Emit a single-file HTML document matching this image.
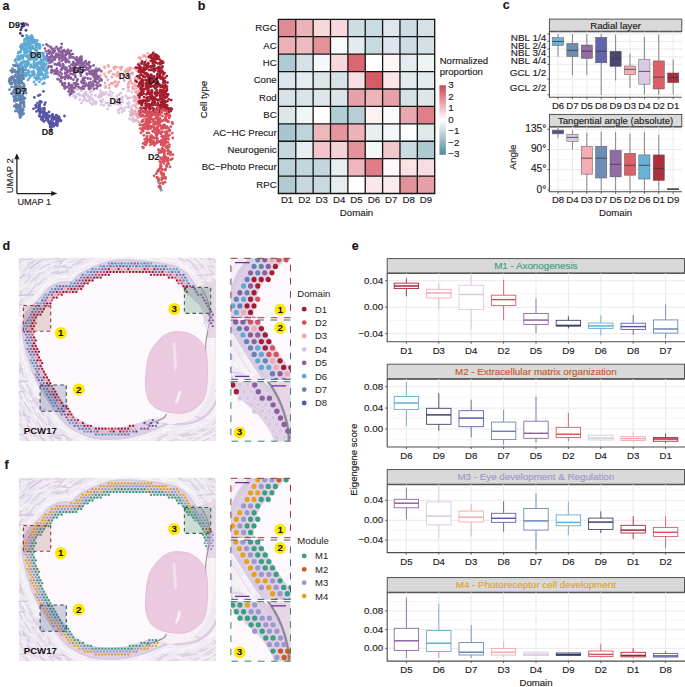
<!DOCTYPE html>
<html><head><meta charset="utf-8"><style>
html,body{margin:0;padding:0;background:#fff;}
svg{display:block;}
text{font-family:"Liberation Sans", sans-serif;}
</style></head><body>
<svg width="685" height="687" viewBox="0 0 685 687" font-family="Liberation Sans, sans-serif">
<rect width="685" height="687" fill="#fff"/>
<defs>
<clipPath id="imgclip"><rect x="18.8" y="257.8" width="197.1" height="183.2"/></clipPath>
<g id="tbase">
<rect x="18.8" y="257.8" width="197.1" height="183.2" fill="#efe9f1"/>
<path d="M58.1 357.5l9.8 0.7" stroke="#fbf9fc" stroke-opacity="0.6" stroke-width="1.1" stroke-linecap="round"/>
<path d="M134.2 424.3l11.1 0.4" stroke="#d6c6de" stroke-opacity="0.6" stroke-width="1.6" stroke-linecap="round"/>
<path d="M106.2 411.0l11.1 1.1" stroke="#d6c6de" stroke-opacity="0.6" stroke-width="0.8" stroke-linecap="round"/>
<path d="M40.2 427.4l9.5 -3.4" stroke="#cdbad7" stroke-opacity="0.6" stroke-width="0.7" stroke-linecap="round"/>
<path d="M207.1 265.6l14.8 3.4" stroke="#c4afd0" stroke-opacity="0.6" stroke-width="1.0" stroke-linecap="round"/>
<path d="M157.7 418.8l13.7 4.1" stroke="#e0d4e6" stroke-opacity="0.6" stroke-width="1.3" stroke-linecap="round"/>
<path d="M128.3 434.4l6.7 -0.6" stroke="#cdbad7" stroke-opacity="0.6" stroke-width="0.6" stroke-linecap="round"/>
<path d="M53.7 434.7l10.6 0.9" stroke="#c4afd0" stroke-opacity="0.6" stroke-width="1.0" stroke-linecap="round"/>
<path d="M181.4 363.0l11.9 -0.8" stroke="#d6c6de" stroke-opacity="0.6" stroke-width="1.5" stroke-linecap="round"/>
<path d="M150.0 428.0l15.2 5.4" stroke="#fbf9fc" stroke-opacity="0.6" stroke-width="1.3" stroke-linecap="round"/>
<path d="M153.5 317.6l12.0 0.6" stroke="#cdbad7" stroke-opacity="0.6" stroke-width="1.3" stroke-linecap="round"/>
<path d="M52.5 410.2l12.3 -1.9" stroke="#cdbad7" stroke-opacity="0.6" stroke-width="1.0" stroke-linecap="round"/>
<path d="M141.1 346.4l9.0 -2.8" stroke="#d6c6de" stroke-opacity="0.6" stroke-width="0.5" stroke-linecap="round"/>
<path d="M97.3 333.9l6.5 0.5" stroke="#cdbad7" stroke-opacity="0.6" stroke-width="0.9" stroke-linecap="round"/>
<path d="M130.2 358.7l16.8 -2.6" stroke="#d6c6de" stroke-opacity="0.6" stroke-width="1.6" stroke-linecap="round"/>
<path d="M72.9 271.9l12.1 -4.1" stroke="#d6c6de" stroke-opacity="0.6" stroke-width="1.6" stroke-linecap="round"/>
<path d="M69.2 306.0l13.2 4.6" stroke="#c4afd0" stroke-opacity="0.6" stroke-width="0.8" stroke-linecap="round"/>
<path d="M207.3 422.1l9.9 -0.3" stroke="#faf8fb" stroke-opacity="0.6" stroke-width="0.9" stroke-linecap="round"/>
<path d="M188.3 382.6l6.0 2.1" stroke="#faf8fb" stroke-opacity="0.6" stroke-width="0.8" stroke-linecap="round"/>
<path d="M140.2 388.9l17.2 -0.8" stroke="#c4afd0" stroke-opacity="0.6" stroke-width="1.1" stroke-linecap="round"/>
<path d="M122.4 259.9l10.4 0.6" stroke="#cdbad7" stroke-opacity="0.6" stroke-width="0.9" stroke-linecap="round"/>
<path d="M130.8 282.2l13.1 -1.5" stroke="#c4afd0" stroke-opacity="0.6" stroke-width="1.2" stroke-linecap="round"/>
<path d="M81.8 387.3l13.8 -4.8" stroke="#cdbad7" stroke-opacity="0.6" stroke-width="1.6" stroke-linecap="round"/>
<path d="M13.2 325.4l13.0 -1.8" stroke="#faf8fb" stroke-opacity="0.6" stroke-width="0.9" stroke-linecap="round"/>
<path d="M84.2 315.1l9.8 0.7" stroke="#c4afd0" stroke-opacity="0.6" stroke-width="1.4" stroke-linecap="round"/>
<path d="M30.5 406.8l17.5 2.3" stroke="#d6c6de" stroke-opacity="0.6" stroke-width="0.8" stroke-linecap="round"/>
<path d="M54.9 405.1l7.9 -1.8" stroke="#e0d4e6" stroke-opacity="0.6" stroke-width="1.2" stroke-linecap="round"/>
<path d="M28.9 367.9l17.2 2.1" stroke="#d6c6de" stroke-opacity="0.6" stroke-width="1.0" stroke-linecap="round"/>
<path d="M186.0 288.8l9.3 1.0" stroke="#faf8fb" stroke-opacity="0.6" stroke-width="1.0" stroke-linecap="round"/>
<path d="M55.4 280.0l11.6 -2.6" stroke="#faf8fb" stroke-opacity="0.6" stroke-width="0.7" stroke-linecap="round"/>
<path d="M66.5 405.7l13.0 2.8" stroke="#c4afd0" stroke-opacity="0.6" stroke-width="1.1" stroke-linecap="round"/>
<path d="M96.0 352.8l16.0 -0.4" stroke="#fbf9fc" stroke-opacity="0.6" stroke-width="1.0" stroke-linecap="round"/>
<path d="M95.7 332.8l16.5 -4.0" stroke="#cdbad7" stroke-opacity="0.6" stroke-width="1.0" stroke-linecap="round"/>
<path d="M181.2 371.9l11.6 0.5" stroke="#fbf9fc" stroke-opacity="0.6" stroke-width="0.7" stroke-linecap="round"/>
<path d="M163.2 411.1l13.6 0.2" stroke="#c4afd0" stroke-opacity="0.6" stroke-width="1.1" stroke-linecap="round"/>
<path d="M193.1 415.6l15.3 5.2" stroke="#cdbad7" stroke-opacity="0.6" stroke-width="1.4" stroke-linecap="round"/>
<path d="M18.1 423.3l13.4 4.1" stroke="#e0d4e6" stroke-opacity="0.6" stroke-width="1.1" stroke-linecap="round"/>
<path d="M11.5 394.3l7.2 -1.0" stroke="#fbf9fc" stroke-opacity="0.6" stroke-width="0.5" stroke-linecap="round"/>
<path d="M120.0 267.6l16.3 -4.5" stroke="#d6c6de" stroke-opacity="0.6" stroke-width="0.8" stroke-linecap="round"/>
<path d="M187.3 345.2l15.1 -1.6" stroke="#d6c6de" stroke-opacity="0.6" stroke-width="0.6" stroke-linecap="round"/>
<path d="M192.6 279.6l8.0 -1.3" stroke="#d6c6de" stroke-opacity="0.6" stroke-width="1.4" stroke-linecap="round"/>
<path d="M10.4 373.0l15.4 -5.0" stroke="#c4afd0" stroke-opacity="0.6" stroke-width="0.8" stroke-linecap="round"/>
<path d="M136.8 353.0l5.6 -0.7" stroke="#cdbad7" stroke-opacity="0.6" stroke-width="1.4" stroke-linecap="round"/>
<path d="M169.4 266.3l5.6 -0.1" stroke="#cdbad7" stroke-opacity="0.6" stroke-width="1.4" stroke-linecap="round"/>
<path d="M26.6 349.8l9.0 -1.2" stroke="#c4afd0" stroke-opacity="0.6" stroke-width="0.9" stroke-linecap="round"/>
<path d="M89.5 313.5l8.0 2.8" stroke="#e0d4e6" stroke-opacity="0.6" stroke-width="0.6" stroke-linecap="round"/>
<path d="M123.8 389.0l9.5 -2.9" stroke="#d6c6de" stroke-opacity="0.6" stroke-width="0.5" stroke-linecap="round"/>
<path d="M104.2 376.9l12.0 1.1" stroke="#cdbad7" stroke-opacity="0.6" stroke-width="1.2" stroke-linecap="round"/>
<path d="M98.2 326.0l11.3 1.6" stroke="#e0d4e6" stroke-opacity="0.6" stroke-width="1.5" stroke-linecap="round"/>
<path d="M95.4 261.1l7.7 -1.3" stroke="#faf8fb" stroke-opacity="0.6" stroke-width="0.6" stroke-linecap="round"/>
<path d="M96.8 335.8l15.7 4.9" stroke="#c4afd0" stroke-opacity="0.6" stroke-width="1.6" stroke-linecap="round"/>
<path d="M124.6 417.2l6.5 0.9" stroke="#fbf9fc" stroke-opacity="0.6" stroke-width="1.2" stroke-linecap="round"/>
<path d="M192.6 403.0l13.5 2.2" stroke="#faf8fb" stroke-opacity="0.6" stroke-width="1.1" stroke-linecap="round"/>
<path d="M176.9 389.1l11.0 -2.1" stroke="#e0d4e6" stroke-opacity="0.6" stroke-width="0.5" stroke-linecap="round"/>
<path d="M27.8 276.0l16.0 -3.7" stroke="#cdbad7" stroke-opacity="0.6" stroke-width="0.9" stroke-linecap="round"/>
<path d="M185.3 262.5l6.5 -0.1" stroke="#fbf9fc" stroke-opacity="0.6" stroke-width="1.5" stroke-linecap="round"/>
<path d="M128.7 404.1l5.4 1.0" stroke="#faf8fb" stroke-opacity="0.6" stroke-width="1.1" stroke-linecap="round"/>
<path d="M58.2 359.4l6.3 0.2" stroke="#faf8fb" stroke-opacity="0.6" stroke-width="0.9" stroke-linecap="round"/>
<path d="M125.6 409.5l7.9 -1.8" stroke="#d6c6de" stroke-opacity="0.6" stroke-width="1.0" stroke-linecap="round"/>
<path d="M153.8 430.5l8.3 0.6" stroke="#c4afd0" stroke-opacity="0.6" stroke-width="1.1" stroke-linecap="round"/>
<path d="M208.9 326.6l7.7 2.4" stroke="#fbf9fc" stroke-opacity="0.6" stroke-width="1.6" stroke-linecap="round"/>
<path d="M94.8 361.9l12.0 3.7" stroke="#fbf9fc" stroke-opacity="0.6" stroke-width="1.0" stroke-linecap="round"/>
<path d="M142.0 422.2l6.7 -1.9" stroke="#fbf9fc" stroke-opacity="0.6" stroke-width="1.0" stroke-linecap="round"/>
<path d="M153.5 432.0l12.2 3.1" stroke="#d6c6de" stroke-opacity="0.6" stroke-width="0.8" stroke-linecap="round"/>
<path d="M50.1 365.1l8.9 -1.7" stroke="#fbf9fc" stroke-opacity="0.6" stroke-width="1.1" stroke-linecap="round"/>
<path d="M170.2 380.8l16.1 1.1" stroke="#faf8fb" stroke-opacity="0.6" stroke-width="1.1" stroke-linecap="round"/>
<path d="M64.1 297.7l5.3 -0.1" stroke="#e0d4e6" stroke-opacity="0.6" stroke-width="0.7" stroke-linecap="round"/>
<path d="M126.8 301.6l10.9 2.8" stroke="#e0d4e6" stroke-opacity="0.6" stroke-width="1.6" stroke-linecap="round"/>
<path d="M108.1 367.5l10.8 2.6" stroke="#fbf9fc" stroke-opacity="0.6" stroke-width="1.1" stroke-linecap="round"/>
<path d="M108.5 389.8l16.1 -1.1" stroke="#fbf9fc" stroke-opacity="0.6" stroke-width="1.5" stroke-linecap="round"/>
<path d="M18.3 424.7l16.5 1.7" stroke="#fbf9fc" stroke-opacity="0.6" stroke-width="0.6" stroke-linecap="round"/>
<path d="M53.8 304.4l16.3 3.2" stroke="#d6c6de" stroke-opacity="0.6" stroke-width="0.7" stroke-linecap="round"/>
<path d="M154.8 415.1l16.5 -2.8" stroke="#cdbad7" stroke-opacity="0.6" stroke-width="0.8" stroke-linecap="round"/>
<path d="M96.5 391.3l5.9 -1.7" stroke="#c4afd0" stroke-opacity="0.6" stroke-width="0.5" stroke-linecap="round"/>
<path d="M102.5 392.3l8.9 -3.0" stroke="#c4afd0" stroke-opacity="0.6" stroke-width="1.0" stroke-linecap="round"/>
<path d="M109.4 296.3l12.0 4.0" stroke="#e0d4e6" stroke-opacity="0.6" stroke-width="0.6" stroke-linecap="round"/>
<path d="M74.8 419.6l6.0 -0.3" stroke="#e0d4e6" stroke-opacity="0.6" stroke-width="1.5" stroke-linecap="round"/>
<path d="M197.0 275.6l17.2 -1.5" stroke="#c4afd0" stroke-opacity="0.6" stroke-width="1.3" stroke-linecap="round"/>
<path d="M70.0 381.6l13.2 2.9" stroke="#c4afd0" stroke-opacity="0.6" stroke-width="0.6" stroke-linecap="round"/>
<path d="M204.4 319.8l12.4 0.2" stroke="#fbf9fc" stroke-opacity="0.6" stroke-width="1.0" stroke-linecap="round"/>
<path d="M81.7 389.4l13.8 0.6" stroke="#d6c6de" stroke-opacity="0.6" stroke-width="1.2" stroke-linecap="round"/>
<path d="M160.0 285.2l9.4 2.8" stroke="#e0d4e6" stroke-opacity="0.6" stroke-width="0.6" stroke-linecap="round"/>
<path d="M201.8 283.7l9.2 1.4" stroke="#faf8fb" stroke-opacity="0.6" stroke-width="1.0" stroke-linecap="round"/>
<path d="M71.0 292.0l11.1 2.2" stroke="#fbf9fc" stroke-opacity="0.6" stroke-width="0.6" stroke-linecap="round"/>
<path d="M157.0 396.0l11.9 2.0" stroke="#c4afd0" stroke-opacity="0.6" stroke-width="0.6" stroke-linecap="round"/>
<path d="M64.9 267.6l6.8 -0.1" stroke="#c4afd0" stroke-opacity="0.6" stroke-width="0.8" stroke-linecap="round"/>
<path d="M168.0 322.7l9.3 -0.6" stroke="#faf8fb" stroke-opacity="0.6" stroke-width="1.4" stroke-linecap="round"/>
<path d="M23.1 349.0l17.4 -4.3" stroke="#faf8fb" stroke-opacity="0.6" stroke-width="0.6" stroke-linecap="round"/>
<path d="M32.1 400.5l14.1 -3.2" stroke="#d6c6de" stroke-opacity="0.6" stroke-width="1.1" stroke-linecap="round"/>
<path d="M147.6 329.5l17.2 -4.6" stroke="#faf8fb" stroke-opacity="0.6" stroke-width="0.7" stroke-linecap="round"/>
<path d="M91.3 293.3l11.8 0.6" stroke="#d6c6de" stroke-opacity="0.6" stroke-width="1.5" stroke-linecap="round"/>
<path d="M85.3 311.5l15.9 -0.6" stroke="#e0d4e6" stroke-opacity="0.6" stroke-width="1.5" stroke-linecap="round"/>
<path d="M88.1 359.0l12.5 1.2" stroke="#faf8fb" stroke-opacity="0.6" stroke-width="1.3" stroke-linecap="round"/>
<path d="M70.8 415.4l11.3 0.8" stroke="#fbf9fc" stroke-opacity="0.6" stroke-width="1.2" stroke-linecap="round"/>
<path d="M31.1 396.3l7.8 -1.8" stroke="#fbf9fc" stroke-opacity="0.6" stroke-width="1.0" stroke-linecap="round"/>
<path d="M48.9 354.8l5.5 0.0" stroke="#fbf9fc" stroke-opacity="0.6" stroke-width="1.5" stroke-linecap="round"/>
<path d="M31.9 309.7l13.1 -3.3" stroke="#e0d4e6" stroke-opacity="0.6" stroke-width="1.4" stroke-linecap="round"/>
<path d="M137.9 267.1l9.5 -1.8" stroke="#cdbad7" stroke-opacity="0.6" stroke-width="1.0" stroke-linecap="round"/>
<path d="M12.7 320.0l9.2 -1.0" stroke="#fbf9fc" stroke-opacity="0.6" stroke-width="0.6" stroke-linecap="round"/>
<path d="M186.6 367.9l16.9 2.6" stroke="#fbf9fc" stroke-opacity="0.6" stroke-width="1.6" stroke-linecap="round"/>
<path d="M215.5 295.4l5.7 -1.2" stroke="#fbf9fc" stroke-opacity="0.6" stroke-width="1.3" stroke-linecap="round"/>
<path d="M109.2 277.8l5.3 -1.6" stroke="#d6c6de" stroke-opacity="0.6" stroke-width="1.3" stroke-linecap="round"/>
<path d="M89.9 344.5l5.7 1.4" stroke="#d6c6de" stroke-opacity="0.6" stroke-width="1.2" stroke-linecap="round"/>
<path d="M71.9 342.9l14.8 -1.0" stroke="#d6c6de" stroke-opacity="0.6" stroke-width="1.0" stroke-linecap="round"/>
<path d="M16.5 304.8l16.0 -0.6" stroke="#c4afd0" stroke-opacity="0.6" stroke-width="1.2" stroke-linecap="round"/>
<path d="M55.2 258.3l7.6 1.5" stroke="#d6c6de" stroke-opacity="0.6" stroke-width="1.4" stroke-linecap="round"/>
<path d="M119.4 286.9l5.3 0.3" stroke="#faf8fb" stroke-opacity="0.6" stroke-width="0.7" stroke-linecap="round"/>
<path d="M14.5 278.0l7.2 -0.0" stroke="#cdbad7" stroke-opacity="0.6" stroke-width="1.4" stroke-linecap="round"/>
<path d="M92.3 316.0l5.4 0.8" stroke="#d6c6de" stroke-opacity="0.6" stroke-width="0.9" stroke-linecap="round"/>
<path d="M90.9 262.7l17.2 -3.4" stroke="#cdbad7" stroke-opacity="0.6" stroke-width="0.9" stroke-linecap="round"/>
<path d="M48.3 318.8l6.2 1.9" stroke="#faf8fb" stroke-opacity="0.6" stroke-width="0.6" stroke-linecap="round"/>
<path d="M159.5 308.2l15.2 -0.4" stroke="#c4afd0" stroke-opacity="0.6" stroke-width="1.0" stroke-linecap="round"/>
<path d="M125.0 263.3l8.8 3.2" stroke="#c4afd0" stroke-opacity="0.6" stroke-width="0.6" stroke-linecap="round"/>
<path d="M150.1 435.4l11.9 -4.3" stroke="#cdbad7" stroke-opacity="0.6" stroke-width="1.2" stroke-linecap="round"/>
<path d="M12.8 350.0l11.0 -2.4" stroke="#faf8fb" stroke-opacity="0.6" stroke-width="1.5" stroke-linecap="round"/>
<path d="M50.4 436.2l10.9 2.4" stroke="#c4afd0" stroke-opacity="0.6" stroke-width="1.5" stroke-linecap="round"/>
<path d="M15.9 313.6l12.3 4.0" stroke="#cdbad7" stroke-opacity="0.6" stroke-width="1.5" stroke-linecap="round"/>
<path d="M46.9 333.5l11.6 0.4" stroke="#faf8fb" stroke-opacity="0.6" stroke-width="1.2" stroke-linecap="round"/>
<path d="M201.1 289.8l14.4 2.4" stroke="#faf8fb" stroke-opacity="0.6" stroke-width="0.9" stroke-linecap="round"/>
<path d="M46.9 404.7l10.7 -0.4" stroke="#fbf9fc" stroke-opacity="0.6" stroke-width="1.0" stroke-linecap="round"/>
<path d="M64.6 288.9l14.3 1.1" stroke="#fbf9fc" stroke-opacity="0.6" stroke-width="1.3" stroke-linecap="round"/>
<path d="M205.4 265.6l7.1 1.3" stroke="#e0d4e6" stroke-opacity="0.6" stroke-width="0.6" stroke-linecap="round"/>
<path d="M152.1 378.8l9.1 0.6" stroke="#fbf9fc" stroke-opacity="0.6" stroke-width="0.6" stroke-linecap="round"/>
<path d="M135.6 266.6l10.7 2.8" stroke="#fbf9fc" stroke-opacity="0.6" stroke-width="0.9" stroke-linecap="round"/>
<path d="M85.4 271.0l9.7 3.2" stroke="#cdbad7" stroke-opacity="0.6" stroke-width="0.9" stroke-linecap="round"/>
<path d="M73.3 340.3l15.4 -3.2" stroke="#fbf9fc" stroke-opacity="0.6" stroke-width="0.6" stroke-linecap="round"/>
<path d="M40.4 375.9l11.9 -4.2" stroke="#d6c6de" stroke-opacity="0.6" stroke-width="0.8" stroke-linecap="round"/>
<path d="M52.0 413.7l11.7 0.0" stroke="#faf8fb" stroke-opacity="0.6" stroke-width="0.9" stroke-linecap="round"/>
<path d="M191.6 401.1l11.0 0.9" stroke="#cdbad7" stroke-opacity="0.6" stroke-width="1.4" stroke-linecap="round"/>
<path d="M32.1 262.2l17.2 -3.7" stroke="#c4afd0" stroke-opacity="0.6" stroke-width="0.6" stroke-linecap="round"/>
<path d="M105.2 298.6l15.7 1.3" stroke="#fbf9fc" stroke-opacity="0.6" stroke-width="1.0" stroke-linecap="round"/>
<path d="M147.2 385.9l10.2 1.2" stroke="#cdbad7" stroke-opacity="0.6" stroke-width="0.8" stroke-linecap="round"/>
<path d="M204.5 339.1l9.6 -2.6" stroke="#cdbad7" stroke-opacity="0.6" stroke-width="1.0" stroke-linecap="round"/>
<path d="M159.6 272.0l9.5 -0.1" stroke="#cdbad7" stroke-opacity="0.6" stroke-width="1.5" stroke-linecap="round"/>
<path d="M150.9 324.6l14.5 -4.5" stroke="#faf8fb" stroke-opacity="0.6" stroke-width="0.7" stroke-linecap="round"/>
<path d="M81.4 440.2l9.3 -0.5" stroke="#cdbad7" stroke-opacity="0.6" stroke-width="0.8" stroke-linecap="round"/>
<path d="M75.7 395.1l7.5 -1.5" stroke="#fbf9fc" stroke-opacity="0.6" stroke-width="1.2" stroke-linecap="round"/>
<path d="M201.7 355.9l9.9 3.2" stroke="#faf8fb" stroke-opacity="0.6" stroke-width="1.5" stroke-linecap="round"/>
<path d="M109.1 399.5l9.7 3.5" stroke="#cdbad7" stroke-opacity="0.6" stroke-width="0.8" stroke-linecap="round"/>
<path d="M202.3 291.6l6.2 1.0" stroke="#c4afd0" stroke-opacity="0.6" stroke-width="1.1" stroke-linecap="round"/>
<path d="M21.5 344.3l7.4 -1.5" stroke="#e0d4e6" stroke-opacity="0.6" stroke-width="1.0" stroke-linecap="round"/>
<path d="M80.2 393.8l14.5 -2.2" stroke="#cdbad7" stroke-opacity="0.6" stroke-width="1.0" stroke-linecap="round"/>
<path d="M196.9 339.1l7.7 -0.1" stroke="#fbf9fc" stroke-opacity="0.6" stroke-width="0.8" stroke-linecap="round"/>
<path d="M86.5 405.5l12.6 4.0" stroke="#e0d4e6" stroke-opacity="0.6" stroke-width="0.8" stroke-linecap="round"/>
<path d="M104.7 354.2l12.0 -1.2" stroke="#c4afd0" stroke-opacity="0.6" stroke-width="0.8" stroke-linecap="round"/>
<path d="M104.7 420.3l15.3 -2.2" stroke="#d6c6de" stroke-opacity="0.6" stroke-width="1.5" stroke-linecap="round"/>
<path d="M116.4 260.4l12.8 -3.2" stroke="#cdbad7" stroke-opacity="0.6" stroke-width="0.7" stroke-linecap="round"/>
<path d="M19.2 295.2l15.0 -0.4" stroke="#c4afd0" stroke-opacity="0.6" stroke-width="1.6" stroke-linecap="round"/>
<path d="M16.1 291.7l5.2 -0.2" stroke="#c4afd0" stroke-opacity="0.6" stroke-width="1.4" stroke-linecap="round"/>
<path d="M133.8 406.4l10.7 -1.8" stroke="#fbf9fc" stroke-opacity="0.6" stroke-width="1.4" stroke-linecap="round"/>
<path d="M95.4 305.5l5.6 -0.3" stroke="#fbf9fc" stroke-opacity="0.6" stroke-width="1.6" stroke-linecap="round"/>
<path d="M43.1 397.3l11.7 3.8" stroke="#fbf9fc" stroke-opacity="0.6" stroke-width="1.3" stroke-linecap="round"/>
<path d="M172.3 351.0l15.8 0.6" stroke="#c4afd0" stroke-opacity="0.6" stroke-width="0.5" stroke-linecap="round"/>
<path d="M18.2 346.8l5.6 1.3" stroke="#e0d4e6" stroke-opacity="0.6" stroke-width="1.0" stroke-linecap="round"/>
<path d="M146.6 427.9l15.5 1.1" stroke="#e0d4e6" stroke-opacity="0.6" stroke-width="0.9" stroke-linecap="round"/>
<path d="M139.7 311.6l5.8 -1.5" stroke="#faf8fb" stroke-opacity="0.6" stroke-width="0.6" stroke-linecap="round"/>
<path d="M169.1 339.2l8.5 -1.5" stroke="#c4afd0" stroke-opacity="0.6" stroke-width="1.6" stroke-linecap="round"/>
<path d="M41.0 315.5l11.8 -0.7" stroke="#d6c6de" stroke-opacity="0.6" stroke-width="1.4" stroke-linecap="round"/>
<path d="M201.7 370.0l5.4 0.3" stroke="#faf8fb" stroke-opacity="0.6" stroke-width="0.6" stroke-linecap="round"/>
<path d="M34.7 401.7l14.6 -2.4" stroke="#e0d4e6" stroke-opacity="0.6" stroke-width="1.2" stroke-linecap="round"/>
<path d="M85.7 352.1l15.8 5.3" stroke="#fbf9fc" stroke-opacity="0.6" stroke-width="1.0" stroke-linecap="round"/>
<path d="M73.3 321.2l12.9 4.1" stroke="#e0d4e6" stroke-opacity="0.6" stroke-width="0.8" stroke-linecap="round"/>
<path d="M64.9 431.8l17.1 -2.2" stroke="#e0d4e6" stroke-opacity="0.6" stroke-width="1.1" stroke-linecap="round"/>
<path d="M16.2 334.3l10.0 2.9" stroke="#e0d4e6" stroke-opacity="0.6" stroke-width="0.8" stroke-linecap="round"/>
<path d="M50.2 272.4l11.7 2.0" stroke="#cdbad7" stroke-opacity="0.6" stroke-width="1.2" stroke-linecap="round"/>
<path d="M178.2 258.8l8.2 2.8" stroke="#cdbad7" stroke-opacity="0.6" stroke-width="1.0" stroke-linecap="round"/>
<path d="M212.6 342.4l8.8 0.4" stroke="#d6c6de" stroke-opacity="0.6" stroke-width="0.8" stroke-linecap="round"/>
<path d="M207.1 284.2l16.3 -3.7" stroke="#e0d4e6" stroke-opacity="0.6" stroke-width="1.2" stroke-linecap="round"/>
<path d="M142.8 283.9l5.6 1.0" stroke="#d6c6de" stroke-opacity="0.6" stroke-width="0.8" stroke-linecap="round"/>
<path d="M143.1 281.8l6.9 0.1" stroke="#d6c6de" stroke-opacity="0.6" stroke-width="1.1" stroke-linecap="round"/>
<path d="M88.0 277.4l9.5 3.4" stroke="#c4afd0" stroke-opacity="0.6" stroke-width="0.6" stroke-linecap="round"/>
<path d="M32.6 311.8l9.5 3.0" stroke="#faf8fb" stroke-opacity="0.6" stroke-width="0.6" stroke-linecap="round"/>
<path d="M48.6 429.9l17.0 5.9" stroke="#d6c6de" stroke-opacity="0.6" stroke-width="0.6" stroke-linecap="round"/>
<path d="M121.9 421.8l6.2 1.5" stroke="#e0d4e6" stroke-opacity="0.6" stroke-width="0.5" stroke-linecap="round"/>
<path d="M80.3 394.9l15.1 0.7" stroke="#e0d4e6" stroke-opacity="0.6" stroke-width="1.1" stroke-linecap="round"/>
<path d="M72.0 285.1l10.9 -0.9" stroke="#faf8fb" stroke-opacity="0.6" stroke-width="0.8" stroke-linecap="round"/>
<path d="M164.0 394.8l8.6 2.2" stroke="#d6c6de" stroke-opacity="0.6" stroke-width="0.8" stroke-linecap="round"/>
<path d="M182.8 281.7l12.2 -3.9" stroke="#faf8fb" stroke-opacity="0.6" stroke-width="1.5" stroke-linecap="round"/>
<path d="M32.5 260.4l16.0 3.3" stroke="#faf8fb" stroke-opacity="0.6" stroke-width="1.3" stroke-linecap="round"/>
<path d="M117.6 398.1l6.2 0.2" stroke="#e0d4e6" stroke-opacity="0.6" stroke-width="0.9" stroke-linecap="round"/>
<path d="M131.1 297.8l10.9 0.5" stroke="#fbf9fc" stroke-opacity="0.6" stroke-width="0.8" stroke-linecap="round"/>
<path d="M83.0 367.9l16.9 5.3" stroke="#fbf9fc" stroke-opacity="0.6" stroke-width="1.4" stroke-linecap="round"/>
<path d="M68.2 436.7l8.2 -2.2" stroke="#faf8fb" stroke-opacity="0.6" stroke-width="0.7" stroke-linecap="round"/>
<path d="M215.0 391.3l8.2 -0.4" stroke="#c4afd0" stroke-opacity="0.6" stroke-width="1.0" stroke-linecap="round"/>
<path d="M107.8 355.2l15.4 5.5" stroke="#faf8fb" stroke-opacity="0.6" stroke-width="1.1" stroke-linecap="round"/>
<path d="M214.8 267.2l10.4 0.4" stroke="#faf8fb" stroke-opacity="0.6" stroke-width="1.4" stroke-linecap="round"/>
<path d="M21.1 414.3l9.4 3.3" stroke="#c4afd0" stroke-opacity="0.6" stroke-width="1.1" stroke-linecap="round"/>
<path d="M20.3 348.3l6.4 1.1" stroke="#e0d4e6" stroke-opacity="0.6" stroke-width="1.3" stroke-linecap="round"/>
<path d="M83.7 312.9l11.5 -0.8" stroke="#c4afd0" stroke-opacity="0.6" stroke-width="1.5" stroke-linecap="round"/>
<path d="M150.7 276.9l11.3 -1.4" stroke="#cdbad7" stroke-opacity="0.6" stroke-width="0.9" stroke-linecap="round"/>
<path d="M136.1 283.4l6.0 -0.8" stroke="#c4afd0" stroke-opacity="0.6" stroke-width="0.7" stroke-linecap="round"/>
<path d="M14.7 392.1l9.1 -0.4" stroke="#c4afd0" stroke-opacity="0.6" stroke-width="1.4" stroke-linecap="round"/>
<path d="M182.3 425.1l10.7 1.4" stroke="#cdbad7" stroke-opacity="0.6" stroke-width="1.1" stroke-linecap="round"/>
<path d="M200.9 299.0l6.7 -0.9" stroke="#faf8fb" stroke-opacity="0.6" stroke-width="0.7" stroke-linecap="round"/>
<path d="M179.4 367.5l5.8 -2.0" stroke="#c4afd0" stroke-opacity="0.6" stroke-width="0.9" stroke-linecap="round"/>
<path d="M110.3 438.4l10.8 -2.8" stroke="#d6c6de" stroke-opacity="0.6" stroke-width="1.1" stroke-linecap="round"/>
<path d="M98.3 373.0l13.6 -0.6" stroke="#cdbad7" stroke-opacity="0.6" stroke-width="1.2" stroke-linecap="round"/>
<path d="M163.2 418.6l5.6 1.5" stroke="#fbf9fc" stroke-opacity="0.6" stroke-width="1.6" stroke-linecap="round"/>
<path d="M22.5 259.5l11.2 -0.6" stroke="#cdbad7" stroke-opacity="0.6" stroke-width="1.4" stroke-linecap="round"/>
<path d="M77.5 334.5l12.1 3.3" stroke="#d6c6de" stroke-opacity="0.6" stroke-width="1.2" stroke-linecap="round"/>
<path d="M207.2 267.3l11.3 3.3" stroke="#faf8fb" stroke-opacity="0.6" stroke-width="1.1" stroke-linecap="round"/>
<path d="M127.7 273.4l8.0 -0.2" stroke="#faf8fb" stroke-opacity="0.6" stroke-width="0.9" stroke-linecap="round"/>
<path d="M80.0 341.3l17.2 -3.3" stroke="#faf8fb" stroke-opacity="0.6" stroke-width="0.8" stroke-linecap="round"/>
<path d="M195.2 282.1l11.9 1.0" stroke="#c4afd0" stroke-opacity="0.6" stroke-width="0.8" stroke-linecap="round"/>
<path d="M186.9 364.9l14.4 0.3" stroke="#e0d4e6" stroke-opacity="0.6" stroke-width="0.6" stroke-linecap="round"/>
<path d="M98.4 315.0l7.3 1.9" stroke="#d6c6de" stroke-opacity="0.6" stroke-width="0.7" stroke-linecap="round"/>
<path d="M30.3 341.5l17.1 0.0" stroke="#d6c6de" stroke-opacity="0.6" stroke-width="0.8" stroke-linecap="round"/>
<path d="M165.1 317.7l7.9 2.2" stroke="#fbf9fc" stroke-opacity="0.6" stroke-width="1.4" stroke-linecap="round"/>
<path d="M20.6 331.3l9.8 -2.3" stroke="#c4afd0" stroke-opacity="0.6" stroke-width="0.9" stroke-linecap="round"/>
<path d="M19.7 434.7l14.2 -3.0" stroke="#c4afd0" stroke-opacity="0.6" stroke-width="1.0" stroke-linecap="round"/>
<path d="M125.8 302.8l13.8 -2.8" stroke="#fbf9fc" stroke-opacity="0.6" stroke-width="0.9" stroke-linecap="round"/>
<path d="M56.9 383.1l11.9 0.8" stroke="#e0d4e6" stroke-opacity="0.6" stroke-width="1.2" stroke-linecap="round"/>
<path d="M138.9 338.8l5.6 1.1" stroke="#e0d4e6" stroke-opacity="0.6" stroke-width="1.0" stroke-linecap="round"/>
<path d="M128.7 307.0l16.5 2.2" stroke="#d6c6de" stroke-opacity="0.6" stroke-width="0.9" stroke-linecap="round"/>
<path d="M112.5 346.7l10.2 0.9" stroke="#d6c6de" stroke-opacity="0.6" stroke-width="0.6" stroke-linecap="round"/>
<path d="M95.6 416.1l6.8 -0.9" stroke="#c4afd0" stroke-opacity="0.6" stroke-width="1.1" stroke-linecap="round"/>
<path d="M185.0 345.3l11.6 3.0" stroke="#e0d4e6" stroke-opacity="0.6" stroke-width="0.9" stroke-linecap="round"/>
<path d="M17.5 321.4l13.2 1.1" stroke="#fbf9fc" stroke-opacity="0.6" stroke-width="1.3" stroke-linecap="round"/>
<path d="M123.2 313.3l16.0 4.4" stroke="#faf8fb" stroke-opacity="0.6" stroke-width="0.9" stroke-linecap="round"/>
<path d="M93.7 427.0l12.9 3.9" stroke="#e0d4e6" stroke-opacity="0.6" stroke-width="1.2" stroke-linecap="round"/>
<path d="M161.0 322.0l11.2 0.5" stroke="#d6c6de" stroke-opacity="0.6" stroke-width="0.8" stroke-linecap="round"/>
<path d="M48.0 410.6l14.2 -1.8" stroke="#d6c6de" stroke-opacity="0.6" stroke-width="0.9" stroke-linecap="round"/>
<path d="M158.9 289.4l9.9 -2.1" stroke="#e0d4e6" stroke-opacity="0.6" stroke-width="1.1" stroke-linecap="round"/>
<path d="M84.5 390.4l12.8 1.8" stroke="#d6c6de" stroke-opacity="0.6" stroke-width="1.1" stroke-linecap="round"/>
<path d="M43.4 276.3l11.5 3.5" stroke="#faf8fb" stroke-opacity="0.6" stroke-width="1.1" stroke-linecap="round"/>
<path d="M91.1 269.9l8.5 -1.1" stroke="#c4afd0" stroke-opacity="0.6" stroke-width="0.6" stroke-linecap="round"/>
<path d="M205.1 345.1l10.5 -1.8" stroke="#fbf9fc" stroke-opacity="0.6" stroke-width="0.7" stroke-linecap="round"/>
<path d="M127.1 351.4l7.5 -1.5" stroke="#c4afd0" stroke-opacity="0.6" stroke-width="1.4" stroke-linecap="round"/>
<path d="M160.7 423.2l6.2 0.9" stroke="#cdbad7" stroke-opacity="0.6" stroke-width="0.7" stroke-linecap="round"/>
<path d="M103.5 436.3l9.1 1.7" stroke="#d6c6de" stroke-opacity="0.6" stroke-width="0.5" stroke-linecap="round"/>
<path d="M110.5 440.1l6.5 1.9" stroke="#e0d4e6" stroke-opacity="0.6" stroke-width="1.3" stroke-linecap="round"/>
<path d="M113.2 383.7l10.3 2.2" stroke="#c4afd0" stroke-opacity="0.6" stroke-width="0.8" stroke-linecap="round"/>
<path d="M65.2 422.9l6.6 -2.3" stroke="#e0d4e6" stroke-opacity="0.6" stroke-width="1.2" stroke-linecap="round"/>
<path d="M52.6 396.7l11.0 3.6" stroke="#fbf9fc" stroke-opacity="0.6" stroke-width="1.3" stroke-linecap="round"/>
<path d="M85.9 265.8l12.1 2.1" stroke="#c4afd0" stroke-opacity="0.6" stroke-width="0.7" stroke-linecap="round"/>
<path d="M41.6 437.4l14.6 -0.2" stroke="#fbf9fc" stroke-opacity="0.6" stroke-width="0.8" stroke-linecap="round"/>
<path d="M33.0 319.5l15.4 2.5" stroke="#c4afd0" stroke-opacity="0.6" stroke-width="0.7" stroke-linecap="round"/>
<path d="M138.2 419.8l6.4 -2.3" stroke="#cdbad7" stroke-opacity="0.6" stroke-width="1.2" stroke-linecap="round"/>
<path d="M116.2 387.5l12.1 1.4" stroke="#e0d4e6" stroke-opacity="0.6" stroke-width="0.8" stroke-linecap="round"/>
<path d="M154.0 258.2l8.6 1.2" stroke="#d6c6de" stroke-opacity="0.6" stroke-width="0.5" stroke-linecap="round"/>
<path d="M78.5 390.9l15.8 -1.5" stroke="#cdbad7" stroke-opacity="0.6" stroke-width="1.4" stroke-linecap="round"/>
<path d="M89.3 405.4l10.7 1.3" stroke="#c4afd0" stroke-opacity="0.6" stroke-width="1.2" stroke-linecap="round"/>
<path d="M100.2 301.1l5.0 -1.0" stroke="#d6c6de" stroke-opacity="0.6" stroke-width="1.0" stroke-linecap="round"/>
<path d="M28.7 315.6l12.4 0.4" stroke="#faf8fb" stroke-opacity="0.6" stroke-width="0.8" stroke-linecap="round"/>
<path d="M28.8 332.2l12.4 -2.4" stroke="#e0d4e6" stroke-opacity="0.6" stroke-width="1.1" stroke-linecap="round"/>
<path d="M63.8 397.4l12.7 1.5" stroke="#fbf9fc" stroke-opacity="0.6" stroke-width="0.7" stroke-linecap="round"/>
<path d="M130.2 374.5l15.0 -3.4" stroke="#e0d4e6" stroke-opacity="0.6" stroke-width="1.1" stroke-linecap="round"/>
<path d="M29.5 427.6l12.5 1.1" stroke="#e0d4e6" stroke-opacity="0.6" stroke-width="1.1" stroke-linecap="round"/>
<path d="M72.7 353.4l7.9 0.1" stroke="#c4afd0" stroke-opacity="0.6" stroke-width="0.6" stroke-linecap="round"/>
<path d="M112.2 345.7l7.9 2.4" stroke="#e0d4e6" stroke-opacity="0.6" stroke-width="0.5" stroke-linecap="round"/>
<path d="M13.6 371.7l5.8 0.0" stroke="#e0d4e6" stroke-opacity="0.6" stroke-width="1.5" stroke-linecap="round"/>
<path d="M18.7 381.5l9.0 -0.2" stroke="#c4afd0" stroke-opacity="0.6" stroke-width="1.4" stroke-linecap="round"/>
<path d="M174.9 314.4l12.3 -0.8" stroke="#fbf9fc" stroke-opacity="0.6" stroke-width="0.5" stroke-linecap="round"/>
<path d="M208.5 292.9l6.0 1.0" stroke="#faf8fb" stroke-opacity="0.6" stroke-width="1.3" stroke-linecap="round"/>
<path d="M158.4 283.2l6.8 2.3" stroke="#c4afd0" stroke-opacity="0.6" stroke-width="1.1" stroke-linecap="round"/>
<path d="M208.1 258.9l5.8 0.7" stroke="#cdbad7" stroke-opacity="0.6" stroke-width="1.0" stroke-linecap="round"/>
<path d="M156.0 360.5l10.1 -0.2" stroke="#faf8fb" stroke-opacity="0.6" stroke-width="1.5" stroke-linecap="round"/>
<path d="M75.7 346.0l13.0 2.6" stroke="#fbf9fc" stroke-opacity="0.6" stroke-width="0.8" stroke-linecap="round"/>
<path d="M82.9 377.0l13.9 4.6" stroke="#e0d4e6" stroke-opacity="0.6" stroke-width="1.3" stroke-linecap="round"/>
<path d="M157.9 367.7l12.8 4.7" stroke="#cdbad7" stroke-opacity="0.6" stroke-width="1.2" stroke-linecap="round"/>
<path d="M215.5 321.8C215.5 320.7 215.6 317.5 215.2 315.1C214.9 312.8 214.5 309.9 213.5 307.5C212.6 305.0 211.1 302.7 209.6 300.4C208.1 298.1 206.3 295.8 204.3 293.7C202.3 291.5 199.5 289.6 197.5 287.6C195.6 285.5 194.3 283.7 192.5 281.5C190.7 279.2 189.3 276.2 186.9 274.0C184.4 271.7 181.1 269.4 177.9 267.8C174.7 266.3 171.3 265.7 167.6 264.8C164.0 263.9 160.1 263.1 156.1 262.5C152.1 261.9 147.9 261.4 143.6 261.0C139.2 260.7 134.5 260.5 130.2 260.4C125.8 260.3 121.4 260.1 117.4 260.4C113.4 260.8 109.4 261.6 106.2 262.4C103.1 263.2 100.6 264.5 98.5 265.2C96.5 266.0 95.8 266.2 93.7 267.1C91.6 268.0 88.4 269.4 86.0 270.7C83.6 272.0 81.2 273.2 79.2 274.7C77.2 276.2 75.2 278.5 74.0 279.7C72.7 280.8 72.6 281.4 71.5 281.8C70.4 282.2 69.4 281.9 67.5 282.0C65.6 282.1 63.0 281.6 60.1 282.5C57.2 283.4 52.7 285.4 49.9 287.3C47.1 289.2 45.4 292.0 43.4 294.1C41.5 296.2 40.0 298.0 38.2 299.9C36.5 301.7 34.7 303.3 32.9 305.2C31.1 307.2 28.9 309.3 27.4 311.7C25.9 314.1 24.7 316.9 23.8 319.6C23.0 322.3 22.5 325.1 22.3 327.8C22.1 330.5 22.5 333.2 22.9 335.7C23.2 338.3 23.6 340.3 24.2 343.2C24.8 346.1 25.6 349.9 26.5 353.1C27.4 356.3 28.7 359.6 29.6 362.6C30.6 365.5 31.2 368.1 32.2 371.0C33.3 373.8 34.7 376.8 36.1 379.7C37.4 382.6 38.8 385.4 40.4 388.2C42.0 391.1 43.9 393.9 45.7 396.7C47.4 399.5 49.1 402.4 50.9 405.0C52.6 407.6 54.4 409.9 56.2 412.4C58.0 414.8 59.5 417.3 61.8 419.7C64.1 422.2 66.6 424.9 70.0 427.2C73.4 429.6 78.0 432.1 82.3 433.9C86.5 435.8 91.1 437.3 95.8 438.2C100.4 439.0 105.3 439.0 110.0 439.0C114.7 439.0 119.9 438.7 123.9 438.2C127.8 437.7 130.2 436.9 133.7 436.0C137.3 435.1 141.8 433.9 145.1 432.9C148.4 431.8 150.7 430.8 153.6 429.7C156.4 428.6 159.9 427.0 162.4 426.1C164.9 425.1 165.7 424.2 168.7 424.0C171.7 423.7 176.1 424.9 180.6 424.5C185.0 424.1 190.8 423.5 195.6 421.5C200.3 419.6 205.4 416.7 209.1 412.8C212.8 408.9 215.7 404.1 217.7 398.1C219.7 392.1 220.3 383.7 221.0 376.6C221.6 369.5 221.8 362.4 221.5 355.7C221.2 349.1 220.3 342.4 219.4 336.8C218.4 331.2 216.4 324.7 215.8 322.3Z" stroke="#d5c6de" stroke-width="0.8" fill="none" stroke-dasharray="8.4 14.1 18.5 10.7 10.3 10.2" stroke-opacity="0.85"/>
<path d="M216.9 321.7C216.8 320.6 217.0 317.4 216.6 315.0C216.3 312.5 215.8 309.6 214.8 307.0C213.8 304.4 212.3 302.0 210.7 299.6C209.1 297.2 207.3 294.9 205.3 292.7C203.2 290.6 200.5 288.6 198.5 286.6C196.6 284.6 195.4 282.9 193.6 280.6C191.8 278.4 190.3 275.3 187.8 273.0C185.3 270.6 181.8 268.2 178.5 266.6C175.2 265.0 171.7 264.4 168.0 263.5C164.3 262.5 160.3 261.8 156.3 261.1C152.2 260.5 148.0 260.0 143.7 259.6C139.3 259.3 134.6 259.1 130.2 259.0C125.8 258.9 121.4 258.7 117.3 259.1C113.3 259.4 109.1 260.3 105.9 261.1C102.7 261.9 100.2 263.2 98.1 264.0C95.9 264.7 95.3 264.9 93.2 265.8C91.1 266.7 87.8 268.2 85.3 269.5C82.9 270.8 80.4 272.1 78.3 273.6C76.3 275.1 74.3 277.5 73.1 278.6C71.8 279.8 72.0 280.1 71.0 280.5C70.1 280.8 69.3 280.5 67.4 280.6C65.5 280.8 62.7 280.2 59.7 281.1C56.7 282.1 52.0 284.2 49.1 286.2C46.2 288.2 44.4 291.0 42.4 293.1C40.4 295.3 39.0 297.1 37.2 298.9C35.5 300.8 33.7 302.3 31.9 304.3C30.0 306.3 27.8 308.5 26.2 311.0C24.7 313.5 23.4 316.4 22.5 319.2C21.6 322.0 21.1 325.0 20.9 327.8C20.8 330.5 21.2 333.3 21.5 335.9C21.8 338.5 22.3 340.6 22.9 343.5C23.5 346.4 24.2 350.2 25.1 353.5C26.0 356.7 27.4 360.0 28.3 363.0C29.3 366.0 29.9 368.6 31.0 371.4C32.0 374.3 33.5 377.4 34.8 380.3C36.2 383.2 37.6 386.1 39.2 388.9C40.8 391.8 42.7 394.6 44.5 397.4C46.3 400.3 48.0 403.1 49.7 405.8C51.5 408.4 53.2 410.7 55.1 413.2C56.9 415.7 58.5 418.1 60.8 420.7C63.2 423.2 65.7 426.0 69.2 428.4C72.7 430.8 77.3 433.3 81.7 435.2C86.1 437.1 90.8 438.7 95.5 439.5C100.2 440.4 105.2 440.4 110.0 440.4C114.8 440.4 120.0 440.1 124.1 439.6C128.1 439.1 130.5 438.2 134.1 437.3C137.6 436.4 142.2 435.2 145.5 434.2C148.9 433.1 151.2 432.1 154.1 431.0C157.0 429.9 160.4 428.3 162.9 427.4C165.3 426.4 165.9 425.6 168.8 425.3C171.8 425.1 176.1 426.3 180.7 425.9C185.2 425.4 191.2 424.8 196.1 422.8C201.0 420.8 206.3 417.8 210.1 413.8C213.9 409.7 217.0 404.7 219.0 398.5C221.0 392.3 221.7 383.9 222.3 376.7C223.0 369.6 223.1 362.4 222.9 355.7C222.6 349.0 221.7 342.2 220.8 336.6C219.8 331.0 217.7 324.4 217.1 322.0Z" stroke="#f7f4f8" stroke-width="0.8" fill="none" stroke-dasharray="3.7 15.5 15.8 9.2 15.3 7.6" stroke-opacity="0.85"/>
<path d="M217.9 321.7C217.8 320.5 218.0 317.3 217.6 314.8C217.3 312.3 216.8 309.3 215.8 306.6C214.8 304.0 213.2 301.5 211.6 299.0C210.0 296.6 208.1 294.2 206.0 292.0C204.0 289.8 201.2 287.9 199.3 285.9C197.3 283.9 196.2 282.3 194.4 280.0C192.6 277.7 191.1 274.6 188.5 272.2C186.0 269.9 182.3 267.3 178.9 265.7C175.6 264.0 171.9 263.4 168.2 262.5C164.4 261.5 160.5 260.8 156.5 260.1C152.4 259.5 148.1 259.0 143.7 258.6C139.4 258.3 134.6 258.1 130.2 258.0C125.8 257.9 121.3 257.7 117.2 258.0C113.1 258.4 108.9 259.3 105.6 260.1C102.4 260.9 99.9 262.2 97.7 263.0C95.6 263.8 94.9 263.9 92.8 264.9C90.6 265.8 87.4 267.2 84.9 268.6C82.4 269.9 79.8 271.3 77.7 272.8C75.7 274.4 73.6 276.7 72.4 277.8C71.2 279.0 71.5 279.2 70.7 279.5C69.8 279.8 69.2 279.5 67.3 279.6C65.4 279.7 62.5 279.2 59.4 280.2C56.3 281.1 51.5 283.3 48.5 285.4C45.6 287.4 43.7 290.3 41.7 292.5C39.7 294.6 38.2 296.4 36.5 298.2C34.7 300.1 33.0 301.6 31.1 303.6C29.3 305.6 27.0 307.9 25.4 310.4C23.8 313.0 22.4 316.0 21.5 318.9C20.6 321.8 20.1 324.8 19.9 327.7C19.7 330.6 20.2 333.4 20.5 336.0C20.8 338.7 21.3 340.8 21.9 343.7C22.5 346.7 23.2 350.5 24.2 353.7C25.1 357.0 26.4 360.3 27.4 363.3C28.3 366.3 28.9 368.9 30.0 371.8C31.1 374.7 32.5 377.8 33.9 380.7C35.3 383.7 36.7 386.5 38.3 389.4C39.9 392.3 41.9 395.2 43.6 398.0C45.4 400.8 47.1 403.7 48.9 406.3C50.7 409.0 52.4 411.3 54.3 413.8C56.1 416.3 57.7 418.8 60.1 421.4C62.5 423.9 65.1 426.8 68.6 429.2C72.2 431.7 76.9 434.3 81.3 436.1C85.8 438.0 90.6 439.7 95.3 440.5C100.1 441.4 105.2 441.4 110.0 441.4C114.8 441.4 120.1 441.1 124.2 440.6C128.2 440.1 130.7 439.2 134.3 438.3C137.9 437.4 142.5 436.2 145.8 435.2C149.2 434.1 151.5 433.1 154.4 431.9C157.3 430.8 160.8 429.3 163.2 428.3C165.6 427.4 166.0 426.6 168.9 426.3C171.9 426.1 176.2 427.3 180.7 426.9C185.3 426.4 191.4 425.8 196.5 423.7C201.5 421.7 206.9 418.6 210.8 414.5C214.7 410.3 217.9 405.1 220.0 398.8C222.1 392.5 222.7 384.0 223.4 376.8C224.0 369.6 224.2 362.4 223.9 355.6C223.6 348.9 222.7 342.1 221.8 336.4C220.8 330.8 218.7 324.2 218.1 321.7Z" stroke="#d5c6de" stroke-width="1.3" fill="none" stroke-dasharray="16.0 3.5 10.0 17.4 13.3 9.8" stroke-opacity="0.85"/>
<path d="M219.2 321.6C219.1 320.5 219.3 317.3 218.9 314.7C218.5 312.1 218.0 308.9 217.0 306.2C215.9 303.4 214.3 300.8 212.6 298.3C211.0 295.8 209.0 293.4 206.9 291.1C204.9 288.9 202.1 287.0 200.2 285.0C198.3 283.0 197.2 281.5 195.4 279.2C193.6 276.9 192.1 273.8 189.4 271.3C186.8 268.9 183.0 266.2 179.5 264.5C176.0 262.8 172.3 262.2 168.5 261.2C164.7 260.3 160.8 259.5 156.7 258.9C152.5 258.2 148.3 257.7 143.9 257.4C139.5 257.0 134.7 256.8 130.3 256.7C125.8 256.6 121.3 256.4 117.1 256.8C113.0 257.1 108.6 258.0 105.3 258.9C102.0 259.7 99.4 261.0 97.3 261.8C95.1 262.6 94.4 262.8 92.3 263.7C90.1 264.6 86.8 266.1 84.3 267.4C81.7 268.8 79.1 270.2 77.0 271.8C74.8 273.4 72.7 275.8 71.6 276.9C70.5 278.0 70.9 278.1 70.2 278.3C69.5 278.6 69.1 278.3 67.2 278.4C65.3 278.5 62.3 277.9 59.1 278.9C55.8 279.9 50.8 282.2 47.8 284.3C44.7 286.4 42.8 289.4 40.7 291.6C38.7 293.8 37.3 295.5 35.5 297.4C33.8 299.2 32.0 300.7 30.2 302.7C28.3 304.8 26.0 307.1 24.3 309.7C22.7 312.4 21.3 315.5 20.3 318.5C19.4 321.5 18.8 324.7 18.6 327.6C18.5 330.6 18.9 333.5 19.2 336.2C19.6 338.9 20.0 341.0 20.6 344.0C21.3 346.9 22.0 350.8 22.9 354.1C23.8 357.4 25.2 360.7 26.1 363.7C27.1 366.7 27.7 369.3 28.8 372.2C29.9 375.2 31.3 378.3 32.7 381.3C34.1 384.2 35.6 387.1 37.2 390.0C38.8 392.9 40.8 395.8 42.6 398.7C44.3 401.5 46.1 404.4 47.8 407.0C49.6 409.7 51.3 412.0 53.2 414.6C55.1 417.1 56.7 419.6 59.1 422.2C61.6 424.8 64.3 427.8 67.9 430.3C71.5 432.8 76.3 435.4 80.8 437.3C85.3 439.2 90.2 440.9 95.1 441.8C100.0 442.7 105.1 442.7 110.0 442.7C114.9 442.7 120.2 442.4 124.3 441.9C128.5 441.4 131.0 440.5 134.6 439.5C138.3 438.6 142.8 437.4 146.2 436.4C149.6 435.3 152.0 434.3 154.9 433.1C157.8 432.0 161.3 430.4 163.7 429.5C166.0 428.6 166.2 427.9 169.1 427.6C171.9 427.4 176.2 428.6 180.9 428.1C185.5 427.7 191.8 427.1 196.9 424.9C202.1 422.8 207.7 419.6 211.7 415.3C215.8 411.1 219.0 405.6 221.2 399.2C223.3 392.8 224.0 384.2 224.6 376.9C225.3 369.7 225.4 362.4 225.2 355.6C224.9 348.8 224.0 341.9 223.0 336.2C222.1 330.5 220.0 323.9 219.4 321.4Z" stroke="#c6b2d1" stroke-width="0.9" fill="none" stroke-dasharray="10.4 6.4 9.7 14.0 15.2 18.6" stroke-opacity="0.85"/>
<path d="M220.2 321.6C220.1 320.4 220.3 317.2 219.9 314.6C219.5 311.9 219.0 308.6 217.9 305.8C216.8 303.0 215.2 300.3 213.5 297.7C211.8 295.2 209.8 292.7 207.7 290.5C205.6 288.2 202.8 286.3 200.9 284.3C199.0 282.3 198.0 280.9 196.2 278.6C194.4 276.3 192.8 273.1 190.1 270.6C187.4 268.1 183.5 265.3 179.9 263.6C176.3 261.9 172.6 261.2 168.7 260.3C164.9 259.3 160.9 258.5 156.8 257.9C152.7 257.2 148.4 256.7 143.9 256.4C139.5 256.0 134.8 255.8 130.3 255.7C125.8 255.6 121.2 255.4 117.0 255.8C112.8 256.1 108.4 257.1 105.1 257.9C101.7 258.8 99.1 260.1 96.9 260.9C94.7 261.7 94.1 261.8 91.9 262.8C89.7 263.7 86.4 265.2 83.8 266.5C81.2 267.9 78.5 269.4 76.4 271.0C74.2 272.6 72.0 275.0 70.9 276.1C69.9 277.2 70.5 277.2 69.8 277.4C69.2 277.6 69.0 277.3 67.1 277.4C65.3 277.5 62.1 277.0 58.8 278.0C55.5 279.0 50.3 281.4 47.2 283.5C44.1 285.7 42.1 288.7 40.0 290.9C37.9 293.1 36.6 294.8 34.8 296.7C33.1 298.5 31.3 300.0 29.4 302.1C27.5 304.2 25.2 306.5 23.5 309.2C21.8 311.9 20.3 315.1 19.4 318.2C18.4 321.3 17.8 324.6 17.6 327.6C17.5 330.6 17.9 333.6 18.2 336.3C18.6 339.1 19.1 341.2 19.7 344.2C20.3 347.2 21.0 351.0 22.0 354.3C22.9 357.6 24.2 361.0 25.2 364.0C26.2 367.0 26.8 369.6 27.9 372.6C29.0 375.5 30.4 378.7 31.8 381.7C33.3 384.7 34.7 387.6 36.3 390.5C38.0 393.5 39.9 396.3 41.7 399.2C43.5 402.0 45.2 404.9 47.0 407.6C48.8 410.3 50.5 412.6 52.4 415.1C54.3 417.7 55.9 420.2 58.4 422.9C60.9 425.5 63.7 428.5 67.3 431.1C71.0 433.6 75.8 436.3 80.4 438.2C85.0 440.2 90.0 441.9 94.9 442.8C99.9 443.7 105.1 443.7 110.0 443.7C114.9 443.7 120.3 443.4 124.5 442.9C128.6 442.3 131.2 441.4 134.9 440.5C138.6 439.6 143.1 438.4 146.5 437.3C149.9 436.3 152.4 435.2 155.3 434.1C158.2 432.9 161.7 431.4 164.0 430.5C166.3 429.6 166.3 428.8 169.2 428.6C172.0 428.4 176.2 429.6 180.9 429.1C185.6 428.7 192.0 428.0 197.3 425.8C202.6 423.7 208.3 420.4 212.5 416.0C216.6 411.6 219.9 406.0 222.1 399.5C224.3 393.0 225.0 384.3 225.6 377.0C226.3 369.7 226.4 362.4 226.2 355.5C225.9 348.7 225.0 341.8 224.0 336.0C223.0 330.3 220.9 323.6 220.3 321.2Z" stroke="#fbfafc" stroke-width="1.2" fill="none" stroke-dasharray="15.1 19.7 5.3 16.2 18.3 5.1" stroke-opacity="0.85"/>
<path d="M221.6 321.6C221.5 320.4 221.7 317.1 221.3 314.4C220.9 311.7 220.3 308.2 219.2 305.3C218.1 302.4 216.4 299.6 214.6 297.0C212.9 294.3 210.8 291.8 208.7 289.5C206.6 287.2 203.8 285.3 201.9 283.3C200.0 281.4 199.1 280.0 197.3 277.7C195.5 275.5 193.9 272.2 191.1 269.6C188.3 267.0 184.2 264.1 180.5 262.3C176.8 260.6 173.0 259.9 169.0 258.9C165.1 257.9 161.2 257.1 157.0 256.5C152.9 255.8 148.5 255.3 144.0 255.0C139.6 254.6 134.8 254.4 130.3 254.3C125.8 254.2 121.2 254.0 116.9 254.4C112.7 254.7 108.1 255.7 104.7 256.6C101.3 257.4 98.7 258.7 96.4 259.6C94.2 260.4 93.5 260.6 91.3 261.5C89.1 262.5 85.8 263.9 83.2 265.3C80.5 266.7 77.7 268.3 75.5 269.9C73.3 271.5 71.1 274.0 70.0 275.1C69.0 276.1 69.9 275.9 69.3 276.1C68.8 276.2 68.8 275.9 67.0 276.0C65.2 276.1 61.8 275.6 58.4 276.6C55.0 277.7 49.6 280.2 46.4 282.4C43.2 284.6 41.1 287.8 39.0 290.0C36.9 292.2 35.6 293.9 33.8 295.7C32.1 297.6 30.3 299.0 28.4 301.1C26.5 303.2 24.0 305.7 22.3 308.5C20.6 311.2 19.0 314.6 18.0 317.8C17.0 321.0 16.5 324.4 16.3 327.5C16.1 330.6 16.5 333.7 16.8 336.5C17.2 339.3 17.7 341.4 18.3 344.5C18.9 347.5 19.7 351.4 20.6 354.7C21.5 358.0 22.9 361.4 23.9 364.4C24.9 367.5 25.4 370.1 26.6 373.1C27.7 376.1 29.2 379.3 30.6 382.3C32.0 385.3 33.5 388.3 35.1 391.2C36.8 394.2 38.7 397.1 40.5 399.9C42.3 402.8 44.1 405.7 45.9 408.4C47.6 411.1 49.4 413.4 51.3 416.0C53.2 418.6 54.8 421.1 57.4 423.8C59.9 426.5 62.8 429.6 66.5 432.2C70.3 434.8 75.2 437.5 79.9 439.5C84.6 441.5 89.7 443.2 94.7 444.2C99.7 445.1 105.0 445.0 110.0 445.1C115.0 445.1 120.4 444.8 124.6 444.3C128.9 443.7 131.5 442.8 135.2 441.9C138.9 440.9 143.5 439.7 146.9 438.7C150.4 437.6 152.9 436.5 155.8 435.4C158.7 434.2 162.2 432.7 164.5 431.8C166.7 430.9 166.5 430.2 169.3 430.0C172.1 429.8 176.3 431.0 181.0 430.5C185.8 430.0 192.4 429.4 197.8 427.1C203.2 424.9 209.2 421.5 213.5 417.0C217.8 412.4 221.2 406.5 223.5 399.9C225.7 393.3 226.3 384.5 227.0 377.1C227.7 369.7 227.8 362.4 227.6 355.5C227.3 348.6 226.4 341.6 225.4 335.8C224.4 330.0 222.3 323.3 221.7 320.8Z" stroke="#dccfe4" stroke-width="0.9" fill="none" stroke-dasharray="5.2 10.2 19.9 5.7 14.7 13.7" stroke-opacity="0.85"/>
<path d="M222.9 321.5C222.8 320.3 223.0 317.0 222.6 314.2C222.1 311.4 221.5 307.8 220.4 304.8C219.3 301.8 217.5 298.9 215.7 296.2C213.9 293.5 211.8 290.9 209.6 288.6C207.5 286.3 204.7 284.4 202.9 282.5C201.0 280.5 200.1 279.2 198.3 276.9C196.5 274.6 194.9 271.3 192.0 268.7C189.1 266.0 184.8 263.0 181.0 261.2C177.3 259.3 173.3 258.6 169.4 257.6C165.4 256.6 161.4 255.9 157.2 255.2C153.0 254.6 148.6 254.0 144.1 253.7C139.7 253.3 134.9 253.1 130.3 253.0C125.8 252.9 121.2 252.7 116.8 253.1C112.5 253.5 107.9 254.4 104.4 255.3C100.9 256.2 98.2 257.5 96.0 258.3C93.7 259.2 93.0 259.3 90.8 260.3C88.6 261.3 85.3 262.7 82.6 264.2C79.9 265.6 77.0 267.2 74.7 268.8C72.5 270.5 70.2 273.1 69.2 274.1C68.2 275.1 69.3 274.8 68.9 274.9C68.5 275.0 68.7 274.6 66.9 274.7C65.1 274.8 61.6 274.3 58.1 275.4C54.5 276.5 49.0 279.0 45.6 281.3C42.3 283.6 40.1 286.9 38.0 289.1C35.9 291.4 34.6 293.0 32.9 294.8C31.1 296.7 29.4 298.1 27.5 300.2C25.5 302.4 23.0 304.9 21.2 307.7C19.4 310.6 17.8 314.1 16.8 317.4C15.8 320.7 15.2 324.2 15.0 327.4C14.8 330.7 15.2 333.8 15.6 336.7C15.9 339.6 16.4 341.7 17.0 344.7C17.7 347.8 18.4 351.7 19.4 355.1C20.3 358.4 21.6 361.7 22.6 364.8C23.6 367.9 24.2 370.5 25.3 373.5C26.5 376.5 28.0 379.8 29.4 382.8C30.9 385.9 32.3 388.9 34.0 391.9C35.7 394.8 37.6 397.7 39.4 400.6C41.2 403.5 43.0 406.4 44.8 409.1C46.6 411.8 48.3 414.1 50.3 416.8C52.2 419.4 53.8 422.0 56.4 424.7C59.0 427.5 62.0 430.6 65.8 433.3C69.6 436.0 74.6 438.7 79.4 440.7C84.1 442.7 89.4 444.5 94.5 445.4C99.6 446.4 104.9 446.3 110.0 446.4C115.1 446.4 120.6 446.1 124.8 445.5C129.1 445.0 131.8 444.1 135.5 443.1C139.3 442.2 143.9 441.0 147.3 439.9C150.8 438.8 153.3 437.7 156.3 436.6C159.2 435.4 162.7 433.9 164.9 433.0C167.1 432.1 166.7 431.5 169.4 431.3C172.1 431.1 176.3 432.3 181.1 431.8C186.0 431.3 192.7 430.7 198.3 428.4C203.8 426.0 210.0 422.6 214.4 417.9C218.8 413.2 222.4 407.1 224.7 400.3C227.0 393.5 227.6 384.7 228.3 377.3C229.0 369.8 229.1 362.4 228.9 355.4C228.6 348.5 227.6 341.4 226.7 335.6C225.7 329.7 223.6 323.0 222.9 320.5Z" stroke="#fbfafc" stroke-width="0.8" fill="none" stroke-dasharray="18.8 7.3 3.3 19.1 8.4 9.6" stroke-opacity="0.85"/>
<path d="M224.6 321.5C224.6 320.2 224.7 316.9 224.3 314.0C223.9 311.1 223.3 307.3 222.1 304.2C220.9 301.1 219.0 298.0 217.2 295.2C215.3 292.4 213.1 289.7 210.9 287.4C208.7 285.1 206.0 283.1 204.1 281.2C202.3 279.3 201.5 278.2 199.7 275.8C197.9 273.5 196.2 270.1 193.2 267.4C190.2 264.7 185.7 261.5 181.8 259.6C177.9 257.6 173.8 256.9 169.8 255.9C165.7 254.9 161.7 254.1 157.5 253.5C153.2 252.8 148.8 252.3 144.3 251.9C139.8 251.5 135.0 251.4 130.4 251.3C125.8 251.2 121.1 250.9 116.7 251.3C112.3 251.7 107.5 252.7 104.0 253.6C100.4 254.5 97.7 255.8 95.3 256.7C93.0 257.5 92.4 257.7 90.1 258.7C87.8 259.7 84.5 261.1 81.8 262.6C79.0 264.0 75.9 265.7 73.7 267.4C71.4 269.1 68.9 271.7 68.0 272.7C67.1 273.7 68.5 273.2 68.3 273.2C68.0 273.3 68.6 272.8 66.8 272.9C65.0 273.0 61.3 272.5 57.6 273.7C53.9 274.8 48.1 277.5 44.6 279.9C41.1 282.3 38.9 285.6 36.7 287.9C34.5 290.2 33.3 291.8 31.6 293.6C29.8 295.5 28.1 296.8 26.2 299.0C24.2 301.2 21.6 303.8 19.7 306.8C17.9 309.8 16.2 313.4 15.1 316.9C14.0 320.3 13.4 324.0 13.2 327.3C13.0 330.7 13.5 334.0 13.8 336.9C14.2 339.9 14.7 342.0 15.3 345.1C15.9 348.2 16.7 352.2 17.7 355.5C18.6 358.9 19.9 362.3 20.9 365.4C22.0 368.5 22.5 371.1 23.7 374.2C24.8 377.2 26.3 380.5 27.8 383.6C29.3 386.7 30.8 389.7 32.4 392.7C34.1 395.7 36.1 398.7 37.9 401.6C39.7 404.5 41.5 407.4 43.3 410.1C45.1 412.8 46.9 415.2 48.8 417.8C50.8 420.4 52.4 423.1 55.1 425.9C57.8 428.7 60.9 432.0 64.8 434.8C68.7 437.5 73.8 440.3 78.7 442.3C83.6 444.4 88.9 446.2 94.1 447.2C99.4 448.1 104.9 448.1 110.0 448.1C115.1 448.2 120.7 447.9 125.0 447.3C129.4 446.8 132.2 445.8 136.0 444.8C139.8 443.9 144.4 442.7 147.9 441.6C151.3 440.5 154.0 439.4 156.9 438.2C159.9 437.1 163.4 435.5 165.5 434.7C167.6 433.8 167.0 433.2 169.6 433.1C172.2 432.9 176.4 434.1 181.3 433.6C186.2 433.1 193.2 432.4 198.9 430.0C204.7 427.6 211.1 424.0 215.7 419.1C220.3 414.2 224.0 407.8 226.4 400.8C228.8 393.9 229.4 385.0 230.1 377.4C230.8 369.8 230.9 362.4 230.6 355.4C230.3 348.3 229.4 341.1 228.4 335.3C227.4 329.4 225.3 322.6 224.7 320.1Z" stroke="#dccfe4" stroke-width="0.6" fill="none" stroke-dasharray="6.5 9.6 17.5 17.8 8.7 15.6" stroke-opacity="0.85"/>
<path d="M225.5 321.4C225.5 320.2 225.6 316.8 225.2 313.9C224.8 311.0 224.1 307.1 222.9 303.9C221.7 300.7 219.8 297.6 217.9 294.7C216.0 291.9 213.7 289.1 211.5 286.8C209.4 284.4 206.6 282.5 204.8 280.6C202.9 278.7 202.2 277.6 200.4 275.3C198.6 273.0 196.9 269.5 193.8 266.8C190.8 264.0 186.1 260.7 182.1 258.7C178.2 256.8 174.1 256.1 170.0 255.0C165.9 254.0 161.9 253.2 157.6 252.6C153.4 251.9 148.9 251.4 144.4 251.0C139.8 250.7 135.0 250.5 130.4 250.4C125.8 250.3 121.1 250.0 116.6 250.4C112.2 250.8 107.3 251.8 103.7 252.7C100.1 253.6 97.4 255.0 95.0 255.8C92.7 256.7 92.0 256.9 89.7 257.9C87.5 258.9 84.1 260.3 81.4 261.8C78.6 263.3 75.4 265.0 73.1 266.7C70.8 268.4 68.3 271.1 67.5 272.0C66.6 273.0 68.1 272.4 67.9 272.4C67.8 272.4 68.5 271.9 66.7 272.0C65.0 272.1 61.1 271.6 57.3 272.8C53.5 274.0 47.6 276.7 44.1 279.2C40.5 281.6 38.2 285.0 36.0 287.3C33.8 289.6 32.7 291.1 30.9 293.0C29.2 294.8 27.5 296.2 25.5 298.4C23.5 300.6 20.8 303.3 19.0 306.3C17.1 309.3 15.4 313.1 14.3 316.6C13.1 320.1 12.5 323.9 12.3 327.3C12.1 330.7 12.6 334.0 12.9 337.0C13.3 340.0 13.8 342.1 14.4 345.3C15.1 348.4 15.9 352.4 16.8 355.8C17.7 359.2 19.1 362.5 20.1 365.6C21.1 368.8 21.7 371.4 22.9 374.5C24.0 377.5 25.5 380.9 27.0 384.0C28.5 387.1 30.0 390.2 31.7 393.2C33.4 396.2 35.3 399.1 37.2 402.0C39.0 404.9 40.7 407.9 42.6 410.6C44.4 413.3 46.1 415.7 48.1 418.3C50.1 421.0 51.8 423.7 54.5 426.5C57.1 429.4 60.3 432.7 64.3 435.5C68.3 438.3 73.4 441.1 78.3 443.2C83.3 445.3 88.7 447.1 94.0 448.1C99.3 449.0 104.8 449.0 110.0 449.0C115.2 449.1 120.8 448.7 125.2 448.2C129.5 447.6 132.4 446.7 136.2 445.7C140.0 444.7 144.6 443.5 148.1 442.4C151.6 441.3 154.3 440.2 157.2 439.0C160.2 437.9 163.8 436.3 165.8 435.5C167.9 434.6 167.1 434.1 169.7 433.9C172.3 433.8 176.4 435.0 181.4 434.5C186.3 434.0 193.4 433.3 199.3 430.8C205.1 428.4 211.7 424.7 216.4 419.7C221.0 414.8 224.8 408.1 227.3 401.1C229.7 394.0 230.3 385.1 231.0 377.5C231.7 369.9 231.8 362.4 231.5 355.3C231.2 348.3 230.3 341.0 229.3 335.1C228.3 329.2 226.1 322.4 225.5 319.9Z" stroke="#c6b2d1" stroke-width="0.7" fill="none" stroke-dasharray="6.7 12.2 12.5 9.8 11.6 8.1" stroke-opacity="0.85"/>
<path d="M227.2 321.4C227.1 320.1 227.3 316.7 226.8 313.7C226.4 310.7 225.7 306.6 224.4 303.3C223.2 300.0 221.2 296.8 219.2 293.8C217.3 290.9 215.0 288.0 212.7 285.6C210.5 283.3 207.8 281.4 206.0 279.5C204.1 277.6 203.5 276.6 201.7 274.3C199.9 272.0 198.1 268.4 195.0 265.6C191.8 262.7 186.9 259.3 182.8 257.3C178.7 255.2 174.5 254.5 170.4 253.4C166.2 252.4 162.2 251.6 157.9 251.0C153.6 250.3 149.1 249.8 144.5 249.4C139.9 249.0 135.1 248.8 130.4 248.7C125.8 248.6 121.0 248.4 116.5 248.8C112.0 249.2 107.0 250.2 103.3 251.1C99.7 252.0 96.8 253.4 94.5 254.3C92.1 255.2 91.4 255.4 89.1 256.4C86.8 257.4 83.4 258.8 80.6 260.3C77.8 261.8 74.5 263.7 72.1 265.4C69.8 267.2 67.2 269.9 66.4 270.8C65.6 271.7 67.3 270.9 67.4 270.9C67.4 270.8 68.4 270.3 66.6 270.4C64.9 270.5 60.8 270.0 56.9 271.3C53.0 272.5 46.8 275.3 43.1 277.8C39.5 280.3 37.1 283.9 34.8 286.2C32.6 288.5 31.5 290.0 29.7 291.9C28.0 293.7 26.3 295.1 24.3 297.3C22.3 299.6 19.5 302.3 17.6 305.4C15.7 308.6 13.8 312.5 12.7 316.1C11.5 319.7 10.9 323.7 10.7 327.2C10.4 330.7 10.9 334.2 11.3 337.2C11.7 340.3 12.2 342.4 12.8 345.6C13.5 348.8 14.3 352.8 15.2 356.2C16.2 359.7 17.5 363.0 18.5 366.1C19.6 369.3 20.2 372.0 21.3 375.0C22.5 378.1 24.0 381.5 25.5 384.7C27.0 387.8 28.5 390.9 30.2 394.0C32.0 397.0 34.0 400.0 35.8 402.9C37.6 405.8 39.4 408.8 41.2 411.5C43.0 414.2 44.8 416.6 46.8 419.3C48.8 422.0 50.5 424.7 53.2 427.6C56.0 430.5 59.3 434.0 63.4 436.8C67.4 439.7 72.6 442.5 77.7 444.7C82.7 446.8 88.3 448.7 93.7 449.7C99.1 450.7 104.7 450.6 110.0 450.7C115.3 450.7 120.9 450.4 125.4 449.8C129.8 449.3 132.7 448.3 136.6 447.3C140.5 446.3 145.1 445.1 148.6 444.0C152.2 442.9 154.9 441.7 157.8 440.6C160.8 439.4 164.4 437.9 166.4 437.0C168.4 436.2 167.3 435.7 169.9 435.6C172.4 435.4 176.5 436.6 181.5 436.1C186.5 435.6 193.9 434.9 199.9 432.4C205.9 429.8 212.7 426.0 217.6 420.8C222.4 415.7 226.3 408.8 228.8 401.6C231.3 394.4 231.9 385.3 232.6 377.6C233.3 369.9 233.4 362.4 233.2 355.3C232.9 348.1 231.9 340.8 230.9 334.8C229.9 328.9 227.7 322.0 227.1 319.5Z" stroke="#d5c6de" stroke-width="1.2" fill="none" stroke-dasharray="16.9 4.2 7.3 6.5 5.6 19.5" stroke-opacity="0.85"/>
<path d="M228.9 321.3C228.8 320.0 229.0 316.6 228.5 313.5C228.0 310.4 227.3 306.1 226.0 302.7C224.7 299.3 222.7 295.9 220.7 292.9C218.7 289.8 216.2 286.9 214.0 284.5C211.7 282.0 209.0 280.2 207.2 278.3C205.4 276.4 204.9 275.6 203.0 273.2C201.2 270.9 199.4 267.3 196.2 264.4C192.9 261.4 187.8 257.8 183.6 255.7C179.3 253.6 175.0 252.9 170.8 251.8C166.5 250.7 162.5 250.0 158.2 249.3C153.8 248.6 149.2 248.1 144.6 247.7C140.0 247.3 135.2 247.1 130.5 247.0C125.8 246.9 120.9 246.7 116.3 247.1C111.7 247.5 106.6 248.5 102.9 249.5C99.1 250.4 96.3 251.8 93.9 252.7C91.5 253.6 90.8 253.8 88.4 254.8C86.1 255.8 82.7 257.3 79.8 258.8C76.9 260.4 73.5 262.3 71.1 264.1C68.7 265.8 66.0 268.6 65.3 269.5C64.6 270.4 66.6 269.4 66.7 269.3C66.9 269.1 68.2 268.6 66.5 268.7C64.8 268.7 60.5 268.3 56.4 269.6C52.3 270.9 45.9 273.9 42.1 276.4C38.3 279.0 35.8 282.7 33.6 285.1C31.3 287.4 30.3 288.8 28.5 290.7C26.8 292.5 25.1 293.9 23.1 296.2C21.0 298.5 18.1 301.3 16.1 304.5C14.2 307.7 12.3 311.8 11.1 315.6C9.9 319.3 9.2 323.5 9.0 327.1C8.7 330.8 9.2 334.3 9.6 337.5C10.0 340.6 10.5 342.7 11.2 345.9C11.8 349.1 12.6 353.2 13.6 356.7C14.5 360.1 15.9 363.5 16.9 366.7C17.9 369.8 18.5 372.5 19.7 375.6C20.9 378.8 22.5 382.2 24.0 385.4C25.5 388.6 27.0 391.7 28.8 394.8C30.5 397.9 32.5 400.9 34.3 403.8C36.2 406.7 37.9 409.7 39.8 412.5C41.6 415.2 43.4 417.6 45.4 420.3C47.5 423.0 49.2 425.8 52.0 428.8C54.8 431.8 58.2 435.3 62.4 438.2C66.6 441.1 71.8 444.1 77.0 446.2C82.2 448.4 87.9 450.3 93.4 451.3C98.9 452.4 104.6 452.3 110.0 452.4C115.4 452.4 121.1 452.1 125.6 451.5C130.1 450.9 133.1 449.9 137.0 448.9C141.0 448.0 145.6 446.8 149.1 445.6C152.7 444.5 155.5 443.3 158.5 442.2C161.4 441.0 165.1 439.5 167.0 438.6C168.9 437.8 167.6 437.4 170.0 437.3C172.5 437.1 176.5 438.4 181.6 437.8C186.7 437.3 194.3 436.6 200.5 433.9C206.7 431.3 213.8 427.3 218.8 422.0C223.8 416.7 227.9 409.4 230.4 402.1C233.0 394.7 233.6 385.6 234.3 377.8C235.0 370.0 235.1 362.4 234.9 355.2C234.6 348.0 233.6 340.6 232.6 334.5C231.6 328.5 229.4 321.6 228.8 319.1Z" stroke="#fbfafc" stroke-width="1.0" fill="none" stroke-dasharray="5.0 10.3 4.0 18.4 7.5 7.9" stroke-opacity="0.85"/>
<path d="M230.6 321.3C230.5 319.9 230.7 316.5 230.2 313.3C229.8 310.1 229.0 305.6 227.6 302.1C226.3 298.5 224.2 295.0 222.1 291.9C220.0 288.8 217.5 285.7 215.2 283.3C213.0 280.8 210.3 278.9 208.5 277.1C206.6 275.2 206.3 274.5 204.4 272.2C202.6 269.8 200.7 266.1 197.4 263.1C194.0 260.1 188.7 256.3 184.3 254.1C179.9 252.0 175.5 251.2 171.2 250.1C166.9 249.0 162.8 248.2 158.4 247.5C154.0 246.9 149.4 246.3 144.8 246.0C140.1 245.6 135.3 245.4 130.5 245.3C125.8 245.2 120.9 244.9 116.2 245.4C111.5 245.8 106.3 246.8 102.5 247.8C98.6 248.7 95.7 250.2 93.3 251.1C90.8 252.0 90.1 252.2 87.7 253.2C85.4 254.2 82.0 255.7 79.0 257.3C76.1 258.8 72.5 260.9 70.1 262.7C67.6 264.5 64.8 267.3 64.2 268.2C63.5 269.0 65.8 267.8 66.1 267.6C66.5 267.4 68.0 266.9 66.3 266.9C64.6 267.0 60.1 266.6 55.9 267.9C51.7 269.3 45.1 272.4 41.1 275.0C37.2 277.7 34.6 281.5 32.3 283.9C30.0 286.3 29.0 287.6 27.2 289.5C25.5 291.3 23.9 292.6 21.8 295.0C19.7 297.3 16.7 300.2 14.7 303.6C12.6 306.9 10.6 311.1 9.4 315.1C8.2 319.0 7.5 323.2 7.2 327.0C7.0 330.8 7.5 334.5 7.9 337.7C8.2 340.9 8.8 343.0 9.4 346.3C10.1 349.5 10.9 353.7 11.9 357.2C12.9 360.6 14.2 364.0 15.3 367.2C16.3 370.4 16.9 373.1 18.1 376.3C19.3 379.4 20.9 382.9 22.4 386.1C23.9 389.4 25.5 392.6 27.2 395.7C29.0 398.8 31.0 401.8 32.9 404.7C34.7 407.7 36.5 410.7 38.3 413.4C40.2 416.2 42.0 418.6 44.0 421.4C46.1 424.1 47.8 426.9 50.7 430.0C53.6 433.0 57.1 436.7 61.4 439.7C65.7 442.6 71.0 445.6 76.3 447.8C81.6 450.1 87.5 452.0 93.1 453.1C98.7 454.1 104.5 454.1 110.0 454.1C115.5 454.1 121.2 453.8 125.8 453.2C130.4 452.7 133.5 451.6 137.5 450.6C141.4 449.6 146.1 448.4 149.7 447.3C153.3 446.1 156.1 444.9 159.1 443.8C162.1 442.6 165.7 441.1 167.6 440.3C169.4 439.5 167.8 439.1 170.2 439.0C172.6 438.9 176.6 440.1 181.8 439.5C186.9 439.0 194.8 438.3 201.1 435.6C207.5 432.8 214.9 428.7 220.1 423.2C225.2 417.7 229.4 410.1 232.1 402.6C234.8 395.0 235.3 385.8 236.0 377.9C236.8 370.0 236.9 362.4 236.6 355.1C236.3 347.8 235.3 340.3 234.3 334.3C233.3 328.2 231.1 321.2 230.5 318.6Z" stroke="#d5c6de" stroke-width="0.9" fill="none" stroke-dasharray="6.5 8.9 4.5 10.2 16.1 15.2" stroke-opacity="0.85"/>
<path d="M232.2 321.2C232.1 319.9 232.3 316.3 231.8 313.1C231.3 309.8 230.5 305.2 229.1 301.5C227.7 297.8 225.5 294.2 223.4 291.0C221.3 287.8 218.7 284.7 216.4 282.2C214.1 279.7 211.4 277.8 209.6 276.0C207.8 274.1 207.5 273.5 205.7 271.2C203.8 268.8 201.9 265.0 198.5 262.0C195.0 258.9 189.4 254.9 185.0 252.7C180.5 250.4 175.9 249.7 171.5 248.5C167.2 247.4 163.1 246.7 158.7 246.0C154.2 245.3 149.6 244.7 144.9 244.4C140.2 244.0 135.4 243.8 130.6 243.7C125.8 243.6 120.8 243.3 116.1 243.8C111.3 244.2 106.0 245.3 102.1 246.2C98.2 247.2 95.2 248.7 92.7 249.6C90.2 250.5 89.5 250.7 87.1 251.7C84.7 252.8 81.3 254.2 78.3 255.9C75.3 257.5 71.6 259.5 69.1 261.4C66.6 263.2 63.7 266.2 63.1 266.9C62.5 267.7 65.0 266.4 65.6 266.1C66.1 265.9 67.9 265.3 66.2 265.4C64.5 265.4 59.8 265.0 55.5 266.4C51.1 267.8 44.3 271.0 40.2 273.7C36.1 276.5 33.5 280.4 31.1 282.8C28.7 285.2 27.8 286.6 26.1 288.4C24.3 290.2 22.7 291.5 20.6 293.9C18.5 296.3 15.5 299.3 13.3 302.7C11.2 306.2 9.2 310.5 7.9 314.6C6.6 318.6 5.9 323.0 5.6 326.9C5.4 330.8 5.9 334.6 6.3 337.9C6.7 341.2 7.2 343.3 7.9 346.6C8.6 349.9 9.4 354.1 10.4 357.6C11.3 361.1 12.7 364.5 13.7 367.7C14.8 370.9 15.4 373.6 16.6 376.8C17.8 380.0 19.4 383.6 21.0 386.8C22.5 390.1 24.1 393.3 25.8 396.5C27.6 399.6 29.6 402.6 31.5 405.6C33.4 408.6 35.1 411.5 37.0 414.3C38.9 417.1 40.7 419.5 42.7 422.3C44.8 425.1 46.6 427.9 49.5 431.0C52.5 434.1 56.1 437.9 60.5 441.0C64.8 444.0 70.3 447.0 75.7 449.3C81.1 451.6 87.1 453.6 92.8 454.6C98.5 455.7 104.5 455.7 110.0 455.7C115.5 455.7 121.4 455.4 126.0 454.8C130.6 454.2 133.8 453.2 137.9 452.2C141.9 451.2 146.5 450.0 150.1 448.8C153.8 447.7 156.7 446.4 159.7 445.3C162.7 444.1 166.3 442.6 168.1 441.8C169.9 441.0 168.1 440.7 170.4 440.6C172.7 440.5 176.7 441.7 181.9 441.1C187.1 440.5 195.2 439.9 201.7 437.0C208.3 434.2 215.9 430.0 221.2 424.3C226.5 418.6 230.9 410.8 233.6 403.1C236.4 395.4 236.9 386.1 237.6 378.1C238.4 370.1 238.5 362.4 238.2 355.1C237.9 347.7 236.9 340.1 235.9 334.0C234.8 327.8 232.6 320.9 232.0 318.2Z" stroke="#c6b2d1" stroke-width="0.6" fill="none" stroke-dasharray="15.7 13.3 5.1 5.9 8.4 13.2" stroke-opacity="0.85"/>
<path d="M233.2 321.2C233.2 319.8 233.4 316.3 232.8 312.9C232.3 309.6 231.5 304.9 230.1 301.1C228.7 297.4 226.4 293.7 224.3 290.4C222.1 287.1 219.5 284.0 217.1 281.5C214.8 278.9 212.1 277.1 210.3 275.3C208.6 273.4 208.3 272.9 206.5 270.5C204.6 268.2 202.7 264.3 199.2 261.2C195.7 258.1 190.0 254.0 185.4 251.7C180.8 249.5 176.2 248.7 171.8 247.5C167.3 246.4 163.3 245.7 158.8 245.0C154.4 244.3 149.7 243.7 145.0 243.3C140.3 243.0 135.4 242.8 130.6 242.7C125.8 242.6 120.8 242.3 116.0 242.7C111.2 243.2 105.7 244.3 101.8 245.3C97.9 246.2 94.9 247.7 92.3 248.6C89.8 249.6 89.1 249.7 86.7 250.8C84.3 251.8 80.8 253.3 77.8 254.9C74.8 256.6 71.0 258.7 68.5 260.6C65.9 262.4 63.0 265.4 62.5 266.2C61.9 266.9 64.6 265.5 65.2 265.2C65.8 264.9 67.8 264.3 66.1 264.3C64.5 264.4 59.6 264.0 55.2 265.4C50.8 266.8 43.7 270.1 39.6 272.9C35.5 275.7 32.7 279.6 30.3 282.1C28.0 284.6 27.1 285.8 25.3 287.7C23.6 289.5 22.0 290.8 19.8 293.2C17.7 295.6 14.6 298.6 12.5 302.2C10.3 305.7 8.2 310.1 6.9 314.3C5.6 318.4 4.9 322.9 4.6 326.9C4.3 330.8 4.9 334.7 5.3 338.0C5.7 341.4 6.2 343.5 6.9 346.8C7.6 350.1 8.4 354.3 9.4 357.9C10.4 361.4 11.7 364.8 12.8 368.0C13.8 371.2 14.4 374.0 15.6 377.2C16.8 380.4 18.5 384.0 20.0 387.3C21.6 390.6 23.2 393.8 25.0 397.0C26.7 400.1 28.8 403.1 30.6 406.1C32.5 409.1 34.3 412.1 36.2 414.9C38.0 417.7 39.8 420.1 41.9 422.9C44.0 425.7 45.8 428.6 48.8 431.7C51.8 434.9 55.5 438.7 59.9 441.8C64.3 444.9 69.8 448.0 75.3 450.3C80.8 452.6 86.8 454.6 92.6 455.6C98.4 456.7 104.4 456.7 110.0 456.7C115.6 456.8 121.4 456.4 126.1 455.8C130.8 455.2 134.1 454.2 138.1 453.2C142.2 452.2 146.8 450.9 150.4 449.8C154.1 448.6 157.1 447.4 160.1 446.2C163.1 445.0 166.7 443.5 168.5 442.7C170.2 442.0 168.2 441.7 170.5 441.6C172.7 441.5 176.7 442.8 182.0 442.2C187.2 441.6 195.4 440.9 202.1 438.0C208.8 435.1 216.5 430.8 222.0 425.0C227.4 419.2 231.8 411.2 234.6 403.4C237.4 395.6 237.9 386.2 238.6 378.2C239.4 370.1 239.5 362.4 239.2 355.0C238.9 347.6 237.9 340.0 236.9 333.8C235.8 327.6 233.6 320.6 233.0 318.0Z" stroke="#cbb8d6" stroke-width="0.5" fill="none" stroke-dasharray="8.4 12.2 9.9 8.7 7.9 11.3" stroke-opacity="0.85"/>
<path d="M234.8 321.1C234.7 319.7 235.0 316.2 234.4 312.7C233.9 309.3 233.0 304.4 231.6 300.6C230.1 296.7 227.8 292.9 225.6 289.5C223.4 286.2 220.6 282.9 218.3 280.4C215.9 277.8 213.2 276.0 211.5 274.2C209.7 272.4 209.6 271.9 207.7 269.6C205.8 267.2 203.9 263.3 200.3 260.1C196.7 256.9 190.7 252.7 186.0 250.3C181.4 248.0 176.6 247.2 172.1 246.0C167.6 244.9 163.6 244.1 159.1 243.4C154.6 242.7 149.8 242.2 145.1 241.8C140.4 241.4 135.5 241.2 130.6 241.1C125.8 241.0 120.7 240.7 115.9 241.2C111.0 241.6 105.4 242.7 101.4 243.7C97.4 244.7 94.3 246.2 91.8 247.2C89.2 248.1 88.5 248.3 86.1 249.3C83.6 250.4 80.2 251.9 77.1 253.5C74.0 255.2 70.1 257.4 67.5 259.3C64.9 261.2 61.9 264.2 61.4 265.0C61.0 265.7 63.9 264.1 64.6 263.7C65.4 263.3 67.7 262.7 66.0 262.8C64.4 262.8 59.3 262.4 54.8 263.9C50.2 265.4 42.9 268.8 38.7 271.6C34.4 274.5 31.6 278.5 29.2 281.0C26.8 283.5 25.9 284.8 24.2 286.6C22.4 288.5 20.9 289.7 18.7 292.1C16.5 294.6 13.4 297.7 11.1 301.3C8.9 304.9 6.8 309.5 5.4 313.8C4.0 318.0 3.3 322.7 3.0 326.8C2.7 330.9 3.3 334.9 3.7 338.3C4.1 341.6 4.6 343.8 5.3 347.1C6.0 350.5 6.9 354.7 7.9 358.3C8.8 361.8 10.2 365.3 11.3 368.5C12.3 371.7 12.9 374.5 14.2 377.7C15.4 381.0 17.0 384.6 18.6 387.9C20.2 391.3 21.8 394.6 23.6 397.7C25.4 400.9 27.4 404.0 29.3 407.0C31.2 410.0 33.0 412.9 34.8 415.8C36.7 418.6 38.5 421.0 40.7 423.9C42.8 426.7 44.6 429.6 47.6 432.8C50.7 436.0 54.5 440.0 59.0 443.1C63.5 446.3 69.1 449.4 74.7 451.7C80.2 454.1 86.5 456.1 92.3 457.2C98.2 458.3 104.3 458.3 110.0 458.3C115.7 458.3 121.6 458.0 126.3 457.4C131.1 456.8 134.4 455.7 138.5 454.7C142.6 453.7 147.2 452.5 150.9 451.3C154.6 450.1 157.6 448.9 160.6 447.7C163.7 446.5 167.4 445.0 169.0 444.2C170.7 443.5 168.4 443.3 170.6 443.2C172.8 443.1 176.8 444.4 182.1 443.7C187.4 443.1 195.9 442.4 202.7 439.5C209.5 436.5 217.5 432.0 223.1 426.1C228.7 420.2 233.3 411.8 236.1 403.8C239.0 395.9 239.4 386.4 240.2 378.3C241.0 370.1 241.1 362.4 240.8 355.0C240.5 347.5 239.5 339.8 238.4 333.5C237.4 327.3 235.2 320.3 234.5 317.6Z" stroke="#f7f4f8" stroke-width="1.4" fill="none" stroke-dasharray="5.9 3.0 16.3 9.3 17.5 7.7" stroke-opacity="0.85"/>
<path d="M236.4 321.1C236.4 319.6 236.6 316.0 236.0 312.5C235.5 309.0 234.6 303.9 233.1 300.0C231.6 296.0 229.2 292.1 226.9 288.6C224.7 285.2 221.9 281.8 219.5 279.2C217.1 276.6 214.4 274.8 212.7 273.0C210.9 271.2 210.9 270.9 209.0 268.6C207.1 266.2 205.1 262.2 201.4 258.9C197.7 255.6 191.6 251.2 186.7 248.8C181.9 246.4 177.1 245.6 172.5 244.4C168.0 243.2 163.9 242.5 159.3 241.8C154.8 241.1 150.0 240.5 145.2 240.1C140.5 239.7 135.6 239.5 130.7 239.4C125.8 239.3 120.7 239.1 115.7 239.5C110.8 240.0 105.1 241.1 101.0 242.1C96.9 243.1 93.8 244.7 91.2 245.6C88.6 246.6 87.9 246.8 85.4 247.8C82.9 248.9 79.5 250.4 76.3 252.1C73.2 253.8 69.2 256.1 66.5 258.0C63.9 259.9 60.8 263.0 60.4 263.7C60.0 264.4 63.1 262.6 64.0 262.2C65.0 261.7 67.5 261.1 65.9 261.1C64.3 261.1 59.0 260.8 54.3 262.3C49.6 263.8 42.1 267.3 37.7 270.3C33.3 273.2 30.4 277.4 28.0 279.9C25.5 282.5 24.7 283.6 23.0 285.5C21.2 287.3 19.7 288.5 17.5 291.0C15.3 293.5 12.0 296.7 9.8 300.4C7.5 304.1 5.2 308.9 3.8 313.3C2.4 317.7 1.7 322.5 1.4 326.7C1.1 330.9 1.7 335.0 2.1 338.5C2.5 341.9 3.0 344.1 3.7 347.5C4.4 350.9 5.3 355.1 6.3 358.7C7.3 362.3 8.6 365.7 9.7 369.0C10.8 372.3 11.4 375.0 12.6 378.3C13.8 381.6 15.5 385.3 17.1 388.6C18.7 392.0 20.4 395.3 22.1 398.5C23.9 401.7 26.0 404.8 27.9 407.8C29.8 410.9 31.6 413.8 33.5 416.7C35.4 419.5 37.2 422.0 39.3 424.8C41.5 427.7 43.3 430.6 46.4 433.9C49.5 437.2 53.4 441.2 58.1 444.5C62.7 447.7 68.4 450.8 74.0 453.2C79.7 455.6 86.1 457.7 92.0 458.8C98.0 459.9 104.3 459.9 110.0 460.0C115.7 460.0 121.7 459.7 126.5 459.0C131.3 458.4 134.8 457.3 138.9 456.3C143.1 455.3 147.7 454.0 151.4 452.9C155.1 451.7 158.2 450.4 161.3 449.2C164.3 448.0 168.0 446.5 169.6 445.8C171.2 445.0 168.7 444.9 170.8 444.8C172.9 444.8 176.8 446.0 182.2 445.4C187.6 444.7 196.3 444.0 203.3 441.0C210.3 438.0 218.6 433.3 224.3 427.2C230.0 421.1 234.8 412.5 237.7 404.3C240.6 396.2 241.1 386.7 241.9 378.4C242.6 370.2 242.7 362.4 242.4 354.9C242.1 347.4 241.1 339.5 240.1 333.3C239.0 327.0 236.8 319.9 236.1 317.2Z" stroke="#d5c6de" stroke-width="1.2" fill="none" stroke-dasharray="9.4 9.1 9.2 3.2 12.3 11.1" stroke-opacity="0.85"/>
<path d="M237.7 321.0C237.7 319.6 237.9 316.0 237.3 312.4C236.8 308.8 235.9 303.6 234.3 299.5C232.8 295.4 230.3 291.4 228.0 287.9C225.7 284.4 222.8 281.0 220.4 278.4C218.0 275.7 215.3 273.9 213.6 272.1C211.9 270.4 211.9 270.1 210.0 267.8C208.2 265.4 206.1 261.3 202.3 258.0C198.5 254.6 192.2 250.1 187.3 247.6C182.4 245.2 177.5 244.3 172.8 243.1C168.2 242.0 164.1 241.2 159.5 240.5C154.9 239.8 150.1 239.2 145.3 238.8C140.5 238.4 135.7 238.2 130.7 238.2C125.7 238.1 120.6 237.8 115.6 238.2C110.6 238.7 104.8 239.8 100.7 240.9C96.5 241.9 93.4 243.4 90.8 244.4C88.1 245.4 87.4 245.6 84.9 246.6C82.4 247.7 78.9 249.2 75.7 250.9C72.5 252.7 68.4 255.0 65.7 257.0C63.0 258.9 59.9 262.1 59.5 262.7C59.2 263.4 62.5 261.4 63.6 261.0C64.6 260.5 67.4 259.8 65.8 259.8C64.2 259.8 58.8 259.5 54.0 261.1C49.2 262.6 41.5 266.2 37.0 269.2C32.5 272.2 29.5 276.5 27.0 279.1C24.5 281.6 23.8 282.7 22.0 284.6C20.3 286.4 18.8 287.6 16.5 290.1C14.3 292.6 11.0 295.9 8.7 299.7C6.3 303.5 4.0 308.4 2.6 312.9C1.2 317.4 0.4 322.4 0.1 326.6C-0.2 330.9 0.4 335.1 0.8 338.6C1.2 342.2 1.7 344.3 2.5 347.7C3.2 351.1 4.0 355.5 5.0 359.1C6.0 362.7 7.4 366.1 8.5 369.4C9.5 372.7 10.2 375.5 11.4 378.8C12.6 382.1 14.3 385.8 15.9 389.2C17.5 392.6 19.2 396.0 21.0 399.2C22.8 402.4 24.9 405.5 26.8 408.5C28.7 411.6 30.5 414.6 32.4 417.4C34.3 420.3 36.1 422.7 38.3 425.6C40.5 428.5 42.3 431.5 45.4 434.8C48.6 438.1 52.6 442.3 57.3 445.5C62.0 448.8 67.8 452.0 73.5 454.4C79.3 456.8 85.7 459.0 91.8 460.1C97.9 461.2 104.2 461.2 110.0 461.3C115.8 461.3 121.8 460.9 126.7 460.3C131.6 459.7 135.0 458.6 139.2 457.6C143.4 456.5 148.1 455.3 151.8 454.1C155.6 452.9 158.7 451.6 161.7 450.4C164.8 449.2 168.5 447.7 170.0 447.0C171.6 446.3 168.9 446.2 170.9 446.1C173.0 446.1 176.9 447.3 182.3 446.7C187.8 446.0 196.6 445.3 203.8 442.2C210.9 439.1 219.4 434.4 225.2 428.1C231.1 421.9 235.9 413.0 238.9 404.7C241.9 396.5 242.3 386.9 243.1 378.6C243.9 370.2 244.0 362.4 243.7 354.8C243.4 347.3 242.4 339.4 241.3 333.0C240.3 326.7 238.0 319.6 237.4 316.9Z" stroke="#f7f4f8" stroke-width="0.4" fill="none" stroke-dasharray="4.3 8.2 7.0 12.0 14.2 5.9" stroke-opacity="0.85"/>
<path d="M239.3 321.0C239.2 319.5 239.4 315.9 238.9 312.2C238.3 308.5 237.3 303.1 235.7 298.9C234.1 294.8 231.7 290.6 229.3 287.0C226.9 283.4 224.0 280.0 221.5 277.3C219.1 274.6 216.4 272.8 214.7 271.1C213.0 269.3 213.1 269.2 211.2 266.8C209.4 264.4 207.3 260.3 203.4 256.9C199.5 253.4 193.0 248.8 187.9 246.2C182.9 243.7 177.9 242.9 173.2 241.7C168.5 240.4 164.4 239.7 159.8 239.0C155.1 238.2 150.3 237.7 145.5 237.3C140.6 236.9 135.7 236.7 130.7 236.6C125.7 236.5 120.6 236.2 115.5 236.7C110.4 237.2 104.5 238.3 100.3 239.4C96.1 240.4 92.9 242.0 90.2 243.0C87.5 243.9 86.8 244.1 84.3 245.2C81.7 246.3 78.3 247.8 75.0 249.6C71.8 251.3 67.6 253.7 64.8 255.7C62.1 257.7 58.8 260.9 58.5 261.5C58.2 262.2 61.8 260.1 63.0 259.5C64.2 259.0 67.3 258.3 65.7 258.3C64.1 258.3 58.5 258.0 53.5 259.6C48.6 261.2 40.7 264.9 36.1 268.0C31.5 271.0 28.4 275.4 25.9 278.0C23.4 280.6 22.7 281.7 20.9 283.5C19.2 285.4 17.7 286.5 15.4 289.1C13.1 291.6 9.8 295.0 7.4 298.9C5.0 302.8 2.6 307.8 1.1 312.4C-0.3 317.1 -1.1 322.2 -1.5 326.6C-1.8 331.0 -1.1 335.3 -0.7 338.8C-0.3 342.4 0.2 344.6 0.9 348.1C1.7 351.5 2.5 355.9 3.5 359.5C4.6 363.1 5.9 366.6 7.0 369.9C8.1 373.2 8.7 376.0 10.0 379.3C11.2 382.6 12.9 386.4 14.6 389.9C16.2 393.3 17.9 396.7 19.7 399.9C21.5 403.2 23.6 406.3 25.5 409.3C27.4 412.4 29.2 415.4 31.1 418.3C33.1 421.1 34.9 423.6 37.1 426.5C39.3 429.5 41.1 432.4 44.3 435.8C47.5 439.2 51.7 443.5 56.4 446.8C61.2 450.1 67.1 453.4 72.9 455.8C78.8 458.3 85.4 460.4 91.5 461.6C97.7 462.8 104.1 462.8 110.0 462.8C115.9 462.8 122.0 462.5 126.9 461.8C131.8 461.2 135.4 460.1 139.6 459.0C143.8 458.0 148.5 456.8 152.3 455.6C156.1 454.4 159.2 453.0 162.3 451.9C165.3 450.7 169.1 449.1 170.6 448.4C172.0 447.7 169.1 447.7 171.1 447.6C173.0 447.6 176.9 448.9 182.5 448.2C188.0 447.5 197.0 446.8 204.3 443.6C211.7 440.5 220.3 435.6 226.4 429.2C232.4 422.8 237.3 413.6 240.4 405.2C243.4 396.8 243.9 387.1 244.7 378.7C245.5 370.3 245.6 362.4 245.3 354.8C245.0 347.1 243.9 339.2 242.9 332.8C241.8 326.4 239.5 319.2 238.9 316.5Z" stroke="#dccfe4" stroke-width="0.7" fill="none" stroke-dasharray="9.2 3.1 6.8 8.7 3.3 13.4" stroke-opacity="0.85"/>
<path d="M241.1 320.9C241.0 319.4 241.2 315.7 240.6 312.0C240.0 308.2 239.1 302.6 237.4 298.3C235.8 294.0 233.2 289.7 230.8 286.0C228.3 282.3 225.3 278.8 222.8 276.1C220.4 273.4 217.7 271.6 216.0 269.8C214.3 268.1 214.5 268.1 212.6 265.7C210.8 263.3 208.6 259.1 204.6 255.6C200.6 252.1 193.8 247.2 188.7 244.6C183.5 242.0 178.4 241.2 173.6 239.9C168.8 238.7 164.7 237.9 160.0 237.2C155.4 236.5 150.5 235.9 145.6 235.5C140.7 235.1 135.8 234.9 130.8 234.8C125.7 234.7 120.5 234.5 115.3 234.9C110.2 235.4 104.1 236.6 99.8 237.7C95.5 238.7 92.3 240.3 89.6 241.3C86.9 242.3 86.1 242.5 83.6 243.6C81.0 244.7 77.5 246.2 74.2 248.0C70.9 249.8 66.5 252.3 63.7 254.3C60.9 256.4 57.6 259.6 57.4 260.2C57.2 260.8 61.0 258.5 62.4 257.9C63.8 257.2 67.1 256.5 65.6 256.5C64.0 256.5 58.1 256.2 53.0 257.9C48.0 259.5 39.8 263.4 35.0 266.5C30.3 269.7 27.1 274.2 24.6 276.8C22.0 279.4 21.4 280.5 19.6 282.3C17.9 284.1 16.4 285.3 14.1 287.9C11.8 290.5 8.3 293.9 5.9 297.9C3.4 301.9 0.9 307.2 -0.6 311.9C-2.1 316.7 -2.9 321.9 -3.2 326.5C-3.6 331.0 -2.9 335.4 -2.5 339.1C-2.1 342.7 -1.5 344.9 -0.8 348.4C-0.1 351.9 0.8 356.3 1.8 360.0C2.8 363.6 4.2 367.1 5.3 370.4C6.4 373.8 7.0 376.6 8.3 379.9C9.6 383.3 11.3 387.1 12.9 390.6C14.6 394.1 16.3 397.5 18.1 400.8C20.0 404.1 22.1 407.2 24.0 410.3C25.9 413.4 27.7 416.4 29.6 419.3C31.6 422.1 33.4 424.6 35.6 427.6C37.8 430.6 39.7 433.6 43.0 437.0C46.3 440.5 50.5 444.9 55.4 448.3C60.3 451.7 66.3 455.0 72.2 457.5C78.2 460.0 84.9 462.2 91.2 463.4C97.5 464.5 104.0 464.5 110.0 464.6C116.0 464.6 122.1 464.3 127.1 463.6C132.1 463.0 135.8 461.8 140.1 460.8C144.3 459.7 149.0 458.5 152.8 457.3C156.6 456.1 159.9 454.7 162.9 453.5C166.0 452.3 169.8 450.8 171.2 450.1C172.5 449.4 169.3 449.4 171.2 449.4C173.1 449.4 177.0 450.7 182.6 450.0C188.2 449.3 197.5 448.6 205.0 445.3C212.5 442.0 221.5 437.0 227.7 430.4C233.8 423.8 239.0 414.3 242.1 405.7C245.2 397.1 245.6 387.3 246.5 378.8C247.3 370.3 247.4 362.4 247.1 354.7C246.7 347.0 245.7 338.9 244.6 332.5C243.5 326.0 241.3 318.8 240.6 316.1Z" stroke="#d5c6de" stroke-width="0.5" fill="none" stroke-dasharray="15.8 10.7 15.6 16.5 20.0 14.5" stroke-opacity="0.85"/>
<path d="M242.7 320.9C242.7 319.3 242.9 315.6 242.3 311.8C241.7 307.9 240.7 302.1 239.0 297.7C237.3 293.3 234.6 288.9 232.1 285.1C229.7 281.3 226.5 277.6 224.0 274.9C221.5 272.2 218.9 270.4 217.2 268.7C215.5 267.0 215.9 267.1 214.0 264.7C212.1 262.3 209.9 258.0 205.8 254.4C201.7 250.8 194.7 245.8 189.4 243.1C184.1 240.4 178.8 239.6 174.0 238.3C169.1 237.0 165.0 236.3 160.3 235.6C155.6 234.8 150.6 234.3 145.7 233.9C140.8 233.5 135.9 233.3 130.8 233.2C125.7 233.1 120.4 232.8 115.2 233.3C110.0 233.7 103.8 235.0 99.4 236.0C95.0 237.1 91.8 238.7 89.0 239.7C86.3 240.7 85.5 240.9 82.9 242.1C80.3 243.2 76.8 244.7 73.4 246.5C70.1 248.3 65.6 250.9 62.7 253.0C59.9 255.1 56.5 258.4 56.3 258.9C56.1 259.5 60.3 257.0 61.8 256.3C63.3 255.6 67.0 254.8 65.4 254.8C63.9 254.8 57.8 254.5 52.6 256.3C47.4 258.0 38.9 261.9 34.1 265.2C29.2 268.4 25.9 273.0 23.3 275.7C20.7 278.3 20.2 279.3 18.4 281.2C16.7 283.0 15.2 284.1 12.9 286.7C10.5 289.4 7.0 292.9 4.5 297.0C2.0 301.1 -0.6 306.5 -2.2 311.4C-3.7 316.3 -4.6 321.7 -4.9 326.4C-5.2 331.0 -4.6 335.6 -4.2 339.3C-3.7 343.0 -3.2 345.2 -2.4 348.8C-1.7 352.3 -0.8 356.7 0.2 360.4C1.2 364.1 2.6 367.6 3.7 370.9C4.8 374.3 5.4 377.1 6.7 380.5C8.0 383.9 9.8 387.8 11.4 391.3C13.1 394.9 14.8 398.3 16.7 401.6C18.5 404.9 20.6 408.1 22.6 411.2C24.5 414.3 26.3 417.3 28.3 420.2C30.2 423.1 32.0 425.6 34.3 428.6C36.5 431.6 38.4 434.6 41.8 438.2C45.1 441.7 49.5 446.2 54.5 449.6C59.4 453.1 65.5 456.4 71.6 459.0C77.7 461.6 84.5 463.8 90.9 465.0C97.3 466.2 103.9 466.2 110.0 466.3C116.1 466.3 122.2 465.9 127.3 465.3C132.4 464.6 136.1 463.5 140.5 462.4C144.8 461.3 149.5 460.1 153.3 458.9C157.2 457.6 160.5 456.3 163.6 455.1C166.6 453.9 170.4 452.3 171.7 451.7C173.0 451.0 169.6 451.1 171.4 451.1C173.2 451.1 177.0 452.4 182.7 451.6C188.4 450.9 197.9 450.2 205.6 446.8C213.3 443.5 222.5 438.3 228.9 431.6C235.2 424.8 240.5 415.0 243.7 406.2C246.9 397.5 247.3 387.6 248.1 379.0C249.0 370.4 249.0 362.4 248.7 354.6C248.4 346.9 247.3 338.7 246.3 332.2C245.2 325.7 242.9 318.4 242.2 315.7Z" stroke="#c6b2d1" stroke-width="1.1" fill="none" stroke-dasharray="4.9 16.0 14.3 6.4 4.8 4.4" stroke-opacity="0.85"/>
<path d="M243.9 320.8C243.8 319.3 244.1 315.5 243.4 311.6C242.8 307.7 241.7 301.8 240.0 297.3C238.3 292.8 235.6 288.3 233.1 284.4C230.6 280.6 227.4 276.9 224.9 274.1C222.3 271.4 219.7 269.6 218.0 267.9C216.4 266.2 216.8 266.4 214.9 264.0C213.0 261.6 210.8 257.2 206.6 253.6C202.4 249.9 195.2 244.8 189.9 242.1C184.5 239.4 179.2 238.5 174.3 237.2C169.4 235.9 165.2 235.2 160.5 234.4C155.7 233.7 150.8 233.1 145.8 232.7C140.9 232.3 136.0 232.1 130.8 232.0C125.7 231.9 120.4 231.6 115.1 232.1C109.8 232.6 103.6 233.9 99.1 234.9C94.7 236.0 91.4 237.6 88.6 238.7C85.8 239.7 85.1 239.9 82.5 241.0C79.8 242.2 76.3 243.6 72.9 245.5C69.5 247.3 64.9 250.0 62.0 252.1C59.2 254.2 55.7 257.5 55.6 258.1C55.5 258.6 59.8 256.0 61.4 255.2C63.0 254.5 66.9 253.7 65.4 253.7C63.8 253.7 57.6 253.4 52.3 255.2C47.0 256.9 38.4 260.9 33.4 264.2C28.4 267.5 25.1 272.2 22.5 274.9C19.9 277.6 19.3 278.5 17.6 280.4C15.9 282.2 14.4 283.3 12.0 286.0C9.7 288.6 6.1 292.2 3.5 296.4C1.0 300.6 -1.7 306.1 -3.3 311.1C-4.8 316.1 -5.7 321.6 -6.0 326.3C-6.4 331.0 -5.7 335.7 -5.3 339.4C-4.9 343.2 -4.3 345.4 -3.6 349.0C-2.8 352.5 -1.9 357.0 -0.9 360.7C0.2 364.4 1.5 367.9 2.6 371.3C3.7 374.7 4.4 377.5 5.7 380.9C7.0 384.3 8.7 388.3 10.4 391.8C12.1 395.4 13.8 398.9 15.7 402.2C17.5 405.5 19.7 408.7 21.6 411.8C23.5 414.9 25.4 417.9 27.3 420.8C29.3 423.7 31.1 426.3 33.4 429.3C35.6 432.3 37.5 435.4 40.9 438.9C44.3 442.5 48.8 447.0 53.8 450.6C58.8 454.1 65.0 457.5 71.1 460.1C77.3 462.6 84.3 464.9 90.7 466.1C97.2 467.3 103.9 467.3 110.0 467.4C116.1 467.4 122.3 467.1 127.5 466.4C132.6 465.8 136.4 464.6 140.7 463.5C145.1 462.4 149.8 461.2 153.7 459.9C157.5 458.7 160.9 457.3 164.0 456.1C167.1 454.9 170.9 453.4 172.1 452.7C173.4 452.1 169.7 452.2 171.5 452.2C173.3 452.2 177.1 453.5 182.8 452.8C188.6 452.1 198.2 451.3 206.0 447.9C213.8 444.5 223.2 439.2 229.7 432.3C236.1 425.4 241.5 415.4 244.8 406.6C248.0 397.7 248.4 387.7 249.3 379.1C250.1 370.4 250.2 362.5 249.9 354.6C249.5 346.8 248.5 338.5 247.4 332.0C246.3 325.5 244.0 318.2 243.3 315.4Z" stroke="#d5c6de" stroke-width="0.4" fill="none" stroke-dasharray="10.5 5.1 18.1 15.3 8.5 10.6" stroke-opacity="0.85"/>
<path d="M245.6 320.8C245.6 319.2 245.8 315.4 245.2 311.4C244.5 307.4 243.5 301.3 241.7 296.7C239.9 292.0 237.1 287.4 234.6 283.4C232.0 279.5 228.7 275.7 226.2 272.9C223.6 270.1 221.0 268.3 219.3 266.7C217.7 265.0 218.2 265.3 216.3 262.9C214.3 260.5 212.1 256.0 207.8 252.3C203.6 248.5 196.1 243.3 190.6 240.5C185.1 237.7 179.6 236.8 174.7 235.5C169.7 234.2 165.5 233.4 160.7 232.7C156.0 231.9 150.9 231.4 146.0 231.0C141.0 230.5 136.1 230.3 130.9 230.2C125.7 230.1 120.3 229.9 115.0 230.4C109.6 230.9 103.2 232.1 98.7 233.2C94.2 234.3 90.8 236.0 88.0 237.0C85.2 238.0 84.4 238.2 81.8 239.4C79.1 240.5 75.5 242.0 72.1 243.9C68.6 245.8 63.9 248.5 61.0 250.7C58.0 252.8 54.4 256.2 54.4 256.7C54.4 257.2 59.0 254.4 60.8 253.6C62.6 252.8 66.7 252.0 65.2 251.9C63.7 251.9 57.3 251.7 51.8 253.5C46.3 255.3 37.5 259.4 32.4 262.8C27.3 266.2 23.8 271.0 21.2 273.7C18.5 276.4 18.0 277.3 16.3 279.2C14.6 281.0 13.1 282.0 10.7 284.7C8.3 287.5 4.6 291.1 2.0 295.4C-0.6 299.7 -3.3 305.4 -4.9 310.5C-6.6 315.7 -7.5 321.4 -7.8 326.2C-8.2 331.1 -7.5 335.8 -7.0 339.7C-6.6 343.5 -6.0 345.8 -5.3 349.3C-4.6 352.9 -3.6 357.5 -2.6 361.2C-1.6 365.0 -0.2 368.5 0.9 371.8C2.0 375.2 2.7 378.1 4.0 381.5C5.3 385.0 7.1 389.0 8.8 392.6C10.5 396.2 12.3 399.7 14.1 403.1C16.0 406.4 18.1 409.6 20.1 412.7C22.0 415.8 23.9 418.9 25.8 421.8C27.8 424.7 29.6 427.3 31.9 430.3C34.2 433.4 36.1 436.5 39.6 440.1C43.1 443.7 47.7 448.4 52.8 452.0C57.9 455.6 64.2 459.1 70.4 461.7C76.7 464.3 83.8 466.6 90.4 467.9C97.0 469.1 103.8 469.1 110.0 469.2C116.2 469.2 122.5 468.8 127.7 468.2C132.9 467.5 136.8 466.3 141.2 465.2C145.6 464.1 150.3 462.9 154.2 461.6C158.1 460.4 161.5 459.0 164.6 457.8C167.7 456.6 171.6 455.0 172.7 454.4C173.9 453.8 170.0 454.0 171.7 454.0C173.4 454.0 177.1 455.3 183.0 454.5C188.8 453.8 198.7 453.1 206.7 449.6C214.7 446.1 224.3 440.6 231.0 433.6C237.6 426.5 243.1 416.1 246.5 407.1C249.8 398.0 250.2 388.0 251.0 379.2C251.9 370.5 252.0 362.5 251.6 354.5C251.3 346.6 250.2 338.3 249.1 331.7C248.0 325.1 245.7 317.8 245.1 315.0Z" stroke="#dccfe4" stroke-width="1.2" fill="none" stroke-dasharray="14.9 3.2 6.3 12.1 19.5 6.7" stroke-opacity="0.85"/>
<path d="M247.0 320.7C247.0 319.1 247.2 315.3 246.6 311.2C245.9 307.1 244.8 300.9 243.0 296.2C241.2 291.4 238.3 286.7 235.7 282.7C233.1 278.6 229.7 274.8 227.2 272.0C224.6 269.1 221.9 267.3 220.3 265.7C218.7 264.0 219.3 264.4 217.3 262.0C215.4 259.6 213.2 255.1 208.8 251.3C204.4 247.5 196.8 242.1 191.2 239.2C185.6 236.3 180.0 235.4 175.0 234.1C170.0 232.8 165.8 232.1 161.0 231.3C156.1 230.6 151.1 230.0 146.1 229.6C141.1 229.2 136.1 229.0 130.9 228.9C125.7 228.8 120.3 228.5 114.9 229.0C109.4 229.5 102.9 230.8 98.3 231.9C93.8 233.0 90.4 234.6 87.5 235.7C84.6 236.7 83.9 236.9 81.2 238.1C78.5 239.3 75.0 240.8 71.4 242.7C67.9 244.6 63.1 247.4 60.1 249.6C57.1 251.7 53.5 255.2 53.5 255.6C53.5 256.1 58.3 253.1 60.3 252.3C62.2 251.4 66.6 250.6 65.1 250.6C63.6 250.5 57.0 250.3 51.4 252.1C45.8 254.0 36.8 258.2 31.5 261.7C26.3 265.1 22.9 270.0 20.2 272.8C17.4 275.5 17.0 276.4 15.3 278.2C13.6 280.0 12.1 281.1 9.7 283.8C7.3 286.6 3.5 290.3 0.8 294.7C-1.8 299.1 -4.6 304.9 -6.3 310.1C-7.9 315.4 -8.8 321.2 -9.2 326.1C-9.6 331.1 -8.8 335.9 -8.4 339.9C-8.0 343.8 -7.4 346.0 -6.7 349.6C-5.9 353.2 -5.0 357.8 -3.9 361.6C-2.9 365.4 -1.5 368.9 -0.4 372.3C0.7 375.7 1.4 378.5 2.7 382.0C4.0 385.5 5.8 389.5 7.5 393.2C9.2 396.8 11.0 400.4 12.9 403.7C14.8 407.1 17.0 410.3 18.9 413.5C20.9 416.6 22.7 419.6 24.7 422.6C26.7 425.5 28.5 428.1 30.8 431.2C33.1 434.2 35.1 437.4 38.6 441.1C42.1 444.7 46.8 449.5 52.0 453.2C57.2 456.8 63.5 460.3 69.9 463.0C76.2 465.6 83.5 468.0 90.2 469.2C96.9 470.5 103.7 470.5 110.0 470.6C116.3 470.6 122.6 470.2 127.9 469.5C133.1 468.9 137.1 467.7 141.5 466.6C146.0 465.5 150.7 464.2 154.6 463.0C158.5 461.7 162.0 460.3 165.1 459.1C168.2 457.9 172.1 456.3 173.2 455.7C174.3 455.1 170.2 455.3 171.8 455.4C173.5 455.4 177.2 456.7 183.1 455.9C189.0 455.2 199.0 454.4 207.2 450.8C215.3 447.3 225.2 441.7 232.0 434.5C238.8 427.3 244.4 416.7 247.8 407.5C251.2 398.3 251.5 388.2 252.4 379.4C253.3 370.5 253.3 362.5 253.0 354.5C252.7 346.5 251.6 338.1 250.5 331.5C249.4 324.8 247.1 317.5 246.4 314.6Z" stroke="#d5c6de" stroke-width="1.1" fill="none" stroke-dasharray="8.9 11.8 10.0 11.0 13.5 18.5" stroke-opacity="0.85"/>
<path d="M248.1 320.7C248.1 319.1 248.3 315.2 247.6 311.1C247.0 306.9 245.9 300.6 244.0 295.8C242.2 290.9 239.3 286.1 236.6 282.0C233.9 277.9 230.5 274.0 228.0 271.2C225.4 268.3 222.7 266.6 221.1 264.9C219.5 263.3 220.1 263.7 218.2 261.3C216.3 258.9 214.0 254.3 209.6 250.5C205.1 246.6 197.4 241.1 191.6 238.2C185.9 235.3 180.3 234.4 175.3 233.0C170.2 231.7 166.0 231.0 161.1 230.2C156.3 229.5 151.2 228.9 146.2 228.5C141.1 228.1 136.2 227.9 131.0 227.8C125.7 227.7 120.2 227.4 114.8 227.9C109.3 228.4 102.7 229.7 98.1 230.8C93.5 231.9 90.0 233.6 87.1 234.7C84.2 235.7 83.5 235.9 80.8 237.1C78.1 238.3 74.5 239.8 70.9 241.7C67.4 243.6 62.5 246.5 59.5 248.7C56.4 250.9 52.7 254.4 52.8 254.8C52.9 255.2 57.8 252.1 59.9 251.2C61.9 250.4 66.5 249.5 65.0 249.5C63.6 249.4 56.8 249.2 51.1 251.1C45.4 253.0 36.2 257.3 30.9 260.8C25.6 264.3 22.1 269.3 19.3 272.0C16.6 274.8 16.2 275.6 14.5 277.4C12.8 279.3 11.3 280.3 8.9 283.1C6.5 285.8 2.6 289.6 -0.1 294.1C-2.8 298.6 -5.6 304.5 -7.3 309.8C-9.0 315.1 -9.9 321.0 -10.3 326.1C-10.7 331.1 -9.9 336.0 -9.5 340.0C-9.1 344.0 -8.5 346.2 -7.7 349.9C-7.0 353.5 -6.0 358.1 -5.0 361.9C-3.9 365.7 -2.5 369.2 -1.4 372.6C-0.3 376.0 0.3 378.9 1.7 382.4C3.0 385.9 4.8 390.0 6.5 393.6C8.3 397.3 10.1 400.9 12.0 404.3C13.9 407.7 16.0 410.9 18.0 414.0C20.0 417.2 21.8 420.2 23.8 423.2C25.8 426.2 27.6 428.7 29.9 431.8C32.3 434.9 34.2 438.1 37.8 441.8C41.4 445.5 46.1 450.4 51.4 454.1C56.7 457.8 63.0 461.3 69.5 464.0C75.9 466.7 83.2 469.0 90.0 470.3C96.7 471.6 103.7 471.6 110.0 471.7C116.3 471.7 122.7 471.3 128.0 470.6C133.3 470.0 137.3 468.7 141.8 467.6C146.3 466.5 151.0 465.3 154.9 464.0C158.9 462.8 162.4 461.3 165.5 460.1C168.6 458.9 172.5 457.4 173.6 456.8C174.7 456.1 170.4 456.4 171.9 456.5C173.5 456.5 177.2 457.8 183.2 457.0C189.1 456.3 199.3 455.5 207.6 451.9C215.9 448.2 225.9 442.6 232.8 435.3C239.7 427.9 245.4 417.1 248.9 407.8C252.3 398.5 252.6 388.4 253.5 379.5C254.4 370.6 254.4 362.5 254.1 354.4C253.8 346.4 252.7 338.0 251.6 331.3C250.5 324.6 248.2 317.2 247.5 314.4Z" stroke="#fbfafc" stroke-width="0.7" fill="none" stroke-dasharray="7.0 5.8 18.3 10.4 9.6 11.8" stroke-opacity="0.85"/>
<path d="M249.6 320.6C249.5 319.0 249.8 315.1 249.1 310.9C248.4 306.7 247.3 300.2 245.4 295.2C243.5 290.3 240.6 285.4 237.9 281.2C235.1 277.0 231.7 273.0 229.0 270.2C226.4 267.3 223.8 265.5 222.2 263.9C220.6 262.3 221.3 262.8 219.4 260.4C217.5 258.0 215.1 253.3 210.6 249.4C206.1 245.5 198.1 239.8 192.3 236.8C186.4 233.9 180.8 232.9 175.6 231.6C170.5 230.2 166.3 229.5 161.4 228.7C156.5 228.0 151.3 227.4 146.3 227.0C141.2 226.6 136.3 226.4 131.0 226.3C125.7 226.2 120.2 225.9 114.6 226.4C109.1 226.9 102.4 228.2 97.7 229.4C93.0 230.5 89.5 232.2 86.6 233.3C83.7 234.3 82.9 234.5 80.2 235.7C77.4 236.9 73.8 238.4 70.2 240.4C66.6 242.3 61.6 245.3 58.6 247.5C55.5 249.7 51.7 253.3 51.8 253.7C52.0 254.1 57.2 250.8 59.3 249.8C61.5 248.9 66.4 248.0 64.9 248.0C63.5 247.9 56.5 247.7 50.7 249.6C44.9 251.6 35.4 256.0 30.0 259.5C24.6 263.1 21.0 268.2 18.2 271.0C15.5 273.8 15.1 274.6 13.4 276.4C11.7 278.2 10.3 279.2 7.8 282.0C5.3 284.9 1.4 288.7 -1.3 293.3C-4.1 297.8 -7.0 303.9 -8.8 309.3C-10.5 314.8 -11.4 320.9 -11.8 326.0C-12.2 331.1 -11.4 336.2 -11.0 340.2C-10.6 344.2 -10.0 346.5 -9.2 350.2C-8.4 353.8 -7.5 358.5 -6.4 362.3C-5.4 366.1 -4.0 369.6 -2.9 373.1C-1.7 376.5 -1.1 379.4 0.3 382.9C1.6 386.5 3.5 390.6 5.2 394.3C6.9 398.0 8.7 401.6 10.7 405.0C12.6 408.5 14.7 411.7 16.7 414.8C18.7 418.0 20.5 421.1 22.5 424.0C24.5 427.0 26.4 429.6 28.7 432.7C31.1 435.8 33.0 439.1 36.7 442.8C40.3 446.6 45.2 451.5 50.5 455.3C55.9 459.1 62.3 462.6 68.9 465.4C75.4 468.1 82.9 470.5 89.7 471.8C96.6 473.1 103.6 473.1 110.0 473.2C116.4 473.2 122.8 472.8 128.2 472.1C133.6 471.4 137.6 470.2 142.2 469.1C146.7 468.0 151.4 466.7 155.4 465.4C159.4 464.2 163.0 462.7 166.1 461.5C169.2 460.3 173.1 458.8 174.1 458.2C175.1 457.6 170.6 457.9 172.1 458.0C173.6 458.0 177.3 459.3 183.3 458.5C189.3 457.7 199.7 457.0 208.1 453.3C216.6 449.6 226.9 443.8 233.9 436.3C240.9 428.8 246.8 417.7 250.3 408.3C253.8 398.8 254.1 388.6 255.0 379.6C255.9 370.6 255.9 362.5 255.6 354.4C255.3 346.3 254.2 337.8 253.1 331.0C251.9 324.3 249.6 316.9 248.9 314.0Z" stroke="#dccfe4" stroke-width="0.7" fill="none" stroke-dasharray="8.9 15.8 5.9 9.3 6.1 9.6" stroke-opacity="0.85"/>
<path d="M250.7 320.6C250.7 319.0 250.9 315.1 250.2 310.8C249.5 306.5 248.4 299.9 246.4 294.8C244.5 289.8 241.5 284.8 238.8 280.6C236.0 276.3 232.5 272.3 229.8 269.4C227.2 266.5 224.6 264.7 223.0 263.1C221.4 261.5 222.2 262.2 220.3 259.7C218.3 257.3 216.0 252.6 211.4 248.6C206.8 244.6 198.7 238.9 192.7 235.8C186.8 232.8 181.1 231.9 175.9 230.5C170.7 229.1 166.5 228.4 161.5 227.7C156.6 226.9 151.5 226.3 146.4 225.9C141.3 225.5 136.3 225.3 131.0 225.2C125.7 225.1 120.2 224.8 114.6 225.3C109.0 225.8 102.1 227.1 97.4 228.3C92.7 229.4 89.1 231.1 86.2 232.2C83.3 233.3 82.5 233.5 79.7 234.7C77.0 235.9 73.4 237.4 69.7 239.4C66.1 241.4 61.0 244.4 57.9 246.6C54.8 248.8 50.9 252.5 51.1 252.8C51.3 253.2 56.7 249.8 59.0 248.8C61.2 247.8 66.3 246.9 64.8 246.9C63.4 246.8 56.3 246.6 50.4 248.6C44.5 250.5 34.9 255.0 29.4 258.6C23.9 262.3 20.2 267.4 17.4 270.3C14.6 273.1 14.3 273.8 12.6 275.7C10.9 277.5 9.5 278.4 7.0 281.3C4.5 284.1 0.5 288.1 -2.3 292.7C-5.1 297.3 -8.0 303.5 -9.8 309.0C-11.6 314.5 -12.5 320.7 -12.9 325.9C-13.3 331.2 -12.5 336.3 -12.1 340.3C-11.7 344.4 -11.0 346.7 -10.3 350.4C-9.5 354.1 -8.6 358.7 -7.5 362.6C-6.4 366.4 -5.0 370.0 -3.9 373.4C-2.8 376.9 -2.1 379.8 -0.8 383.3C0.6 386.9 2.4 391.0 4.2 394.7C5.9 398.5 7.8 402.1 9.7 405.6C11.6 409.0 13.8 412.2 15.8 415.4C17.8 418.6 19.6 421.7 21.6 424.6C23.6 427.6 25.5 430.2 27.8 433.4C30.2 436.5 32.2 439.8 35.9 443.6C39.5 447.4 44.5 452.4 49.9 456.2C55.3 460.0 61.8 463.6 68.4 466.4C75.0 469.2 82.6 471.6 89.5 472.9C96.4 474.2 103.5 474.2 110.0 474.3C116.5 474.3 122.9 473.9 128.3 473.2C133.7 472.5 137.9 471.3 142.4 470.1C147.0 469.0 151.7 467.8 155.7 466.5C159.7 465.2 163.4 463.7 166.5 462.5C169.6 461.3 173.5 459.8 174.5 459.2C175.4 458.6 170.7 459.0 172.2 459.0C173.7 459.1 177.3 460.4 183.4 459.6C189.4 458.8 200.0 458.1 208.6 454.3C217.1 450.5 227.5 444.7 234.7 437.1C241.8 429.4 247.8 418.2 251.3 408.6C254.9 399.0 255.2 388.7 256.1 379.7C257.0 370.6 257.0 362.5 256.7 354.3C256.4 346.2 255.3 337.6 254.1 330.8C253.0 324.1 250.7 316.6 250.0 313.8Z" stroke="#f7f4f8" stroke-width="0.8" fill="none" stroke-dasharray="19.3 10.3 6.7 4.7 9.0 13.2" stroke-opacity="0.85"/>
<path d="M251.9 320.6C251.8 318.9 252.1 315.0 251.4 310.6C250.7 306.3 249.5 299.5 247.5 294.4C245.6 289.3 242.5 284.2 239.7 279.9C236.9 275.6 233.3 271.5 230.7 268.6C228.0 265.7 225.4 263.9 223.8 262.3C222.2 260.7 223.1 261.4 221.2 259.0C219.2 256.6 216.8 251.8 212.2 247.8C207.5 243.7 199.2 237.9 193.2 234.8C187.2 231.7 181.4 230.8 176.1 229.4C170.9 228.0 166.7 227.3 161.7 226.5C156.8 225.7 151.6 225.1 146.5 224.7C141.4 224.3 136.4 224.1 131.0 224.0C125.7 223.9 120.1 223.6 114.5 224.1C108.8 224.7 101.9 226.0 97.1 227.2C92.3 228.3 88.8 230.0 85.8 231.1C82.8 232.2 82.0 232.4 79.3 233.6C76.5 234.8 72.9 236.4 69.2 238.4C65.5 240.4 60.3 243.4 57.2 245.7C54.1 247.9 50.1 251.6 50.4 251.9C50.6 252.3 56.1 248.8 58.5 247.7C60.9 246.7 66.2 245.7 64.8 245.7C63.3 245.7 56.1 245.4 50.1 247.4C44.1 249.4 34.3 254.0 28.7 257.7C23.1 261.4 19.4 266.6 16.6 269.5C13.7 272.4 13.5 273.0 11.8 274.9C10.0 276.7 8.6 277.6 6.1 280.5C3.6 283.4 -0.4 287.4 -3.3 292.1C-6.1 296.8 -9.1 303.0 -10.9 308.7C-12.7 314.3 -13.7 320.6 -14.1 325.9C-14.4 331.2 -13.7 336.4 -13.2 340.5C-12.8 344.6 -12.2 346.9 -11.4 350.6C-10.6 354.3 -9.7 359.0 -8.6 362.9C-7.6 366.8 -6.1 370.3 -5.0 373.8C-3.9 377.2 -3.2 380.1 -1.9 383.7C-0.5 387.3 1.4 391.5 3.1 395.2C4.9 399.0 6.7 402.7 8.7 406.1C10.6 409.6 12.8 412.8 14.8 416.0C16.8 419.2 18.6 422.3 20.6 425.3C22.7 428.3 24.5 430.9 26.9 434.1C29.3 437.2 31.3 440.5 35.0 444.4C38.7 448.2 43.7 453.3 49.2 457.2C54.7 461.0 61.3 464.6 68.0 467.4C74.7 470.3 82.3 472.7 89.3 474.0C96.3 475.4 103.5 475.4 110.0 475.4C116.5 475.5 123.0 475.1 128.5 474.4C133.9 473.7 138.1 472.4 142.7 471.3C147.3 470.1 152.0 468.9 156.1 467.6C160.1 466.3 163.8 464.8 166.9 463.6C170.1 462.4 174.0 460.9 174.9 460.3C175.8 459.7 170.9 460.1 172.3 460.2C173.8 460.3 177.4 461.6 183.5 460.8C189.6 460.0 200.3 459.2 209.0 455.4C217.7 451.6 228.3 445.6 235.5 437.9C242.8 430.1 248.8 418.6 252.4 409.0C256.1 399.3 256.4 388.9 257.3 379.8C258.2 370.7 258.2 362.5 257.9 354.3C257.6 346.1 256.4 337.4 255.3 330.6C254.2 323.8 251.8 316.3 251.1 313.5Z" stroke="#cbb8d6" stroke-width="1.0" fill="none" stroke-dasharray="10.8 14.2 13.2 13.5 11.4 11.9" stroke-opacity="0.85"/>
<path d="M253.2 320.5C253.1 318.8 253.4 314.9 252.7 310.5C251.9 306.0 250.7 299.2 248.7 293.9C246.8 288.7 243.7 283.6 240.8 279.2C238.0 274.8 234.3 270.7 231.6 267.7C228.9 264.7 226.3 263.0 224.7 261.4C223.2 259.8 224.1 260.7 222.2 258.2C220.3 255.8 217.8 251.0 213.1 246.9C208.3 242.8 199.9 236.7 193.8 233.6C187.7 230.5 181.7 229.5 176.4 228.1C171.1 226.7 166.9 226.0 161.9 225.2C156.9 224.4 151.7 223.8 146.6 223.4C141.4 223.0 136.4 222.8 131.1 222.7C125.7 222.6 120.1 222.3 114.4 222.8C108.6 223.4 101.6 224.7 96.8 225.9C92.0 227.1 88.3 228.8 85.3 229.9C82.3 231.0 81.6 231.2 78.8 232.5C76.0 233.7 72.3 235.2 68.6 237.2C64.9 239.2 59.6 242.4 56.4 244.6C53.2 246.9 49.2 250.6 49.5 250.9C49.8 251.3 55.6 247.6 58.1 246.5C60.6 245.4 66.1 244.5 64.7 244.4C63.3 244.4 55.8 244.2 49.7 246.2C43.6 248.2 33.6 252.9 28.0 256.7C22.3 260.4 18.5 265.7 15.6 268.6C12.7 271.5 12.6 272.1 10.8 274.0C9.1 275.8 7.7 276.7 5.2 279.6C2.7 282.5 -1.5 286.6 -4.3 291.4C-7.2 296.1 -10.3 302.5 -12.1 308.3C-14.0 314.0 -15.0 320.4 -15.3 325.8C-15.7 331.2 -15.0 336.5 -14.5 340.7C-14.1 344.8 -13.5 347.1 -12.7 350.9C-11.9 354.6 -10.9 359.4 -9.9 363.2C-8.8 367.1 -7.4 370.7 -6.2 374.2C-5.1 377.7 -4.4 380.6 -3.1 384.2C-1.7 387.8 0.2 392.0 2.0 395.8C3.7 399.6 5.6 403.3 7.6 406.8C9.5 410.3 11.7 413.5 13.7 416.7C15.7 419.9 17.5 423.0 19.6 426.0C21.6 429.0 23.5 431.6 25.9 434.8C28.3 438.0 30.3 441.3 34.0 445.2C37.8 449.1 42.9 454.3 48.5 458.2C54.1 462.1 60.7 465.8 67.5 468.6C74.2 471.5 82.0 474.0 89.1 475.3C96.2 476.7 103.4 476.7 110.0 476.7C116.6 476.8 123.1 476.4 128.6 475.7C134.2 475.0 138.4 473.7 143.0 472.5C147.7 471.4 152.4 470.1 156.5 468.8C160.5 467.6 164.3 466.0 167.4 464.8C170.5 463.6 174.5 462.1 175.3 461.5C176.2 461.0 171.1 461.4 172.4 461.5C173.8 461.6 177.4 462.9 183.6 462.1C189.7 461.3 200.6 460.5 209.5 456.6C218.3 452.7 229.1 446.6 236.5 438.8C243.8 430.9 250.0 419.1 253.7 409.3C257.4 399.5 257.6 389.1 258.5 379.9C259.5 370.7 259.5 362.5 259.2 354.2C258.8 346.0 257.7 337.3 256.6 330.4C255.4 323.6 253.1 316.0 252.4 313.2Z" stroke="#fbfafc" stroke-width="0.6" fill="none" stroke-dasharray="16.4 8.1 17.4 4.2 11.2 10.5" stroke-opacity="0.85"/>
<path d="M254.7 320.5C254.6 318.8 254.9 314.8 254.2 310.3C253.4 305.8 252.2 298.7 250.1 293.4C248.1 288.1 245.0 282.8 242.1 278.4C239.2 273.9 235.4 269.7 232.7 266.7C230.0 263.7 227.4 261.9 225.8 260.4C224.3 258.8 225.3 259.7 223.4 257.3C221.4 254.9 219.0 249.9 214.1 245.8C209.3 241.6 200.6 235.4 194.4 232.2C188.2 229.1 182.2 228.1 176.8 226.7C171.4 225.2 167.2 224.5 162.1 223.7C157.1 222.9 151.9 222.3 146.7 221.9C141.5 221.5 136.5 221.3 131.1 221.2C125.7 221.1 120.0 220.8 114.2 221.3C108.4 221.9 101.3 223.3 96.4 224.4C91.5 225.6 87.9 227.4 84.8 228.5C81.8 229.6 81.0 229.8 78.2 231.1C75.3 232.3 71.7 233.8 67.9 235.9C64.1 237.9 58.7 241.1 55.5 243.4C52.3 245.8 48.2 249.5 48.5 249.8C48.9 250.1 54.9 246.3 57.5 245.1C60.2 244.0 65.9 243.0 64.5 242.9C63.2 242.8 55.5 242.7 49.3 244.8C43.1 246.8 32.9 251.6 27.1 255.4C21.3 259.2 17.4 264.7 14.5 267.6C11.6 270.5 11.5 271.1 9.7 272.9C8.0 274.8 6.6 275.7 4.1 278.6C1.5 281.5 -2.7 285.7 -5.6 290.6C-8.6 295.4 -11.7 302.0 -13.6 307.8C-15.5 313.7 -16.5 320.2 -16.9 325.7C-17.3 331.2 -16.5 336.6 -16.0 340.9C-15.6 345.1 -14.9 347.4 -14.2 351.2C-13.4 355.0 -12.4 359.7 -11.3 363.6C-10.2 367.6 -8.8 371.1 -7.7 374.6C-6.5 378.1 -5.9 381.1 -4.5 384.7C-3.1 388.3 -1.2 392.6 0.6 396.4C2.4 400.2 4.3 404.0 6.2 407.5C8.2 411.0 10.4 414.3 12.4 417.5C14.4 420.7 16.3 423.8 18.3 426.9C20.4 429.9 22.2 432.5 24.7 435.7C27.1 439.0 29.1 442.3 32.9 446.2C36.8 450.2 42.0 455.5 47.6 459.5C53.3 463.4 60.0 467.1 66.9 470.0C73.7 472.9 81.6 475.4 88.8 476.8C96.0 478.2 103.3 478.2 110.0 478.2C116.7 478.3 123.3 477.9 128.8 477.2C134.4 476.4 138.7 475.1 143.4 474.0C148.1 472.8 152.8 471.6 156.9 470.3C161.0 469.0 164.8 467.4 167.9 466.2C171.1 465.0 175.1 463.5 175.8 462.9C176.6 462.4 171.3 462.9 172.6 463.0C173.9 463.1 177.5 464.4 183.7 463.6C189.9 462.7 201.0 461.9 210.0 458.0C219.0 454.0 230.0 447.8 237.6 439.8C245.1 431.8 251.4 419.7 255.1 409.8C258.9 399.8 259.1 389.3 260.0 380.0C261.0 370.8 261.0 362.5 260.7 354.2C260.4 345.9 259.2 337.1 258.1 330.2C256.9 323.3 254.5 315.7 253.8 312.8Z" stroke="#d5c6de" stroke-width="1.3" fill="none" stroke-dasharray="15.1 19.3 18.4 7.5 19.9 18.9" stroke-opacity="0.85"/>
<path d="M256.1 320.4C256.0 318.7 256.4 314.7 255.6 310.1C254.8 305.5 253.5 298.3 251.5 292.9C249.4 287.5 246.2 282.1 243.2 277.6C240.3 273.0 236.5 268.7 233.8 265.7C231.0 262.7 228.4 260.9 226.9 259.4C225.3 257.8 226.5 258.9 224.5 256.4C222.5 254.0 220.0 249.0 215.1 244.7C210.2 240.5 201.3 234.2 195.0 231.0C188.7 227.7 182.6 226.7 177.1 225.3C171.7 223.8 167.4 223.1 162.4 222.3C157.3 221.5 152.0 220.9 146.8 220.5C141.6 220.1 136.6 219.9 131.1 219.8C125.7 219.7 120.0 219.4 114.1 219.9C108.3 220.5 101.0 221.9 96.1 223.1C91.1 224.3 87.4 226.1 84.3 227.2C81.2 228.3 80.4 228.5 77.6 229.8C74.8 231.0 71.1 232.5 67.2 234.6C63.4 236.7 57.9 240.0 54.6 242.3C51.4 244.7 47.2 248.5 47.6 248.7C48.0 249.0 54.2 245.0 57.0 243.8C59.8 242.6 65.8 241.5 64.4 241.5C63.1 241.4 55.3 241.3 48.9 243.4C42.5 245.5 32.2 250.4 26.2 254.3C20.3 258.1 16.4 263.7 13.4 266.6C10.5 269.6 10.4 270.1 8.7 271.9C7.0 273.8 5.6 274.7 3.0 277.6C0.5 280.6 -3.8 284.8 -6.8 289.8C-9.8 294.7 -13.0 301.4 -14.9 307.4C-16.9 313.4 -17.9 320.0 -18.3 325.7C-18.7 331.3 -17.9 336.7 -17.4 341.1C-17.0 345.4 -16.3 347.6 -15.6 351.5C-14.8 355.3 -13.8 360.1 -12.7 364.0C-11.6 368.0 -10.2 371.5 -9.0 375.1C-7.9 378.6 -7.2 381.5 -5.8 385.2C-4.4 388.9 -2.5 393.2 -0.7 397.1C1.1 400.9 3.0 404.7 5.0 408.2C7.0 411.8 9.2 415.0 11.2 418.3C13.2 421.5 15.1 424.6 17.1 427.7C19.2 430.7 21.1 433.3 23.5 436.6C26.0 439.8 28.0 443.2 31.9 447.2C35.8 451.2 41.1 456.6 46.8 460.6C52.6 464.7 59.4 468.4 66.3 471.3C73.3 474.3 81.3 476.8 88.6 478.2C95.8 479.6 103.3 479.6 110.0 479.7C116.7 479.7 123.4 479.3 129.0 478.6C134.6 477.9 139.1 476.5 143.8 475.4C148.5 474.2 153.2 472.9 157.3 471.6C161.5 470.3 165.3 468.8 168.5 467.5C171.6 466.3 175.6 464.8 176.3 464.3C177.0 463.7 171.5 464.3 172.7 464.4C174.0 464.5 177.5 465.8 183.8 465.0C190.1 464.1 201.4 463.3 210.5 459.3C219.7 455.3 230.9 449.0 238.6 440.8C246.2 432.6 252.7 420.3 256.5 410.2C260.3 400.1 260.5 389.5 261.5 380.2C262.4 370.8 262.4 362.5 262.1 354.1C261.8 345.7 260.6 336.9 259.5 329.9C258.3 323.0 255.9 315.4 255.2 312.4Z" stroke="#d5c6de" stroke-width="0.9" fill="none" stroke-dasharray="12.6 7.9 14.2 16.8 14.4 3.0" stroke-opacity="0.85"/>
<path d="M219.0 321.7C218.9 320.5 219.1 317.3 218.7 314.7C218.4 312.1 217.8 308.9 216.8 306.2C215.8 303.5 214.2 300.9 212.5 298.4C210.8 295.9 208.9 293.5 206.8 291.3C204.7 289.1 202.0 287.1 200.1 285.1C198.1 283.1 197.1 281.6 195.3 279.3C193.5 277.0 191.9 273.9 189.3 271.5C186.7 269.0 182.9 266.3 179.4 264.7C175.9 263.0 172.2 262.3 168.5 261.4C164.7 260.4 160.7 259.7 156.6 259.0C152.5 258.4 148.2 257.9 143.8 257.5C139.4 257.2 134.7 257.0 130.3 256.9C125.8 256.8 121.3 256.6 117.1 256.9C113.0 257.3 108.7 258.2 105.4 259.0C102.1 259.9 99.5 261.2 97.3 262.0C95.2 262.8 94.5 262.9 92.3 263.9C90.2 264.8 86.9 266.2 84.4 267.6C81.8 268.9 79.2 270.4 77.1 271.9C75.0 273.5 72.8 275.9 71.7 277.0C70.6 278.1 71.0 278.2 70.3 278.5C69.5 278.7 69.1 278.4 67.2 278.5C65.4 278.6 62.3 278.1 59.1 279.1C55.9 280.1 50.9 282.4 47.9 284.5C44.8 286.6 42.9 289.5 40.9 291.7C38.8 293.9 37.4 295.6 35.7 297.5C33.9 299.3 32.2 300.8 30.3 302.9C28.4 304.9 26.1 307.2 24.5 309.8C22.8 312.4 21.4 315.6 20.5 318.5C19.5 321.5 19.0 324.7 18.8 327.6C18.6 330.6 19.1 333.5 19.4 336.2C19.7 338.9 20.2 341.0 20.8 343.9C21.4 346.9 22.2 350.7 23.1 354.0C24.0 357.3 25.3 360.6 26.3 363.6C27.3 366.7 27.9 369.3 29.0 372.2C30.1 375.1 31.5 378.2 32.9 381.2C34.3 384.1 35.7 387.1 37.4 390.0C39.0 392.9 40.9 395.7 42.7 398.6C44.5 401.4 46.2 404.3 48.0 407.0C49.8 409.6 51.5 411.9 53.4 414.5C55.2 417.0 56.8 419.5 59.3 422.1C61.7 424.7 64.4 427.6 68.0 430.1C71.6 432.6 76.4 435.2 80.9 437.2C85.4 439.1 90.3 440.7 95.1 441.6C100.0 442.5 105.1 442.5 110.0 442.5C114.9 442.5 120.2 442.2 124.3 441.7C128.4 441.2 131.0 440.3 134.6 439.4C138.2 438.5 142.8 437.3 146.2 436.2C149.5 435.1 151.9 434.1 154.9 433.0C157.8 431.8 161.2 430.3 163.6 429.4C166.0 428.4 166.2 427.7 169.0 427.4C171.9 427.2 176.2 428.4 180.8 428.0C185.5 427.5 191.7 426.9 196.9 424.8C202.0 422.6 207.6 419.5 211.6 415.2C215.6 410.9 218.9 405.5 221.0 399.1C223.2 392.7 223.8 384.2 224.5 376.9C225.1 369.7 225.3 362.4 225.0 355.6C224.7 348.8 223.8 341.9 222.8 336.2C221.9 330.5 219.8 323.9 219.2 321.5Z" stroke="#f8f5f9" stroke-opacity="0.7" stroke-width="6" fill="none"/>
<path d="M215.3 321.8C215.3 320.7 215.4 317.5 215.0 315.2C214.7 312.8 214.3 310.0 213.3 307.6C212.4 305.1 211.0 302.8 209.4 300.5C207.9 298.2 206.1 295.9 204.1 293.8C202.1 291.7 199.4 289.7 197.4 287.7C195.4 285.7 194.1 283.9 192.4 281.6C190.6 279.3 189.1 276.4 186.7 274.1C184.3 271.8 181.0 269.5 177.9 268.0C174.7 266.5 171.2 265.9 167.6 265.0C164.0 264.1 160.1 263.3 156.1 262.7C152.0 262.1 147.9 261.6 143.5 261.2C139.2 260.9 134.5 260.7 130.2 260.6C125.8 260.5 121.4 260.3 117.4 260.6C113.5 261.0 109.4 261.8 106.3 262.6C103.2 263.4 100.7 264.7 98.6 265.4C96.5 266.2 95.9 266.4 93.8 267.3C91.7 268.2 88.5 269.6 86.1 270.9C83.6 272.1 81.3 273.4 79.3 274.9C77.3 276.4 75.4 278.6 74.1 279.8C72.8 281.0 72.7 281.5 71.6 281.9C70.5 282.3 69.4 282.1 67.5 282.2C65.6 282.3 63.0 281.8 60.1 282.7C57.2 283.5 52.8 285.5 50.0 287.5C47.3 289.4 45.5 292.1 43.6 294.2C41.6 296.3 40.1 298.2 38.4 300.0C36.6 301.9 34.8 303.4 33.0 305.4C31.2 307.3 29.1 309.5 27.6 311.8C26.1 314.2 24.9 317.0 24.0 319.7C23.2 322.3 22.7 325.2 22.5 327.8C22.4 330.5 22.7 333.1 23.1 335.7C23.4 338.2 23.8 340.3 24.4 343.2C25.0 346.1 25.8 349.8 26.7 353.0C27.5 356.2 28.9 359.5 29.8 362.5C30.8 365.5 31.4 368.0 32.4 370.9C33.5 373.7 34.9 376.7 36.3 379.6C37.6 382.5 39.0 385.3 40.6 388.1C42.2 391.0 44.1 393.8 45.8 396.6C47.6 399.4 49.3 402.3 51.1 404.9C52.8 407.5 54.5 409.8 56.3 412.2C58.2 414.7 59.7 417.1 62.0 419.6C64.3 422.1 66.7 424.7 70.1 427.1C73.5 429.4 78.1 431.9 82.3 433.8C86.6 435.6 91.2 437.2 95.8 438.0C100.4 438.8 105.3 438.8 110.0 438.8C114.7 438.8 119.9 438.5 123.9 438.0C127.8 437.5 130.1 436.7 133.7 435.8C137.2 434.9 141.7 433.7 145.0 432.7C148.3 431.6 150.6 430.7 153.5 429.5C156.4 428.4 159.8 426.8 162.3 425.9C164.9 424.9 165.6 424.0 168.7 423.8C171.7 423.5 176.1 424.7 180.5 424.3C185.0 423.9 190.8 423.3 195.5 421.3C200.2 419.4 205.3 416.6 208.9 412.7C212.6 408.8 215.5 404.0 217.5 398.0C219.5 392.0 220.1 383.6 220.8 376.6C221.4 369.5 221.6 362.4 221.3 355.7C221.0 349.1 220.2 342.4 219.2 336.8C218.3 331.3 216.2 324.8 215.6 322.4Z" stroke="#d9cbe1" stroke-width="2.5" fill="none"/>
<path d="M204.5 322.1C204.5 321.2 204.5 318.3 204.3 316.5C204.1 314.7 203.9 313.1 203.3 311.4C202.6 309.8 201.7 308.2 200.5 306.5C199.3 304.8 198.1 303.2 196.3 301.3C194.5 299.4 191.7 297.3 189.6 295.2C187.5 293.0 185.6 290.5 183.9 288.3C182.1 286.1 181.0 283.6 179.2 281.9C177.5 280.1 175.7 278.9 173.3 277.8C171.0 276.8 168.2 276.2 165.1 275.5C161.9 274.7 158.1 273.9 154.4 273.4C150.7 272.8 146.8 272.3 142.7 272.0C138.6 271.7 134.0 271.5 129.9 271.4C125.8 271.3 121.8 271.1 118.3 271.4C114.8 271.7 111.7 272.4 109.0 273.1C106.3 273.8 104.2 274.9 102.4 275.5C100.6 276.2 100.0 276.4 98.1 277.2C96.2 278.0 93.1 279.4 91.0 280.5C89.0 281.5 87.5 282.2 85.8 283.5C84.2 284.8 82.8 286.6 81.1 288.0C79.4 289.5 77.6 291.2 75.4 292.0C73.3 292.9 70.4 292.8 68.3 293.0C66.2 293.2 65.1 292.5 63.1 293.0C61.1 293.6 58.3 294.8 56.3 296.3C54.4 297.7 53.2 299.6 51.6 301.5C49.9 303.4 48.0 305.6 46.2 307.4C44.4 309.3 42.5 311.0 40.9 312.7C39.3 314.4 37.8 316.0 36.7 317.7C35.6 319.4 34.9 321.1 34.3 322.9C33.8 324.7 33.4 326.5 33.3 328.4C33.2 330.3 33.5 332.2 33.8 334.3C34.1 336.4 34.5 338.3 35.0 341.0C35.6 343.6 36.2 347.1 37.1 350.1C37.9 353.2 39.2 356.3 40.1 359.2C41.0 362.0 41.6 364.5 42.5 367.1C43.5 369.7 44.8 372.4 46.0 375.0C47.3 377.6 48.5 380.2 50.0 382.8C51.5 385.5 53.3 388.2 55.0 390.9C56.7 393.6 58.4 396.4 60.0 398.9C61.7 401.4 63.4 403.6 65.0 405.8C66.7 408.1 68.1 410.2 69.9 412.3C71.8 414.4 73.5 416.3 76.3 418.2C79.1 420.1 83.0 422.3 86.6 423.8C90.1 425.3 93.8 426.7 97.7 427.4C101.6 428.1 105.9 428.0 110.0 428.0C114.1 428.0 119.0 427.8 122.5 427.3C126.0 426.9 127.8 426.1 131.0 425.3C134.2 424.5 138.7 423.4 141.8 422.4C144.9 421.4 144.1 420.7 149.6 419.5C155.1 418.2 166.6 417.4 175.0 415.0C183.4 412.6 193.8 410.8 200.0 405.0C206.2 399.2 209.7 390.0 212.0 380.0C214.3 370.0 214.0 354.7 214.0 345.0C214.0 335.3 212.3 325.8 212.0 322.0Z" fill="#fcf8fb"/>
<path d="M209.0 322.0C209.0 321.0 209.1 318.0 208.8 315.9C208.5 313.9 208.2 311.8 207.5 309.8C206.7 307.8 205.5 306.0 204.2 304.0C202.9 302.1 201.5 300.1 199.6 298.2C197.7 296.2 194.9 294.2 192.9 292.1C190.8 289.9 189.1 287.7 187.4 285.5C185.6 283.3 184.4 280.6 182.3 278.6C180.3 276.7 177.9 275.0 175.2 273.7C172.5 272.5 169.5 271.9 166.1 271.1C162.8 270.3 158.9 269.5 155.1 268.9C151.2 268.3 147.2 267.8 143.0 267.5C138.9 267.2 134.2 267.0 130.0 266.9C125.8 266.8 121.6 266.6 118.0 266.9C114.3 267.2 110.7 268.0 107.9 268.7C105.0 269.5 102.8 270.6 100.8 271.3C98.9 272.1 98.3 272.2 96.3 273.0C94.3 273.9 91.2 275.3 89.0 276.5C86.8 277.6 84.9 278.5 83.1 279.9C81.3 281.3 79.7 283.3 78.2 284.6C76.6 285.9 75.5 287.2 73.8 287.8C72.1 288.5 70.0 288.4 68.0 288.5C66.0 288.6 64.2 288.0 61.9 288.7C59.5 289.4 56.0 291.0 53.7 292.6C51.4 294.2 50.0 296.5 48.2 298.5C46.4 300.4 44.7 302.5 42.9 304.4C41.2 306.2 39.3 307.8 37.6 309.7C36.0 311.5 34.1 313.2 32.9 315.2C31.6 317.2 30.7 319.4 30.0 321.5C29.3 323.7 28.9 326.0 28.8 328.2C28.7 330.4 29.0 332.6 29.3 334.9C29.6 337.2 30.0 339.2 30.6 341.9C31.2 344.6 31.8 348.2 32.7 351.3C33.6 354.4 34.9 357.7 35.8 360.6C36.8 363.4 37.3 365.9 38.3 368.7C39.4 371.4 40.7 374.2 41.9 376.9C43.2 379.6 44.5 382.3 46.1 385.0C47.6 387.8 49.5 390.5 51.2 393.3C52.9 396.0 54.6 398.8 56.3 401.4C58.0 403.9 59.7 406.2 61.4 408.5C63.1 410.8 64.6 413.1 66.6 415.3C68.7 417.6 70.7 419.8 73.7 421.9C76.7 424.0 80.9 426.3 84.8 428.0C88.7 429.6 92.7 431.0 96.9 431.8C101.1 432.5 105.6 432.5 110.0 432.5C114.4 432.5 119.4 432.3 123.1 431.8C126.8 431.3 128.8 430.5 132.1 429.7C135.5 428.8 140.0 427.7 143.2 426.7C146.3 425.7 149.8 424.2 151.2 423.7" stroke="#ddd0e6" stroke-width="10" fill="none"/>
<path d="M206 320 C212 335 214 350 213 370 C212 392 205 410 190 420 L170 425 L160 420 C180 410 200 395 205 370 Z" fill="#f7f1f6"/>
<path d="M199.5 286 C204 291 208 299 209.8 309 C210.5 318 208 330 206.5 338 L216 338 L216 280 Z" fill="#e6d6e8"/>
<path d="M199.5 286 C204 291 208 299 209.8 309 C210.5 318 208 330 206.5 338 C205 345 206 352 205.5 358" stroke="#8e8794" stroke-width="1.0" fill="none"/>
<path d="M146 425 C152 423 158 421 163 418.5 C165 417 166 415.5 166.5 414" stroke="#8e8794" stroke-width="1.1" fill="none"/>
<path d="M177.8 331.6C179.5 331.9 184.6 331.9 188.0 333.1C191.4 334.3 195.5 336.7 198.2 338.9C200.9 341.1 202.6 343.3 204.0 346.2C205.4 349.1 206.3 352.3 206.9 356.4C207.5 360.5 207.6 366.0 207.6 370.9C207.6 375.8 207.5 380.9 206.9 385.5C206.3 390.1 205.7 394.9 204.0 398.5C202.3 402.1 199.6 405.0 196.7 407.3C193.8 409.6 190.4 411.4 186.5 412.4C182.6 413.4 177.8 413.5 173.5 413.1C169.2 412.7 164.3 411.9 160.4 410.2C156.5 408.5 152.6 406.3 150.2 402.9C147.8 399.5 146.5 394.4 145.8 389.8C145.1 385.2 145.6 379.9 145.8 375.3C146.1 370.7 146.6 366.1 147.3 362.2C148.0 358.3 148.8 355.1 150.2 352.0C151.6 348.9 153.8 346.0 156.0 343.3C158.2 340.6 160.9 337.8 163.3 336.0C165.7 334.2 168.1 333.1 170.5 332.4C172.9 331.7 176.6 331.7 177.8 331.6Z" fill="#ebc9df" stroke="#ddb5d0" stroke-width="0.7"/>
<path d="M174 344 C174.5 352 175 360 175.5 368" stroke="#f3e0ec" stroke-width="3" fill="none" stroke-linecap="round"/>
<path d="M179.5 392 C179 396 178 399 176.5 402" stroke="#f8ecf3" stroke-width="2.8" fill="none" stroke-linecap="round"/>
</g>
<g id="dotsD">
<circle cx="108.8" cy="263.4" r="1.17" fill="#5eaad2"/>
<circle cx="112.0" cy="263.4" r="1.17" fill="#8a5f9b"/>
<circle cx="115.3" cy="263.4" r="1.17" fill="#6383b0"/>
<circle cx="118.5" cy="263.4" r="1.17" fill="#5eaad2"/>
<circle cx="121.8" cy="263.4" r="1.17" fill="#6383b0"/>
<circle cx="125.0" cy="263.4" r="1.17" fill="#5eaad2"/>
<circle cx="128.3" cy="263.4" r="1.17" fill="#5eaad2"/>
<circle cx="131.5" cy="263.4" r="1.17" fill="#6383b0"/>
<circle cx="134.8" cy="263.4" r="1.17" fill="#8a5f9b"/>
<circle cx="138.0" cy="263.4" r="1.17" fill="#6383b0"/>
<circle cx="141.3" cy="263.4" r="1.17" fill="#5eaad2"/>
<circle cx="144.5" cy="263.4" r="1.17" fill="#6383b0"/>
<circle cx="147.8" cy="263.4" r="1.17" fill="#5eaad2"/>
<circle cx="151.0" cy="263.4" r="1.17" fill="#5eaad2"/>
<circle cx="100.7" cy="266.2" r="1.17" fill="#5eaad2"/>
<circle cx="103.9" cy="266.2" r="1.17" fill="#6383b0"/>
<circle cx="107.2" cy="266.2" r="1.17" fill="#5eaad2"/>
<circle cx="110.4" cy="266.2" r="1.17" fill="#8a5f9b"/>
<circle cx="113.7" cy="266.2" r="1.17" fill="#5eaad2"/>
<circle cx="116.9" cy="266.2" r="1.17" fill="#6383b0"/>
<circle cx="120.2" cy="266.2" r="1.17" fill="#8a5f9b"/>
<circle cx="123.4" cy="266.2" r="1.17" fill="#8a5f9b"/>
<circle cx="126.7" cy="266.2" r="1.17" fill="#6383b0"/>
<circle cx="129.9" cy="266.2" r="1.17" fill="#6383b0"/>
<circle cx="133.2" cy="266.2" r="1.17" fill="#5eaad2"/>
<circle cx="136.4" cy="266.2" r="1.17" fill="#8a5f9b"/>
<circle cx="139.7" cy="266.2" r="1.17" fill="#5eaad2"/>
<circle cx="142.9" cy="266.2" r="1.17" fill="#5eaad2"/>
<circle cx="146.2" cy="266.2" r="1.17" fill="#8a5f9b"/>
<circle cx="149.4" cy="266.2" r="1.17" fill="#6383b0"/>
<circle cx="152.7" cy="266.2" r="1.17" fill="#5eaad2"/>
<circle cx="155.9" cy="266.2" r="1.17" fill="#8a5f9b"/>
<circle cx="159.2" cy="266.2" r="1.17" fill="#5eaad2"/>
<circle cx="162.4" cy="266.2" r="1.17" fill="#5eaad2"/>
<circle cx="165.7" cy="266.2" r="1.17" fill="#6383b0"/>
<circle cx="92.5" cy="269.1" r="1.17" fill="#6383b0"/>
<circle cx="95.8" cy="269.1" r="1.17" fill="#5eaad2"/>
<circle cx="99.0" cy="269.1" r="1.17" fill="#5eaad2"/>
<circle cx="102.3" cy="269.1" r="1.17" fill="#8a5f9b"/>
<circle cx="105.5" cy="269.1" r="1.17" fill="#8a5f9b"/>
<circle cx="108.8" cy="269.1" r="1.17" fill="#a51d2d"/>
<circle cx="112.0" cy="269.1" r="1.17" fill="#f2a6ad"/>
<circle cx="115.3" cy="269.1" r="1.17" fill="#f2a6ad"/>
<circle cx="118.5" cy="269.1" r="1.17" fill="#a51d2d"/>
<circle cx="121.8" cy="269.1" r="1.17" fill="#f2a6ad"/>
<circle cx="125.0" cy="269.1" r="1.17" fill="#f2a6ad"/>
<circle cx="128.3" cy="269.1" r="1.17" fill="#a51d2d"/>
<circle cx="131.5" cy="269.1" r="1.17" fill="#f2a6ad"/>
<circle cx="134.8" cy="269.1" r="1.17" fill="#f2a6ad"/>
<circle cx="138.0" cy="269.1" r="1.17" fill="#f2a6ad"/>
<circle cx="141.3" cy="269.1" r="1.17" fill="#f2a6ad"/>
<circle cx="144.5" cy="269.1" r="1.17" fill="#a51d2d"/>
<circle cx="147.8" cy="269.1" r="1.17" fill="#d9515d"/>
<circle cx="151.0" cy="269.1" r="1.17" fill="#f2a6ad"/>
<circle cx="154.3" cy="269.1" r="1.17" fill="#a51d2d"/>
<circle cx="157.5" cy="269.1" r="1.17" fill="#8a5f9b"/>
<circle cx="160.8" cy="269.1" r="1.17" fill="#6383b0"/>
<circle cx="164.0" cy="269.1" r="1.17" fill="#8a5f9b"/>
<circle cx="167.3" cy="269.1" r="1.17" fill="#5eaad2"/>
<circle cx="170.5" cy="269.1" r="1.17" fill="#5eaad2"/>
<circle cx="173.8" cy="269.1" r="1.17" fill="#5eaad2"/>
<circle cx="177.0" cy="269.1" r="1.17" fill="#5eaad2"/>
<circle cx="87.7" cy="271.9" r="1.17" fill="#5eaad2"/>
<circle cx="90.9" cy="271.9" r="1.17" fill="#6383b0"/>
<circle cx="94.2" cy="271.9" r="1.17" fill="#8a5f9b"/>
<circle cx="97.4" cy="271.9" r="1.17" fill="#8a5f9b"/>
<circle cx="100.7" cy="271.9" r="1.17" fill="#d9515d"/>
<circle cx="103.9" cy="271.9" r="1.17" fill="#8a5f9b"/>
<circle cx="107.2" cy="271.9" r="1.17" fill="#a51d2d"/>
<circle cx="110.4" cy="271.9" r="1.17" fill="#a51d2d"/>
<circle cx="113.7" cy="271.9" r="1.17" fill="#a51d2d"/>
<circle cx="116.9" cy="271.9" r="1.17" fill="#a51d2d"/>
<circle cx="120.2" cy="271.9" r="1.17" fill="#a51d2d"/>
<circle cx="123.4" cy="271.9" r="1.17" fill="#a51d2d"/>
<circle cx="126.7" cy="271.9" r="1.17" fill="#d9515d"/>
<circle cx="129.9" cy="271.9" r="1.17" fill="#a51d2d"/>
<circle cx="133.2" cy="271.9" r="1.17" fill="#a51d2d"/>
<circle cx="136.4" cy="271.9" r="1.17" fill="#a51d2d"/>
<circle cx="139.7" cy="271.9" r="1.17" fill="#a51d2d"/>
<circle cx="142.9" cy="271.9" r="1.17" fill="#a51d2d"/>
<circle cx="146.2" cy="271.9" r="1.17" fill="#a51d2d"/>
<circle cx="149.4" cy="271.9" r="1.17" fill="#a51d2d"/>
<circle cx="152.7" cy="271.9" r="1.17" fill="#a51d2d"/>
<circle cx="155.9" cy="271.9" r="1.17" fill="#8a5f9b"/>
<circle cx="159.2" cy="271.9" r="1.17" fill="#8a5f9b"/>
<circle cx="162.4" cy="271.9" r="1.17" fill="#a51d2d"/>
<circle cx="165.7" cy="271.9" r="1.17" fill="#f2a6ad"/>
<circle cx="168.9" cy="271.9" r="1.17" fill="#5eaad2"/>
<circle cx="172.2" cy="271.9" r="1.17" fill="#8a5f9b"/>
<circle cx="175.4" cy="271.9" r="1.17" fill="#5eaad2"/>
<circle cx="178.7" cy="271.9" r="1.17" fill="#6383b0"/>
<circle cx="82.8" cy="274.8" r="1.17" fill="#6383b0"/>
<circle cx="86.0" cy="274.8" r="1.17" fill="#5eaad2"/>
<circle cx="89.3" cy="274.8" r="1.17" fill="#5eaad2"/>
<circle cx="92.5" cy="274.8" r="1.17" fill="#6383b0"/>
<circle cx="95.8" cy="274.8" r="1.17" fill="#8a5f9b"/>
<circle cx="99.0" cy="274.8" r="1.17" fill="#d9515d"/>
<circle cx="102.3" cy="274.8" r="1.17" fill="#a51d2d"/>
<circle cx="105.5" cy="274.8" r="1.17" fill="#a51d2d"/>
<circle cx="108.8" cy="274.8" r="1.17" fill="#a51d2d"/>
<circle cx="151.0" cy="274.8" r="1.17" fill="#a51d2d"/>
<circle cx="154.3" cy="274.8" r="1.17" fill="#a51d2d"/>
<circle cx="157.5" cy="274.8" r="1.17" fill="#a51d2d"/>
<circle cx="160.8" cy="274.8" r="1.17" fill="#a51d2d"/>
<circle cx="164.0" cy="274.8" r="1.17" fill="#a51d2d"/>
<circle cx="167.3" cy="274.8" r="1.17" fill="#d9515d"/>
<circle cx="170.5" cy="274.8" r="1.17" fill="#d9515d"/>
<circle cx="173.8" cy="274.8" r="1.17" fill="#f2a6ad"/>
<circle cx="177.0" cy="274.8" r="1.17" fill="#8a5f9b"/>
<circle cx="180.3" cy="274.8" r="1.17" fill="#6383b0"/>
<circle cx="183.5" cy="274.8" r="1.17" fill="#8a5f9b"/>
<circle cx="81.2" cy="277.6" r="1.17" fill="#6383b0"/>
<circle cx="84.4" cy="277.6" r="1.17" fill="#8a5f9b"/>
<circle cx="87.7" cy="277.6" r="1.17" fill="#a51d2d"/>
<circle cx="90.9" cy="277.6" r="1.17" fill="#8a5f9b"/>
<circle cx="94.2" cy="277.6" r="1.17" fill="#a51d2d"/>
<circle cx="97.4" cy="277.6" r="1.17" fill="#a51d2d"/>
<circle cx="100.7" cy="277.6" r="1.17" fill="#a51d2d"/>
<circle cx="168.9" cy="277.6" r="1.17" fill="#a51d2d"/>
<circle cx="172.2" cy="277.6" r="1.17" fill="#a51d2d"/>
<circle cx="175.4" cy="277.6" r="1.17" fill="#d9515d"/>
<circle cx="178.7" cy="277.6" r="1.17" fill="#f2a6ad"/>
<circle cx="181.9" cy="277.6" r="1.17" fill="#5eaad2"/>
<circle cx="185.2" cy="277.6" r="1.17" fill="#6383b0"/>
<circle cx="76.3" cy="280.5" r="1.17" fill="#5eaad2"/>
<circle cx="79.5" cy="280.5" r="1.17" fill="#8a5f9b"/>
<circle cx="82.8" cy="280.5" r="1.17" fill="#8a5f9b"/>
<circle cx="86.0" cy="280.5" r="1.17" fill="#a51d2d"/>
<circle cx="89.3" cy="280.5" r="1.17" fill="#a51d2d"/>
<circle cx="92.5" cy="280.5" r="1.17" fill="#a51d2d"/>
<circle cx="177.0" cy="280.5" r="1.17" fill="#a51d2d"/>
<circle cx="180.3" cy="280.5" r="1.17" fill="#d9515d"/>
<circle cx="183.5" cy="280.5" r="1.17" fill="#6383b0"/>
<circle cx="186.8" cy="280.5" r="1.17" fill="#5eaad2"/>
<circle cx="71.4" cy="283.3" r="1.17" fill="#5eaad2"/>
<circle cx="74.7" cy="283.3" r="1.17" fill="#6383b0"/>
<circle cx="77.9" cy="283.3" r="1.17" fill="#8a5f9b"/>
<circle cx="81.2" cy="283.3" r="1.17" fill="#8a5f9b"/>
<circle cx="84.4" cy="283.3" r="1.17" fill="#a51d2d"/>
<circle cx="87.7" cy="283.3" r="1.17" fill="#a51d2d"/>
<circle cx="178.7" cy="283.3" r="1.17" fill="#d9515d"/>
<circle cx="181.9" cy="283.3" r="1.17" fill="#d9515d"/>
<circle cx="185.2" cy="283.3" r="1.17" fill="#f2a6ad"/>
<circle cx="188.4" cy="283.3" r="1.17" fill="#6383b0"/>
<circle cx="56.8" cy="286.2" r="1.17" fill="#5eaad2"/>
<circle cx="60.0" cy="286.2" r="1.17" fill="#8a5f9b"/>
<circle cx="63.3" cy="286.2" r="1.17" fill="#8a5f9b"/>
<circle cx="66.5" cy="286.2" r="1.17" fill="#6383b0"/>
<circle cx="69.8" cy="286.2" r="1.17" fill="#6383b0"/>
<circle cx="73.0" cy="286.2" r="1.17" fill="#6383b0"/>
<circle cx="76.3" cy="286.2" r="1.17" fill="#8a5f9b"/>
<circle cx="79.5" cy="286.2" r="1.17" fill="#a51d2d"/>
<circle cx="82.8" cy="286.2" r="1.17" fill="#a51d2d"/>
<circle cx="183.5" cy="286.2" r="1.17" fill="#a51d2d"/>
<circle cx="186.8" cy="286.2" r="1.17" fill="#a51d2d"/>
<circle cx="190.0" cy="286.2" r="1.17" fill="#8a5f9b"/>
<circle cx="193.3" cy="286.2" r="1.17" fill="#8a5f9b"/>
<circle cx="51.9" cy="289.0" r="1.17" fill="#5eaad2"/>
<circle cx="55.2" cy="289.0" r="1.17" fill="#6383b0"/>
<circle cx="58.4" cy="289.0" r="1.17" fill="#6383b0"/>
<circle cx="61.7" cy="289.0" r="1.17" fill="#8a5f9b"/>
<circle cx="64.9" cy="289.0" r="1.17" fill="#f2a6ad"/>
<circle cx="68.2" cy="289.0" r="1.17" fill="#d9515d"/>
<circle cx="71.4" cy="289.0" r="1.17" fill="#a51d2d"/>
<circle cx="74.7" cy="289.0" r="1.17" fill="#a51d2d"/>
<circle cx="77.9" cy="289.0" r="1.17" fill="#d9515d"/>
<circle cx="81.2" cy="289.0" r="1.17" fill="#a51d2d"/>
<circle cx="185.2" cy="289.0" r="1.17" fill="#a51d2d"/>
<circle cx="188.4" cy="289.0" r="1.12" fill="#d9c5e2" stroke="#f3eef5" stroke-width="0.25"/>
<circle cx="191.7" cy="289.0" r="1.12" fill="#d9c5e2" stroke="#f3eef5" stroke-width="0.25"/>
<circle cx="194.9" cy="289.0" r="1.17" fill="#8a5f9b"/>
<circle cx="50.3" cy="291.9" r="1.17" fill="#6383b0"/>
<circle cx="53.5" cy="291.9" r="1.17" fill="#8a5f9b"/>
<circle cx="56.8" cy="291.9" r="1.17" fill="#a51d2d"/>
<circle cx="60.0" cy="291.9" r="1.17" fill="#d9515d"/>
<circle cx="63.3" cy="291.9" r="1.17" fill="#a51d2d"/>
<circle cx="66.5" cy="291.9" r="1.17" fill="#a51d2d"/>
<circle cx="69.8" cy="291.9" r="1.17" fill="#d9515d"/>
<circle cx="73.0" cy="291.9" r="1.17" fill="#a51d2d"/>
<circle cx="76.3" cy="291.9" r="1.17" fill="#a51d2d"/>
<circle cx="186.8" cy="291.9" r="1.17" fill="#a51d2d"/>
<circle cx="190.0" cy="291.9" r="1.12" fill="#d9c5e2" stroke="#f3eef5" stroke-width="0.25"/>
<circle cx="193.3" cy="291.9" r="1.12" fill="#d9c5e2" stroke="#f3eef5" stroke-width="0.25"/>
<circle cx="196.5" cy="291.9" r="1.17" fill="#8a5f9b"/>
<circle cx="45.4" cy="294.7" r="1.17" fill="#5eaad2"/>
<circle cx="48.7" cy="294.7" r="1.17" fill="#6383b0"/>
<circle cx="51.9" cy="294.7" r="1.17" fill="#8a5f9b"/>
<circle cx="55.2" cy="294.7" r="1.17" fill="#f2a6ad"/>
<circle cx="58.4" cy="294.7" r="1.17" fill="#d9515d"/>
<circle cx="61.7" cy="294.7" r="1.17" fill="#a51d2d"/>
<circle cx="188.4" cy="294.7" r="1.12" fill="#d9c5e2" stroke="#f3eef5" stroke-width="0.25"/>
<circle cx="191.7" cy="294.7" r="1.12" fill="#d9c5e2" stroke="#f3eef5" stroke-width="0.25"/>
<circle cx="194.9" cy="294.7" r="1.12" fill="#d9c5e2" stroke="#f3eef5" stroke-width="0.25"/>
<circle cx="198.2" cy="294.7" r="1.17" fill="#8a5f9b"/>
<circle cx="201.4" cy="294.7" r="1.17" fill="#8a5f9b"/>
<circle cx="43.8" cy="297.6" r="1.17" fill="#5eaad2"/>
<circle cx="47.0" cy="297.6" r="1.17" fill="#8a5f9b"/>
<circle cx="50.3" cy="297.6" r="1.17" fill="#f2a6ad"/>
<circle cx="53.5" cy="297.6" r="1.17" fill="#a51d2d"/>
<circle cx="56.8" cy="297.6" r="1.17" fill="#a51d2d"/>
<circle cx="193.3" cy="297.6" r="1.12" fill="#d9c5e2" stroke="#f3eef5" stroke-width="0.25"/>
<circle cx="196.5" cy="297.6" r="1.12" fill="#d9c5e2" stroke="#f3eef5" stroke-width="0.25"/>
<circle cx="199.8" cy="297.6" r="1.12" fill="#d9c5e2" stroke="#f3eef5" stroke-width="0.25"/>
<circle cx="203.0" cy="297.6" r="1.17" fill="#8a5f9b"/>
<circle cx="42.2" cy="300.4" r="1.17" fill="#8a5f9b"/>
<circle cx="45.4" cy="300.4" r="1.17" fill="#8a5f9b"/>
<circle cx="48.7" cy="300.4" r="1.17" fill="#f2a6ad"/>
<circle cx="51.9" cy="300.4" r="1.17" fill="#d9515d"/>
<circle cx="194.9" cy="300.4" r="1.12" fill="#d9c5e2" stroke="#f3eef5" stroke-width="0.25"/>
<circle cx="198.2" cy="300.4" r="1.12" fill="#d9c5e2" stroke="#f3eef5" stroke-width="0.25"/>
<circle cx="201.4" cy="300.4" r="1.12" fill="#d9c5e2" stroke="#f3eef5" stroke-width="0.25"/>
<circle cx="204.7" cy="300.4" r="1.17" fill="#8a5f9b"/>
<circle cx="37.3" cy="303.3" r="1.17" fill="#5eaad2"/>
<circle cx="40.5" cy="303.3" r="1.17" fill="#5eaad2"/>
<circle cx="43.8" cy="303.3" r="1.17" fill="#6383b0"/>
<circle cx="47.0" cy="303.3" r="1.17" fill="#a51d2d"/>
<circle cx="50.3" cy="303.3" r="1.17" fill="#a51d2d"/>
<circle cx="199.8" cy="303.3" r="1.12" fill="#d9c5e2" stroke="#f3eef5" stroke-width="0.25"/>
<circle cx="203.0" cy="303.3" r="1.12" fill="#d9c5e2" stroke="#f3eef5" stroke-width="0.25"/>
<circle cx="206.3" cy="303.3" r="1.17" fill="#8a5f9b"/>
<circle cx="35.7" cy="306.1" r="1.17" fill="#6383b0"/>
<circle cx="38.9" cy="306.1" r="1.17" fill="#8a5f9b"/>
<circle cx="42.2" cy="306.1" r="1.17" fill="#f2a6ad"/>
<circle cx="45.4" cy="306.1" r="1.17" fill="#d9515d"/>
<circle cx="48.7" cy="306.1" r="1.17" fill="#d9515d"/>
<circle cx="201.4" cy="306.1" r="1.12" fill="#d9c5e2" stroke="#f3eef5" stroke-width="0.25"/>
<circle cx="204.7" cy="306.1" r="1.12" fill="#d9c5e2" stroke="#f3eef5" stroke-width="0.25"/>
<circle cx="207.9" cy="306.1" r="1.17" fill="#8a5f9b"/>
<circle cx="34.0" cy="309.0" r="1.17" fill="#6383b0"/>
<circle cx="37.3" cy="309.0" r="1.17" fill="#6383b0"/>
<circle cx="40.5" cy="309.0" r="1.17" fill="#8a5f9b"/>
<circle cx="43.8" cy="309.0" r="1.17" fill="#a51d2d"/>
<circle cx="203.0" cy="309.0" r="1.12" fill="#d9c5e2" stroke="#f3eef5" stroke-width="0.25"/>
<circle cx="206.3" cy="309.0" r="1.12" fill="#d9c5e2" stroke="#f3eef5" stroke-width="0.25"/>
<circle cx="209.5" cy="309.0" r="1.17" fill="#8a5f9b"/>
<circle cx="32.4" cy="311.8" r="1.17" fill="#8a5f9b"/>
<circle cx="35.7" cy="311.8" r="1.17" fill="#6383b0"/>
<circle cx="38.9" cy="311.8" r="1.17" fill="#8a5f9b"/>
<circle cx="42.2" cy="311.8" r="1.17" fill="#a51d2d"/>
<circle cx="204.7" cy="311.8" r="1.12" fill="#d9c5e2" stroke="#f3eef5" stroke-width="0.25"/>
<circle cx="207.9" cy="311.8" r="1.12" fill="#d9c5e2" stroke="#f3eef5" stroke-width="0.25"/>
<circle cx="211.2" cy="311.8" r="1.17" fill="#8a5f9b"/>
<circle cx="30.8" cy="314.7" r="1.17" fill="#6383b0"/>
<circle cx="34.0" cy="314.7" r="1.17" fill="#a51d2d"/>
<circle cx="37.3" cy="314.7" r="1.17" fill="#a51d2d"/>
<circle cx="40.5" cy="314.7" r="1.17" fill="#a51d2d"/>
<circle cx="203.0" cy="314.7" r="1.12" fill="#d9c5e2" stroke="#f3eef5" stroke-width="0.25"/>
<circle cx="206.3" cy="314.7" r="1.12" fill="#d9c5e2" stroke="#f3eef5" stroke-width="0.25"/>
<circle cx="209.5" cy="314.7" r="1.17" fill="#8a5f9b"/>
<circle cx="212.8" cy="314.7" r="1.17" fill="#8a5f9b"/>
<circle cx="29.2" cy="317.5" r="1.17" fill="#5eaad2"/>
<circle cx="32.4" cy="317.5" r="1.17" fill="#8a5f9b"/>
<circle cx="35.7" cy="317.5" r="1.17" fill="#a51d2d"/>
<circle cx="204.7" cy="317.5" r="1.12" fill="#d9c5e2" stroke="#f3eef5" stroke-width="0.25"/>
<circle cx="207.9" cy="317.5" r="1.12" fill="#d9c5e2" stroke="#f3eef5" stroke-width="0.25"/>
<circle cx="211.2" cy="317.5" r="1.17" fill="#8a5f9b"/>
<circle cx="27.5" cy="320.4" r="1.17" fill="#8a5f9b"/>
<circle cx="30.8" cy="320.4" r="1.17" fill="#6383b0"/>
<circle cx="34.0" cy="320.4" r="1.17" fill="#a51d2d"/>
<circle cx="206.3" cy="320.4" r="1.12" fill="#d9c5e2" stroke="#f3eef5" stroke-width="0.25"/>
<circle cx="209.5" cy="320.4" r="1.17" fill="#8a5f9b"/>
<circle cx="212.8" cy="320.4" r="1.17" fill="#8a5f9b"/>
<circle cx="25.9" cy="323.2" r="1.17" fill="#6383b0"/>
<circle cx="29.2" cy="323.2" r="1.17" fill="#5eaad2"/>
<circle cx="32.4" cy="323.2" r="1.17" fill="#a51d2d"/>
<circle cx="35.7" cy="323.2" r="1.17" fill="#d9515d"/>
<circle cx="204.7" cy="323.2" r="1.12" fill="#d9c5e2" stroke="#f3eef5" stroke-width="0.25"/>
<circle cx="207.9" cy="323.2" r="1.12" fill="#d9c5e2" stroke="#f3eef5" stroke-width="0.25"/>
<circle cx="211.2" cy="323.2" r="1.17" fill="#8a5f9b"/>
<circle cx="24.3" cy="326.1" r="1.17" fill="#5eaad2"/>
<circle cx="27.5" cy="326.1" r="1.17" fill="#6383b0"/>
<circle cx="30.8" cy="326.1" r="1.17" fill="#a51d2d"/>
<circle cx="34.0" cy="326.1" r="1.17" fill="#a51d2d"/>
<circle cx="206.3" cy="326.1" r="1.12" fill="#d9c5e2" stroke="#f3eef5" stroke-width="0.25"/>
<circle cx="209.5" cy="326.1" r="1.12" fill="#d9c5e2" stroke="#f3eef5" stroke-width="0.25"/>
<circle cx="212.8" cy="326.1" r="1.17" fill="#8a5f9b"/>
<circle cx="25.9" cy="328.9" r="1.17" fill="#5eaad2"/>
<circle cx="29.2" cy="328.9" r="1.17" fill="#f2a6ad"/>
<circle cx="32.4" cy="328.9" r="1.17" fill="#a51d2d"/>
<circle cx="207.9" cy="328.9" r="1.12" fill="#d9c5e2" stroke="#f3eef5" stroke-width="0.25"/>
<circle cx="211.2" cy="328.9" r="1.12" fill="#d9c5e2" stroke="#f3eef5" stroke-width="0.25"/>
<circle cx="24.3" cy="331.8" r="1.17" fill="#8a5f9b"/>
<circle cx="27.5" cy="331.8" r="1.17" fill="#8a5f9b"/>
<circle cx="30.8" cy="331.8" r="1.17" fill="#d9515d"/>
<circle cx="34.0" cy="331.8" r="1.17" fill="#d9515d"/>
<circle cx="25.9" cy="334.6" r="1.17" fill="#6383b0"/>
<circle cx="29.2" cy="334.6" r="1.17" fill="#6383b0"/>
<circle cx="32.4" cy="334.6" r="1.17" fill="#d9515d"/>
<circle cx="27.5" cy="337.5" r="1.17" fill="#6383b0"/>
<circle cx="30.8" cy="337.5" r="1.17" fill="#8a5f9b"/>
<circle cx="34.0" cy="337.5" r="1.17" fill="#a51d2d"/>
<circle cx="25.9" cy="340.3" r="1.17" fill="#6383b0"/>
<circle cx="29.2" cy="340.3" r="1.17" fill="#8a5f9b"/>
<circle cx="32.4" cy="340.3" r="1.17" fill="#d9515d"/>
<circle cx="35.7" cy="340.3" r="1.17" fill="#a51d2d"/>
<circle cx="27.5" cy="343.2" r="1.17" fill="#6383b0"/>
<circle cx="30.8" cy="343.2" r="1.17" fill="#5eaad2"/>
<circle cx="34.0" cy="343.2" r="1.17" fill="#a51d2d"/>
<circle cx="29.2" cy="346.0" r="1.17" fill="#5eaad2"/>
<circle cx="32.4" cy="346.0" r="1.17" fill="#a51d2d"/>
<circle cx="35.7" cy="346.0" r="1.17" fill="#a51d2d"/>
<circle cx="27.5" cy="348.9" r="1.17" fill="#6383b0"/>
<circle cx="30.8" cy="348.9" r="1.17" fill="#8a5f9b"/>
<circle cx="34.0" cy="348.9" r="1.17" fill="#a51d2d"/>
<circle cx="37.3" cy="348.9" r="1.17" fill="#a51d2d"/>
<circle cx="29.2" cy="351.7" r="1.17" fill="#8a5f9b"/>
<circle cx="32.4" cy="351.7" r="1.17" fill="#8a5f9b"/>
<circle cx="35.7" cy="351.7" r="1.17" fill="#a51d2d"/>
<circle cx="38.9" cy="351.7" r="1.17" fill="#a51d2d"/>
<circle cx="30.8" cy="354.6" r="1.17" fill="#6383b0"/>
<circle cx="34.0" cy="354.6" r="1.17" fill="#8a5f9b"/>
<circle cx="37.3" cy="354.6" r="1.17" fill="#a51d2d"/>
<circle cx="32.4" cy="357.4" r="1.17" fill="#5eaad2"/>
<circle cx="35.7" cy="357.4" r="1.17" fill="#f2a6ad"/>
<circle cx="38.9" cy="357.4" r="1.17" fill="#a51d2d"/>
<circle cx="30.8" cy="360.3" r="1.17" fill="#5eaad2"/>
<circle cx="34.0" cy="360.3" r="1.17" fill="#6383b0"/>
<circle cx="37.3" cy="360.3" r="1.17" fill="#a51d2d"/>
<circle cx="40.5" cy="360.3" r="1.17" fill="#a51d2d"/>
<circle cx="32.4" cy="363.1" r="1.17" fill="#6383b0"/>
<circle cx="35.7" cy="363.1" r="1.17" fill="#6383b0"/>
<circle cx="38.9" cy="363.1" r="1.17" fill="#f2a6ad"/>
<circle cx="42.2" cy="363.1" r="1.17" fill="#a51d2d"/>
<circle cx="34.0" cy="366.0" r="1.17" fill="#5eaad2"/>
<circle cx="37.3" cy="366.0" r="1.17" fill="#8a5f9b"/>
<circle cx="40.5" cy="366.0" r="1.17" fill="#a51d2d"/>
<circle cx="35.7" cy="368.8" r="1.17" fill="#6383b0"/>
<circle cx="38.9" cy="368.8" r="1.17" fill="#8a5f9b"/>
<circle cx="42.2" cy="368.8" r="1.17" fill="#a51d2d"/>
<circle cx="37.3" cy="371.7" r="1.17" fill="#8a5f9b"/>
<circle cx="40.5" cy="371.7" r="1.17" fill="#f2a6ad"/>
<circle cx="43.8" cy="371.7" r="1.17" fill="#a51d2d"/>
<circle cx="35.7" cy="374.5" r="1.17" fill="#5eaad2"/>
<circle cx="38.9" cy="374.5" r="1.17" fill="#8a5f9b"/>
<circle cx="42.2" cy="374.5" r="1.17" fill="#f2a6ad"/>
<circle cx="45.4" cy="374.5" r="1.17" fill="#a51d2d"/>
<circle cx="37.3" cy="377.4" r="1.17" fill="#8a5f9b"/>
<circle cx="40.5" cy="377.4" r="1.17" fill="#5eaad2"/>
<circle cx="43.8" cy="377.4" r="1.17" fill="#a51d2d"/>
<circle cx="47.0" cy="377.4" r="1.17" fill="#a51d2d"/>
<circle cx="38.9" cy="380.2" r="1.17" fill="#8a5f9b"/>
<circle cx="42.2" cy="380.2" r="1.17" fill="#8a5f9b"/>
<circle cx="45.4" cy="380.2" r="1.17" fill="#f2a6ad"/>
<circle cx="48.7" cy="380.2" r="1.17" fill="#a51d2d"/>
<circle cx="40.5" cy="383.1" r="1.17" fill="#5eaad2"/>
<circle cx="43.8" cy="383.1" r="1.17" fill="#6383b0"/>
<circle cx="47.0" cy="383.1" r="1.17" fill="#a51d2d"/>
<circle cx="50.3" cy="383.1" r="1.17" fill="#a51d2d"/>
<circle cx="42.2" cy="385.9" r="1.17" fill="#8a5f9b"/>
<circle cx="45.4" cy="385.9" r="1.17" fill="#8a5f9b"/>
<circle cx="48.7" cy="385.9" r="1.17" fill="#d9515d"/>
<circle cx="51.9" cy="385.9" r="1.17" fill="#d9515d"/>
<circle cx="43.8" cy="388.8" r="1.17" fill="#6383b0"/>
<circle cx="47.0" cy="388.8" r="1.17" fill="#8a5f9b"/>
<circle cx="50.3" cy="388.8" r="1.17" fill="#f2a6ad"/>
<circle cx="53.5" cy="388.8" r="1.17" fill="#a51d2d"/>
<circle cx="45.4" cy="391.6" r="1.17" fill="#5eaad2"/>
<circle cx="48.7" cy="391.6" r="1.17" fill="#8a5f9b"/>
<circle cx="51.9" cy="391.6" r="1.17" fill="#8a5f9b"/>
<circle cx="55.2" cy="391.6" r="1.17" fill="#a51d2d"/>
<circle cx="47.0" cy="394.5" r="1.17" fill="#6383b0"/>
<circle cx="50.3" cy="394.5" r="1.17" fill="#8a5f9b"/>
<circle cx="53.5" cy="394.5" r="1.17" fill="#a51d2d"/>
<circle cx="56.8" cy="394.5" r="1.17" fill="#a51d2d"/>
<circle cx="48.7" cy="397.3" r="1.17" fill="#6383b0"/>
<circle cx="51.9" cy="397.3" r="1.17" fill="#5eaad2"/>
<circle cx="55.2" cy="397.3" r="1.17" fill="#a51d2d"/>
<circle cx="58.4" cy="397.3" r="1.17" fill="#d9515d"/>
<circle cx="50.3" cy="400.2" r="1.17" fill="#6383b0"/>
<circle cx="53.5" cy="400.2" r="1.17" fill="#5eaad2"/>
<circle cx="56.8" cy="400.2" r="1.17" fill="#d9515d"/>
<circle cx="60.0" cy="400.2" r="1.17" fill="#d9515d"/>
<circle cx="51.9" cy="403.0" r="1.17" fill="#5eaad2"/>
<circle cx="55.2" cy="403.0" r="1.17" fill="#6383b0"/>
<circle cx="58.4" cy="403.0" r="1.17" fill="#f2a6ad"/>
<circle cx="61.7" cy="403.0" r="1.17" fill="#a51d2d"/>
<circle cx="53.5" cy="405.9" r="1.17" fill="#5eaad2"/>
<circle cx="56.8" cy="405.9" r="1.17" fill="#5eaad2"/>
<circle cx="60.0" cy="405.9" r="1.17" fill="#f2a6ad"/>
<circle cx="63.3" cy="405.9" r="1.17" fill="#a51d2d"/>
<circle cx="66.5" cy="405.9" r="1.17" fill="#a51d2d"/>
<circle cx="58.4" cy="408.7" r="1.17" fill="#6383b0"/>
<circle cx="61.7" cy="408.7" r="1.17" fill="#8a5f9b"/>
<circle cx="64.9" cy="408.7" r="1.17" fill="#f2a6ad"/>
<circle cx="68.2" cy="408.7" r="1.17" fill="#a51d2d"/>
<circle cx="60.0" cy="411.6" r="1.17" fill="#6383b0"/>
<circle cx="63.3" cy="411.6" r="1.17" fill="#8a5f9b"/>
<circle cx="66.5" cy="411.6" r="1.17" fill="#f2a6ad"/>
<circle cx="69.8" cy="411.6" r="1.17" fill="#a51d2d"/>
<circle cx="61.7" cy="414.4" r="1.17" fill="#6383b0"/>
<circle cx="64.9" cy="414.4" r="1.17" fill="#8a5f9b"/>
<circle cx="68.2" cy="414.4" r="1.17" fill="#a51d2d"/>
<circle cx="71.4" cy="414.4" r="1.17" fill="#a51d2d"/>
<circle cx="66.5" cy="417.3" r="1.17" fill="#8a5f9b"/>
<circle cx="69.8" cy="417.3" r="1.17" fill="#f2a6ad"/>
<circle cx="73.0" cy="417.3" r="1.17" fill="#d9515d"/>
<circle cx="68.2" cy="420.1" r="1.17" fill="#6383b0"/>
<circle cx="71.4" cy="420.1" r="1.17" fill="#8a5f9b"/>
<circle cx="74.7" cy="420.1" r="1.17" fill="#8a5f9b"/>
<circle cx="77.9" cy="420.1" r="1.17" fill="#a51d2d"/>
<circle cx="149.4" cy="420.1" r="1.12" fill="#d9c5e2" stroke="#f3eef5" stroke-width="0.25"/>
<circle cx="152.7" cy="420.1" r="1.17" fill="#5757a5"/>
<circle cx="155.9" cy="420.1" r="1.12" fill="#d9c5e2" stroke="#f3eef5" stroke-width="0.25"/>
<circle cx="69.8" cy="423.0" r="1.17" fill="#5eaad2"/>
<circle cx="73.0" cy="423.0" r="1.17" fill="#5eaad2"/>
<circle cx="76.3" cy="423.0" r="1.17" fill="#8a5f9b"/>
<circle cx="79.5" cy="423.0" r="1.17" fill="#f2a6ad"/>
<circle cx="82.8" cy="423.0" r="1.17" fill="#a51d2d"/>
<circle cx="141.3" cy="423.0" r="1.12" fill="#d9c5e2" stroke="#f3eef5" stroke-width="0.25"/>
<circle cx="144.5" cy="423.0" r="1.17" fill="#5757a5"/>
<circle cx="147.8" cy="423.0" r="1.12" fill="#d9c5e2" stroke="#f3eef5" stroke-width="0.25"/>
<circle cx="151.0" cy="423.0" r="1.17" fill="#5757a5"/>
<circle cx="154.3" cy="423.0" r="1.12" fill="#d9c5e2" stroke="#f3eef5" stroke-width="0.25"/>
<circle cx="157.5" cy="423.0" r="1.17" fill="#8a5f9b"/>
<circle cx="74.7" cy="425.8" r="1.17" fill="#8a5f9b"/>
<circle cx="77.9" cy="425.8" r="1.17" fill="#6383b0"/>
<circle cx="81.2" cy="425.8" r="1.17" fill="#5eaad2"/>
<circle cx="84.4" cy="425.8" r="1.17" fill="#a51d2d"/>
<circle cx="87.7" cy="425.8" r="1.17" fill="#a51d2d"/>
<circle cx="90.9" cy="425.8" r="1.17" fill="#a51d2d"/>
<circle cx="129.9" cy="425.8" r="1.17" fill="#a51d2d"/>
<circle cx="133.2" cy="425.8" r="1.17" fill="#a51d2d"/>
<circle cx="136.4" cy="425.8" r="1.12" fill="#d9c5e2" stroke="#f3eef5" stroke-width="0.25"/>
<circle cx="139.7" cy="425.8" r="1.12" fill="#d9c5e2" stroke="#f3eef5" stroke-width="0.25"/>
<circle cx="142.9" cy="425.8" r="1.12" fill="#d9c5e2" stroke="#f3eef5" stroke-width="0.25"/>
<circle cx="146.2" cy="425.8" r="1.12" fill="#d9c5e2" stroke="#f3eef5" stroke-width="0.25"/>
<circle cx="149.4" cy="425.8" r="1.17" fill="#8a5f9b"/>
<circle cx="152.7" cy="425.8" r="1.17" fill="#5757a5"/>
<circle cx="155.9" cy="425.8" r="1.17" fill="#8a5f9b"/>
<circle cx="79.5" cy="428.7" r="1.17" fill="#6383b0"/>
<circle cx="82.8" cy="428.7" r="1.17" fill="#8a5f9b"/>
<circle cx="86.0" cy="428.7" r="1.17" fill="#6383b0"/>
<circle cx="89.3" cy="428.7" r="1.17" fill="#8a5f9b"/>
<circle cx="92.5" cy="428.7" r="1.17" fill="#f2a6ad"/>
<circle cx="95.8" cy="428.7" r="1.17" fill="#a51d2d"/>
<circle cx="99.0" cy="428.7" r="1.17" fill="#a51d2d"/>
<circle cx="102.3" cy="428.7" r="1.17" fill="#a51d2d"/>
<circle cx="105.5" cy="428.7" r="1.17" fill="#a51d2d"/>
<circle cx="108.8" cy="428.7" r="1.17" fill="#d9515d"/>
<circle cx="112.0" cy="428.7" r="1.17" fill="#a51d2d"/>
<circle cx="115.3" cy="428.7" r="1.17" fill="#d9515d"/>
<circle cx="118.5" cy="428.7" r="1.17" fill="#a51d2d"/>
<circle cx="121.8" cy="428.7" r="1.17" fill="#a51d2d"/>
<circle cx="125.0" cy="428.7" r="1.17" fill="#a51d2d"/>
<circle cx="128.3" cy="428.7" r="1.17" fill="#a51d2d"/>
<circle cx="131.5" cy="428.7" r="1.17" fill="#f2a6ad"/>
<circle cx="134.8" cy="428.7" r="1.17" fill="#f2a6ad"/>
<circle cx="138.0" cy="428.7" r="1.12" fill="#d9c5e2" stroke="#f3eef5" stroke-width="0.25"/>
<circle cx="141.3" cy="428.7" r="1.17" fill="#8a5f9b"/>
<circle cx="144.5" cy="428.7" r="1.17" fill="#8a5f9b"/>
<circle cx="147.8" cy="428.7" r="1.17" fill="#8a5f9b"/>
<circle cx="84.4" cy="431.5" r="1.17" fill="#5eaad2"/>
<circle cx="87.7" cy="431.5" r="1.17" fill="#5eaad2"/>
<circle cx="90.9" cy="431.5" r="1.17" fill="#8a5f9b"/>
<circle cx="94.2" cy="431.5" r="1.17" fill="#5eaad2"/>
<circle cx="97.4" cy="431.5" r="1.17" fill="#8a5f9b"/>
<circle cx="100.7" cy="431.5" r="1.17" fill="#f2a6ad"/>
<circle cx="103.9" cy="431.5" r="1.17" fill="#f2a6ad"/>
<circle cx="107.2" cy="431.5" r="1.17" fill="#f2a6ad"/>
<circle cx="110.4" cy="431.5" r="1.17" fill="#d9515d"/>
<circle cx="113.7" cy="431.5" r="1.17" fill="#a51d2d"/>
<circle cx="116.9" cy="431.5" r="1.17" fill="#f2a6ad"/>
<circle cx="120.2" cy="431.5" r="1.17" fill="#a51d2d"/>
<circle cx="123.4" cy="431.5" r="1.17" fill="#8a5f9b"/>
<circle cx="126.7" cy="431.5" r="1.17" fill="#8a5f9b"/>
<circle cx="129.9" cy="431.5" r="1.17" fill="#5eaad2"/>
<circle cx="133.2" cy="431.5" r="1.17" fill="#6383b0"/>
<circle cx="136.4" cy="431.5" r="1.17" fill="#5757a5"/>
<circle cx="95.8" cy="434.4" r="1.17" fill="#6383b0"/>
<circle cx="99.0" cy="434.4" r="1.17" fill="#5eaad2"/>
<circle cx="102.3" cy="434.4" r="1.17" fill="#6383b0"/>
<circle cx="105.5" cy="434.4" r="1.17" fill="#5eaad2"/>
<circle cx="108.8" cy="434.4" r="1.17" fill="#5eaad2"/>
<circle cx="112.0" cy="434.4" r="1.17" fill="#5eaad2"/>
<circle cx="115.3" cy="434.4" r="1.17" fill="#5eaad2"/>
<circle cx="118.5" cy="434.4" r="1.17" fill="#6383b0"/>
<circle cx="121.8" cy="434.4" r="1.17" fill="#6383b0"/>
<circle cx="125.0" cy="434.4" r="1.17" fill="#8a5f9b"/>
<circle cx="128.3" cy="434.4" r="1.17" fill="#6383b0"/>
</g>
<g id="dotsF">
<circle cx="108.8" cy="263.4" r="1.17" fill="#e2a420"/>
<circle cx="112.0" cy="263.4" r="1.17" fill="#e2a420"/>
<circle cx="115.3" cy="263.4" r="1.17" fill="#e2a420"/>
<circle cx="118.5" cy="263.4" r="1.17" fill="#e2a420"/>
<circle cx="121.8" cy="263.4" r="1.17" fill="#e2a420"/>
<circle cx="125.0" cy="263.4" r="1.17" fill="#e2a420"/>
<circle cx="128.3" cy="263.4" r="1.17" fill="#e2a420"/>
<circle cx="131.5" cy="263.4" r="1.17" fill="#e2a420"/>
<circle cx="134.8" cy="263.4" r="1.17" fill="#9d98cb"/>
<circle cx="138.0" cy="263.4" r="1.17" fill="#e2a420"/>
<circle cx="141.3" cy="263.4" r="1.17" fill="#e2a420"/>
<circle cx="144.5" cy="263.4" r="1.17" fill="#e2a420"/>
<circle cx="147.8" cy="263.4" r="1.17" fill="#e2a420"/>
<circle cx="151.0" cy="263.4" r="1.17" fill="#e2a420"/>
<circle cx="100.7" cy="266.2" r="1.17" fill="#e2a420"/>
<circle cx="103.9" cy="266.2" r="1.17" fill="#e2a420"/>
<circle cx="107.2" cy="266.2" r="1.17" fill="#e2a420"/>
<circle cx="110.4" cy="266.2" r="1.17" fill="#9d98cb"/>
<circle cx="113.7" cy="266.2" r="1.17" fill="#e2a420"/>
<circle cx="116.9" cy="266.2" r="1.17" fill="#9d98cb"/>
<circle cx="120.2" cy="266.2" r="1.17" fill="#9d98cb"/>
<circle cx="123.4" cy="266.2" r="1.17" fill="#9d98cb"/>
<circle cx="126.7" cy="266.2" r="1.17" fill="#9d98cb"/>
<circle cx="129.9" cy="266.2" r="1.17" fill="#9d98cb"/>
<circle cx="133.2" cy="266.2" r="1.17" fill="#9d98cb"/>
<circle cx="136.4" cy="266.2" r="1.17" fill="#9d98cb"/>
<circle cx="139.7" cy="266.2" r="1.17" fill="#9d98cb"/>
<circle cx="142.9" cy="266.2" r="1.17" fill="#9d98cb"/>
<circle cx="146.2" cy="266.2" r="1.17" fill="#9d98cb"/>
<circle cx="149.4" cy="266.2" r="1.17" fill="#9d98cb"/>
<circle cx="152.7" cy="266.2" r="1.17" fill="#e2a420"/>
<circle cx="155.9" cy="266.2" r="1.17" fill="#e2a420"/>
<circle cx="159.2" cy="266.2" r="1.17" fill="#e2a420"/>
<circle cx="162.4" cy="266.2" r="1.17" fill="#e2a420"/>
<circle cx="165.7" cy="266.2" r="1.17" fill="#e2a420"/>
<circle cx="92.5" cy="269.1" r="1.17" fill="#e2a420"/>
<circle cx="95.8" cy="269.1" r="1.17" fill="#e2a420"/>
<circle cx="99.0" cy="269.1" r="1.17" fill="#e2a420"/>
<circle cx="102.3" cy="269.1" r="1.17" fill="#9d98cb"/>
<circle cx="105.5" cy="269.1" r="1.17" fill="#9d98cb"/>
<circle cx="108.8" cy="269.1" r="1.17" fill="#9d98cb"/>
<circle cx="112.0" cy="269.1" r="1.17" fill="#e2a420"/>
<circle cx="115.3" cy="269.1" r="1.17" fill="#3a9f80"/>
<circle cx="118.5" cy="269.1" r="1.17" fill="#3a9f80"/>
<circle cx="121.8" cy="269.1" r="1.17" fill="#c75a1f"/>
<circle cx="125.0" cy="269.1" r="1.17" fill="#3a9f80"/>
<circle cx="128.3" cy="269.1" r="1.17" fill="#3a9f80"/>
<circle cx="131.5" cy="269.1" r="1.17" fill="#3a9f80"/>
<circle cx="134.8" cy="269.1" r="1.17" fill="#3a9f80"/>
<circle cx="138.0" cy="269.1" r="1.17" fill="#3a9f80"/>
<circle cx="141.3" cy="269.1" r="1.17" fill="#3a9f80"/>
<circle cx="144.5" cy="269.1" r="1.17" fill="#3a9f80"/>
<circle cx="147.8" cy="269.1" r="1.17" fill="#e2a420"/>
<circle cx="151.0" cy="269.1" r="1.17" fill="#9d98cb"/>
<circle cx="154.3" cy="269.1" r="1.17" fill="#9d98cb"/>
<circle cx="157.5" cy="269.1" r="1.17" fill="#9d98cb"/>
<circle cx="160.8" cy="269.1" r="1.17" fill="#e2a420"/>
<circle cx="164.0" cy="269.1" r="1.17" fill="#e2a420"/>
<circle cx="167.3" cy="269.1" r="1.17" fill="#e2a420"/>
<circle cx="170.5" cy="269.1" r="1.17" fill="#e2a420"/>
<circle cx="173.8" cy="269.1" r="1.17" fill="#9d98cb"/>
<circle cx="177.0" cy="269.1" r="1.17" fill="#e2a420"/>
<circle cx="87.7" cy="271.9" r="1.17" fill="#e2a420"/>
<circle cx="90.9" cy="271.9" r="1.17" fill="#e2a420"/>
<circle cx="94.2" cy="271.9" r="1.17" fill="#9d98cb"/>
<circle cx="97.4" cy="271.9" r="1.17" fill="#9d98cb"/>
<circle cx="100.7" cy="271.9" r="1.17" fill="#e2a420"/>
<circle cx="103.9" cy="271.9" r="1.17" fill="#3a9f80"/>
<circle cx="107.2" cy="271.9" r="1.17" fill="#3a9f80"/>
<circle cx="110.4" cy="271.9" r="1.17" fill="#3a9f80"/>
<circle cx="113.7" cy="271.9" r="1.17" fill="#3a9f80"/>
<circle cx="116.9" cy="271.9" r="1.17" fill="#3a9f80"/>
<circle cx="120.2" cy="271.9" r="1.17" fill="#3a9f80"/>
<circle cx="123.4" cy="271.9" r="1.17" fill="#3a9f80"/>
<circle cx="126.7" cy="271.9" r="1.17" fill="#3a9f80"/>
<circle cx="129.9" cy="271.9" r="1.17" fill="#3a9f80"/>
<circle cx="133.2" cy="271.9" r="1.17" fill="#3a9f80"/>
<circle cx="136.4" cy="271.9" r="1.17" fill="#3a9f80"/>
<circle cx="139.7" cy="271.9" r="1.17" fill="#3a9f80"/>
<circle cx="142.9" cy="271.9" r="1.17" fill="#3a9f80"/>
<circle cx="146.2" cy="271.9" r="1.17" fill="#3a9f80"/>
<circle cx="149.4" cy="271.9" r="1.17" fill="#c75a1f"/>
<circle cx="152.7" cy="271.9" r="1.17" fill="#3a9f80"/>
<circle cx="155.9" cy="271.9" r="1.17" fill="#3a9f80"/>
<circle cx="159.2" cy="271.9" r="1.17" fill="#3a9f80"/>
<circle cx="162.4" cy="271.9" r="1.17" fill="#3a9f80"/>
<circle cx="165.7" cy="271.9" r="1.17" fill="#9d98cb"/>
<circle cx="168.9" cy="271.9" r="1.17" fill="#e2a420"/>
<circle cx="172.2" cy="271.9" r="1.17" fill="#9d98cb"/>
<circle cx="175.4" cy="271.9" r="1.17" fill="#9d98cb"/>
<circle cx="178.7" cy="271.9" r="1.17" fill="#e2a420"/>
<circle cx="82.8" cy="274.8" r="1.17" fill="#e2a420"/>
<circle cx="86.0" cy="274.8" r="1.17" fill="#e2a420"/>
<circle cx="89.3" cy="274.8" r="1.17" fill="#e2a420"/>
<circle cx="92.5" cy="274.8" r="1.17" fill="#9d98cb"/>
<circle cx="95.8" cy="274.8" r="1.17" fill="#3a9f80"/>
<circle cx="99.0" cy="274.8" r="1.17" fill="#3a9f80"/>
<circle cx="102.3" cy="274.8" r="1.17" fill="#3a9f80"/>
<circle cx="105.5" cy="274.8" r="1.17" fill="#3a9f80"/>
<circle cx="108.8" cy="274.8" r="1.17" fill="#3a9f80"/>
<circle cx="151.0" cy="274.8" r="1.17" fill="#3a9f80"/>
<circle cx="154.3" cy="274.8" r="1.17" fill="#3a9f80"/>
<circle cx="157.5" cy="274.8" r="1.17" fill="#3a9f80"/>
<circle cx="160.8" cy="274.8" r="1.17" fill="#3a9f80"/>
<circle cx="164.0" cy="274.8" r="1.17" fill="#3a9f80"/>
<circle cx="167.3" cy="274.8" r="1.17" fill="#3a9f80"/>
<circle cx="170.5" cy="274.8" r="1.17" fill="#3a9f80"/>
<circle cx="173.8" cy="274.8" r="1.17" fill="#3a9f80"/>
<circle cx="177.0" cy="274.8" r="1.17" fill="#9d98cb"/>
<circle cx="180.3" cy="274.8" r="1.17" fill="#e2a420"/>
<circle cx="183.5" cy="274.8" r="1.17" fill="#e2a420"/>
<circle cx="81.2" cy="277.6" r="1.17" fill="#e2a420"/>
<circle cx="84.4" cy="277.6" r="1.17" fill="#9d98cb"/>
<circle cx="87.7" cy="277.6" r="1.17" fill="#9d98cb"/>
<circle cx="90.9" cy="277.6" r="1.17" fill="#3a9f80"/>
<circle cx="94.2" cy="277.6" r="1.17" fill="#3a9f80"/>
<circle cx="97.4" cy="277.6" r="1.17" fill="#3a9f80"/>
<circle cx="100.7" cy="277.6" r="1.17" fill="#3a9f80"/>
<circle cx="168.9" cy="277.6" r="1.17" fill="#3a9f80"/>
<circle cx="172.2" cy="277.6" r="1.17" fill="#3a9f80"/>
<circle cx="175.4" cy="277.6" r="1.17" fill="#3a9f80"/>
<circle cx="178.7" cy="277.6" r="1.17" fill="#3a9f80"/>
<circle cx="181.9" cy="277.6" r="1.17" fill="#9d98cb"/>
<circle cx="185.2" cy="277.6" r="1.17" fill="#e2a420"/>
<circle cx="76.3" cy="280.5" r="1.17" fill="#e2a420"/>
<circle cx="79.5" cy="280.5" r="1.17" fill="#e2a420"/>
<circle cx="82.8" cy="280.5" r="1.17" fill="#9d98cb"/>
<circle cx="86.0" cy="280.5" r="1.17" fill="#3a9f80"/>
<circle cx="89.3" cy="280.5" r="1.17" fill="#3a9f80"/>
<circle cx="92.5" cy="280.5" r="1.17" fill="#3a9f80"/>
<circle cx="177.0" cy="280.5" r="1.17" fill="#3a9f80"/>
<circle cx="180.3" cy="280.5" r="1.17" fill="#3a9f80"/>
<circle cx="183.5" cy="280.5" r="1.17" fill="#9d98cb"/>
<circle cx="186.8" cy="280.5" r="1.17" fill="#e2a420"/>
<circle cx="71.4" cy="283.3" r="1.17" fill="#e2a420"/>
<circle cx="74.7" cy="283.3" r="1.17" fill="#e2a420"/>
<circle cx="77.9" cy="283.3" r="1.17" fill="#9d98cb"/>
<circle cx="81.2" cy="283.3" r="1.17" fill="#9d98cb"/>
<circle cx="84.4" cy="283.3" r="1.17" fill="#3a9f80"/>
<circle cx="87.7" cy="283.3" r="1.17" fill="#3a9f80"/>
<circle cx="178.7" cy="283.3" r="1.17" fill="#3a9f80"/>
<circle cx="181.9" cy="283.3" r="1.17" fill="#3a9f80"/>
<circle cx="185.2" cy="283.3" r="1.17" fill="#9d98cb"/>
<circle cx="188.4" cy="283.3" r="1.17" fill="#e2a420"/>
<circle cx="56.8" cy="286.2" r="1.17" fill="#e2a420"/>
<circle cx="60.0" cy="286.2" r="1.17" fill="#e2a420"/>
<circle cx="63.3" cy="286.2" r="1.17" fill="#e2a420"/>
<circle cx="66.5" cy="286.2" r="1.17" fill="#e2a420"/>
<circle cx="69.8" cy="286.2" r="1.17" fill="#e2a420"/>
<circle cx="73.0" cy="286.2" r="1.17" fill="#9d98cb"/>
<circle cx="76.3" cy="286.2" r="1.17" fill="#e2a420"/>
<circle cx="79.5" cy="286.2" r="1.17" fill="#c75a1f"/>
<circle cx="82.8" cy="286.2" r="1.17" fill="#3a9f80"/>
<circle cx="183.5" cy="286.2" r="1.17" fill="#3a9f80"/>
<circle cx="186.8" cy="286.2" r="1.17" fill="#3a9f80"/>
<circle cx="190.0" cy="286.2" r="1.17" fill="#e2a420"/>
<circle cx="193.3" cy="286.2" r="1.17" fill="#9d98cb"/>
<circle cx="51.9" cy="289.0" r="1.17" fill="#e2a420"/>
<circle cx="55.2" cy="289.0" r="1.17" fill="#e2a420"/>
<circle cx="58.4" cy="289.0" r="1.17" fill="#9d98cb"/>
<circle cx="61.7" cy="289.0" r="1.17" fill="#9d98cb"/>
<circle cx="64.9" cy="289.0" r="1.17" fill="#9d98cb"/>
<circle cx="68.2" cy="289.0" r="1.17" fill="#9d98cb"/>
<circle cx="71.4" cy="289.0" r="1.17" fill="#9d98cb"/>
<circle cx="74.7" cy="289.0" r="1.17" fill="#3a9f80"/>
<circle cx="77.9" cy="289.0" r="1.17" fill="#3a9f80"/>
<circle cx="81.2" cy="289.0" r="1.17" fill="#3a9f80"/>
<circle cx="185.2" cy="289.0" r="1.17" fill="#3a9f80"/>
<circle cx="188.4" cy="289.0" r="1.17" fill="#3a9f80"/>
<circle cx="191.7" cy="289.0" r="1.17" fill="#e2a420"/>
<circle cx="194.9" cy="289.0" r="1.17" fill="#9d98cb"/>
<circle cx="50.3" cy="291.9" r="1.17" fill="#e2a420"/>
<circle cx="53.5" cy="291.9" r="1.17" fill="#e2a420"/>
<circle cx="56.8" cy="291.9" r="1.17" fill="#9d98cb"/>
<circle cx="60.0" cy="291.9" r="1.17" fill="#3a9f80"/>
<circle cx="63.3" cy="291.9" r="1.17" fill="#3a9f80"/>
<circle cx="66.5" cy="291.9" r="1.17" fill="#3a9f80"/>
<circle cx="69.8" cy="291.9" r="1.17" fill="#3a9f80"/>
<circle cx="73.0" cy="291.9" r="1.17" fill="#3a9f80"/>
<circle cx="76.3" cy="291.9" r="1.17" fill="#3a9f80"/>
<circle cx="186.8" cy="291.9" r="1.17" fill="#3a9f80"/>
<circle cx="190.0" cy="291.9" r="1.17" fill="#3a9f80"/>
<circle cx="193.3" cy="291.9" r="1.17" fill="#9d98cb"/>
<circle cx="196.5" cy="291.9" r="1.17" fill="#9d98cb"/>
<circle cx="45.4" cy="294.7" r="1.17" fill="#e2a420"/>
<circle cx="48.7" cy="294.7" r="1.17" fill="#e2a420"/>
<circle cx="51.9" cy="294.7" r="1.17" fill="#9d98cb"/>
<circle cx="55.2" cy="294.7" r="1.17" fill="#3a9f80"/>
<circle cx="58.4" cy="294.7" r="1.17" fill="#3a9f80"/>
<circle cx="61.7" cy="294.7" r="1.17" fill="#3a9f80"/>
<circle cx="188.4" cy="294.7" r="1.17" fill="#3a9f80"/>
<circle cx="191.7" cy="294.7" r="1.17" fill="#3a9f80"/>
<circle cx="194.9" cy="294.7" r="1.17" fill="#3a9f80"/>
<circle cx="198.2" cy="294.7" r="1.17" fill="#9d98cb"/>
<circle cx="201.4" cy="294.7" r="1.17" fill="#9d98cb"/>
<circle cx="43.8" cy="297.6" r="1.17" fill="#e2a420"/>
<circle cx="47.0" cy="297.6" r="1.17" fill="#9d98cb"/>
<circle cx="50.3" cy="297.6" r="1.17" fill="#9d98cb"/>
<circle cx="53.5" cy="297.6" r="1.17" fill="#3a9f80"/>
<circle cx="56.8" cy="297.6" r="1.17" fill="#3a9f80"/>
<circle cx="193.3" cy="297.6" r="1.17" fill="#3a9f80"/>
<circle cx="196.5" cy="297.6" r="1.17" fill="#3a9f80"/>
<circle cx="199.8" cy="297.6" r="1.17" fill="#9d98cb"/>
<circle cx="203.0" cy="297.6" r="1.17" fill="#9d98cb"/>
<circle cx="42.2" cy="300.4" r="1.17" fill="#e2a420"/>
<circle cx="45.4" cy="300.4" r="1.17" fill="#e2a420"/>
<circle cx="48.7" cy="300.4" r="1.17" fill="#c75a1f"/>
<circle cx="51.9" cy="300.4" r="1.17" fill="#3a9f80"/>
<circle cx="194.9" cy="300.4" r="1.17" fill="#9d98cb"/>
<circle cx="198.2" cy="300.4" r="1.17" fill="#3a9f80"/>
<circle cx="201.4" cy="300.4" r="1.17" fill="#9d98cb"/>
<circle cx="204.7" cy="300.4" r="1.17" fill="#9d98cb"/>
<circle cx="37.3" cy="303.3" r="1.17" fill="#e2a420"/>
<circle cx="40.5" cy="303.3" r="1.17" fill="#e2a420"/>
<circle cx="43.8" cy="303.3" r="1.17" fill="#e2a420"/>
<circle cx="47.0" cy="303.3" r="1.17" fill="#3a9f80"/>
<circle cx="50.3" cy="303.3" r="1.17" fill="#3a9f80"/>
<circle cx="199.8" cy="303.3" r="1.17" fill="#3a9f80"/>
<circle cx="203.0" cy="303.3" r="1.17" fill="#3a9f80"/>
<circle cx="206.3" cy="303.3" r="1.17" fill="#9d98cb"/>
<circle cx="35.7" cy="306.1" r="1.17" fill="#e2a420"/>
<circle cx="38.9" cy="306.1" r="1.17" fill="#9d98cb"/>
<circle cx="42.2" cy="306.1" r="1.17" fill="#9d98cb"/>
<circle cx="45.4" cy="306.1" r="1.17" fill="#c75a1f"/>
<circle cx="48.7" cy="306.1" r="1.17" fill="#3a9f80"/>
<circle cx="201.4" cy="306.1" r="1.17" fill="#9d98cb"/>
<circle cx="204.7" cy="306.1" r="1.17" fill="#9d98cb"/>
<circle cx="207.9" cy="306.1" r="1.17" fill="#9d98cb"/>
<circle cx="34.0" cy="309.0" r="1.17" fill="#e2a420"/>
<circle cx="37.3" cy="309.0" r="1.17" fill="#9d98cb"/>
<circle cx="40.5" cy="309.0" r="1.17" fill="#3a9f80"/>
<circle cx="43.8" cy="309.0" r="1.17" fill="#3a9f80"/>
<circle cx="203.0" cy="309.0" r="1.17" fill="#3a9f80"/>
<circle cx="206.3" cy="309.0" r="1.17" fill="#c75a1f"/>
<circle cx="209.5" cy="309.0" r="1.17" fill="#c75a1f"/>
<circle cx="32.4" cy="311.8" r="1.17" fill="#e2a420"/>
<circle cx="35.7" cy="311.8" r="1.17" fill="#e2a420"/>
<circle cx="38.9" cy="311.8" r="1.17" fill="#3a9f80"/>
<circle cx="42.2" cy="311.8" r="1.17" fill="#3a9f80"/>
<circle cx="204.7" cy="311.8" r="1.17" fill="#9d98cb"/>
<circle cx="207.9" cy="311.8" r="1.17" fill="#c75a1f"/>
<circle cx="211.2" cy="311.8" r="1.17" fill="#c75a1f"/>
<circle cx="30.8" cy="314.7" r="1.17" fill="#e2a420"/>
<circle cx="34.0" cy="314.7" r="1.17" fill="#e2a420"/>
<circle cx="37.3" cy="314.7" r="1.17" fill="#3a9f80"/>
<circle cx="40.5" cy="314.7" r="1.17" fill="#3a9f80"/>
<circle cx="203.0" cy="314.7" r="1.17" fill="#3a9f80"/>
<circle cx="206.3" cy="314.7" r="1.17" fill="#3a9f80"/>
<circle cx="209.5" cy="314.7" r="1.17" fill="#9d98cb"/>
<circle cx="212.8" cy="314.7" r="1.17" fill="#9d98cb"/>
<circle cx="29.2" cy="317.5" r="1.17" fill="#9d98cb"/>
<circle cx="32.4" cy="317.5" r="1.17" fill="#9d98cb"/>
<circle cx="35.7" cy="317.5" r="1.17" fill="#3a9f80"/>
<circle cx="204.7" cy="317.5" r="1.17" fill="#3a9f80"/>
<circle cx="207.9" cy="317.5" r="1.17" fill="#3a9f80"/>
<circle cx="211.2" cy="317.5" r="1.17" fill="#9d98cb"/>
<circle cx="27.5" cy="320.4" r="1.17" fill="#e2a420"/>
<circle cx="30.8" cy="320.4" r="1.17" fill="#9d98cb"/>
<circle cx="34.0" cy="320.4" r="1.17" fill="#3a9f80"/>
<circle cx="206.3" cy="320.4" r="1.17" fill="#3a9f80"/>
<circle cx="209.5" cy="320.4" r="1.17" fill="#9d98cb"/>
<circle cx="212.8" cy="320.4" r="1.17" fill="#9d98cb"/>
<circle cx="25.9" cy="323.2" r="1.17" fill="#e2a420"/>
<circle cx="29.2" cy="323.2" r="1.17" fill="#9d98cb"/>
<circle cx="32.4" cy="323.2" r="1.17" fill="#3a9f80"/>
<circle cx="35.7" cy="323.2" r="1.17" fill="#3a9f80"/>
<circle cx="204.7" cy="323.2" r="1.17" fill="#9d98cb"/>
<circle cx="207.9" cy="323.2" r="1.17" fill="#9d98cb"/>
<circle cx="211.2" cy="323.2" r="1.17" fill="#9d98cb"/>
<circle cx="24.3" cy="326.1" r="1.17" fill="#e2a420"/>
<circle cx="27.5" cy="326.1" r="1.17" fill="#9d98cb"/>
<circle cx="30.8" cy="326.1" r="1.17" fill="#3a9f80"/>
<circle cx="34.0" cy="326.1" r="1.17" fill="#3a9f80"/>
<circle cx="206.3" cy="326.1" r="1.17" fill="#3a9f80"/>
<circle cx="209.5" cy="326.1" r="1.17" fill="#9d98cb"/>
<circle cx="212.8" cy="326.1" r="1.17" fill="#9d98cb"/>
<circle cx="25.9" cy="328.9" r="1.17" fill="#e2a420"/>
<circle cx="29.2" cy="328.9" r="1.17" fill="#9d98cb"/>
<circle cx="32.4" cy="328.9" r="1.17" fill="#3a9f80"/>
<circle cx="207.9" cy="328.9" r="1.17" fill="#9d98cb"/>
<circle cx="211.2" cy="328.9" r="1.17" fill="#9d98cb"/>
<circle cx="24.3" cy="331.8" r="1.17" fill="#9d98cb"/>
<circle cx="27.5" cy="331.8" r="1.17" fill="#e2a420"/>
<circle cx="30.8" cy="331.8" r="1.17" fill="#3a9f80"/>
<circle cx="34.0" cy="331.8" r="1.17" fill="#3a9f80"/>
<circle cx="25.9" cy="334.6" r="1.17" fill="#9d98cb"/>
<circle cx="29.2" cy="334.6" r="1.17" fill="#9d98cb"/>
<circle cx="32.4" cy="334.6" r="1.17" fill="#3a9f80"/>
<circle cx="27.5" cy="337.5" r="1.17" fill="#e2a420"/>
<circle cx="30.8" cy="337.5" r="1.17" fill="#9d98cb"/>
<circle cx="34.0" cy="337.5" r="1.17" fill="#3a9f80"/>
<circle cx="25.9" cy="340.3" r="1.17" fill="#e2a420"/>
<circle cx="29.2" cy="340.3" r="1.17" fill="#9d98cb"/>
<circle cx="32.4" cy="340.3" r="1.17" fill="#3a9f80"/>
<circle cx="35.7" cy="340.3" r="1.17" fill="#3a9f80"/>
<circle cx="27.5" cy="343.2" r="1.17" fill="#e2a420"/>
<circle cx="30.8" cy="343.2" r="1.17" fill="#e2a420"/>
<circle cx="34.0" cy="343.2" r="1.17" fill="#3a9f80"/>
<circle cx="29.2" cy="346.0" r="1.17" fill="#e2a420"/>
<circle cx="32.4" cy="346.0" r="1.17" fill="#9d98cb"/>
<circle cx="35.7" cy="346.0" r="1.17" fill="#3a9f80"/>
<circle cx="27.5" cy="348.9" r="1.17" fill="#e2a420"/>
<circle cx="30.8" cy="348.9" r="1.17" fill="#9d98cb"/>
<circle cx="34.0" cy="348.9" r="1.17" fill="#3a9f80"/>
<circle cx="37.3" cy="348.9" r="1.17" fill="#c75a1f"/>
<circle cx="29.2" cy="351.7" r="1.17" fill="#e2a420"/>
<circle cx="32.4" cy="351.7" r="1.17" fill="#9d98cb"/>
<circle cx="35.7" cy="351.7" r="1.17" fill="#3a9f80"/>
<circle cx="38.9" cy="351.7" r="1.17" fill="#3a9f80"/>
<circle cx="30.8" cy="354.6" r="1.17" fill="#e2a420"/>
<circle cx="34.0" cy="354.6" r="1.17" fill="#9d98cb"/>
<circle cx="37.3" cy="354.6" r="1.17" fill="#3a9f80"/>
<circle cx="32.4" cy="357.4" r="1.17" fill="#e2a420"/>
<circle cx="35.7" cy="357.4" r="1.17" fill="#9d98cb"/>
<circle cx="38.9" cy="357.4" r="1.17" fill="#3a9f80"/>
<circle cx="30.8" cy="360.3" r="1.17" fill="#e2a420"/>
<circle cx="34.0" cy="360.3" r="1.17" fill="#9d98cb"/>
<circle cx="37.3" cy="360.3" r="1.17" fill="#3a9f80"/>
<circle cx="40.5" cy="360.3" r="1.17" fill="#3a9f80"/>
<circle cx="32.4" cy="363.1" r="1.17" fill="#e2a420"/>
<circle cx="35.7" cy="363.1" r="1.17" fill="#e2a420"/>
<circle cx="38.9" cy="363.1" r="1.17" fill="#3a9f80"/>
<circle cx="42.2" cy="363.1" r="1.17" fill="#3a9f80"/>
<circle cx="34.0" cy="366.0" r="1.17" fill="#e2a420"/>
<circle cx="37.3" cy="366.0" r="1.17" fill="#e2a420"/>
<circle cx="40.5" cy="366.0" r="1.17" fill="#3a9f80"/>
<circle cx="35.7" cy="368.8" r="1.17" fill="#e2a420"/>
<circle cx="38.9" cy="368.8" r="1.17" fill="#9d98cb"/>
<circle cx="42.2" cy="368.8" r="1.17" fill="#3a9f80"/>
<circle cx="37.3" cy="371.7" r="1.17" fill="#e2a420"/>
<circle cx="40.5" cy="371.7" r="1.17" fill="#9d98cb"/>
<circle cx="43.8" cy="371.7" r="1.17" fill="#3a9f80"/>
<circle cx="35.7" cy="374.5" r="1.17" fill="#e2a420"/>
<circle cx="38.9" cy="374.5" r="1.17" fill="#9d98cb"/>
<circle cx="42.2" cy="374.5" r="1.17" fill="#3a9f80"/>
<circle cx="45.4" cy="374.5" r="1.17" fill="#3a9f80"/>
<circle cx="37.3" cy="377.4" r="1.17" fill="#9d98cb"/>
<circle cx="40.5" cy="377.4" r="1.17" fill="#9d98cb"/>
<circle cx="43.8" cy="377.4" r="1.17" fill="#3a9f80"/>
<circle cx="47.0" cy="377.4" r="1.17" fill="#3a9f80"/>
<circle cx="38.9" cy="380.2" r="1.17" fill="#e2a420"/>
<circle cx="42.2" cy="380.2" r="1.17" fill="#9d98cb"/>
<circle cx="45.4" cy="380.2" r="1.17" fill="#3a9f80"/>
<circle cx="48.7" cy="380.2" r="1.17" fill="#3a9f80"/>
<circle cx="40.5" cy="383.1" r="1.17" fill="#e2a420"/>
<circle cx="43.8" cy="383.1" r="1.17" fill="#9d98cb"/>
<circle cx="47.0" cy="383.1" r="1.17" fill="#3a9f80"/>
<circle cx="50.3" cy="383.1" r="1.17" fill="#3a9f80"/>
<circle cx="42.2" cy="385.9" r="1.17" fill="#e2a420"/>
<circle cx="45.4" cy="385.9" r="1.17" fill="#9d98cb"/>
<circle cx="48.7" cy="385.9" r="1.17" fill="#3a9f80"/>
<circle cx="51.9" cy="385.9" r="1.17" fill="#3a9f80"/>
<circle cx="43.8" cy="388.8" r="1.17" fill="#e2a420"/>
<circle cx="47.0" cy="388.8" r="1.17" fill="#9d98cb"/>
<circle cx="50.3" cy="388.8" r="1.17" fill="#3a9f80"/>
<circle cx="53.5" cy="388.8" r="1.17" fill="#3a9f80"/>
<circle cx="45.4" cy="391.6" r="1.17" fill="#e2a420"/>
<circle cx="48.7" cy="391.6" r="1.17" fill="#9d98cb"/>
<circle cx="51.9" cy="391.6" r="1.17" fill="#3a9f80"/>
<circle cx="55.2" cy="391.6" r="1.17" fill="#3a9f80"/>
<circle cx="47.0" cy="394.5" r="1.17" fill="#e2a420"/>
<circle cx="50.3" cy="394.5" r="1.17" fill="#9d98cb"/>
<circle cx="53.5" cy="394.5" r="1.17" fill="#3a9f80"/>
<circle cx="56.8" cy="394.5" r="1.17" fill="#3a9f80"/>
<circle cx="48.7" cy="397.3" r="1.17" fill="#e2a420"/>
<circle cx="51.9" cy="397.3" r="1.17" fill="#9d98cb"/>
<circle cx="55.2" cy="397.3" r="1.17" fill="#3a9f80"/>
<circle cx="58.4" cy="397.3" r="1.17" fill="#3a9f80"/>
<circle cx="50.3" cy="400.2" r="1.17" fill="#e2a420"/>
<circle cx="53.5" cy="400.2" r="1.17" fill="#9d98cb"/>
<circle cx="56.8" cy="400.2" r="1.17" fill="#9d98cb"/>
<circle cx="60.0" cy="400.2" r="1.17" fill="#3a9f80"/>
<circle cx="51.9" cy="403.0" r="1.17" fill="#e2a420"/>
<circle cx="55.2" cy="403.0" r="1.17" fill="#e2a420"/>
<circle cx="58.4" cy="403.0" r="1.17" fill="#9d98cb"/>
<circle cx="61.7" cy="403.0" r="1.17" fill="#3a9f80"/>
<circle cx="53.5" cy="405.9" r="1.17" fill="#9d98cb"/>
<circle cx="56.8" cy="405.9" r="1.17" fill="#e2a420"/>
<circle cx="60.0" cy="405.9" r="1.17" fill="#9d98cb"/>
<circle cx="63.3" cy="405.9" r="1.17" fill="#3a9f80"/>
<circle cx="66.5" cy="405.9" r="1.17" fill="#3a9f80"/>
<circle cx="58.4" cy="408.7" r="1.17" fill="#e2a420"/>
<circle cx="61.7" cy="408.7" r="1.17" fill="#9d98cb"/>
<circle cx="64.9" cy="408.7" r="1.17" fill="#3a9f80"/>
<circle cx="68.2" cy="408.7" r="1.17" fill="#3a9f80"/>
<circle cx="60.0" cy="411.6" r="1.17" fill="#e2a420"/>
<circle cx="63.3" cy="411.6" r="1.17" fill="#9d98cb"/>
<circle cx="66.5" cy="411.6" r="1.17" fill="#3a9f80"/>
<circle cx="69.8" cy="411.6" r="1.17" fill="#3a9f80"/>
<circle cx="61.7" cy="414.4" r="1.17" fill="#e2a420"/>
<circle cx="64.9" cy="414.4" r="1.17" fill="#e2a420"/>
<circle cx="68.2" cy="414.4" r="1.17" fill="#3a9f80"/>
<circle cx="71.4" cy="414.4" r="1.17" fill="#3a9f80"/>
<circle cx="66.5" cy="417.3" r="1.17" fill="#e2a420"/>
<circle cx="69.8" cy="417.3" r="1.17" fill="#e2a420"/>
<circle cx="73.0" cy="417.3" r="1.17" fill="#3a9f80"/>
<circle cx="68.2" cy="420.1" r="1.17" fill="#e2a420"/>
<circle cx="71.4" cy="420.1" r="1.17" fill="#e2a420"/>
<circle cx="74.7" cy="420.1" r="1.17" fill="#3a9f80"/>
<circle cx="77.9" cy="420.1" r="1.17" fill="#3a9f80"/>
<circle cx="149.4" cy="420.1" r="1.17" fill="#3a9f80"/>
<circle cx="152.7" cy="420.1" r="1.17" fill="#3a9f80"/>
<circle cx="155.9" cy="420.1" r="1.17" fill="#3a9f80"/>
<circle cx="69.8" cy="423.0" r="1.17" fill="#e2a420"/>
<circle cx="73.0" cy="423.0" r="1.17" fill="#9d98cb"/>
<circle cx="76.3" cy="423.0" r="1.17" fill="#e2a420"/>
<circle cx="79.5" cy="423.0" r="1.17" fill="#3a9f80"/>
<circle cx="82.8" cy="423.0" r="1.17" fill="#3a9f80"/>
<circle cx="141.3" cy="423.0" r="1.17" fill="#3a9f80"/>
<circle cx="144.5" cy="423.0" r="1.17" fill="#3a9f80"/>
<circle cx="147.8" cy="423.0" r="1.17" fill="#3a9f80"/>
<circle cx="151.0" cy="423.0" r="1.17" fill="#9d98cb"/>
<circle cx="154.3" cy="423.0" r="1.17" fill="#9d98cb"/>
<circle cx="157.5" cy="423.0" r="1.17" fill="#e2a420"/>
<circle cx="74.7" cy="425.8" r="1.17" fill="#e2a420"/>
<circle cx="77.9" cy="425.8" r="1.17" fill="#e2a420"/>
<circle cx="81.2" cy="425.8" r="1.17" fill="#9d98cb"/>
<circle cx="84.4" cy="425.8" r="1.17" fill="#3a9f80"/>
<circle cx="87.7" cy="425.8" r="1.17" fill="#3a9f80"/>
<circle cx="90.9" cy="425.8" r="1.17" fill="#3a9f80"/>
<circle cx="129.9" cy="425.8" r="1.17" fill="#3a9f80"/>
<circle cx="133.2" cy="425.8" r="1.17" fill="#3a9f80"/>
<circle cx="136.4" cy="425.8" r="1.17" fill="#3a9f80"/>
<circle cx="139.7" cy="425.8" r="1.17" fill="#3a9f80"/>
<circle cx="142.9" cy="425.8" r="1.17" fill="#9d98cb"/>
<circle cx="146.2" cy="425.8" r="1.17" fill="#e2a420"/>
<circle cx="149.4" cy="425.8" r="1.17" fill="#9d98cb"/>
<circle cx="152.7" cy="425.8" r="1.17" fill="#e2a420"/>
<circle cx="155.9" cy="425.8" r="1.17" fill="#e2a420"/>
<circle cx="79.5" cy="428.7" r="1.17" fill="#e2a420"/>
<circle cx="82.8" cy="428.7" r="1.17" fill="#9d98cb"/>
<circle cx="86.0" cy="428.7" r="1.17" fill="#9d98cb"/>
<circle cx="89.3" cy="428.7" r="1.17" fill="#9d98cb"/>
<circle cx="92.5" cy="428.7" r="1.17" fill="#3a9f80"/>
<circle cx="95.8" cy="428.7" r="1.17" fill="#3a9f80"/>
<circle cx="99.0" cy="428.7" r="1.17" fill="#3a9f80"/>
<circle cx="102.3" cy="428.7" r="1.17" fill="#3a9f80"/>
<circle cx="105.5" cy="428.7" r="1.17" fill="#3a9f80"/>
<circle cx="108.8" cy="428.7" r="1.17" fill="#3a9f80"/>
<circle cx="112.0" cy="428.7" r="1.17" fill="#3a9f80"/>
<circle cx="115.3" cy="428.7" r="1.17" fill="#3a9f80"/>
<circle cx="118.5" cy="428.7" r="1.17" fill="#3a9f80"/>
<circle cx="121.8" cy="428.7" r="1.17" fill="#3a9f80"/>
<circle cx="125.0" cy="428.7" r="1.17" fill="#3a9f80"/>
<circle cx="128.3" cy="428.7" r="1.17" fill="#3a9f80"/>
<circle cx="131.5" cy="428.7" r="1.17" fill="#3a9f80"/>
<circle cx="134.8" cy="428.7" r="1.17" fill="#9d98cb"/>
<circle cx="138.0" cy="428.7" r="1.17" fill="#9d98cb"/>
<circle cx="141.3" cy="428.7" r="1.17" fill="#e2a420"/>
<circle cx="144.5" cy="428.7" r="1.17" fill="#e2a420"/>
<circle cx="147.8" cy="428.7" r="1.17" fill="#e2a420"/>
<circle cx="84.4" cy="431.5" r="1.17" fill="#e2a420"/>
<circle cx="87.7" cy="431.5" r="1.17" fill="#e2a420"/>
<circle cx="90.9" cy="431.5" r="1.17" fill="#e2a420"/>
<circle cx="94.2" cy="431.5" r="1.17" fill="#9d98cb"/>
<circle cx="97.4" cy="431.5" r="1.17" fill="#9d98cb"/>
<circle cx="100.7" cy="431.5" r="1.17" fill="#9d98cb"/>
<circle cx="103.9" cy="431.5" r="1.17" fill="#9d98cb"/>
<circle cx="107.2" cy="431.5" r="1.17" fill="#9d98cb"/>
<circle cx="110.4" cy="431.5" r="1.17" fill="#9d98cb"/>
<circle cx="113.7" cy="431.5" r="1.17" fill="#9d98cb"/>
<circle cx="116.9" cy="431.5" r="1.17" fill="#9d98cb"/>
<circle cx="120.2" cy="431.5" r="1.17" fill="#9d98cb"/>
<circle cx="123.4" cy="431.5" r="1.17" fill="#9d98cb"/>
<circle cx="126.7" cy="431.5" r="1.17" fill="#9d98cb"/>
<circle cx="129.9" cy="431.5" r="1.17" fill="#9d98cb"/>
<circle cx="133.2" cy="431.5" r="1.17" fill="#e2a420"/>
<circle cx="136.4" cy="431.5" r="1.17" fill="#9d98cb"/>
<circle cx="95.8" cy="434.4" r="1.17" fill="#e2a420"/>
<circle cx="99.0" cy="434.4" r="1.17" fill="#e2a420"/>
<circle cx="102.3" cy="434.4" r="1.17" fill="#e2a420"/>
<circle cx="105.5" cy="434.4" r="1.17" fill="#e2a420"/>
<circle cx="108.8" cy="434.4" r="1.17" fill="#e2a420"/>
<circle cx="112.0" cy="434.4" r="1.17" fill="#9d98cb"/>
<circle cx="115.3" cy="434.4" r="1.17" fill="#e2a420"/>
<circle cx="118.5" cy="434.4" r="1.17" fill="#e2a420"/>
<circle cx="121.8" cy="434.4" r="1.17" fill="#e2a420"/>
<circle cx="125.0" cy="434.4" r="1.17" fill="#9d98cb"/>
<circle cx="128.3" cy="434.4" r="1.17" fill="#e2a420"/>
</g>
</defs>
<g transform="translate(0 0)">
<g clip-path="url(#imgclip)"><use href="#tbase"/><use href="#dotsD"/></g>
<rect x="23.4" y="305.5" width="27.3" height="25.7" fill="rgba(150,70,70,0.2)" stroke="#8e3b3f" stroke-width="1.1" stroke-dasharray="3.5 3.2"/>
<rect x="40.1" y="385.0" width="26.2" height="26.2" fill="rgba(60,70,120,0.22)" stroke="#33436b" stroke-width="1.1" stroke-dasharray="3.5 3.2"/>
<rect x="184.4" y="287.5" width="26.3" height="25.9" fill="rgba(60,130,90,0.25)" stroke="#2c6a45" stroke-width="1.1" stroke-dasharray="3.5 3.2"/>
<circle cx="60.8" cy="333.0" r="6.0" fill="#ffe800"/>
<text x="60.8" y="336.0" font-size="9.8" font-weight="bold" text-anchor="middle" fill="#111" font-family="Liberation Sans, sans-serif">1</text>
<circle cx="78.8" cy="389.6" r="6.0" fill="#ffe800"/>
<text x="78.8" y="392.6" font-size="9.8" font-weight="bold" text-anchor="middle" fill="#111" font-family="Liberation Sans, sans-serif">2</text>
<circle cx="174.2" cy="309.0" r="6.0" fill="#ffe800"/>
<text x="174.2" y="312.0" font-size="9.8" font-weight="bold" text-anchor="middle" fill="#111" font-family="Liberation Sans, sans-serif">3</text>
<text x="23.8" y="433.8" font-size="9.6" font-weight="bold" fill="#111" font-family="Liberation Sans, sans-serif">PCW17</text>
<clipPath id="ic0_0"><rect x="230.9" y="258.3" width="59.6" height="59.4"/></clipPath>
<g clip-path="url(#ic0_0)"><g transform="translate(230.9 258.3) scale(2.1832 2.3113) translate(-23.4 -305.5)"><use href="#tbase"/><use href="#dotsD"/></g></g>
<rect x="230.9" y="258.3" width="59.6" height="59.4" fill="none" stroke="#9a3a43" stroke-width="1.0" stroke-dasharray="6.6 6.6"/>
<clipPath id="ic1_0"><rect x="230.9" y="320.0" width="59.6" height="59.4"/></clipPath>
<g clip-path="url(#ic1_0)"><g transform="translate(230.9 320.0) scale(2.2748 2.2672) translate(-40.1 -385.0)"><use href="#tbase"/><use href="#dotsD"/></g></g>
<rect x="230.9" y="320.0" width="59.6" height="59.4" fill="none" stroke="#4b5d8a" stroke-width="1.0" stroke-dasharray="6.6 6.6"/>
<clipPath id="ic2_0"><rect x="230.9" y="381.6" width="59.6" height="59.6"/></clipPath>
<g clip-path="url(#ic2_0)"><g transform="translate(230.9 381.6) scale(2.2662 2.3012) translate(-184.4 -287.5)"><use href="#tbase"/><use href="#dotsD"/></g></g>
<rect x="230.9" y="381.6" width="59.6" height="59.6" fill="none" stroke="#3d8a5f" stroke-width="1.0" stroke-dasharray="6.6 6.6"/>
<path d="M235 262.7H249.5M235 376.3H249.5M271.5 385.8H286" stroke="#6a2aa0" stroke-width="1.2"/>
<circle cx="280.2" cy="309.7" r="5.9" fill="#ffe800"/>
<text x="280.2" y="312.7" font-size="9.8" font-weight="bold" text-anchor="middle" fill="#111" font-family="Liberation Sans, sans-serif">1</text>
<circle cx="280.2" cy="328.0" r="5.9" fill="#ffe800"/>
<text x="280.2" y="331.0" font-size="9.8" font-weight="bold" text-anchor="middle" fill="#111" font-family="Liberation Sans, sans-serif">2</text>
<circle cx="239.6" cy="432.3" r="5.9" fill="#ffe800"/>
<text x="239.6" y="435.3" font-size="9.8" font-weight="bold" text-anchor="middle" fill="#111" font-family="Liberation Sans, sans-serif">3</text>
</g>
<g transform="translate(0 220.0)">
<g clip-path="url(#imgclip)"><use href="#tbase"/><use href="#dotsF"/></g>
<rect x="23.4" y="305.5" width="27.3" height="25.7" fill="rgba(150,70,70,0.2)" stroke="#8e3b3f" stroke-width="1.1" stroke-dasharray="3.5 3.2"/>
<rect x="40.1" y="385.0" width="26.2" height="26.2" fill="rgba(60,70,120,0.22)" stroke="#33436b" stroke-width="1.1" stroke-dasharray="3.5 3.2"/>
<rect x="184.4" y="287.5" width="26.3" height="25.9" fill="rgba(60,130,90,0.25)" stroke="#2c6a45" stroke-width="1.1" stroke-dasharray="3.5 3.2"/>
<circle cx="60.8" cy="333.0" r="6.0" fill="#ffe800"/>
<text x="60.8" y="336.0" font-size="9.8" font-weight="bold" text-anchor="middle" fill="#111" font-family="Liberation Sans, sans-serif">1</text>
<circle cx="78.8" cy="389.6" r="6.0" fill="#ffe800"/>
<text x="78.8" y="392.6" font-size="9.8" font-weight="bold" text-anchor="middle" fill="#111" font-family="Liberation Sans, sans-serif">2</text>
<circle cx="174.2" cy="309.0" r="6.0" fill="#ffe800"/>
<text x="174.2" y="312.0" font-size="9.8" font-weight="bold" text-anchor="middle" fill="#111" font-family="Liberation Sans, sans-serif">3</text>
<text x="23.8" y="433.8" font-size="9.6" font-weight="bold" fill="#111" font-family="Liberation Sans, sans-serif">PCW17</text>
<clipPath id="ic0_220"><rect x="230.9" y="258.3" width="59.6" height="59.4"/></clipPath>
<g clip-path="url(#ic0_220)"><g transform="translate(230.9 258.3) scale(2.1832 2.3113) translate(-23.4 -305.5)"><use href="#tbase"/><use href="#dotsF"/></g></g>
<rect x="230.9" y="258.3" width="59.6" height="59.4" fill="none" stroke="#9a3a43" stroke-width="1.0" stroke-dasharray="6.6 6.6"/>
<clipPath id="ic1_220"><rect x="230.9" y="320.0" width="59.6" height="59.4"/></clipPath>
<g clip-path="url(#ic1_220)"><g transform="translate(230.9 320.0) scale(2.2748 2.2672) translate(-40.1 -385.0)"><use href="#tbase"/><use href="#dotsF"/></g></g>
<rect x="230.9" y="320.0" width="59.6" height="59.4" fill="none" stroke="#4b5d8a" stroke-width="1.0" stroke-dasharray="6.6 6.6"/>
<clipPath id="ic2_220"><rect x="230.9" y="381.6" width="59.6" height="59.6"/></clipPath>
<g clip-path="url(#ic2_220)"><g transform="translate(230.9 381.6) scale(2.2662 2.3012) translate(-184.4 -287.5)"><use href="#tbase"/><use href="#dotsF"/></g></g>
<rect x="230.9" y="381.6" width="59.6" height="59.6" fill="none" stroke="#3d8a5f" stroke-width="1.0" stroke-dasharray="6.6 6.6"/>
<path d="M235 262.7H249.5M235 376.3H249.5M271.5 385.8H286" stroke="#6a2aa0" stroke-width="1.2"/>
<circle cx="280.2" cy="309.7" r="5.9" fill="#ffe800"/>
<text x="280.2" y="312.7" font-size="9.8" font-weight="bold" text-anchor="middle" fill="#111" font-family="Liberation Sans, sans-serif">1</text>
<circle cx="280.2" cy="328.0" r="5.9" fill="#ffe800"/>
<text x="280.2" y="331.0" font-size="9.8" font-weight="bold" text-anchor="middle" fill="#111" font-family="Liberation Sans, sans-serif">2</text>
<circle cx="239.6" cy="432.3" r="5.9" fill="#ffe800"/>
<text x="239.6" y="435.3" font-size="9.8" font-weight="bold" text-anchor="middle" fill="#111" font-family="Liberation Sans, sans-serif">3</text>
</g>
<text x="297.3" y="297.0" font-size="9.6" fill="#1f1a1c" font-family="Liberation Sans, sans-serif">Domain</text>
<circle cx="304.2" cy="309.2" r="2.4" fill="#a51d2d"/>
<text x="315.0" y="312.6" font-size="9.5" fill="#1f1a1c" font-family="Liberation Sans, sans-serif">D1</text>
<circle cx="304.2" cy="322.6" r="2.4" fill="#d9515d"/>
<text x="315.0" y="326.0" font-size="9.5" fill="#1f1a1c" font-family="Liberation Sans, sans-serif">D2</text>
<circle cx="304.2" cy="336.0" r="2.4" fill="#f2a6ad"/>
<text x="315.0" y="339.4" font-size="9.5" fill="#1f1a1c" font-family="Liberation Sans, sans-serif">D3</text>
<circle cx="304.2" cy="349.4" r="2.4" fill="#d9c5e2"/>
<text x="315.0" y="352.8" font-size="9.5" fill="#1f1a1c" font-family="Liberation Sans, sans-serif">D4</text>
<circle cx="304.2" cy="362.8" r="2.4" fill="#8a5f9b"/>
<text x="315.0" y="366.2" font-size="9.5" fill="#1f1a1c" font-family="Liberation Sans, sans-serif">D5</text>
<circle cx="304.2" cy="376.2" r="2.4" fill="#5eaad2"/>
<text x="315.0" y="379.6" font-size="9.5" fill="#1f1a1c" font-family="Liberation Sans, sans-serif">D6</text>
<circle cx="304.2" cy="389.6" r="2.4" fill="#6383b0"/>
<text x="315.0" y="393.0" font-size="9.5" fill="#1f1a1c" font-family="Liberation Sans, sans-serif">D7</text>
<circle cx="304.2" cy="403.0" r="2.4" fill="#5757a5"/>
<text x="315.0" y="406.4" font-size="9.5" fill="#1f1a1c" font-family="Liberation Sans, sans-serif">D8</text>
<text x="297.3" y="544.0" font-size="9.6" fill="#1f1a1c" font-family="Liberation Sans, sans-serif">Module</text>
<circle cx="304.2" cy="555.9" r="2.4" fill="#3a9f80"/>
<text x="315.0" y="559.3" font-size="9.5" fill="#1f1a1c" font-family="Liberation Sans, sans-serif">M1</text>
<circle cx="304.2" cy="569.3" r="2.4" fill="#c75a1f"/>
<text x="315.0" y="572.7" font-size="9.5" fill="#1f1a1c" font-family="Liberation Sans, sans-serif">M2</text>
<circle cx="304.2" cy="582.7" r="2.4" fill="#9d98cb"/>
<text x="315.0" y="586.1" font-size="9.5" fill="#1f1a1c" font-family="Liberation Sans, sans-serif">M3</text>
<circle cx="304.2" cy="596.1" r="2.4" fill="#e2a420"/>
<text x="315.0" y="599.5" font-size="9.5" fill="#1f1a1c" font-family="Liberation Sans, sans-serif">M4</text>
<text x="2.60" y="9.60" font-size="12.5" fill="#1a1415" stroke="#1a1415" stroke-width="0.15" font-weight="bold" >a</text>
<text x="197.80" y="9.60" font-size="12.5" fill="#1a1415" stroke="#1a1415" stroke-width="0.15" font-weight="bold" >b</text>
<text x="502.80" y="8.80" font-size="12.5" fill="#1a1415" stroke="#1a1415" stroke-width="0.15" font-weight="bold" >c</text>
<text x="2.60" y="249.50" font-size="12.5" fill="#1a1415" stroke="#1a1415" stroke-width="0.15" font-weight="bold" >d</text>
<text x="351.80" y="249.50" font-size="12.5" fill="#1a1415" stroke="#1a1415" stroke-width="0.15" font-weight="bold" >e</text>
<text x="4.60" y="468.60" font-size="12.5" fill="#1a1415" stroke="#1a1415" stroke-width="0.15" font-weight="bold" >f</text>
<g>
<circle cx="90.2" cy="92.2" r="1.4" fill="#d9c5e2"/>
<circle cx="105.8" cy="102.8" r="1.4" fill="#d9c5e2"/>
<circle cx="74.3" cy="88.9" r="1.4" fill="#d9c5e2"/>
<circle cx="74.4" cy="96.0" r="1.4" fill="#d9c5e2"/>
<circle cx="107.3" cy="103.3" r="1.4" fill="#d9c5e2"/>
<circle cx="130.3" cy="97.8" r="1.4" fill="#d9c5e2"/>
<circle cx="77.4" cy="88.9" r="1.4" fill="#d9c5e2"/>
<circle cx="114.3" cy="99.6" r="1.4" fill="#d9c5e2"/>
<circle cx="105.6" cy="87.9" r="1.4" fill="#d9c5e2"/>
<circle cx="69.9" cy="95.8" r="1.4" fill="#d9c5e2"/>
<circle cx="116.5" cy="103.4" r="1.4" fill="#d9c5e2"/>
<circle cx="100.2" cy="100.6" r="1.4" fill="#d9c5e2"/>
<circle cx="120.0" cy="98.6" r="1.4" fill="#d9c5e2"/>
<circle cx="124.2" cy="110.4" r="1.4" fill="#d9c5e2"/>
<circle cx="129.1" cy="102.4" r="1.4" fill="#d9c5e2"/>
<circle cx="120.3" cy="108.4" r="1.4" fill="#d9c5e2"/>
<circle cx="108.9" cy="105.7" r="1.4" fill="#d9c5e2"/>
<circle cx="128.1" cy="98.8" r="1.4" fill="#d9c5e2"/>
<circle cx="78.1" cy="89.5" r="1.4" fill="#d9c5e2"/>
<circle cx="75.7" cy="97.7" r="1.4" fill="#d9c5e2"/>
<circle cx="77.6" cy="94.4" r="1.4" fill="#d9c5e2"/>
<circle cx="109.6" cy="94.5" r="1.4" fill="#d9c5e2"/>
<circle cx="136.2" cy="114.4" r="1.4" fill="#d9c5e2"/>
<circle cx="133.2" cy="117.8" r="1.4" fill="#d9c5e2"/>
<circle cx="129.6" cy="119.0" r="1.4" fill="#d9c5e2"/>
<circle cx="95.0" cy="101.9" r="1.4" fill="#d9c5e2"/>
<circle cx="70.6" cy="89.8" r="1.4" fill="#d9c5e2"/>
<circle cx="83.0" cy="95.0" r="1.4" fill="#d9c5e2"/>
<circle cx="110.4" cy="91.7" r="1.4" fill="#d9c5e2"/>
<circle cx="81.4" cy="103.1" r="1.4" fill="#d9c5e2"/>
<circle cx="92.0" cy="91.1" r="1.4" fill="#d9c5e2"/>
<circle cx="101.2" cy="104.6" r="1.4" fill="#d9c5e2"/>
<circle cx="73.0" cy="90.3" r="1.4" fill="#d9c5e2"/>
<circle cx="89.0" cy="97.5" r="1.4" fill="#d9c5e2"/>
<circle cx="128.9" cy="90.4" r="1.4" fill="#d9c5e2"/>
<circle cx="106.1" cy="92.4" r="1.4" fill="#d9c5e2"/>
<circle cx="130.5" cy="115.8" r="1.4" fill="#d9c5e2"/>
<circle cx="87.0" cy="101.1" r="1.4" fill="#d9c5e2"/>
<circle cx="91.5" cy="94.8" r="1.4" fill="#d9c5e2"/>
<circle cx="137.7" cy="103.7" r="1.4" fill="#d9c5e2"/>
<circle cx="136.5" cy="103.6" r="1.4" fill="#d9c5e2"/>
<circle cx="82.9" cy="95.3" r="1.4" fill="#d9c5e2"/>
<circle cx="79.1" cy="93.6" r="1.4" fill="#d9c5e2"/>
<circle cx="128.4" cy="107.4" r="1.4" fill="#d9c5e2"/>
<circle cx="133.9" cy="119.5" r="1.4" fill="#d9c5e2"/>
<circle cx="121.5" cy="107.8" r="1.4" fill="#d9c5e2"/>
<circle cx="137.4" cy="101.9" r="1.4" fill="#d9c5e2"/>
<circle cx="120.8" cy="93.2" r="1.4" fill="#d9c5e2"/>
<circle cx="75.0" cy="91.6" r="1.4" fill="#d9c5e2"/>
<circle cx="132.6" cy="120.7" r="1.4" fill="#d9c5e2"/>
<circle cx="139.0" cy="112.0" r="1.4" fill="#d9c5e2"/>
<circle cx="138.4" cy="113.5" r="1.4" fill="#d9c5e2"/>
<circle cx="125.8" cy="95.9" r="1.4" fill="#d9c5e2"/>
<circle cx="84.3" cy="97.9" r="1.4" fill="#d9c5e2"/>
<circle cx="99.6" cy="95.4" r="1.4" fill="#d9c5e2"/>
<circle cx="118.8" cy="109.9" r="1.4" fill="#d9c5e2"/>
<circle cx="83.2" cy="100.6" r="1.4" fill="#d9c5e2"/>
<circle cx="122.5" cy="108.9" r="1.4" fill="#d9c5e2"/>
<circle cx="132.7" cy="105.7" r="1.4" fill="#d9c5e2"/>
<circle cx="114.2" cy="103.9" r="1.4" fill="#d9c5e2"/>
<circle cx="135.2" cy="97.6" r="1.4" fill="#d9c5e2"/>
<circle cx="128.0" cy="90.9" r="1.4" fill="#d9c5e2"/>
<circle cx="74.2" cy="96.2" r="1.4" fill="#d9c5e2"/>
<circle cx="112.7" cy="93.1" r="1.4" fill="#d9c5e2"/>
<circle cx="101.9" cy="101.7" r="1.4" fill="#d9c5e2"/>
<circle cx="79.7" cy="99.6" r="1.4" fill="#d9c5e2"/>
<circle cx="108.6" cy="104.7" r="1.4" fill="#d9c5e2"/>
<circle cx="110.4" cy="105.3" r="1.4" fill="#d9c5e2"/>
<circle cx="75.3" cy="98.1" r="1.4" fill="#d9c5e2"/>
<circle cx="85.0" cy="92.6" r="1.4" fill="#d9c5e2"/>
<circle cx="127.3" cy="97.7" r="1.4" fill="#d9c5e2"/>
<circle cx="69.7" cy="88.0" r="1.4" fill="#d9c5e2"/>
<circle cx="118.1" cy="104.8" r="1.4" fill="#d9c5e2"/>
<circle cx="100.7" cy="97.0" r="1.4" fill="#d9c5e2"/>
<circle cx="86.0" cy="92.1" r="1.4" fill="#d9c5e2"/>
<circle cx="108.3" cy="94.8" r="1.4" fill="#d9c5e2"/>
<circle cx="73.7" cy="92.8" r="1.4" fill="#d9c5e2"/>
<circle cx="70.9" cy="93.9" r="1.4" fill="#d9c5e2"/>
<circle cx="90.6" cy="97.8" r="1.4" fill="#d9c5e2"/>
<circle cx="122.5" cy="97.5" r="1.4" fill="#d9c5e2"/>
<circle cx="103.2" cy="92.6" r="1.4" fill="#d9c5e2"/>
<circle cx="118.2" cy="110.6" r="1.4" fill="#d9c5e2"/>
<circle cx="127.0" cy="103.4" r="1.4" fill="#d9c5e2"/>
<circle cx="96.2" cy="101.9" r="1.4" fill="#d9c5e2"/>
<circle cx="68.8" cy="91.3" r="1.4" fill="#d9c5e2"/>
<circle cx="85.6" cy="93.5" r="1.4" fill="#d9c5e2"/>
<circle cx="130.0" cy="111.4" r="1.4" fill="#d9c5e2"/>
<circle cx="88.5" cy="96.6" r="1.4" fill="#d9c5e2"/>
<circle cx="138.0" cy="108.6" r="1.4" fill="#d9c5e2"/>
<circle cx="89.2" cy="100.4" r="1.4" fill="#d9c5e2"/>
<circle cx="67.8" cy="86.0" r="1.4" fill="#d9c5e2"/>
<circle cx="87.7" cy="95.0" r="1.4" fill="#d9c5e2"/>
<circle cx="107.8" cy="109.1" r="1.4" fill="#d9c5e2"/>
<circle cx="93.1" cy="100.6" r="1.4" fill="#d9c5e2"/>
<circle cx="130.7" cy="112.8" r="1.4" fill="#d9c5e2"/>
<circle cx="122.3" cy="96.9" r="1.4" fill="#d9c5e2"/>
<circle cx="119.0" cy="94.7" r="1.4" fill="#d9c5e2"/>
<circle cx="102.7" cy="99.8" r="1.4" fill="#d9c5e2"/>
<circle cx="122.0" cy="112.1" r="1.4" fill="#d9c5e2"/>
<circle cx="76.3" cy="96.8" r="1.4" fill="#d9c5e2"/>
<circle cx="122.0" cy="99.8" r="1.4" fill="#d9c5e2"/>
<circle cx="117.2" cy="99.0" r="1.4" fill="#d9c5e2"/>
<circle cx="103.8" cy="105.5" r="1.4" fill="#d9c5e2"/>
<circle cx="100.2" cy="90.6" r="1.4" fill="#d9c5e2"/>
<circle cx="131.9" cy="92.1" r="1.4" fill="#d9c5e2"/>
<circle cx="98.8" cy="97.3" r="1.4" fill="#d9c5e2"/>
<circle cx="125.4" cy="107.3" r="1.4" fill="#d9c5e2"/>
<circle cx="132.3" cy="115.3" r="1.4" fill="#d9c5e2"/>
<circle cx="102.1" cy="95.3" r="1.4" fill="#d9c5e2"/>
<circle cx="134.3" cy="113.6" r="1.4" fill="#d9c5e2"/>
<circle cx="134.0" cy="101.6" r="1.4" fill="#d9c5e2"/>
<circle cx="90.3" cy="102.7" r="1.4" fill="#d9c5e2"/>
<circle cx="93.4" cy="103.6" r="1.4" fill="#d9c5e2"/>
<circle cx="85.2" cy="94.2" r="1.4" fill="#d9c5e2"/>
<circle cx="104.9" cy="94.5" r="1.4" fill="#d9c5e2"/>
<circle cx="131.5" cy="119.3" r="1.4" fill="#d9c5e2"/>
<circle cx="136.4" cy="108.4" r="1.4" fill="#d9c5e2"/>
<circle cx="120.5" cy="104.3" r="1.4" fill="#d9c5e2"/>
<circle cx="118.8" cy="113.0" r="1.4" fill="#d9c5e2"/>
<circle cx="101.2" cy="101.4" r="1.4" fill="#d9c5e2"/>
<circle cx="113.4" cy="98.6" r="1.4" fill="#d9c5e2"/>
<circle cx="108.0" cy="102.8" r="1.4" fill="#d9c5e2"/>
<circle cx="80.0" cy="95.4" r="1.4" fill="#d9c5e2"/>
<circle cx="101.6" cy="92.7" r="1.4" fill="#d9c5e2"/>
<circle cx="100.4" cy="93.9" r="1.4" fill="#d9c5e2"/>
<circle cx="81.4" cy="90.9" r="1.4" fill="#d9c5e2"/>
<circle cx="82.9" cy="95.9" r="1.4" fill="#d9c5e2"/>
<circle cx="122.6" cy="102.2" r="1.4" fill="#d9c5e2"/>
<circle cx="91.5" cy="98.9" r="1.4" fill="#d9c5e2"/>
<circle cx="133.1" cy="97.6" r="1.4" fill="#d9c5e2"/>
<circle cx="85.2" cy="95.5" r="1.4" fill="#d9c5e2"/>
<circle cx="95.9" cy="103.8" r="1.4" fill="#d9c5e2"/>
<circle cx="138.3" cy="121.5" r="1.4" fill="#d9c5e2"/>
<circle cx="130.9" cy="107.6" r="1.4" fill="#d9c5e2"/>
<circle cx="137.2" cy="96.7" r="1.4" fill="#d9c5e2"/>
<circle cx="74.1" cy="92.1" r="1.4" fill="#d9c5e2"/>
<circle cx="136.1" cy="115.4" r="1.4" fill="#d9c5e2"/>
<circle cx="111.4" cy="95.9" r="1.4" fill="#d9c5e2"/>
<circle cx="73.8" cy="95.6" r="1.4" fill="#d9c5e2"/>
<circle cx="74.3" cy="89.0" r="1.4" fill="#d9c5e2"/>
<circle cx="95.4" cy="95.5" r="1.4" fill="#d9c5e2"/>
<circle cx="135.9" cy="112.2" r="1.4" fill="#d9c5e2"/>
<circle cx="128.6" cy="105.7" r="1.4" fill="#d9c5e2"/>
<circle cx="84.0" cy="97.1" r="1.4" fill="#d9c5e2"/>
<circle cx="136.9" cy="115.4" r="1.4" fill="#d9c5e2"/>
<circle cx="98.3" cy="96.8" r="1.4" fill="#d9c5e2"/>
<circle cx="92.0" cy="104.4" r="1.4" fill="#d9c5e2"/>
<circle cx="116.8" cy="96.0" r="1.4" fill="#d9c5e2"/>
<circle cx="102.6" cy="94.2" r="1.4" fill="#d9c5e2"/>
<circle cx="136.7" cy="98.1" r="1.4" fill="#d9c5e2"/>
<circle cx="128.7" cy="98.0" r="1.4" fill="#d9c5e2"/>
<circle cx="102.7" cy="94.6" r="1.4" fill="#d9c5e2"/>
<circle cx="78.0" cy="89.2" r="1.4" fill="#d9c5e2"/>
<circle cx="134.0" cy="121.5" r="1.4" fill="#d9c5e2"/>
<circle cx="134.1" cy="100.4" r="1.4" fill="#d9c5e2"/>
<circle cx="117.0" cy="102.0" r="1.4" fill="#d9c5e2"/>
<circle cx="92.6" cy="99.5" r="1.4" fill="#d9c5e2"/>
<circle cx="85.8" cy="99.6" r="1.4" fill="#d9c5e2"/>
<circle cx="128.8" cy="103.3" r="1.4" fill="#d9c5e2"/>
<circle cx="68.6" cy="91.4" r="1.4" fill="#d9c5e2"/>
<circle cx="135.6" cy="97.2" r="1.4" fill="#d9c5e2"/>
<circle cx="90.3" cy="98.0" r="1.4" fill="#d9c5e2"/>
<circle cx="139.0" cy="112.7" r="1.4" fill="#d9c5e2"/>
<circle cx="91.1" cy="97.7" r="1.4" fill="#d9c5e2"/>
<circle cx="134.5" cy="112.4" r="1.4" fill="#d9c5e2"/>
<circle cx="140.5" cy="63.4" r="1.4" fill="#f2a6ad"/>
<circle cx="114.6" cy="74.6" r="1.4" fill="#f2a6ad"/>
<circle cx="138.8" cy="103.7" r="1.4" fill="#f2a6ad"/>
<circle cx="136.5" cy="85.8" r="1.4" fill="#f2a6ad"/>
<circle cx="136.6" cy="87.8" r="1.4" fill="#f2a6ad"/>
<circle cx="132.8" cy="114.4" r="1.4" fill="#f2a6ad"/>
<circle cx="133.0" cy="73.4" r="1.4" fill="#f2a6ad"/>
<circle cx="128.2" cy="84.4" r="1.4" fill="#f2a6ad"/>
<circle cx="136.4" cy="91.2" r="1.4" fill="#f2a6ad"/>
<circle cx="143.7" cy="55.5" r="1.4" fill="#f2a6ad"/>
<circle cx="113.6" cy="67.6" r="1.4" fill="#f2a6ad"/>
<circle cx="134.9" cy="78.4" r="1.4" fill="#f2a6ad"/>
<circle cx="125.8" cy="76.6" r="1.4" fill="#f2a6ad"/>
<circle cx="135.7" cy="99.6" r="1.4" fill="#f2a6ad"/>
<circle cx="134.9" cy="105.6" r="1.4" fill="#f2a6ad"/>
<circle cx="137.7" cy="117.0" r="1.4" fill="#f2a6ad"/>
<circle cx="104.9" cy="67.8" r="1.4" fill="#f2a6ad"/>
<circle cx="131.2" cy="73.5" r="1.4" fill="#f2a6ad"/>
<circle cx="136.6" cy="68.3" r="1.4" fill="#f2a6ad"/>
<circle cx="115.3" cy="85.9" r="1.4" fill="#f2a6ad"/>
<circle cx="101.6" cy="71.6" r="1.4" fill="#f2a6ad"/>
<circle cx="117.4" cy="75.3" r="1.4" fill="#f2a6ad"/>
<circle cx="127.6" cy="68.8" r="1.4" fill="#f2a6ad"/>
<circle cx="140.0" cy="58.8" r="1.4" fill="#f2a6ad"/>
<circle cx="139.2" cy="64.7" r="1.4" fill="#f2a6ad"/>
<circle cx="115.0" cy="66.9" r="1.4" fill="#f2a6ad"/>
<circle cx="134.2" cy="89.1" r="1.4" fill="#f2a6ad"/>
<circle cx="131.9" cy="109.7" r="1.4" fill="#f2a6ad"/>
<circle cx="130.0" cy="79.3" r="1.4" fill="#f2a6ad"/>
<circle cx="118.7" cy="81.8" r="1.4" fill="#f2a6ad"/>
<circle cx="140.6" cy="57.8" r="1.4" fill="#f2a6ad"/>
<circle cx="143.7" cy="56.2" r="1.4" fill="#f2a6ad"/>
<circle cx="109.9" cy="71.2" r="1.4" fill="#f2a6ad"/>
<circle cx="112.6" cy="83.5" r="1.4" fill="#f2a6ad"/>
<circle cx="135.1" cy="100.4" r="1.4" fill="#f2a6ad"/>
<circle cx="117.6" cy="75.2" r="1.4" fill="#f2a6ad"/>
<circle cx="105.7" cy="86.5" r="1.4" fill="#f2a6ad"/>
<circle cx="137.3" cy="93.5" r="1.4" fill="#f2a6ad"/>
<circle cx="142.6" cy="71.3" r="1.4" fill="#f2a6ad"/>
<circle cx="105.8" cy="76.2" r="1.4" fill="#f2a6ad"/>
<circle cx="134.7" cy="111.0" r="1.4" fill="#f2a6ad"/>
<circle cx="112.9" cy="74.2" r="1.4" fill="#f2a6ad"/>
<circle cx="117.2" cy="67.1" r="1.4" fill="#f2a6ad"/>
<circle cx="107.8" cy="79.9" r="1.4" fill="#f2a6ad"/>
<circle cx="135.2" cy="85.7" r="1.4" fill="#f2a6ad"/>
<circle cx="104.3" cy="66.9" r="1.4" fill="#f2a6ad"/>
<circle cx="132.8" cy="88.9" r="1.4" fill="#f2a6ad"/>
<circle cx="128.9" cy="87.0" r="1.4" fill="#f2a6ad"/>
<circle cx="120.9" cy="69.5" r="1.4" fill="#f2a6ad"/>
<circle cx="136.9" cy="115.9" r="1.4" fill="#f2a6ad"/>
<circle cx="138.9" cy="102.7" r="1.4" fill="#f2a6ad"/>
<circle cx="131.8" cy="83.2" r="1.4" fill="#f2a6ad"/>
<circle cx="105.0" cy="83.0" r="1.4" fill="#f2a6ad"/>
<circle cx="136.9" cy="103.6" r="1.4" fill="#f2a6ad"/>
<circle cx="129.8" cy="70.1" r="1.4" fill="#f2a6ad"/>
<circle cx="117.5" cy="85.0" r="1.4" fill="#f2a6ad"/>
<circle cx="129.1" cy="81.8" r="1.4" fill="#f2a6ad"/>
<circle cx="136.0" cy="80.8" r="1.4" fill="#f2a6ad"/>
<circle cx="140.8" cy="90.2" r="1.4" fill="#f2a6ad"/>
<circle cx="112.5" cy="83.5" r="1.4" fill="#f2a6ad"/>
<circle cx="118.2" cy="73.3" r="1.4" fill="#f2a6ad"/>
<circle cx="120.3" cy="67.8" r="1.4" fill="#f2a6ad"/>
<circle cx="138.7" cy="100.1" r="1.4" fill="#f2a6ad"/>
<circle cx="138.6" cy="111.6" r="1.4" fill="#f2a6ad"/>
<circle cx="123.0" cy="74.7" r="1.4" fill="#f2a6ad"/>
<circle cx="140.5" cy="73.5" r="1.4" fill="#f2a6ad"/>
<circle cx="117.8" cy="72.2" r="1.4" fill="#f2a6ad"/>
<circle cx="121.8" cy="67.2" r="1.4" fill="#f2a6ad"/>
<circle cx="114.5" cy="69.1" r="1.4" fill="#f2a6ad"/>
<circle cx="129.9" cy="78.3" r="1.4" fill="#f2a6ad"/>
<circle cx="132.1" cy="73.0" r="1.4" fill="#f2a6ad"/>
<circle cx="136.2" cy="113.8" r="1.4" fill="#f2a6ad"/>
<circle cx="125.5" cy="71.1" r="1.4" fill="#f2a6ad"/>
<circle cx="117.6" cy="84.1" r="1.4" fill="#f2a6ad"/>
<circle cx="146.4" cy="60.0" r="1.4" fill="#f2a6ad"/>
<circle cx="123.2" cy="89.1" r="1.4" fill="#f2a6ad"/>
<circle cx="144.3" cy="55.5" r="1.4" fill="#f2a6ad"/>
<circle cx="135.1" cy="97.3" r="1.4" fill="#f2a6ad"/>
<circle cx="116.2" cy="86.6" r="1.4" fill="#f2a6ad"/>
<circle cx="109.3" cy="88.1" r="1.4" fill="#f2a6ad"/>
<circle cx="139.1" cy="76.2" r="1.4" fill="#f2a6ad"/>
<circle cx="140.0" cy="82.5" r="1.4" fill="#f2a6ad"/>
<circle cx="125.1" cy="71.5" r="1.4" fill="#f2a6ad"/>
<circle cx="117.1" cy="76.3" r="1.4" fill="#f2a6ad"/>
<circle cx="100.4" cy="75.4" r="1.4" fill="#f2a6ad"/>
<circle cx="134.1" cy="96.5" r="1.4" fill="#f2a6ad"/>
<circle cx="134.7" cy="67.8" r="1.4" fill="#f2a6ad"/>
<circle cx="132.7" cy="86.9" r="1.4" fill="#f2a6ad"/>
<circle cx="136.0" cy="120.4" r="1.4" fill="#f2a6ad"/>
<circle cx="129.6" cy="77.9" r="1.4" fill="#f2a6ad"/>
<circle cx="140.2" cy="108.2" r="1.4" fill="#f2a6ad"/>
<circle cx="126.8" cy="69.4" r="1.4" fill="#f2a6ad"/>
<circle cx="114.6" cy="81.9" r="1.4" fill="#f2a6ad"/>
<circle cx="115.7" cy="82.0" r="1.4" fill="#f2a6ad"/>
<circle cx="139.5" cy="94.1" r="1.4" fill="#f2a6ad"/>
<circle cx="131.0" cy="68.2" r="1.4" fill="#f2a6ad"/>
<circle cx="134.7" cy="68.7" r="1.4" fill="#f2a6ad"/>
<circle cx="130.9" cy="114.6" r="1.4" fill="#f2a6ad"/>
<circle cx="129.0" cy="82.5" r="1.4" fill="#f2a6ad"/>
<circle cx="127.8" cy="71.5" r="1.4" fill="#f2a6ad"/>
<circle cx="132.8" cy="111.8" r="1.4" fill="#f2a6ad"/>
<circle cx="127.5" cy="75.6" r="1.4" fill="#f2a6ad"/>
<circle cx="138.6" cy="72.3" r="1.4" fill="#f2a6ad"/>
<circle cx="137.9" cy="117.9" r="1.4" fill="#f2a6ad"/>
<circle cx="138.1" cy="116.2" r="1.4" fill="#f2a6ad"/>
<circle cx="128.0" cy="70.3" r="1.4" fill="#f2a6ad"/>
<circle cx="120.9" cy="67.9" r="1.4" fill="#f2a6ad"/>
<circle cx="138.4" cy="87.1" r="1.4" fill="#f2a6ad"/>
<circle cx="138.1" cy="71.1" r="1.4" fill="#f2a6ad"/>
<circle cx="108.6" cy="66.6" r="1.4" fill="#f2a6ad"/>
<circle cx="138.8" cy="63.7" r="1.4" fill="#f2a6ad"/>
<circle cx="130.0" cy="75.8" r="1.4" fill="#f2a6ad"/>
<circle cx="128.1" cy="71.6" r="1.4" fill="#f2a6ad"/>
<circle cx="134.8" cy="84.9" r="1.4" fill="#f2a6ad"/>
<circle cx="139.7" cy="122.4" r="1.4" fill="#f2a6ad"/>
<circle cx="108.2" cy="65.4" r="1.4" fill="#f2a6ad"/>
<circle cx="145.6" cy="56.5" r="1.4" fill="#f2a6ad"/>
<circle cx="124.2" cy="80.5" r="1.4" fill="#f2a6ad"/>
<circle cx="130.6" cy="81.1" r="1.4" fill="#f2a6ad"/>
<circle cx="111.8" cy="77.2" r="1.4" fill="#f2a6ad"/>
<circle cx="139.1" cy="57.7" r="1.4" fill="#f2a6ad"/>
<circle cx="135.9" cy="106.6" r="1.4" fill="#f2a6ad"/>
<circle cx="131.8" cy="73.1" r="1.4" fill="#f2a6ad"/>
<circle cx="106.1" cy="77.1" r="1.4" fill="#f2a6ad"/>
<circle cx="120.4" cy="78.4" r="1.4" fill="#f2a6ad"/>
<circle cx="137.1" cy="86.2" r="1.4" fill="#f2a6ad"/>
<circle cx="135.7" cy="92.5" r="1.4" fill="#f2a6ad"/>
<circle cx="111.1" cy="83.3" r="1.4" fill="#f2a6ad"/>
<circle cx="108.7" cy="72.5" r="1.4" fill="#f2a6ad"/>
<circle cx="129.7" cy="67.8" r="1.4" fill="#f2a6ad"/>
<circle cx="123.5" cy="74.6" r="1.4" fill="#f2a6ad"/>
<circle cx="114.8" cy="67.2" r="1.4" fill="#f2a6ad"/>
<circle cx="104.1" cy="73.8" r="1.4" fill="#f2a6ad"/>
<circle cx="144.6" cy="55.9" r="1.4" fill="#f2a6ad"/>
<circle cx="136.6" cy="70.6" r="1.4" fill="#f2a6ad"/>
<circle cx="148.0" cy="53.3" r="1.4" fill="#f2a6ad"/>
<circle cx="139.3" cy="78.4" r="1.4" fill="#f2a6ad"/>
<circle cx="138.4" cy="90.8" r="1.4" fill="#f2a6ad"/>
<circle cx="109.2" cy="85.1" r="1.4" fill="#f2a6ad"/>
<circle cx="128.0" cy="87.4" r="1.4" fill="#f2a6ad"/>
<circle cx="110.6" cy="71.1" r="1.4" fill="#f2a6ad"/>
<circle cx="138.7" cy="94.7" r="1.4" fill="#f2a6ad"/>
<circle cx="133.2" cy="83.6" r="1.4" fill="#f2a6ad"/>
<circle cx="138.2" cy="79.0" r="1.4" fill="#f2a6ad"/>
<circle cx="92.6" cy="74.9" r="1.4" fill="#8a5f9b"/>
<circle cx="73.4" cy="71.0" r="1.4" fill="#8a5f9b"/>
<circle cx="57.5" cy="79.1" r="1.4" fill="#8a5f9b"/>
<circle cx="78.1" cy="63.8" r="1.4" fill="#8a5f9b"/>
<circle cx="53.3" cy="52.8" r="1.4" fill="#8a5f9b"/>
<circle cx="47.4" cy="53.8" r="1.4" fill="#8a5f9b"/>
<circle cx="72.5" cy="87.4" r="1.4" fill="#8a5f9b"/>
<circle cx="77.9" cy="84.2" r="1.4" fill="#8a5f9b"/>
<circle cx="46.5" cy="44.4" r="1.4" fill="#8a5f9b"/>
<circle cx="85.6" cy="61.2" r="1.4" fill="#8a5f9b"/>
<circle cx="52.0" cy="60.3" r="1.4" fill="#8a5f9b"/>
<circle cx="79.3" cy="62.7" r="1.4" fill="#8a5f9b"/>
<circle cx="69.1" cy="62.2" r="1.4" fill="#8a5f9b"/>
<circle cx="67.1" cy="76.3" r="1.4" fill="#8a5f9b"/>
<circle cx="97.8" cy="86.3" r="1.4" fill="#8a5f9b"/>
<circle cx="58.4" cy="63.5" r="1.4" fill="#8a5f9b"/>
<circle cx="71.3" cy="85.1" r="1.4" fill="#8a5f9b"/>
<circle cx="61.0" cy="52.0" r="1.4" fill="#8a5f9b"/>
<circle cx="65.8" cy="54.9" r="1.4" fill="#8a5f9b"/>
<circle cx="74.0" cy="63.5" r="1.4" fill="#8a5f9b"/>
<circle cx="62.6" cy="57.8" r="1.4" fill="#8a5f9b"/>
<circle cx="54.9" cy="57.6" r="1.4" fill="#8a5f9b"/>
<circle cx="81.6" cy="60.3" r="1.4" fill="#8a5f9b"/>
<circle cx="48.8" cy="57.4" r="1.4" fill="#8a5f9b"/>
<circle cx="71.2" cy="86.4" r="1.4" fill="#8a5f9b"/>
<circle cx="65.1" cy="79.0" r="1.4" fill="#8a5f9b"/>
<circle cx="70.3" cy="57.9" r="1.4" fill="#8a5f9b"/>
<circle cx="94.0" cy="72.0" r="1.4" fill="#8a5f9b"/>
<circle cx="65.1" cy="57.3" r="1.4" fill="#8a5f9b"/>
<circle cx="71.1" cy="70.6" r="1.4" fill="#8a5f9b"/>
<circle cx="66.5" cy="76.4" r="1.4" fill="#8a5f9b"/>
<circle cx="77.2" cy="61.1" r="1.4" fill="#8a5f9b"/>
<circle cx="63.2" cy="77.3" r="1.4" fill="#8a5f9b"/>
<circle cx="64.8" cy="68.7" r="1.4" fill="#8a5f9b"/>
<circle cx="62.0" cy="55.9" r="1.4" fill="#8a5f9b"/>
<circle cx="60.2" cy="65.8" r="1.4" fill="#8a5f9b"/>
<circle cx="98.2" cy="82.8" r="1.4" fill="#8a5f9b"/>
<circle cx="94.0" cy="89.0" r="1.4" fill="#8a5f9b"/>
<circle cx="53.1" cy="57.8" r="1.4" fill="#8a5f9b"/>
<circle cx="80.9" cy="63.2" r="1.4" fill="#8a5f9b"/>
<circle cx="68.5" cy="78.2" r="1.4" fill="#8a5f9b"/>
<circle cx="84.4" cy="81.1" r="1.4" fill="#8a5f9b"/>
<circle cx="48.2" cy="45.8" r="1.4" fill="#8a5f9b"/>
<circle cx="54.7" cy="56.8" r="1.4" fill="#8a5f9b"/>
<circle cx="59.3" cy="64.2" r="1.4" fill="#8a5f9b"/>
<circle cx="45.7" cy="58.1" r="1.4" fill="#8a5f9b"/>
<circle cx="90.9" cy="73.8" r="1.4" fill="#8a5f9b"/>
<circle cx="69.0" cy="77.4" r="1.4" fill="#8a5f9b"/>
<circle cx="89.1" cy="82.9" r="1.4" fill="#8a5f9b"/>
<circle cx="92.0" cy="73.9" r="1.4" fill="#8a5f9b"/>
<circle cx="45.7" cy="58.7" r="1.4" fill="#8a5f9b"/>
<circle cx="82.2" cy="63.9" r="1.4" fill="#8a5f9b"/>
<circle cx="85.4" cy="85.5" r="1.4" fill="#8a5f9b"/>
<circle cx="60.5" cy="48.2" r="1.4" fill="#8a5f9b"/>
<circle cx="96.9" cy="77.8" r="1.4" fill="#8a5f9b"/>
<circle cx="83.8" cy="88.8" r="1.4" fill="#8a5f9b"/>
<circle cx="79.5" cy="68.1" r="1.4" fill="#8a5f9b"/>
<circle cx="70.0" cy="70.8" r="1.4" fill="#8a5f9b"/>
<circle cx="83.7" cy="83.1" r="1.4" fill="#8a5f9b"/>
<circle cx="57.4" cy="73.1" r="1.4" fill="#8a5f9b"/>
<circle cx="99.2" cy="77.2" r="1.4" fill="#8a5f9b"/>
<circle cx="72.8" cy="54.1" r="1.4" fill="#8a5f9b"/>
<circle cx="46.9" cy="60.8" r="1.4" fill="#8a5f9b"/>
<circle cx="67.8" cy="53.0" r="1.4" fill="#8a5f9b"/>
<circle cx="64.1" cy="50.2" r="1.4" fill="#8a5f9b"/>
<circle cx="83.2" cy="79.3" r="1.4" fill="#8a5f9b"/>
<circle cx="58.5" cy="55.2" r="1.4" fill="#8a5f9b"/>
<circle cx="74.4" cy="69.1" r="1.4" fill="#8a5f9b"/>
<circle cx="51.3" cy="72.4" r="1.4" fill="#8a5f9b"/>
<circle cx="62.0" cy="83.1" r="1.4" fill="#8a5f9b"/>
<circle cx="75.9" cy="83.7" r="1.4" fill="#8a5f9b"/>
<circle cx="79.2" cy="68.1" r="1.4" fill="#8a5f9b"/>
<circle cx="84.6" cy="86.4" r="1.4" fill="#8a5f9b"/>
<circle cx="50.5" cy="57.3" r="1.4" fill="#8a5f9b"/>
<circle cx="63.4" cy="55.5" r="1.4" fill="#8a5f9b"/>
<circle cx="47.9" cy="60.8" r="1.4" fill="#8a5f9b"/>
<circle cx="63.4" cy="65.5" r="1.4" fill="#8a5f9b"/>
<circle cx="66.1" cy="54.2" r="1.4" fill="#8a5f9b"/>
<circle cx="99.6" cy="80.7" r="1.4" fill="#8a5f9b"/>
<circle cx="101.1" cy="71.1" r="1.4" fill="#8a5f9b"/>
<circle cx="50.9" cy="66.5" r="1.4" fill="#8a5f9b"/>
<circle cx="67.3" cy="51.5" r="1.4" fill="#8a5f9b"/>
<circle cx="97.0" cy="78.4" r="1.4" fill="#8a5f9b"/>
<circle cx="58.0" cy="49.4" r="1.4" fill="#8a5f9b"/>
<circle cx="90.6" cy="82.3" r="1.4" fill="#8a5f9b"/>
<circle cx="61.0" cy="51.9" r="1.4" fill="#8a5f9b"/>
<circle cx="65.1" cy="73.0" r="1.4" fill="#8a5f9b"/>
<circle cx="65.4" cy="87.0" r="1.4" fill="#8a5f9b"/>
<circle cx="74.6" cy="72.9" r="1.4" fill="#8a5f9b"/>
<circle cx="90.5" cy="78.8" r="1.4" fill="#8a5f9b"/>
<circle cx="72.0" cy="69.0" r="1.4" fill="#8a5f9b"/>
<circle cx="54.3" cy="58.3" r="1.4" fill="#8a5f9b"/>
<circle cx="71.2" cy="93.5" r="1.4" fill="#8a5f9b"/>
<circle cx="50.6" cy="46.8" r="1.4" fill="#8a5f9b"/>
<circle cx="70.5" cy="54.2" r="1.4" fill="#8a5f9b"/>
<circle cx="89.0" cy="86.8" r="1.4" fill="#8a5f9b"/>
<circle cx="90.6" cy="66.3" r="1.4" fill="#8a5f9b"/>
<circle cx="61.3" cy="78.3" r="1.4" fill="#8a5f9b"/>
<circle cx="72.5" cy="64.6" r="1.4" fill="#8a5f9b"/>
<circle cx="62.8" cy="67.8" r="1.4" fill="#8a5f9b"/>
<circle cx="82.1" cy="88.4" r="1.4" fill="#8a5f9b"/>
<circle cx="61.9" cy="69.0" r="1.4" fill="#8a5f9b"/>
<circle cx="76.6" cy="60.2" r="1.4" fill="#8a5f9b"/>
<circle cx="58.0" cy="48.8" r="1.4" fill="#8a5f9b"/>
<circle cx="64.3" cy="67.8" r="1.4" fill="#8a5f9b"/>
<circle cx="97.5" cy="75.8" r="1.4" fill="#8a5f9b"/>
<circle cx="80.8" cy="73.5" r="1.4" fill="#8a5f9b"/>
<circle cx="60.2" cy="72.5" r="1.4" fill="#8a5f9b"/>
<circle cx="78.9" cy="59.1" r="1.4" fill="#8a5f9b"/>
<circle cx="46.9" cy="56.2" r="1.4" fill="#8a5f9b"/>
<circle cx="84.7" cy="66.8" r="1.4" fill="#8a5f9b"/>
<circle cx="66.6" cy="73.3" r="1.4" fill="#8a5f9b"/>
<circle cx="68.4" cy="71.0" r="1.4" fill="#8a5f9b"/>
<circle cx="75.4" cy="64.3" r="1.4" fill="#8a5f9b"/>
<circle cx="49.4" cy="53.8" r="1.4" fill="#8a5f9b"/>
<circle cx="93.6" cy="70.6" r="1.4" fill="#8a5f9b"/>
<circle cx="58.5" cy="49.6" r="1.4" fill="#8a5f9b"/>
<circle cx="73.3" cy="57.4" r="1.4" fill="#8a5f9b"/>
<circle cx="72.6" cy="74.2" r="1.4" fill="#8a5f9b"/>
<circle cx="56.1" cy="73.1" r="1.4" fill="#8a5f9b"/>
<circle cx="51.9" cy="72.1" r="1.4" fill="#8a5f9b"/>
<circle cx="69.5" cy="89.0" r="1.4" fill="#8a5f9b"/>
<circle cx="73.4" cy="79.7" r="1.4" fill="#8a5f9b"/>
<circle cx="101.6" cy="80.4" r="1.4" fill="#8a5f9b"/>
<circle cx="69.3" cy="51.8" r="1.4" fill="#8a5f9b"/>
<circle cx="97.4" cy="70.7" r="1.4" fill="#8a5f9b"/>
<circle cx="58.8" cy="63.3" r="1.4" fill="#8a5f9b"/>
<circle cx="59.3" cy="59.5" r="1.4" fill="#8a5f9b"/>
<circle cx="83.6" cy="63.9" r="1.4" fill="#8a5f9b"/>
<circle cx="93.8" cy="76.9" r="1.4" fill="#8a5f9b"/>
<circle cx="93.9" cy="74.3" r="1.4" fill="#8a5f9b"/>
<circle cx="96.6" cy="88.3" r="1.4" fill="#8a5f9b"/>
<circle cx="64.6" cy="83.2" r="1.4" fill="#8a5f9b"/>
<circle cx="80.7" cy="88.3" r="1.4" fill="#8a5f9b"/>
<circle cx="52.2" cy="61.7" r="1.4" fill="#8a5f9b"/>
<circle cx="75.7" cy="85.3" r="1.4" fill="#8a5f9b"/>
<circle cx="56.9" cy="68.6" r="1.4" fill="#8a5f9b"/>
<circle cx="87.2" cy="74.4" r="1.4" fill="#8a5f9b"/>
<circle cx="57.2" cy="71.0" r="1.4" fill="#8a5f9b"/>
<circle cx="58.6" cy="79.4" r="1.4" fill="#8a5f9b"/>
<circle cx="66.4" cy="51.8" r="1.4" fill="#8a5f9b"/>
<circle cx="91.7" cy="70.9" r="1.4" fill="#8a5f9b"/>
<circle cx="83.2" cy="86.2" r="1.4" fill="#8a5f9b"/>
<circle cx="66.7" cy="52.1" r="1.4" fill="#8a5f9b"/>
<circle cx="71.8" cy="85.5" r="1.4" fill="#8a5f9b"/>
<circle cx="83.8" cy="63.9" r="1.4" fill="#8a5f9b"/>
<circle cx="71.0" cy="50.8" r="1.4" fill="#8a5f9b"/>
<circle cx="94.0" cy="72.8" r="1.4" fill="#8a5f9b"/>
<circle cx="49.3" cy="60.9" r="1.4" fill="#8a5f9b"/>
<circle cx="54.7" cy="64.1" r="1.4" fill="#8a5f9b"/>
<circle cx="70.6" cy="73.6" r="1.4" fill="#8a5f9b"/>
<circle cx="67.4" cy="60.0" r="1.4" fill="#8a5f9b"/>
<circle cx="69.9" cy="94.4" r="1.4" fill="#8a5f9b"/>
<circle cx="48.7" cy="50.4" r="1.4" fill="#8a5f9b"/>
<circle cx="61.1" cy="70.0" r="1.4" fill="#8a5f9b"/>
<circle cx="57.5" cy="71.1" r="1.4" fill="#8a5f9b"/>
<circle cx="74.0" cy="83.5" r="1.4" fill="#8a5f9b"/>
<circle cx="93.2" cy="84.4" r="1.4" fill="#8a5f9b"/>
<circle cx="80.9" cy="75.7" r="1.4" fill="#8a5f9b"/>
<circle cx="66.3" cy="59.4" r="1.4" fill="#8a5f9b"/>
<circle cx="89.4" cy="89.1" r="1.4" fill="#8a5f9b"/>
<circle cx="95.0" cy="79.2" r="1.4" fill="#8a5f9b"/>
<circle cx="60.4" cy="81.4" r="1.4" fill="#8a5f9b"/>
<circle cx="85.2" cy="70.1" r="1.4" fill="#8a5f9b"/>
<circle cx="79.9" cy="61.4" r="1.4" fill="#8a5f9b"/>
<circle cx="74.0" cy="64.9" r="1.4" fill="#8a5f9b"/>
<circle cx="47.4" cy="59.4" r="1.4" fill="#8a5f9b"/>
<circle cx="71.6" cy="64.6" r="1.4" fill="#8a5f9b"/>
<circle cx="57.9" cy="54.6" r="1.4" fill="#8a5f9b"/>
<circle cx="66.0" cy="53.1" r="1.4" fill="#8a5f9b"/>
<circle cx="69.5" cy="66.4" r="1.4" fill="#8a5f9b"/>
<circle cx="76.6" cy="63.2" r="1.4" fill="#8a5f9b"/>
<circle cx="54.5" cy="48.7" r="1.4" fill="#8a5f9b"/>
<circle cx="62.2" cy="57.4" r="1.4" fill="#8a5f9b"/>
<circle cx="83.5" cy="70.5" r="1.4" fill="#8a5f9b"/>
<circle cx="96.2" cy="73.9" r="1.4" fill="#8a5f9b"/>
<circle cx="51.7" cy="52.8" r="1.4" fill="#8a5f9b"/>
<circle cx="65.0" cy="83.6" r="1.4" fill="#8a5f9b"/>
<circle cx="68.7" cy="91.3" r="1.4" fill="#8a5f9b"/>
<circle cx="54.4" cy="59.6" r="1.4" fill="#8a5f9b"/>
<circle cx="68.7" cy="53.4" r="1.4" fill="#8a5f9b"/>
<circle cx="90.4" cy="88.2" r="1.4" fill="#8a5f9b"/>
<circle cx="63.9" cy="51.2" r="1.4" fill="#8a5f9b"/>
<circle cx="55.4" cy="70.8" r="1.4" fill="#8a5f9b"/>
<circle cx="95.2" cy="76.3" r="1.4" fill="#8a5f9b"/>
<circle cx="63.9" cy="84.4" r="1.4" fill="#8a5f9b"/>
<circle cx="81.5" cy="66.0" r="1.4" fill="#8a5f9b"/>
<circle cx="84.1" cy="62.6" r="1.4" fill="#8a5f9b"/>
<circle cx="65.6" cy="67.4" r="1.4" fill="#8a5f9b"/>
<circle cx="80.4" cy="57.1" r="1.4" fill="#8a5f9b"/>
<circle cx="93.6" cy="71.9" r="1.4" fill="#8a5f9b"/>
<circle cx="77.0" cy="80.9" r="1.4" fill="#8a5f9b"/>
<circle cx="61.2" cy="47.5" r="1.4" fill="#8a5f9b"/>
<circle cx="54.0" cy="51.5" r="1.4" fill="#8a5f9b"/>
<circle cx="88.7" cy="65.3" r="1.4" fill="#8a5f9b"/>
<circle cx="74.5" cy="74.1" r="1.4" fill="#8a5f9b"/>
<circle cx="75.5" cy="77.2" r="1.4" fill="#8a5f9b"/>
<circle cx="79.2" cy="58.8" r="1.4" fill="#8a5f9b"/>
<circle cx="83.5" cy="83.1" r="1.4" fill="#8a5f9b"/>
<circle cx="69.4" cy="57.5" r="1.4" fill="#8a5f9b"/>
<circle cx="70.6" cy="77.7" r="1.4" fill="#8a5f9b"/>
<circle cx="89.2" cy="62.2" r="1.4" fill="#8a5f9b"/>
<circle cx="46.2" cy="51.3" r="1.4" fill="#8a5f9b"/>
<circle cx="52.9" cy="50.5" r="1.4" fill="#8a5f9b"/>
<circle cx="80.3" cy="61.1" r="1.4" fill="#8a5f9b"/>
<circle cx="88.3" cy="68.3" r="1.4" fill="#8a5f9b"/>
<circle cx="67.2" cy="87.3" r="1.4" fill="#8a5f9b"/>
<circle cx="64.7" cy="88.6" r="1.4" fill="#8a5f9b"/>
<circle cx="97.0" cy="75.8" r="1.4" fill="#8a5f9b"/>
<circle cx="57.9" cy="57.1" r="1.4" fill="#8a5f9b"/>
<circle cx="58.8" cy="64.5" r="1.4" fill="#8a5f9b"/>
<circle cx="56.3" cy="54.2" r="1.4" fill="#8a5f9b"/>
<circle cx="85.3" cy="77.8" r="1.4" fill="#8a5f9b"/>
<circle cx="55.2" cy="70.7" r="1.4" fill="#8a5f9b"/>
<circle cx="86.1" cy="83.7" r="1.4" fill="#8a5f9b"/>
<circle cx="62.7" cy="59.6" r="1.4" fill="#8a5f9b"/>
<circle cx="71.6" cy="89.1" r="1.4" fill="#8a5f9b"/>
<circle cx="76.8" cy="64.8" r="1.4" fill="#8a5f9b"/>
<circle cx="62.4" cy="84.9" r="1.4" fill="#8a5f9b"/>
<circle cx="51.7" cy="55.4" r="1.4" fill="#8a5f9b"/>
<circle cx="70.9" cy="56.5" r="1.4" fill="#8a5f9b"/>
<circle cx="51.6" cy="70.0" r="1.4" fill="#8a5f9b"/>
<circle cx="51.8" cy="66.8" r="1.4" fill="#8a5f9b"/>
<circle cx="65.6" cy="70.1" r="1.4" fill="#8a5f9b"/>
<circle cx="95.5" cy="81.1" r="1.4" fill="#8a5f9b"/>
<circle cx="62.0" cy="52.1" r="1.4" fill="#8a5f9b"/>
<circle cx="61.7" cy="43.9" r="1.4" fill="#8a5f9b"/>
<circle cx="67.5" cy="71.3" r="1.4" fill="#8a5f9b"/>
<circle cx="82.9" cy="78.6" r="1.4" fill="#8a5f9b"/>
<circle cx="75.9" cy="72.1" r="1.4" fill="#8a5f9b"/>
<circle cx="95.3" cy="78.7" r="1.4" fill="#8a5f9b"/>
<circle cx="65.9" cy="62.2" r="1.4" fill="#8a5f9b"/>
<circle cx="66.7" cy="61.0" r="1.4" fill="#8a5f9b"/>
<circle cx="68.0" cy="49.8" r="1.4" fill="#8a5f9b"/>
<circle cx="60.9" cy="76.6" r="1.4" fill="#8a5f9b"/>
<circle cx="65.0" cy="58.0" r="1.4" fill="#8a5f9b"/>
<circle cx="54.8" cy="51.1" r="1.4" fill="#8a5f9b"/>
<circle cx="92.1" cy="83.8" r="1.4" fill="#8a5f9b"/>
<circle cx="81.3" cy="60.2" r="1.4" fill="#8a5f9b"/>
<circle cx="77.6" cy="71.3" r="1.4" fill="#8a5f9b"/>
<circle cx="89.5" cy="71.6" r="1.4" fill="#8a5f9b"/>
<circle cx="56.6" cy="72.9" r="1.4" fill="#8a5f9b"/>
<circle cx="86.6" cy="63.8" r="1.4" fill="#8a5f9b"/>
<circle cx="83.5" cy="66.8" r="1.4" fill="#8a5f9b"/>
<circle cx="74.9" cy="75.3" r="1.4" fill="#8a5f9b"/>
<circle cx="81.4" cy="56.6" r="1.4" fill="#8a5f9b"/>
<circle cx="80.2" cy="72.9" r="1.4" fill="#8a5f9b"/>
<circle cx="56.5" cy="73.4" r="1.4" fill="#8a5f9b"/>
<circle cx="71.0" cy="78.6" r="1.4" fill="#8a5f9b"/>
<circle cx="73.7" cy="69.3" r="1.4" fill="#8a5f9b"/>
<circle cx="59.1" cy="51.6" r="1.4" fill="#8a5f9b"/>
<circle cx="96.3" cy="71.9" r="1.4" fill="#8a5f9b"/>
<circle cx="75.6" cy="70.5" r="1.4" fill="#8a5f9b"/>
<circle cx="68.7" cy="75.6" r="1.4" fill="#8a5f9b"/>
<circle cx="88.9" cy="88.4" r="1.4" fill="#8a5f9b"/>
<circle cx="65.8" cy="86.9" r="1.4" fill="#8a5f9b"/>
<circle cx="53.7" cy="56.9" r="1.4" fill="#8a5f9b"/>
<circle cx="50.2" cy="62.7" r="1.4" fill="#8a5f9b"/>
<circle cx="90.3" cy="71.6" r="1.4" fill="#8a5f9b"/>
<circle cx="85.2" cy="66.5" r="1.4" fill="#8a5f9b"/>
<circle cx="71.0" cy="86.9" r="1.4" fill="#8a5f9b"/>
<circle cx="82.7" cy="63.2" r="1.4" fill="#8a5f9b"/>
<circle cx="73.2" cy="57.4" r="1.4" fill="#8a5f9b"/>
<circle cx="64.9" cy="60.0" r="1.4" fill="#8a5f9b"/>
<circle cx="56.0" cy="72.5" r="1.4" fill="#8a5f9b"/>
<circle cx="49.3" cy="52.6" r="1.4" fill="#8a5f9b"/>
<circle cx="63.0" cy="56.1" r="1.4" fill="#8a5f9b"/>
<circle cx="56.5" cy="64.8" r="1.4" fill="#8a5f9b"/>
<circle cx="90.0" cy="73.7" r="1.4" fill="#8a5f9b"/>
<circle cx="68.8" cy="61.8" r="1.4" fill="#8a5f9b"/>
<circle cx="68.3" cy="77.1" r="1.4" fill="#8a5f9b"/>
<circle cx="66.8" cy="73.1" r="1.4" fill="#8a5f9b"/>
<circle cx="97.5" cy="78.9" r="1.4" fill="#8a5f9b"/>
<circle cx="65.0" cy="77.2" r="1.4" fill="#8a5f9b"/>
<circle cx="86.9" cy="63.8" r="1.4" fill="#8a5f9b"/>
<circle cx="75.2" cy="69.2" r="1.4" fill="#8a5f9b"/>
<circle cx="93.6" cy="81.2" r="1.4" fill="#8a5f9b"/>
<circle cx="70.5" cy="68.0" r="1.4" fill="#8a5f9b"/>
<circle cx="93.7" cy="65.4" r="1.4" fill="#8a5f9b"/>
<circle cx="73.3" cy="91.8" r="1.4" fill="#8a5f9b"/>
<circle cx="67.8" cy="70.6" r="1.4" fill="#8a5f9b"/>
<circle cx="74.6" cy="87.8" r="1.4" fill="#8a5f9b"/>
<circle cx="81.9" cy="83.0" r="1.4" fill="#8a5f9b"/>
<circle cx="81.8" cy="72.2" r="1.4" fill="#8a5f9b"/>
<circle cx="87.3" cy="85.6" r="1.4" fill="#8a5f9b"/>
<circle cx="51.2" cy="56.5" r="1.4" fill="#8a5f9b"/>
<circle cx="50.7" cy="47.6" r="1.4" fill="#8a5f9b"/>
<circle cx="86.7" cy="73.6" r="1.4" fill="#8a5f9b"/>
<circle cx="83.2" cy="69.4" r="1.4" fill="#8a5f9b"/>
<circle cx="67.1" cy="72.6" r="1.4" fill="#8a5f9b"/>
<circle cx="100.2" cy="85.4" r="1.4" fill="#8a5f9b"/>
<circle cx="62.1" cy="68.3" r="1.4" fill="#8a5f9b"/>
<circle cx="60.1" cy="57.7" r="1.4" fill="#8a5f9b"/>
<circle cx="61.6" cy="57.2" r="1.4" fill="#8a5f9b"/>
<circle cx="90.3" cy="72.9" r="1.4" fill="#8a5f9b"/>
<circle cx="73.6" cy="65.8" r="1.4" fill="#8a5f9b"/>
<circle cx="47.0" cy="59.6" r="1.4" fill="#8a5f9b"/>
<circle cx="92.8" cy="86.3" r="1.4" fill="#8a5f9b"/>
<circle cx="56.5" cy="47.0" r="1.4" fill="#8a5f9b"/>
<circle cx="73.6" cy="64.2" r="1.4" fill="#8a5f9b"/>
<circle cx="72.1" cy="68.3" r="1.4" fill="#8a5f9b"/>
<circle cx="77.9" cy="63.1" r="1.4" fill="#8a5f9b"/>
<circle cx="95.5" cy="70.7" r="1.4" fill="#8a5f9b"/>
<circle cx="50.1" cy="57.6" r="1.4" fill="#8a5f9b"/>
<circle cx="74.7" cy="64.4" r="1.4" fill="#8a5f9b"/>
<circle cx="77.6" cy="60.0" r="1.4" fill="#8a5f9b"/>
<circle cx="61.1" cy="81.0" r="1.4" fill="#8a5f9b"/>
<circle cx="89.7" cy="73.5" r="1.4" fill="#8a5f9b"/>
<circle cx="70.9" cy="92.2" r="1.4" fill="#8a5f9b"/>
<circle cx="70.8" cy="88.1" r="1.4" fill="#8a5f9b"/>
<circle cx="95.7" cy="72.1" r="1.4" fill="#8a5f9b"/>
<circle cx="88.0" cy="69.7" r="1.4" fill="#8a5f9b"/>
<circle cx="82.6" cy="80.3" r="1.4" fill="#8a5f9b"/>
<circle cx="60.8" cy="55.3" r="1.4" fill="#8a5f9b"/>
<circle cx="52.0" cy="48.7" r="1.4" fill="#8a5f9b"/>
<circle cx="67.9" cy="77.8" r="1.4" fill="#8a5f9b"/>
<circle cx="60.3" cy="54.6" r="1.4" fill="#8a5f9b"/>
<circle cx="78.5" cy="60.5" r="1.4" fill="#8a5f9b"/>
<circle cx="65.8" cy="75.1" r="1.4" fill="#8a5f9b"/>
<circle cx="57.4" cy="73.4" r="1.4" fill="#8a5f9b"/>
<circle cx="48.7" cy="66.5" r="1.4" fill="#8a5f9b"/>
<circle cx="86.5" cy="67.8" r="1.4" fill="#8a5f9b"/>
<circle cx="98.7" cy="70.1" r="1.4" fill="#8a5f9b"/>
<circle cx="61.8" cy="60.8" r="1.4" fill="#8a5f9b"/>
<circle cx="86.9" cy="68.9" r="1.4" fill="#8a5f9b"/>
<circle cx="71.9" cy="89.8" r="1.4" fill="#8a5f9b"/>
<circle cx="78.3" cy="71.3" r="1.4" fill="#8a5f9b"/>
<circle cx="49.9" cy="51.5" r="1.4" fill="#8a5f9b"/>
<circle cx="62.7" cy="67.2" r="1.4" fill="#8a5f9b"/>
<circle cx="76.1" cy="86.2" r="1.4" fill="#8a5f9b"/>
<circle cx="75.1" cy="66.0" r="1.4" fill="#8a5f9b"/>
<circle cx="62.8" cy="64.2" r="1.4" fill="#8a5f9b"/>
<circle cx="96.2" cy="68.7" r="1.4" fill="#8a5f9b"/>
<circle cx="53.4" cy="50.3" r="1.4" fill="#8a5f9b"/>
<circle cx="69.1" cy="71.1" r="1.4" fill="#8a5f9b"/>
<circle cx="47.4" cy="68.1" r="1.4" fill="#8a5f9b"/>
<circle cx="53.4" cy="70.7" r="1.4" fill="#8a5f9b"/>
<circle cx="73.3" cy="62.0" r="1.4" fill="#8a5f9b"/>
<circle cx="57.3" cy="64.6" r="1.4" fill="#8a5f9b"/>
<circle cx="56.7" cy="53.8" r="1.4" fill="#8a5f9b"/>
<circle cx="72.0" cy="90.6" r="1.4" fill="#8a5f9b"/>
<circle cx="70.8" cy="86.0" r="1.4" fill="#8a5f9b"/>
<circle cx="77.6" cy="79.3" r="1.4" fill="#8a5f9b"/>
<circle cx="54.7" cy="59.5" r="1.4" fill="#8a5f9b"/>
<circle cx="75.3" cy="58.9" r="1.4" fill="#8a5f9b"/>
<circle cx="76.7" cy="57.4" r="1.4" fill="#8a5f9b"/>
<circle cx="75.8" cy="83.2" r="1.4" fill="#8a5f9b"/>
<circle cx="59.1" cy="75.3" r="1.4" fill="#8a5f9b"/>
<circle cx="81.4" cy="81.6" r="1.4" fill="#8a5f9b"/>
<circle cx="90.0" cy="68.1" r="1.4" fill="#8a5f9b"/>
<circle cx="62.2" cy="50.9" r="1.4" fill="#8a5f9b"/>
<circle cx="56.2" cy="54.9" r="1.4" fill="#8a5f9b"/>
<circle cx="99.9" cy="85.2" r="1.4" fill="#8a5f9b"/>
<circle cx="70.2" cy="68.6" r="1.4" fill="#8a5f9b"/>
<circle cx="84.0" cy="77.9" r="1.4" fill="#8a5f9b"/>
<circle cx="54.6" cy="73.7" r="1.4" fill="#8a5f9b"/>
<circle cx="92.5" cy="83.8" r="1.4" fill="#8a5f9b"/>
<circle cx="65.4" cy="51.8" r="1.4" fill="#8a5f9b"/>
<circle cx="100.9" cy="79.2" r="1.4" fill="#8a5f9b"/>
<circle cx="95.0" cy="82.1" r="1.4" fill="#8a5f9b"/>
<circle cx="90.5" cy="86.0" r="1.4" fill="#8a5f9b"/>
<circle cx="80.0" cy="65.7" r="1.4" fill="#8a5f9b"/>
<circle cx="89.0" cy="84.8" r="1.4" fill="#8a5f9b"/>
<circle cx="99.2" cy="69.2" r="1.4" fill="#8a5f9b"/>
<circle cx="97.4" cy="82.9" r="1.4" fill="#8a5f9b"/>
<circle cx="58.5" cy="54.7" r="1.4" fill="#8a5f9b"/>
<circle cx="69.2" cy="54.6" r="1.4" fill="#8a5f9b"/>
<circle cx="73.0" cy="87.7" r="1.4" fill="#8a5f9b"/>
<circle cx="83.5" cy="80.0" r="1.4" fill="#8a5f9b"/>
<circle cx="69.0" cy="85.3" r="1.4" fill="#8a5f9b"/>
<circle cx="87.9" cy="78.5" r="1.4" fill="#8a5f9b"/>
<circle cx="96.4" cy="85.2" r="1.4" fill="#8a5f9b"/>
<circle cx="81.0" cy="87.9" r="1.4" fill="#8a5f9b"/>
<circle cx="61.7" cy="74.0" r="1.4" fill="#8a5f9b"/>
<circle cx="92.9" cy="85.4" r="1.4" fill="#8a5f9b"/>
<circle cx="44.9" cy="48.6" r="1.4" fill="#8a5f9b"/>
<circle cx="88.6" cy="63.3" r="1.4" fill="#8a5f9b"/>
<circle cx="79.7" cy="67.4" r="1.4" fill="#8a5f9b"/>
<circle cx="62.6" cy="53.1" r="1.4" fill="#8a5f9b"/>
<circle cx="64.0" cy="86.4" r="1.4" fill="#8a5f9b"/>
<circle cx="81.3" cy="58.3" r="1.4" fill="#8a5f9b"/>
<circle cx="50.0" cy="59.2" r="1.4" fill="#8a5f9b"/>
<circle cx="84.4" cy="66.3" r="1.4" fill="#8a5f9b"/>
<circle cx="78.6" cy="87.0" r="1.4" fill="#8a5f9b"/>
<circle cx="55.9" cy="57.3" r="1.4" fill="#8a5f9b"/>
<circle cx="66.6" cy="68.3" r="1.4" fill="#8a5f9b"/>
<circle cx="68.9" cy="83.4" r="1.4" fill="#8a5f9b"/>
<circle cx="59.4" cy="62.6" r="1.4" fill="#8a5f9b"/>
<circle cx="20.8" cy="46.3" r="1.4" fill="#5eaad2"/>
<circle cx="26.0" cy="52.2" r="1.4" fill="#5eaad2"/>
<circle cx="16.1" cy="59.2" r="1.4" fill="#5eaad2"/>
<circle cx="44.1" cy="59.5" r="1.4" fill="#5eaad2"/>
<circle cx="26.0" cy="63.8" r="1.4" fill="#5eaad2"/>
<circle cx="28.7" cy="38.9" r="1.4" fill="#5eaad2"/>
<circle cx="39.3" cy="75.1" r="1.4" fill="#5eaad2"/>
<circle cx="33.9" cy="62.4" r="1.4" fill="#5eaad2"/>
<circle cx="36.9" cy="79.7" r="1.4" fill="#5eaad2"/>
<circle cx="19.9" cy="66.5" r="1.4" fill="#5eaad2"/>
<circle cx="21.8" cy="44.5" r="1.4" fill="#5eaad2"/>
<circle cx="41.4" cy="62.2" r="1.4" fill="#5eaad2"/>
<circle cx="41.3" cy="74.9" r="1.4" fill="#5eaad2"/>
<circle cx="32.0" cy="43.2" r="1.4" fill="#5eaad2"/>
<circle cx="37.9" cy="44.2" r="1.4" fill="#5eaad2"/>
<circle cx="19.9" cy="67.7" r="1.4" fill="#5eaad2"/>
<circle cx="21.6" cy="64.5" r="1.4" fill="#5eaad2"/>
<circle cx="23.7" cy="55.6" r="1.4" fill="#5eaad2"/>
<circle cx="24.5" cy="52.5" r="1.4" fill="#5eaad2"/>
<circle cx="29.6" cy="44.7" r="1.4" fill="#5eaad2"/>
<circle cx="36.1" cy="65.1" r="1.4" fill="#5eaad2"/>
<circle cx="21.0" cy="67.0" r="1.4" fill="#5eaad2"/>
<circle cx="38.4" cy="47.5" r="1.4" fill="#5eaad2"/>
<circle cx="29.9" cy="41.6" r="1.4" fill="#5eaad2"/>
<circle cx="45.3" cy="56.9" r="1.4" fill="#5eaad2"/>
<circle cx="35.6" cy="50.6" r="1.4" fill="#5eaad2"/>
<circle cx="37.5" cy="44.5" r="1.4" fill="#5eaad2"/>
<circle cx="39.7" cy="67.8" r="1.4" fill="#5eaad2"/>
<circle cx="18.6" cy="58.0" r="1.4" fill="#5eaad2"/>
<circle cx="19.1" cy="66.5" r="1.4" fill="#5eaad2"/>
<circle cx="39.2" cy="73.2" r="1.4" fill="#5eaad2"/>
<circle cx="36.2" cy="59.8" r="1.4" fill="#5eaad2"/>
<circle cx="32.7" cy="40.1" r="1.4" fill="#5eaad2"/>
<circle cx="35.6" cy="42.6" r="1.4" fill="#5eaad2"/>
<circle cx="24.2" cy="50.1" r="1.4" fill="#5eaad2"/>
<circle cx="30.8" cy="67.1" r="1.4" fill="#5eaad2"/>
<circle cx="15.2" cy="65.5" r="1.4" fill="#5eaad2"/>
<circle cx="23.3" cy="47.9" r="1.4" fill="#5eaad2"/>
<circle cx="33.9" cy="65.7" r="1.4" fill="#5eaad2"/>
<circle cx="33.5" cy="74.7" r="1.4" fill="#5eaad2"/>
<circle cx="22.0" cy="47.1" r="1.4" fill="#5eaad2"/>
<circle cx="35.7" cy="44.7" r="1.4" fill="#5eaad2"/>
<circle cx="37.9" cy="73.3" r="1.4" fill="#5eaad2"/>
<circle cx="36.7" cy="79.7" r="1.4" fill="#5eaad2"/>
<circle cx="39.6" cy="46.3" r="1.4" fill="#5eaad2"/>
<circle cx="26.3" cy="66.9" r="1.4" fill="#5eaad2"/>
<circle cx="15.0" cy="60.5" r="1.4" fill="#5eaad2"/>
<circle cx="31.7" cy="41.7" r="1.4" fill="#5eaad2"/>
<circle cx="45.5" cy="73.6" r="1.4" fill="#5eaad2"/>
<circle cx="27.8" cy="40.6" r="1.4" fill="#5eaad2"/>
<circle cx="17.8" cy="56.6" r="1.4" fill="#5eaad2"/>
<circle cx="30.4" cy="51.1" r="1.4" fill="#5eaad2"/>
<circle cx="36.4" cy="56.5" r="1.4" fill="#5eaad2"/>
<circle cx="30.6" cy="44.8" r="1.4" fill="#5eaad2"/>
<circle cx="35.6" cy="43.9" r="1.4" fill="#5eaad2"/>
<circle cx="22.7" cy="57.0" r="1.4" fill="#5eaad2"/>
<circle cx="40.3" cy="71.5" r="1.4" fill="#5eaad2"/>
<circle cx="26.4" cy="56.0" r="1.4" fill="#5eaad2"/>
<circle cx="44.7" cy="78.6" r="1.4" fill="#5eaad2"/>
<circle cx="28.8" cy="62.8" r="1.4" fill="#5eaad2"/>
<circle cx="18.9" cy="52.1" r="1.4" fill="#5eaad2"/>
<circle cx="34.2" cy="48.6" r="1.4" fill="#5eaad2"/>
<circle cx="12.5" cy="68.5" r="1.4" fill="#5eaad2"/>
<circle cx="40.6" cy="53.4" r="1.4" fill="#5eaad2"/>
<circle cx="19.7" cy="59.3" r="1.4" fill="#5eaad2"/>
<circle cx="20.2" cy="66.3" r="1.4" fill="#5eaad2"/>
<circle cx="26.8" cy="47.8" r="1.4" fill="#5eaad2"/>
<circle cx="22.8" cy="67.0" r="1.4" fill="#5eaad2"/>
<circle cx="43.3" cy="77.6" r="1.4" fill="#5eaad2"/>
<circle cx="30.1" cy="47.4" r="1.4" fill="#5eaad2"/>
<circle cx="30.6" cy="67.2" r="1.4" fill="#5eaad2"/>
<circle cx="17.6" cy="71.1" r="1.4" fill="#5eaad2"/>
<circle cx="25.7" cy="44.2" r="1.4" fill="#5eaad2"/>
<circle cx="21.5" cy="55.5" r="1.4" fill="#5eaad2"/>
<circle cx="18.6" cy="67.7" r="1.4" fill="#5eaad2"/>
<circle cx="24.8" cy="39.5" r="1.4" fill="#5eaad2"/>
<circle cx="28.6" cy="71.4" r="1.4" fill="#5eaad2"/>
<circle cx="41.0" cy="59.5" r="1.4" fill="#5eaad2"/>
<circle cx="12.6" cy="70.5" r="1.4" fill="#5eaad2"/>
<circle cx="34.7" cy="77.7" r="1.4" fill="#5eaad2"/>
<circle cx="41.3" cy="72.2" r="1.4" fill="#5eaad2"/>
<circle cx="21.5" cy="48.5" r="1.4" fill="#5eaad2"/>
<circle cx="26.2" cy="49.5" r="1.4" fill="#5eaad2"/>
<circle cx="27.7" cy="36.9" r="1.4" fill="#5eaad2"/>
<circle cx="29.0" cy="63.8" r="1.4" fill="#5eaad2"/>
<circle cx="42.1" cy="68.0" r="1.4" fill="#5eaad2"/>
<circle cx="39.4" cy="81.8" r="1.4" fill="#5eaad2"/>
<circle cx="37.3" cy="69.4" r="1.4" fill="#5eaad2"/>
<circle cx="36.8" cy="49.9" r="1.4" fill="#5eaad2"/>
<circle cx="31.2" cy="48.6" r="1.4" fill="#5eaad2"/>
<circle cx="40.1" cy="46.9" r="1.4" fill="#5eaad2"/>
<circle cx="40.6" cy="73.1" r="1.4" fill="#5eaad2"/>
<circle cx="45.2" cy="70.0" r="1.4" fill="#5eaad2"/>
<circle cx="34.0" cy="64.0" r="1.4" fill="#5eaad2"/>
<circle cx="30.6" cy="55.4" r="1.4" fill="#5eaad2"/>
<circle cx="26.1" cy="69.7" r="1.4" fill="#5eaad2"/>
<circle cx="41.7" cy="73.3" r="1.4" fill="#5eaad2"/>
<circle cx="20.4" cy="47.0" r="1.4" fill="#5eaad2"/>
<circle cx="28.4" cy="51.4" r="1.4" fill="#5eaad2"/>
<circle cx="41.3" cy="79.5" r="1.4" fill="#5eaad2"/>
<circle cx="23.9" cy="61.4" r="1.4" fill="#5eaad2"/>
<circle cx="43.1" cy="54.0" r="1.4" fill="#5eaad2"/>
<circle cx="43.1" cy="66.7" r="1.4" fill="#5eaad2"/>
<circle cx="23.2" cy="73.9" r="1.4" fill="#5eaad2"/>
<circle cx="32.3" cy="36.9" r="1.4" fill="#5eaad2"/>
<circle cx="31.6" cy="72.0" r="1.4" fill="#5eaad2"/>
<circle cx="31.9" cy="56.1" r="1.4" fill="#5eaad2"/>
<circle cx="27.0" cy="72.8" r="1.4" fill="#5eaad2"/>
<circle cx="34.3" cy="40.5" r="1.4" fill="#5eaad2"/>
<circle cx="25.1" cy="49.0" r="1.4" fill="#5eaad2"/>
<circle cx="43.3" cy="66.3" r="1.4" fill="#5eaad2"/>
<circle cx="26.3" cy="65.6" r="1.4" fill="#5eaad2"/>
<circle cx="27.2" cy="37.5" r="1.4" fill="#5eaad2"/>
<circle cx="33.7" cy="70.9" r="1.4" fill="#5eaad2"/>
<circle cx="39.7" cy="48.6" r="1.4" fill="#5eaad2"/>
<circle cx="21.1" cy="67.5" r="1.4" fill="#5eaad2"/>
<circle cx="31.5" cy="48.9" r="1.4" fill="#5eaad2"/>
<circle cx="37.3" cy="75.6" r="1.4" fill="#5eaad2"/>
<circle cx="21.1" cy="45.8" r="1.4" fill="#5eaad2"/>
<circle cx="25.6" cy="65.8" r="1.4" fill="#5eaad2"/>
<circle cx="22.9" cy="58.5" r="1.4" fill="#5eaad2"/>
<circle cx="28.2" cy="65.0" r="1.4" fill="#5eaad2"/>
<circle cx="43.4" cy="57.0" r="1.4" fill="#5eaad2"/>
<circle cx="39.6" cy="73.0" r="1.4" fill="#5eaad2"/>
<circle cx="26.9" cy="75.6" r="1.4" fill="#5eaad2"/>
<circle cx="31.7" cy="75.3" r="1.4" fill="#5eaad2"/>
<circle cx="44.2" cy="78.0" r="1.4" fill="#5eaad2"/>
<circle cx="30.4" cy="76.3" r="1.4" fill="#5eaad2"/>
<circle cx="33.1" cy="39.8" r="1.4" fill="#5eaad2"/>
<circle cx="34.3" cy="73.4" r="1.4" fill="#5eaad2"/>
<circle cx="30.2" cy="59.4" r="1.4" fill="#5eaad2"/>
<circle cx="23.9" cy="45.2" r="1.4" fill="#5eaad2"/>
<circle cx="28.2" cy="55.6" r="1.4" fill="#5eaad2"/>
<circle cx="31.6" cy="35.4" r="1.4" fill="#5eaad2"/>
<circle cx="37.6" cy="67.0" r="1.4" fill="#5eaad2"/>
<circle cx="24.3" cy="45.9" r="1.4" fill="#5eaad2"/>
<circle cx="29.4" cy="39.8" r="1.4" fill="#5eaad2"/>
<circle cx="34.4" cy="74.8" r="1.4" fill="#5eaad2"/>
<circle cx="20.2" cy="58.7" r="1.4" fill="#5eaad2"/>
<circle cx="38.1" cy="66.6" r="1.4" fill="#5eaad2"/>
<circle cx="38.6" cy="69.2" r="1.4" fill="#5eaad2"/>
<circle cx="22.6" cy="74.3" r="1.4" fill="#5eaad2"/>
<circle cx="40.8" cy="63.7" r="1.4" fill="#5eaad2"/>
<circle cx="18.2" cy="52.9" r="1.4" fill="#5eaad2"/>
<circle cx="25.2" cy="69.7" r="1.4" fill="#5eaad2"/>
<circle cx="20.5" cy="51.3" r="1.4" fill="#5eaad2"/>
<circle cx="32.9" cy="46.5" r="1.4" fill="#5eaad2"/>
<circle cx="26.6" cy="56.6" r="1.4" fill="#5eaad2"/>
<circle cx="20.0" cy="52.4" r="1.4" fill="#5eaad2"/>
<circle cx="29.5" cy="78.0" r="1.4" fill="#5eaad2"/>
<circle cx="28.3" cy="43.2" r="1.4" fill="#5eaad2"/>
<circle cx="32.8" cy="37.8" r="1.4" fill="#5eaad2"/>
<circle cx="36.4" cy="78.3" r="1.4" fill="#5eaad2"/>
<circle cx="28.6" cy="48.3" r="1.4" fill="#5eaad2"/>
<circle cx="25.7" cy="48.8" r="1.4" fill="#5eaad2"/>
<circle cx="37.5" cy="52.8" r="1.4" fill="#5eaad2"/>
<circle cx="40.6" cy="68.9" r="1.4" fill="#5eaad2"/>
<circle cx="26.6" cy="62.8" r="1.4" fill="#5eaad2"/>
<circle cx="27.3" cy="45.2" r="1.4" fill="#5eaad2"/>
<circle cx="31.1" cy="65.0" r="1.4" fill="#5eaad2"/>
<circle cx="38.5" cy="78.9" r="1.4" fill="#5eaad2"/>
<circle cx="44.4" cy="70.0" r="1.4" fill="#5eaad2"/>
<circle cx="33.4" cy="67.0" r="1.4" fill="#5eaad2"/>
<circle cx="30.5" cy="50.8" r="1.4" fill="#5eaad2"/>
<circle cx="43.1" cy="69.9" r="1.4" fill="#5eaad2"/>
<circle cx="30.0" cy="54.7" r="1.4" fill="#5eaad2"/>
<circle cx="27.5" cy="73.2" r="1.4" fill="#5eaad2"/>
<circle cx="24.5" cy="55.4" r="1.4" fill="#5eaad2"/>
<circle cx="42.9" cy="63.4" r="1.4" fill="#5eaad2"/>
<circle cx="30.5" cy="47.7" r="1.4" fill="#5eaad2"/>
<circle cx="27.9" cy="62.0" r="1.4" fill="#5eaad2"/>
<circle cx="39.2" cy="44.5" r="1.4" fill="#5eaad2"/>
<circle cx="26.7" cy="53.2" r="1.4" fill="#5eaad2"/>
<circle cx="25.4" cy="76.3" r="1.4" fill="#5eaad2"/>
<circle cx="32.5" cy="46.8" r="1.4" fill="#5eaad2"/>
<circle cx="25.5" cy="72.8" r="1.4" fill="#5eaad2"/>
<circle cx="17.9" cy="64.8" r="1.4" fill="#5eaad2"/>
<circle cx="13.5" cy="70.6" r="1.4" fill="#5eaad2"/>
<circle cx="41.2" cy="66.9" r="1.4" fill="#5eaad2"/>
<circle cx="44.2" cy="77.8" r="1.4" fill="#5eaad2"/>
<circle cx="32.4" cy="74.6" r="1.4" fill="#5eaad2"/>
<circle cx="27.4" cy="41.0" r="1.4" fill="#5eaad2"/>
<circle cx="38.9" cy="72.1" r="1.4" fill="#5eaad2"/>
<circle cx="26.6" cy="35.5" r="1.4" fill="#5eaad2"/>
<circle cx="41.1" cy="67.3" r="1.4" fill="#5eaad2"/>
<circle cx="36.3" cy="63.3" r="1.4" fill="#5eaad2"/>
<circle cx="21.7" cy="62.0" r="1.4" fill="#5eaad2"/>
<circle cx="35.9" cy="77.8" r="1.4" fill="#5eaad2"/>
<circle cx="26.3" cy="50.1" r="1.4" fill="#5eaad2"/>
<circle cx="24.4" cy="44.6" r="1.4" fill="#5eaad2"/>
<circle cx="25.9" cy="67.1" r="1.4" fill="#5eaad2"/>
<circle cx="28.5" cy="70.5" r="1.4" fill="#5eaad2"/>
<circle cx="33.0" cy="54.2" r="1.4" fill="#5eaad2"/>
<circle cx="42.1" cy="60.9" r="1.4" fill="#5eaad2"/>
<circle cx="24.7" cy="52.4" r="1.4" fill="#5eaad2"/>
<circle cx="43.5" cy="74.9" r="1.4" fill="#5eaad2"/>
<circle cx="44.1" cy="58.3" r="1.4" fill="#5eaad2"/>
<circle cx="26.7" cy="65.3" r="1.4" fill="#5eaad2"/>
<circle cx="39.6" cy="57.3" r="1.4" fill="#5eaad2"/>
<circle cx="26.9" cy="62.0" r="1.4" fill="#5eaad2"/>
<circle cx="33.7" cy="66.9" r="1.4" fill="#5eaad2"/>
<circle cx="47.7" cy="77.1" r="1.4" fill="#5eaad2"/>
<circle cx="31.7" cy="48.8" r="1.4" fill="#5eaad2"/>
<circle cx="25.5" cy="45.6" r="1.4" fill="#5eaad2"/>
<circle cx="46.7" cy="71.4" r="1.4" fill="#5eaad2"/>
<circle cx="38.6" cy="71.3" r="1.4" fill="#5eaad2"/>
<circle cx="44.6" cy="65.9" r="1.4" fill="#5eaad2"/>
<circle cx="25.2" cy="67.1" r="1.4" fill="#5eaad2"/>
<circle cx="23.2" cy="62.5" r="1.4" fill="#5eaad2"/>
<circle cx="20.3" cy="72.3" r="1.4" fill="#5eaad2"/>
<circle cx="29.2" cy="43.8" r="1.4" fill="#5eaad2"/>
<circle cx="43.0" cy="68.7" r="1.4" fill="#5eaad2"/>
<circle cx="19.0" cy="70.2" r="1.4" fill="#5eaad2"/>
<circle cx="33.3" cy="75.1" r="1.4" fill="#5eaad2"/>
<circle cx="31.5" cy="54.5" r="1.4" fill="#5eaad2"/>
<circle cx="43.0" cy="53.2" r="1.4" fill="#5eaad2"/>
<circle cx="36.7" cy="43.0" r="1.4" fill="#5eaad2"/>
<circle cx="38.9" cy="61.9" r="1.4" fill="#5eaad2"/>
<circle cx="18.0" cy="56.5" r="1.4" fill="#5eaad2"/>
<circle cx="37.3" cy="40.3" r="1.4" fill="#5eaad2"/>
<circle cx="36.1" cy="47.1" r="1.4" fill="#5eaad2"/>
<circle cx="25.2" cy="74.6" r="1.4" fill="#5eaad2"/>
<circle cx="29.5" cy="59.6" r="1.4" fill="#5eaad2"/>
<circle cx="39.9" cy="70.0" r="1.4" fill="#5eaad2"/>
<circle cx="28.7" cy="74.0" r="1.4" fill="#5eaad2"/>
<circle cx="29.1" cy="36.8" r="1.4" fill="#5eaad2"/>
<circle cx="35.3" cy="49.0" r="1.4" fill="#5eaad2"/>
<circle cx="20.0" cy="70.4" r="1.4" fill="#5eaad2"/>
<circle cx="30.9" cy="55.9" r="1.4" fill="#5eaad2"/>
<circle cx="40.5" cy="68.3" r="1.4" fill="#5eaad2"/>
<circle cx="22.2" cy="56.3" r="1.4" fill="#5eaad2"/>
<circle cx="24.5" cy="40.5" r="1.4" fill="#5eaad2"/>
<circle cx="43.5" cy="55.7" r="1.4" fill="#5eaad2"/>
<circle cx="39.4" cy="44.3" r="1.4" fill="#5eaad2"/>
<circle cx="42.8" cy="61.3" r="1.4" fill="#5eaad2"/>
<circle cx="47.3" cy="68.8" r="1.4" fill="#5eaad2"/>
<circle cx="34.0" cy="58.0" r="1.4" fill="#5eaad2"/>
<circle cx="43.3" cy="53.1" r="1.4" fill="#5eaad2"/>
<circle cx="39.1" cy="62.8" r="1.4" fill="#5eaad2"/>
<circle cx="36.9" cy="44.5" r="1.4" fill="#5eaad2"/>
<circle cx="29.2" cy="72.1" r="1.4" fill="#5eaad2"/>
<circle cx="47.1" cy="76.7" r="1.4" fill="#5eaad2"/>
<circle cx="19.9" cy="64.2" r="1.4" fill="#5eaad2"/>
<circle cx="30.2" cy="52.3" r="1.4" fill="#5eaad2"/>
<circle cx="29.4" cy="56.4" r="1.4" fill="#5eaad2"/>
<circle cx="21.5" cy="49.5" r="1.4" fill="#5eaad2"/>
<circle cx="34.9" cy="67.5" r="1.4" fill="#5eaad2"/>
<circle cx="33.6" cy="41.4" r="1.4" fill="#5eaad2"/>
<circle cx="18.3" cy="60.1" r="1.4" fill="#5eaad2"/>
<circle cx="29.4" cy="48.1" r="1.4" fill="#5eaad2"/>
<circle cx="34.2" cy="60.7" r="1.4" fill="#5eaad2"/>
<circle cx="45.2" cy="64.4" r="1.4" fill="#5eaad2"/>
<circle cx="35.5" cy="57.8" r="1.4" fill="#5eaad2"/>
<circle cx="41.8" cy="66.1" r="1.4" fill="#5eaad2"/>
<circle cx="27.1" cy="61.2" r="1.4" fill="#5eaad2"/>
<circle cx="33.3" cy="42.9" r="1.4" fill="#5eaad2"/>
<circle cx="31.5" cy="37.7" r="1.4" fill="#5eaad2"/>
<circle cx="41.7" cy="64.6" r="1.4" fill="#5eaad2"/>
<circle cx="37.3" cy="76.9" r="1.4" fill="#5eaad2"/>
<circle cx="46.0" cy="64.5" r="1.4" fill="#5eaad2"/>
<circle cx="28.3" cy="74.1" r="1.4" fill="#5eaad2"/>
<circle cx="33.4" cy="72.5" r="1.4" fill="#5eaad2"/>
<circle cx="20.1" cy="71.6" r="1.4" fill="#5eaad2"/>
<circle cx="22.8" cy="73.7" r="1.4" fill="#5eaad2"/>
<circle cx="32.3" cy="47.1" r="1.4" fill="#5eaad2"/>
<circle cx="39.3" cy="77.6" r="1.4" fill="#5eaad2"/>
<circle cx="18.0" cy="68.1" r="1.4" fill="#5eaad2"/>
<circle cx="25.4" cy="62.1" r="1.4" fill="#5eaad2"/>
<circle cx="46.6" cy="60.9" r="1.4" fill="#5eaad2"/>
<circle cx="34.7" cy="39.8" r="1.4" fill="#5eaad2"/>
<circle cx="37.0" cy="58.9" r="1.4" fill="#5eaad2"/>
<circle cx="24.9" cy="74.6" r="1.4" fill="#5eaad2"/>
<circle cx="33.1" cy="72.3" r="1.4" fill="#5eaad2"/>
<circle cx="21.3" cy="57.3" r="1.4" fill="#5eaad2"/>
<circle cx="32.0" cy="58.9" r="1.4" fill="#5eaad2"/>
<circle cx="28.8" cy="59.1" r="1.4" fill="#5eaad2"/>
<circle cx="25.9" cy="43.3" r="1.4" fill="#5eaad2"/>
<circle cx="38.0" cy="44.6" r="1.4" fill="#5eaad2"/>
<circle cx="27.6" cy="47.5" r="1.4" fill="#5eaad2"/>
<circle cx="38.8" cy="71.7" r="1.4" fill="#5eaad2"/>
<circle cx="32.0" cy="56.0" r="1.4" fill="#5eaad2"/>
<circle cx="44.4" cy="63.4" r="1.4" fill="#5eaad2"/>
<circle cx="16.3" cy="62.6" r="1.4" fill="#5eaad2"/>
<circle cx="29.9" cy="46.8" r="1.4" fill="#5eaad2"/>
<circle cx="31.5" cy="75.4" r="1.4" fill="#5eaad2"/>
<circle cx="26.4" cy="48.8" r="1.4" fill="#5eaad2"/>
<circle cx="44.5" cy="66.8" r="1.4" fill="#5eaad2"/>
<circle cx="27.5" cy="39.4" r="1.4" fill="#5eaad2"/>
<circle cx="40.0" cy="63.6" r="1.4" fill="#5eaad2"/>
<circle cx="20.7" cy="63.1" r="1.4" fill="#5eaad2"/>
<circle cx="26.2" cy="37.8" r="1.4" fill="#5eaad2"/>
<circle cx="37.3" cy="64.8" r="1.4" fill="#5eaad2"/>
<circle cx="31.7" cy="40.3" r="1.4" fill="#5eaad2"/>
<circle cx="37.4" cy="52.5" r="1.4" fill="#5eaad2"/>
<circle cx="20.2" cy="51.7" r="1.4" fill="#5eaad2"/>
<circle cx="24.3" cy="42.8" r="1.4" fill="#5eaad2"/>
<circle cx="35.4" cy="41.6" r="1.4" fill="#5eaad2"/>
<circle cx="25.8" cy="64.4" r="1.4" fill="#5eaad2"/>
<circle cx="29.4" cy="42.4" r="1.4" fill="#5eaad2"/>
<circle cx="18.5" cy="57.6" r="1.4" fill="#5eaad2"/>
<circle cx="18.7" cy="56.0" r="1.4" fill="#5eaad2"/>
<circle cx="30.6" cy="40.5" r="1.4" fill="#5eaad2"/>
<circle cx="36.0" cy="53.7" r="1.4" fill="#5eaad2"/>
<circle cx="43.0" cy="45.1" r="1.4" fill="#5eaad2"/>
<circle cx="45.6" cy="70.4" r="1.4" fill="#5eaad2"/>
<circle cx="30.0" cy="37.3" r="1.4" fill="#5eaad2"/>
<circle cx="29.5" cy="39.3" r="1.4" fill="#5eaad2"/>
<circle cx="37.4" cy="63.1" r="1.4" fill="#5eaad2"/>
<circle cx="16.6" cy="64.7" r="1.4" fill="#5eaad2"/>
<circle cx="33.6" cy="67.4" r="1.4" fill="#5eaad2"/>
<circle cx="24.7" cy="65.0" r="1.4" fill="#5eaad2"/>
<circle cx="25.8" cy="66.7" r="1.4" fill="#5eaad2"/>
<circle cx="18.2" cy="68.6" r="1.4" fill="#5eaad2"/>
<circle cx="43.0" cy="65.1" r="1.4" fill="#5eaad2"/>
<circle cx="25.4" cy="66.5" r="1.4" fill="#5eaad2"/>
<circle cx="25.3" cy="75.0" r="1.4" fill="#5eaad2"/>
<circle cx="43.8" cy="69.9" r="1.4" fill="#5eaad2"/>
<circle cx="41.4" cy="60.7" r="1.4" fill="#5eaad2"/>
<circle cx="48.6" cy="63.1" r="1.4" fill="#5eaad2"/>
<circle cx="45.3" cy="59.2" r="1.4" fill="#5eaad2"/>
<circle cx="21.4" cy="56.7" r="1.4" fill="#5eaad2"/>
<circle cx="29.9" cy="48.5" r="1.4" fill="#5eaad2"/>
<circle cx="28.0" cy="57.7" r="1.4" fill="#5eaad2"/>
<circle cx="32.1" cy="41.9" r="1.4" fill="#5eaad2"/>
<circle cx="35.7" cy="84.7" r="1.4" fill="#5eaad2"/>
<circle cx="42.7" cy="83.8" r="1.4" fill="#5eaad2"/>
<circle cx="44.4" cy="83.0" r="1.4" fill="#5eaad2"/>
<circle cx="46.2" cy="76.0" r="1.4" fill="#5eaad2"/>
<circle cx="47.5" cy="73.0" r="1.4" fill="#5eaad2"/>
<circle cx="34.0" cy="82.0" r="1.4" fill="#5eaad2"/>
<circle cx="28.0" cy="80.0" r="1.4" fill="#5eaad2"/>
<circle cx="38.0" cy="78.0" r="1.4" fill="#5eaad2"/>
<circle cx="14.6" cy="80.1" r="1.4" fill="#6383b0"/>
<circle cx="23.3" cy="102.0" r="1.4" fill="#6383b0"/>
<circle cx="18.0" cy="108.7" r="1.4" fill="#6383b0"/>
<circle cx="12.0" cy="93.8" r="1.4" fill="#6383b0"/>
<circle cx="15.3" cy="85.4" r="1.4" fill="#6383b0"/>
<circle cx="20.1" cy="104.9" r="1.4" fill="#6383b0"/>
<circle cx="19.1" cy="94.6" r="1.4" fill="#6383b0"/>
<circle cx="23.2" cy="110.1" r="1.4" fill="#6383b0"/>
<circle cx="19.0" cy="83.9" r="1.4" fill="#6383b0"/>
<circle cx="22.1" cy="83.4" r="1.4" fill="#6383b0"/>
<circle cx="12.1" cy="83.7" r="1.4" fill="#6383b0"/>
<circle cx="21.7" cy="112.3" r="1.4" fill="#6383b0"/>
<circle cx="20.3" cy="100.0" r="1.4" fill="#6383b0"/>
<circle cx="24.2" cy="106.8" r="1.4" fill="#6383b0"/>
<circle cx="16.3" cy="87.4" r="1.4" fill="#6383b0"/>
<circle cx="20.0" cy="80.0" r="1.4" fill="#6383b0"/>
<circle cx="20.5" cy="78.0" r="1.4" fill="#6383b0"/>
<circle cx="21.9" cy="111.4" r="1.4" fill="#6383b0"/>
<circle cx="10.9" cy="70.8" r="1.4" fill="#6383b0"/>
<circle cx="15.2" cy="82.8" r="1.4" fill="#6383b0"/>
<circle cx="16.1" cy="106.7" r="1.4" fill="#6383b0"/>
<circle cx="18.3" cy="74.8" r="1.4" fill="#6383b0"/>
<circle cx="9.6" cy="89.7" r="1.4" fill="#6383b0"/>
<circle cx="15.4" cy="111.0" r="1.4" fill="#6383b0"/>
<circle cx="20.6" cy="96.6" r="1.4" fill="#6383b0"/>
<circle cx="14.1" cy="81.1" r="1.4" fill="#6383b0"/>
<circle cx="19.4" cy="86.2" r="1.4" fill="#6383b0"/>
<circle cx="18.6" cy="92.7" r="1.4" fill="#6383b0"/>
<circle cx="13.8" cy="96.5" r="1.4" fill="#6383b0"/>
<circle cx="15.1" cy="65.9" r="1.4" fill="#6383b0"/>
<circle cx="18.5" cy="107.1" r="1.4" fill="#6383b0"/>
<circle cx="20.1" cy="117.6" r="1.4" fill="#6383b0"/>
<circle cx="22.4" cy="96.5" r="1.4" fill="#6383b0"/>
<circle cx="17.7" cy="77.3" r="1.4" fill="#6383b0"/>
<circle cx="19.4" cy="69.5" r="1.4" fill="#6383b0"/>
<circle cx="17.4" cy="82.7" r="1.4" fill="#6383b0"/>
<circle cx="16.1" cy="86.7" r="1.4" fill="#6383b0"/>
<circle cx="22.2" cy="99.0" r="1.4" fill="#6383b0"/>
<circle cx="24.9" cy="98.3" r="1.4" fill="#6383b0"/>
<circle cx="23.7" cy="113.6" r="1.4" fill="#6383b0"/>
<circle cx="15.8" cy="95.4" r="1.4" fill="#6383b0"/>
<circle cx="15.0" cy="80.9" r="1.4" fill="#6383b0"/>
<circle cx="23.4" cy="98.5" r="1.4" fill="#6383b0"/>
<circle cx="17.1" cy="94.8" r="1.4" fill="#6383b0"/>
<circle cx="23.2" cy="93.8" r="1.4" fill="#6383b0"/>
<circle cx="26.0" cy="93.1" r="1.4" fill="#6383b0"/>
<circle cx="16.5" cy="93.9" r="1.4" fill="#6383b0"/>
<circle cx="19.7" cy="115.6" r="1.4" fill="#6383b0"/>
<circle cx="19.4" cy="93.3" r="1.4" fill="#6383b0"/>
<circle cx="19.4" cy="92.6" r="1.4" fill="#6383b0"/>
<circle cx="20.7" cy="116.4" r="1.4" fill="#6383b0"/>
<circle cx="9.2" cy="81.5" r="1.4" fill="#6383b0"/>
<circle cx="17.5" cy="108.3" r="1.4" fill="#6383b0"/>
<circle cx="14.4" cy="87.1" r="1.4" fill="#6383b0"/>
<circle cx="16.4" cy="99.8" r="1.4" fill="#6383b0"/>
<circle cx="16.0" cy="95.8" r="1.4" fill="#6383b0"/>
<circle cx="23.8" cy="105.9" r="1.4" fill="#6383b0"/>
<circle cx="16.2" cy="86.4" r="1.4" fill="#6383b0"/>
<circle cx="11.9" cy="93.7" r="1.4" fill="#6383b0"/>
<circle cx="22.3" cy="114.7" r="1.4" fill="#6383b0"/>
<circle cx="9.5" cy="79.1" r="1.4" fill="#6383b0"/>
<circle cx="15.3" cy="95.7" r="1.4" fill="#6383b0"/>
<circle cx="16.2" cy="72.3" r="1.4" fill="#6383b0"/>
<circle cx="12.0" cy="82.8" r="1.4" fill="#6383b0"/>
<circle cx="20.1" cy="98.0" r="1.4" fill="#6383b0"/>
<circle cx="18.2" cy="73.4" r="1.4" fill="#6383b0"/>
<circle cx="19.7" cy="109.6" r="1.4" fill="#6383b0"/>
<circle cx="22.6" cy="77.9" r="1.4" fill="#6383b0"/>
<circle cx="23.0" cy="70.8" r="1.4" fill="#6383b0"/>
<circle cx="20.9" cy="107.1" r="1.4" fill="#6383b0"/>
<circle cx="19.6" cy="107.8" r="1.4" fill="#6383b0"/>
<circle cx="21.2" cy="114.0" r="1.4" fill="#6383b0"/>
<circle cx="15.1" cy="98.4" r="1.4" fill="#6383b0"/>
<circle cx="17.6" cy="111.3" r="1.4" fill="#6383b0"/>
<circle cx="18.5" cy="83.2" r="1.4" fill="#6383b0"/>
<circle cx="11.8" cy="93.5" r="1.4" fill="#6383b0"/>
<circle cx="22.6" cy="78.5" r="1.4" fill="#6383b0"/>
<circle cx="22.2" cy="102.7" r="1.4" fill="#6383b0"/>
<circle cx="20.2" cy="82.8" r="1.4" fill="#6383b0"/>
<circle cx="9.9" cy="80.3" r="1.4" fill="#6383b0"/>
<circle cx="21.8" cy="90.5" r="1.4" fill="#6383b0"/>
<circle cx="21.2" cy="75.1" r="1.4" fill="#6383b0"/>
<circle cx="11.5" cy="83.5" r="1.4" fill="#6383b0"/>
<circle cx="22.9" cy="72.2" r="1.4" fill="#6383b0"/>
<circle cx="12.2" cy="78.5" r="1.4" fill="#6383b0"/>
<circle cx="20.5" cy="113.6" r="1.4" fill="#6383b0"/>
<circle cx="15.0" cy="88.5" r="1.4" fill="#6383b0"/>
<circle cx="10.5" cy="84.1" r="1.4" fill="#6383b0"/>
<circle cx="20.5" cy="107.7" r="1.4" fill="#6383b0"/>
<circle cx="18.6" cy="99.9" r="1.4" fill="#6383b0"/>
<circle cx="11.0" cy="82.8" r="1.4" fill="#6383b0"/>
<circle cx="14.0" cy="79.4" r="1.4" fill="#6383b0"/>
<circle cx="21.8" cy="76.6" r="1.4" fill="#6383b0"/>
<circle cx="14.8" cy="81.6" r="1.4" fill="#6383b0"/>
<circle cx="23.7" cy="97.3" r="1.4" fill="#6383b0"/>
<circle cx="16.3" cy="85.5" r="1.4" fill="#6383b0"/>
<circle cx="18.9" cy="94.8" r="1.4" fill="#6383b0"/>
<circle cx="22.7" cy="78.9" r="1.4" fill="#6383b0"/>
<circle cx="14.9" cy="70.4" r="1.4" fill="#6383b0"/>
<circle cx="17.9" cy="105.2" r="1.4" fill="#6383b0"/>
<circle cx="11.6" cy="86.9" r="1.4" fill="#6383b0"/>
<circle cx="25.7" cy="89.8" r="1.4" fill="#6383b0"/>
<circle cx="24.1" cy="85.4" r="1.4" fill="#6383b0"/>
<circle cx="22.3" cy="110.5" r="1.4" fill="#6383b0"/>
<circle cx="18.7" cy="79.8" r="1.4" fill="#6383b0"/>
<circle cx="17.5" cy="81.3" r="1.4" fill="#6383b0"/>
<circle cx="19.9" cy="91.8" r="1.4" fill="#6383b0"/>
<circle cx="25.6" cy="90.8" r="1.4" fill="#6383b0"/>
<circle cx="23.3" cy="99.6" r="1.4" fill="#6383b0"/>
<circle cx="20.3" cy="88.1" r="1.4" fill="#6383b0"/>
<circle cx="22.7" cy="109.2" r="1.4" fill="#6383b0"/>
<circle cx="15.7" cy="85.4" r="1.4" fill="#6383b0"/>
<circle cx="20.1" cy="69.7" r="1.4" fill="#6383b0"/>
<circle cx="16.1" cy="86.5" r="1.4" fill="#6383b0"/>
<circle cx="19.1" cy="113.0" r="1.4" fill="#6383b0"/>
<circle cx="22.7" cy="98.4" r="1.4" fill="#6383b0"/>
<circle cx="13.5" cy="70.0" r="1.4" fill="#6383b0"/>
<circle cx="19.9" cy="87.8" r="1.4" fill="#6383b0"/>
<circle cx="17.6" cy="87.8" r="1.4" fill="#6383b0"/>
<circle cx="20.0" cy="93.9" r="1.4" fill="#6383b0"/>
<circle cx="17.5" cy="79.6" r="1.4" fill="#6383b0"/>
<circle cx="14.9" cy="90.5" r="1.4" fill="#6383b0"/>
<circle cx="17.7" cy="78.4" r="1.4" fill="#6383b0"/>
<circle cx="15.0" cy="105.9" r="1.4" fill="#6383b0"/>
<circle cx="22.4" cy="75.4" r="1.4" fill="#6383b0"/>
<circle cx="21.1" cy="88.8" r="1.4" fill="#6383b0"/>
<circle cx="17.4" cy="92.3" r="1.4" fill="#6383b0"/>
<circle cx="20.5" cy="102.1" r="1.4" fill="#6383b0"/>
<circle cx="21.7" cy="81.4" r="1.4" fill="#6383b0"/>
<circle cx="18.6" cy="78.0" r="1.4" fill="#6383b0"/>
<circle cx="18.1" cy="79.4" r="1.4" fill="#6383b0"/>
<circle cx="16.9" cy="76.8" r="1.4" fill="#6383b0"/>
<circle cx="11.3" cy="77.3" r="1.4" fill="#6383b0"/>
<circle cx="24.2" cy="86.8" r="1.4" fill="#6383b0"/>
<circle cx="20.9" cy="81.8" r="1.4" fill="#6383b0"/>
<circle cx="22.5" cy="94.9" r="1.4" fill="#6383b0"/>
<circle cx="20.5" cy="86.5" r="1.4" fill="#6383b0"/>
<circle cx="20.6" cy="76.6" r="1.4" fill="#6383b0"/>
<circle cx="24.0" cy="101.8" r="1.4" fill="#6383b0"/>
<circle cx="17.4" cy="98.7" r="1.4" fill="#6383b0"/>
<circle cx="10.9" cy="80.5" r="1.4" fill="#6383b0"/>
<circle cx="23.8" cy="103.9" r="1.4" fill="#6383b0"/>
<circle cx="20.5" cy="81.6" r="1.4" fill="#6383b0"/>
<circle cx="14.6" cy="101.3" r="1.4" fill="#6383b0"/>
<circle cx="14.4" cy="106.2" r="1.4" fill="#6383b0"/>
<circle cx="20.0" cy="110.2" r="1.4" fill="#6383b0"/>
<circle cx="15.9" cy="86.2" r="1.4" fill="#6383b0"/>
<circle cx="20.9" cy="82.7" r="1.4" fill="#6383b0"/>
<circle cx="16.1" cy="104.9" r="1.4" fill="#6383b0"/>
<circle cx="18.2" cy="66.1" r="1.4" fill="#6383b0"/>
<circle cx="21.1" cy="75.3" r="1.4" fill="#6383b0"/>
<circle cx="15.3" cy="98.6" r="1.4" fill="#6383b0"/>
<circle cx="20.3" cy="98.3" r="1.4" fill="#6383b0"/>
<circle cx="16.2" cy="106.5" r="1.4" fill="#6383b0"/>
<circle cx="20.4" cy="74.9" r="1.4" fill="#6383b0"/>
<circle cx="18.8" cy="97.1" r="1.4" fill="#6383b0"/>
<circle cx="21.3" cy="75.4" r="1.4" fill="#6383b0"/>
<circle cx="15.2" cy="81.7" r="1.4" fill="#6383b0"/>
<circle cx="9.9" cy="82.9" r="1.4" fill="#6383b0"/>
<circle cx="19.5" cy="96.5" r="1.4" fill="#6383b0"/>
<circle cx="14.7" cy="71.7" r="1.4" fill="#6383b0"/>
<circle cx="14.3" cy="92.7" r="1.4" fill="#6383b0"/>
<circle cx="20.4" cy="100.2" r="1.4" fill="#6383b0"/>
<circle cx="19.1" cy="76.6" r="1.4" fill="#6383b0"/>
<circle cx="15.2" cy="75.3" r="1.4" fill="#6383b0"/>
<circle cx="15.6" cy="65.8" r="1.4" fill="#6383b0"/>
<circle cx="23.6" cy="78.7" r="1.4" fill="#6383b0"/>
<circle cx="11.0" cy="70.7" r="1.4" fill="#6383b0"/>
<circle cx="16.4" cy="72.7" r="1.4" fill="#6383b0"/>
<circle cx="14.4" cy="77.0" r="1.4" fill="#6383b0"/>
<circle cx="17.5" cy="89.5" r="1.4" fill="#6383b0"/>
<circle cx="14.0" cy="96.1" r="1.4" fill="#6383b0"/>
<circle cx="22.0" cy="101.5" r="1.4" fill="#6383b0"/>
<circle cx="21.2" cy="96.8" r="1.4" fill="#6383b0"/>
<circle cx="14.8" cy="82.7" r="1.4" fill="#6383b0"/>
<circle cx="17.4" cy="72.3" r="1.4" fill="#6383b0"/>
<circle cx="13.0" cy="92.1" r="1.4" fill="#6383b0"/>
<circle cx="20.3" cy="82.7" r="1.4" fill="#6383b0"/>
<circle cx="14.2" cy="99.7" r="1.4" fill="#6383b0"/>
<circle cx="15.7" cy="98.3" r="1.4" fill="#6383b0"/>
<circle cx="10.3" cy="78.1" r="1.4" fill="#6383b0"/>
<circle cx="12.2" cy="72.3" r="1.4" fill="#6383b0"/>
<circle cx="16.8" cy="76.0" r="1.4" fill="#6383b0"/>
<circle cx="22.5" cy="69.0" r="1.4" fill="#6383b0"/>
<circle cx="21.2" cy="110.6" r="1.4" fill="#6383b0"/>
<circle cx="12.5" cy="76.7" r="1.4" fill="#6383b0"/>
<circle cx="23.0" cy="90.7" r="1.4" fill="#6383b0"/>
<circle cx="23.5" cy="83.8" r="1.4" fill="#6383b0"/>
<circle cx="22.9" cy="75.8" r="1.4" fill="#6383b0"/>
<circle cx="20.3" cy="113.5" r="1.4" fill="#6383b0"/>
<circle cx="20.3" cy="104.2" r="1.4" fill="#6383b0"/>
<circle cx="18.4" cy="71.9" r="1.4" fill="#6383b0"/>
<circle cx="19.7" cy="106.2" r="1.4" fill="#6383b0"/>
<circle cx="16.8" cy="100.7" r="1.4" fill="#6383b0"/>
<circle cx="16.4" cy="104.3" r="1.4" fill="#6383b0"/>
<circle cx="16.6" cy="108.4" r="1.4" fill="#6383b0"/>
<circle cx="18.0" cy="109.0" r="1.4" fill="#6383b0"/>
<circle cx="17.0" cy="93.7" r="1.4" fill="#6383b0"/>
<circle cx="21.0" cy="87.3" r="1.4" fill="#6383b0"/>
<circle cx="20.6" cy="103.8" r="1.4" fill="#6383b0"/>
<circle cx="23.8" cy="88.7" r="1.4" fill="#6383b0"/>
<circle cx="17.8" cy="108.0" r="1.4" fill="#6383b0"/>
<circle cx="13.4" cy="65.1" r="1.4" fill="#6383b0"/>
<circle cx="23.0" cy="78.7" r="1.4" fill="#6383b0"/>
<circle cx="13.0" cy="70.8" r="1.4" fill="#6383b0"/>
<circle cx="23.1" cy="98.8" r="1.4" fill="#6383b0"/>
<circle cx="17.7" cy="72.2" r="1.4" fill="#6383b0"/>
<circle cx="24.0" cy="104.1" r="1.4" fill="#6383b0"/>
<circle cx="16.8" cy="90.5" r="1.4" fill="#6383b0"/>
<circle cx="13.9" cy="90.1" r="1.4" fill="#6383b0"/>
<circle cx="23.5" cy="70.1" r="1.4" fill="#6383b0"/>
<circle cx="22.3" cy="87.3" r="1.4" fill="#6383b0"/>
<circle cx="13.7" cy="79.8" r="1.4" fill="#6383b0"/>
<circle cx="17.5" cy="99.3" r="1.4" fill="#6383b0"/>
<circle cx="19.8" cy="112.2" r="1.4" fill="#6383b0"/>
<circle cx="16.6" cy="93.6" r="1.4" fill="#6383b0"/>
<circle cx="50.1" cy="122.7" r="1.4" fill="#5757a5"/>
<circle cx="50.7" cy="125.6" r="1.4" fill="#5757a5"/>
<circle cx="50.2" cy="126.9" r="1.4" fill="#5757a5"/>
<circle cx="44.7" cy="116.2" r="1.4" fill="#5757a5"/>
<circle cx="42.9" cy="120.6" r="1.4" fill="#5757a5"/>
<circle cx="40.0" cy="102.9" r="1.4" fill="#5757a5"/>
<circle cx="51.1" cy="120.8" r="1.4" fill="#5757a5"/>
<circle cx="56.3" cy="118.5" r="1.4" fill="#5757a5"/>
<circle cx="50.4" cy="123.2" r="1.4" fill="#5757a5"/>
<circle cx="41.3" cy="112.7" r="1.4" fill="#5757a5"/>
<circle cx="55.3" cy="124.0" r="1.4" fill="#5757a5"/>
<circle cx="56.0" cy="115.7" r="1.4" fill="#5757a5"/>
<circle cx="51.2" cy="129.5" r="1.4" fill="#5757a5"/>
<circle cx="44.6" cy="104.7" r="1.4" fill="#5757a5"/>
<circle cx="42.9" cy="112.6" r="1.4" fill="#5757a5"/>
<circle cx="46.7" cy="113.3" r="1.4" fill="#5757a5"/>
<circle cx="40.0" cy="112.9" r="1.4" fill="#5757a5"/>
<circle cx="47.6" cy="118.1" r="1.4" fill="#5757a5"/>
<circle cx="43.5" cy="111.6" r="1.4" fill="#5757a5"/>
<circle cx="50.7" cy="124.6" r="1.4" fill="#5757a5"/>
<circle cx="53.1" cy="118.6" r="1.4" fill="#5757a5"/>
<circle cx="42.9" cy="118.8" r="1.4" fill="#5757a5"/>
<circle cx="55.8" cy="124.9" r="1.4" fill="#5757a5"/>
<circle cx="41.1" cy="111.7" r="1.4" fill="#5757a5"/>
<circle cx="45.5" cy="113.8" r="1.4" fill="#5757a5"/>
<circle cx="55.3" cy="117.4" r="1.4" fill="#5757a5"/>
<circle cx="58.3" cy="117.9" r="1.4" fill="#5757a5"/>
<circle cx="38.3" cy="110.1" r="1.4" fill="#5757a5"/>
<circle cx="46.9" cy="116.8" r="1.4" fill="#5757a5"/>
<circle cx="56.2" cy="116.5" r="1.4" fill="#5757a5"/>
<circle cx="40.2" cy="101.3" r="1.4" fill="#5757a5"/>
<circle cx="58.8" cy="116.7" r="1.4" fill="#5757a5"/>
<circle cx="58.2" cy="121.0" r="1.4" fill="#5757a5"/>
<circle cx="57.7" cy="122.8" r="1.4" fill="#5757a5"/>
<circle cx="56.9" cy="125.0" r="1.4" fill="#5757a5"/>
<circle cx="56.5" cy="121.0" r="1.4" fill="#5757a5"/>
<circle cx="52.0" cy="126.7" r="1.4" fill="#5757a5"/>
<circle cx="57.4" cy="125.6" r="1.4" fill="#5757a5"/>
<circle cx="50.2" cy="122.1" r="1.4" fill="#5757a5"/>
<circle cx="53.8" cy="125.2" r="1.4" fill="#5757a5"/>
<circle cx="56.4" cy="115.1" r="1.4" fill="#5757a5"/>
<circle cx="46.2" cy="115.2" r="1.4" fill="#5757a5"/>
<circle cx="35.8" cy="105.2" r="1.4" fill="#5757a5"/>
<circle cx="55.0" cy="119.0" r="1.4" fill="#5757a5"/>
<circle cx="56.9" cy="117.6" r="1.4" fill="#5757a5"/>
<circle cx="43.6" cy="117.3" r="1.4" fill="#5757a5"/>
<circle cx="53.2" cy="124.0" r="1.4" fill="#5757a5"/>
<circle cx="44.1" cy="109.7" r="1.4" fill="#5757a5"/>
<circle cx="46.3" cy="117.6" r="1.4" fill="#5757a5"/>
<circle cx="50.9" cy="125.3" r="1.4" fill="#5757a5"/>
<circle cx="52.0" cy="118.7" r="1.4" fill="#5757a5"/>
<circle cx="49.7" cy="122.7" r="1.4" fill="#5757a5"/>
<circle cx="38.9" cy="105.3" r="1.4" fill="#5757a5"/>
<circle cx="41.3" cy="119.4" r="1.4" fill="#5757a5"/>
<circle cx="39.7" cy="105.7" r="1.4" fill="#5757a5"/>
<circle cx="43.7" cy="112.2" r="1.4" fill="#5757a5"/>
<circle cx="35.9" cy="107.5" r="1.4" fill="#5757a5"/>
<circle cx="49.5" cy="115.7" r="1.4" fill="#5757a5"/>
<circle cx="39.4" cy="108.9" r="1.4" fill="#5757a5"/>
<circle cx="53.4" cy="118.4" r="1.4" fill="#5757a5"/>
<circle cx="51.7" cy="118.0" r="1.4" fill="#5757a5"/>
<circle cx="40.3" cy="110.4" r="1.4" fill="#5757a5"/>
<circle cx="56.8" cy="121.6" r="1.4" fill="#5757a5"/>
<circle cx="43.2" cy="115.3" r="1.4" fill="#5757a5"/>
<circle cx="38.8" cy="109.4" r="1.4" fill="#5757a5"/>
<circle cx="52.6" cy="116.1" r="1.4" fill="#5757a5"/>
<circle cx="49.6" cy="123.6" r="1.4" fill="#5757a5"/>
<circle cx="39.5" cy="111.2" r="1.4" fill="#5757a5"/>
<circle cx="59.5" cy="119.2" r="1.4" fill="#5757a5"/>
<circle cx="38.6" cy="106.5" r="1.4" fill="#5757a5"/>
<circle cx="51.9" cy="116.5" r="1.4" fill="#5757a5"/>
<circle cx="43.0" cy="117.6" r="1.4" fill="#5757a5"/>
<circle cx="48.8" cy="117.1" r="1.4" fill="#5757a5"/>
<circle cx="54.0" cy="117.5" r="1.4" fill="#5757a5"/>
<circle cx="55.4" cy="118.3" r="1.4" fill="#5757a5"/>
<circle cx="47.2" cy="116.1" r="1.4" fill="#5757a5"/>
<circle cx="40.5" cy="111.9" r="1.4" fill="#5757a5"/>
<circle cx="46.7" cy="115.2" r="1.4" fill="#5757a5"/>
<circle cx="41.5" cy="102.0" r="1.4" fill="#5757a5"/>
<circle cx="50.6" cy="125.8" r="1.4" fill="#5757a5"/>
<circle cx="44.4" cy="108.2" r="1.4" fill="#5757a5"/>
<circle cx="44.1" cy="121.5" r="1.4" fill="#5757a5"/>
<circle cx="48.3" cy="121.8" r="1.4" fill="#5757a5"/>
<circle cx="42.3" cy="111.9" r="1.4" fill="#5757a5"/>
<circle cx="50.8" cy="124.7" r="1.4" fill="#5757a5"/>
<circle cx="56.3" cy="116.0" r="1.4" fill="#5757a5"/>
<circle cx="52.6" cy="114.3" r="1.4" fill="#5757a5"/>
<circle cx="46.5" cy="117.8" r="1.4" fill="#5757a5"/>
<circle cx="46.2" cy="116.8" r="1.4" fill="#5757a5"/>
<circle cx="40.1" cy="111.1" r="1.4" fill="#5757a5"/>
<circle cx="55.6" cy="118.9" r="1.4" fill="#5757a5"/>
<circle cx="50.7" cy="123.9" r="1.4" fill="#5757a5"/>
<circle cx="39.8" cy="113.7" r="1.4" fill="#5757a5"/>
<circle cx="54.1" cy="125.3" r="1.4" fill="#5757a5"/>
<circle cx="38.7" cy="106.8" r="1.4" fill="#5757a5"/>
<circle cx="40.0" cy="116.4" r="1.4" fill="#5757a5"/>
<circle cx="39.2" cy="115.8" r="1.4" fill="#5757a5"/>
<circle cx="50.4" cy="123.5" r="1.4" fill="#5757a5"/>
<circle cx="40.6" cy="108.6" r="1.4" fill="#5757a5"/>
<circle cx="39.5" cy="104.9" r="1.4" fill="#5757a5"/>
<circle cx="36.5" cy="111.4" r="1.4" fill="#5757a5"/>
<circle cx="58.0" cy="120.1" r="1.4" fill="#5757a5"/>
<circle cx="39.2" cy="106.9" r="1.4" fill="#5757a5"/>
<circle cx="38.5" cy="110.4" r="1.4" fill="#5757a5"/>
<circle cx="53.4" cy="126.3" r="1.4" fill="#5757a5"/>
<circle cx="39.6" cy="105.9" r="1.4" fill="#5757a5"/>
<circle cx="53.7" cy="124.4" r="1.4" fill="#5757a5"/>
<circle cx="53.4" cy="116.9" r="1.4" fill="#5757a5"/>
<circle cx="38.6" cy="107.1" r="1.4" fill="#5757a5"/>
<circle cx="39.3" cy="108.3" r="1.4" fill="#5757a5"/>
<circle cx="52.4" cy="122.2" r="1.4" fill="#5757a5"/>
<circle cx="48.2" cy="120.7" r="1.4" fill="#5757a5"/>
<circle cx="46.0" cy="119.8" r="1.4" fill="#5757a5"/>
<circle cx="44.1" cy="113.7" r="1.4" fill="#5757a5"/>
<circle cx="56.6" cy="123.6" r="1.4" fill="#5757a5"/>
<circle cx="48.1" cy="119.4" r="1.4" fill="#5757a5"/>
<circle cx="40.9" cy="110.4" r="1.4" fill="#5757a5"/>
<circle cx="56.4" cy="118.9" r="1.4" fill="#5757a5"/>
<circle cx="43.2" cy="108.5" r="1.4" fill="#5757a5"/>
<circle cx="50.3" cy="123.6" r="1.4" fill="#5757a5"/>
<circle cx="52.8" cy="124.9" r="1.4" fill="#5757a5"/>
<circle cx="43.8" cy="113.6" r="1.4" fill="#5757a5"/>
<circle cx="43.4" cy="117.2" r="1.4" fill="#5757a5"/>
<circle cx="60.4" cy="120.8" r="1.4" fill="#5757a5"/>
<circle cx="39.9" cy="101.5" r="1.4" fill="#5757a5"/>
<circle cx="54.8" cy="118.2" r="1.4" fill="#5757a5"/>
<circle cx="59.4" cy="117.8" r="1.4" fill="#5757a5"/>
<circle cx="38.5" cy="107.1" r="1.4" fill="#5757a5"/>
<circle cx="54.1" cy="123.9" r="1.4" fill="#5757a5"/>
<circle cx="51.9" cy="116.8" r="1.4" fill="#5757a5"/>
<circle cx="60.7" cy="120.9" r="1.4" fill="#5757a5"/>
<circle cx="50.0" cy="124.2" r="1.4" fill="#5757a5"/>
<circle cx="47.1" cy="117.1" r="1.4" fill="#5757a5"/>
<circle cx="44.0" cy="110.8" r="1.4" fill="#5757a5"/>
<circle cx="40.7" cy="116.9" r="1.4" fill="#5757a5"/>
<circle cx="52.3" cy="123.1" r="1.4" fill="#5757a5"/>
<circle cx="53.3" cy="119.6" r="1.4" fill="#5757a5"/>
<circle cx="48.0" cy="116.4" r="1.4" fill="#5757a5"/>
<circle cx="47.1" cy="114.4" r="1.4" fill="#5757a5"/>
<circle cx="57.9" cy="119.8" r="1.4" fill="#5757a5"/>
<circle cx="52.4" cy="115.8" r="1.4" fill="#5757a5"/>
<circle cx="56.2" cy="122.8" r="1.4" fill="#5757a5"/>
<circle cx="44.8" cy="112.4" r="1.4" fill="#5757a5"/>
<circle cx="60.9" cy="120.6" r="1.4" fill="#5757a5"/>
<circle cx="43.5" cy="91.3" r="1.4" fill="#5757a5"/>
<circle cx="40.0" cy="94.8" r="1.4" fill="#5757a5"/>
<circle cx="38.3" cy="95.7" r="1.4" fill="#5757a5"/>
<circle cx="34.3" cy="97.4" r="1.4" fill="#5757a5"/>
<circle cx="37.4" cy="103.1" r="1.4" fill="#5757a5"/>
<circle cx="45.3" cy="102.7" r="1.4" fill="#5757a5"/>
<circle cx="33.5" cy="108.8" r="1.4" fill="#5757a5"/>
<circle cx="49.0" cy="112.0" r="1.4" fill="#5757a5"/>
<circle cx="64.5" cy="116.0" r="1.4" fill="#5757a5"/>
<circle cx="22.5" cy="24.6" r="1.4" fill="#3a3867"/>
<circle cx="23.5" cy="23.5" r="1.4" fill="#3a3867"/>
<circle cx="21.5" cy="23.8" r="1.4" fill="#3a3867"/>
<circle cx="22.8" cy="26.2" r="1.4" fill="#3a3867"/>
<circle cx="24.0" cy="25.5" r="1.4" fill="#3a3867"/>
<circle cx="20.8" cy="29.9" r="1.4" fill="#3a3867"/>
<circle cx="26.0" cy="30.3" r="1.4" fill="#3a3867"/>
<circle cx="20.3" cy="33.4" r="1.4" fill="#3a3867"/>
<circle cx="22.5" cy="35.8" r="1.4" fill="#3a3867"/>
<circle cx="21.8" cy="27.5" r="1.4" fill="#3a3867"/>
<circle cx="26.0" cy="23.8" r="1.4" fill="#8a5f9b"/>
<circle cx="27.8" cy="25.1" r="1.4" fill="#8a5f9b"/>
<circle cx="26.8" cy="24.5" r="1.4" fill="#8a5f9b"/>
<circle cx="145.1" cy="62.1" r="1.4" fill="#a51d2d"/>
<circle cx="163.8" cy="95.0" r="1.4" fill="#a51d2d"/>
<circle cx="151.9" cy="90.4" r="1.4" fill="#a51d2d"/>
<circle cx="157.2" cy="111.8" r="1.4" fill="#a51d2d"/>
<circle cx="155.3" cy="85.0" r="1.4" fill="#a51d2d"/>
<circle cx="156.0" cy="79.8" r="1.4" fill="#a51d2d"/>
<circle cx="162.4" cy="61.5" r="1.4" fill="#a51d2d"/>
<circle cx="160.9" cy="107.3" r="1.4" fill="#a51d2d"/>
<circle cx="163.8" cy="85.6" r="1.4" fill="#a51d2d"/>
<circle cx="148.7" cy="57.0" r="1.4" fill="#a51d2d"/>
<circle cx="142.2" cy="84.3" r="1.4" fill="#a51d2d"/>
<circle cx="165.9" cy="105.7" r="1.4" fill="#a51d2d"/>
<circle cx="144.1" cy="97.2" r="1.4" fill="#a51d2d"/>
<circle cx="164.8" cy="82.6" r="1.4" fill="#a51d2d"/>
<circle cx="148.8" cy="85.0" r="1.4" fill="#a51d2d"/>
<circle cx="163.1" cy="80.0" r="1.4" fill="#a51d2d"/>
<circle cx="145.3" cy="108.0" r="1.4" fill="#a51d2d"/>
<circle cx="150.0" cy="77.5" r="1.4" fill="#a51d2d"/>
<circle cx="145.7" cy="83.3" r="1.4" fill="#a51d2d"/>
<circle cx="160.6" cy="78.4" r="1.4" fill="#a51d2d"/>
<circle cx="156.8" cy="84.8" r="1.4" fill="#a51d2d"/>
<circle cx="146.9" cy="86.6" r="1.4" fill="#a51d2d"/>
<circle cx="139.6" cy="65.8" r="1.4" fill="#a51d2d"/>
<circle cx="142.7" cy="102.5" r="1.4" fill="#a51d2d"/>
<circle cx="154.3" cy="58.9" r="1.4" fill="#a51d2d"/>
<circle cx="143.0" cy="85.8" r="1.4" fill="#a51d2d"/>
<circle cx="140.1" cy="71.0" r="1.4" fill="#a51d2d"/>
<circle cx="146.2" cy="88.7" r="1.4" fill="#a51d2d"/>
<circle cx="140.1" cy="82.7" r="1.4" fill="#a51d2d"/>
<circle cx="159.2" cy="59.0" r="1.4" fill="#a51d2d"/>
<circle cx="155.1" cy="70.2" r="1.4" fill="#a51d2d"/>
<circle cx="162.9" cy="90.9" r="1.4" fill="#a51d2d"/>
<circle cx="144.8" cy="65.6" r="1.4" fill="#a51d2d"/>
<circle cx="163.3" cy="103.4" r="1.4" fill="#a51d2d"/>
<circle cx="135.5" cy="80.8" r="1.4" fill="#a51d2d"/>
<circle cx="146.6" cy="80.2" r="1.4" fill="#a51d2d"/>
<circle cx="163.2" cy="100.4" r="1.4" fill="#a51d2d"/>
<circle cx="144.6" cy="88.9" r="1.4" fill="#a51d2d"/>
<circle cx="150.8" cy="81.3" r="1.4" fill="#a51d2d"/>
<circle cx="157.2" cy="93.6" r="1.4" fill="#a51d2d"/>
<circle cx="142.1" cy="101.7" r="1.4" fill="#a51d2d"/>
<circle cx="143.3" cy="70.2" r="1.4" fill="#a51d2d"/>
<circle cx="164.6" cy="110.4" r="1.4" fill="#a51d2d"/>
<circle cx="151.9" cy="112.4" r="1.4" fill="#a51d2d"/>
<circle cx="141.0" cy="74.6" r="1.4" fill="#a51d2d"/>
<circle cx="140.8" cy="83.4" r="1.4" fill="#a51d2d"/>
<circle cx="147.9" cy="100.4" r="1.4" fill="#a51d2d"/>
<circle cx="153.7" cy="112.4" r="1.4" fill="#a51d2d"/>
<circle cx="165.6" cy="106.7" r="1.4" fill="#a51d2d"/>
<circle cx="155.6" cy="87.7" r="1.4" fill="#a51d2d"/>
<circle cx="142.6" cy="71.3" r="1.4" fill="#a51d2d"/>
<circle cx="147.1" cy="64.7" r="1.4" fill="#a51d2d"/>
<circle cx="158.2" cy="71.5" r="1.4" fill="#a51d2d"/>
<circle cx="164.4" cy="88.1" r="1.4" fill="#a51d2d"/>
<circle cx="158.4" cy="67.5" r="1.4" fill="#a51d2d"/>
<circle cx="160.3" cy="77.0" r="1.4" fill="#a51d2d"/>
<circle cx="160.1" cy="90.0" r="1.4" fill="#a51d2d"/>
<circle cx="143.0" cy="69.9" r="1.4" fill="#a51d2d"/>
<circle cx="157.3" cy="86.7" r="1.4" fill="#a51d2d"/>
<circle cx="164.6" cy="73.1" r="1.4" fill="#a51d2d"/>
<circle cx="153.0" cy="81.8" r="1.4" fill="#a51d2d"/>
<circle cx="154.9" cy="69.1" r="1.4" fill="#a51d2d"/>
<circle cx="158.7" cy="70.6" r="1.4" fill="#a51d2d"/>
<circle cx="144.8" cy="69.7" r="1.4" fill="#a51d2d"/>
<circle cx="167.1" cy="96.7" r="1.4" fill="#a51d2d"/>
<circle cx="150.2" cy="84.2" r="1.4" fill="#a51d2d"/>
<circle cx="156.7" cy="57.6" r="1.4" fill="#a51d2d"/>
<circle cx="155.4" cy="81.8" r="1.4" fill="#a51d2d"/>
<circle cx="161.5" cy="68.3" r="1.4" fill="#a51d2d"/>
<circle cx="161.4" cy="104.2" r="1.4" fill="#a51d2d"/>
<circle cx="163.3" cy="96.0" r="1.4" fill="#a51d2d"/>
<circle cx="152.5" cy="107.8" r="1.4" fill="#a51d2d"/>
<circle cx="161.7" cy="93.8" r="1.4" fill="#a51d2d"/>
<circle cx="150.2" cy="83.5" r="1.4" fill="#a51d2d"/>
<circle cx="154.4" cy="65.8" r="1.4" fill="#a51d2d"/>
<circle cx="146.6" cy="103.6" r="1.4" fill="#a51d2d"/>
<circle cx="164.9" cy="93.8" r="1.4" fill="#a51d2d"/>
<circle cx="161.3" cy="85.8" r="1.4" fill="#a51d2d"/>
<circle cx="155.1" cy="92.8" r="1.4" fill="#a51d2d"/>
<circle cx="153.7" cy="59.9" r="1.4" fill="#a51d2d"/>
<circle cx="146.7" cy="101.1" r="1.4" fill="#a51d2d"/>
<circle cx="164.6" cy="106.4" r="1.4" fill="#a51d2d"/>
<circle cx="146.2" cy="108.7" r="1.4" fill="#a51d2d"/>
<circle cx="148.3" cy="80.8" r="1.4" fill="#a51d2d"/>
<circle cx="160.4" cy="60.6" r="1.4" fill="#a51d2d"/>
<circle cx="139.1" cy="71.2" r="1.4" fill="#a51d2d"/>
<circle cx="139.6" cy="102.9" r="1.4" fill="#a51d2d"/>
<circle cx="145.2" cy="110.6" r="1.4" fill="#a51d2d"/>
<circle cx="162.5" cy="66.5" r="1.4" fill="#a51d2d"/>
<circle cx="161.6" cy="71.9" r="1.4" fill="#a51d2d"/>
<circle cx="155.0" cy="59.0" r="1.4" fill="#a51d2d"/>
<circle cx="165.1" cy="101.9" r="1.4" fill="#a51d2d"/>
<circle cx="157.1" cy="93.2" r="1.4" fill="#a51d2d"/>
<circle cx="151.4" cy="57.7" r="1.4" fill="#a51d2d"/>
<circle cx="147.9" cy="97.5" r="1.4" fill="#a51d2d"/>
<circle cx="157.7" cy="63.4" r="1.4" fill="#a51d2d"/>
<circle cx="147.2" cy="84.1" r="1.4" fill="#a51d2d"/>
<circle cx="152.9" cy="62.0" r="1.4" fill="#a51d2d"/>
<circle cx="164.2" cy="100.9" r="1.4" fill="#a51d2d"/>
<circle cx="146.2" cy="85.4" r="1.4" fill="#a51d2d"/>
<circle cx="151.2" cy="112.4" r="1.4" fill="#a51d2d"/>
<circle cx="144.5" cy="111.9" r="1.4" fill="#a51d2d"/>
<circle cx="148.1" cy="76.9" r="1.4" fill="#a51d2d"/>
<circle cx="148.5" cy="93.8" r="1.4" fill="#a51d2d"/>
<circle cx="168.1" cy="94.3" r="1.4" fill="#a51d2d"/>
<circle cx="160.9" cy="85.3" r="1.4" fill="#a51d2d"/>
<circle cx="157.9" cy="100.4" r="1.4" fill="#a51d2d"/>
<circle cx="163.3" cy="92.4" r="1.4" fill="#a51d2d"/>
<circle cx="136.7" cy="81.8" r="1.4" fill="#a51d2d"/>
<circle cx="147.7" cy="90.9" r="1.4" fill="#a51d2d"/>
<circle cx="149.8" cy="82.9" r="1.4" fill="#a51d2d"/>
<circle cx="155.3" cy="87.4" r="1.4" fill="#a51d2d"/>
<circle cx="147.8" cy="66.7" r="1.4" fill="#a51d2d"/>
<circle cx="140.4" cy="102.5" r="1.4" fill="#a51d2d"/>
<circle cx="149.3" cy="104.2" r="1.4" fill="#a51d2d"/>
<circle cx="166.9" cy="113.7" r="1.4" fill="#a51d2d"/>
<circle cx="139.7" cy="67.8" r="1.4" fill="#a51d2d"/>
<circle cx="155.3" cy="54.3" r="1.4" fill="#a51d2d"/>
<circle cx="147.4" cy="81.4" r="1.4" fill="#a51d2d"/>
<circle cx="163.2" cy="62.7" r="1.4" fill="#a51d2d"/>
<circle cx="141.5" cy="72.3" r="1.4" fill="#a51d2d"/>
<circle cx="138.9" cy="101.6" r="1.4" fill="#a51d2d"/>
<circle cx="165.2" cy="102.5" r="1.4" fill="#a51d2d"/>
<circle cx="160.2" cy="71.2" r="1.4" fill="#a51d2d"/>
<circle cx="143.9" cy="107.9" r="1.4" fill="#a51d2d"/>
<circle cx="140.8" cy="93.1" r="1.4" fill="#a51d2d"/>
<circle cx="143.7" cy="93.8" r="1.4" fill="#a51d2d"/>
<circle cx="159.2" cy="66.8" r="1.4" fill="#a51d2d"/>
<circle cx="153.9" cy="64.9" r="1.4" fill="#a51d2d"/>
<circle cx="166.8" cy="90.7" r="1.4" fill="#a51d2d"/>
<circle cx="160.7" cy="90.9" r="1.4" fill="#a51d2d"/>
<circle cx="165.2" cy="86.5" r="1.4" fill="#a51d2d"/>
<circle cx="158.5" cy="84.4" r="1.4" fill="#a51d2d"/>
<circle cx="161.7" cy="86.8" r="1.4" fill="#a51d2d"/>
<circle cx="148.3" cy="82.7" r="1.4" fill="#a51d2d"/>
<circle cx="158.3" cy="104.6" r="1.4" fill="#a51d2d"/>
<circle cx="158.7" cy="68.6" r="1.4" fill="#a51d2d"/>
<circle cx="154.6" cy="87.4" r="1.4" fill="#a51d2d"/>
<circle cx="156.2" cy="82.5" r="1.4" fill="#a51d2d"/>
<circle cx="154.9" cy="94.1" r="1.4" fill="#a51d2d"/>
<circle cx="165.6" cy="92.9" r="1.4" fill="#a51d2d"/>
<circle cx="140.0" cy="68.6" r="1.4" fill="#a51d2d"/>
<circle cx="146.8" cy="75.8" r="1.4" fill="#a51d2d"/>
<circle cx="153.6" cy="70.0" r="1.4" fill="#a51d2d"/>
<circle cx="149.2" cy="92.7" r="1.4" fill="#a51d2d"/>
<circle cx="158.9" cy="110.7" r="1.4" fill="#a51d2d"/>
<circle cx="150.7" cy="105.5" r="1.4" fill="#a51d2d"/>
<circle cx="142.5" cy="100.4" r="1.4" fill="#a51d2d"/>
<circle cx="151.4" cy="74.9" r="1.4" fill="#a51d2d"/>
<circle cx="151.4" cy="97.7" r="1.4" fill="#a51d2d"/>
<circle cx="168.0" cy="108.1" r="1.4" fill="#a51d2d"/>
<circle cx="143.3" cy="76.7" r="1.4" fill="#a51d2d"/>
<circle cx="143.1" cy="81.1" r="1.4" fill="#a51d2d"/>
<circle cx="140.4" cy="93.3" r="1.4" fill="#a51d2d"/>
<circle cx="150.9" cy="67.5" r="1.4" fill="#a51d2d"/>
<circle cx="159.7" cy="74.6" r="1.4" fill="#a51d2d"/>
<circle cx="163.1" cy="107.2" r="1.4" fill="#a51d2d"/>
<circle cx="147.1" cy="68.0" r="1.4" fill="#a51d2d"/>
<circle cx="162.2" cy="63.1" r="1.4" fill="#a51d2d"/>
<circle cx="155.1" cy="56.6" r="1.4" fill="#a51d2d"/>
<circle cx="145.5" cy="80.1" r="1.4" fill="#a51d2d"/>
<circle cx="156.9" cy="59.2" r="1.4" fill="#a51d2d"/>
<circle cx="165.4" cy="97.9" r="1.4" fill="#a51d2d"/>
<circle cx="143.7" cy="67.9" r="1.4" fill="#a51d2d"/>
<circle cx="138.3" cy="64.6" r="1.4" fill="#a51d2d"/>
<circle cx="141.5" cy="109.3" r="1.4" fill="#a51d2d"/>
<circle cx="142.7" cy="75.7" r="1.4" fill="#a51d2d"/>
<circle cx="165.0" cy="86.4" r="1.4" fill="#a51d2d"/>
<circle cx="163.2" cy="82.7" r="1.4" fill="#a51d2d"/>
<circle cx="146.7" cy="65.2" r="1.4" fill="#a51d2d"/>
<circle cx="165.5" cy="97.3" r="1.4" fill="#a51d2d"/>
<circle cx="139.7" cy="95.6" r="1.4" fill="#a51d2d"/>
<circle cx="146.5" cy="100.1" r="1.4" fill="#a51d2d"/>
<circle cx="160.8" cy="91.7" r="1.4" fill="#a51d2d"/>
<circle cx="156.8" cy="95.5" r="1.4" fill="#a51d2d"/>
<circle cx="156.3" cy="93.6" r="1.4" fill="#a51d2d"/>
<circle cx="153.8" cy="101.1" r="1.4" fill="#a51d2d"/>
<circle cx="153.7" cy="56.7" r="1.4" fill="#a51d2d"/>
<circle cx="155.6" cy="80.5" r="1.4" fill="#a51d2d"/>
<circle cx="147.9" cy="74.5" r="1.4" fill="#a51d2d"/>
<circle cx="144.2" cy="72.6" r="1.4" fill="#a51d2d"/>
<circle cx="163.1" cy="105.3" r="1.4" fill="#a51d2d"/>
<circle cx="152.4" cy="102.4" r="1.4" fill="#a51d2d"/>
<circle cx="141.0" cy="84.5" r="1.4" fill="#a51d2d"/>
<circle cx="163.0" cy="102.2" r="1.4" fill="#a51d2d"/>
<circle cx="147.8" cy="64.6" r="1.4" fill="#a51d2d"/>
<circle cx="160.1" cy="72.9" r="1.4" fill="#a51d2d"/>
<circle cx="141.0" cy="87.6" r="1.4" fill="#a51d2d"/>
<circle cx="149.7" cy="107.5" r="1.4" fill="#a51d2d"/>
<circle cx="162.4" cy="99.5" r="1.4" fill="#a51d2d"/>
<circle cx="157.7" cy="99.8" r="1.4" fill="#a51d2d"/>
<circle cx="156.9" cy="90.5" r="1.4" fill="#a51d2d"/>
<circle cx="160.3" cy="97.1" r="1.4" fill="#a51d2d"/>
<circle cx="160.9" cy="70.7" r="1.4" fill="#a51d2d"/>
<circle cx="153.4" cy="98.9" r="1.4" fill="#a51d2d"/>
<circle cx="159.7" cy="107.6" r="1.4" fill="#a51d2d"/>
<circle cx="140.3" cy="100.8" r="1.4" fill="#a51d2d"/>
<circle cx="154.4" cy="59.5" r="1.4" fill="#a51d2d"/>
<circle cx="151.9" cy="93.1" r="1.4" fill="#a51d2d"/>
<circle cx="153.0" cy="100.1" r="1.4" fill="#a51d2d"/>
<circle cx="141.0" cy="107.9" r="1.4" fill="#a51d2d"/>
<circle cx="141.7" cy="63.5" r="1.4" fill="#a51d2d"/>
<circle cx="144.8" cy="77.2" r="1.4" fill="#a51d2d"/>
<circle cx="162.5" cy="109.8" r="1.4" fill="#a51d2d"/>
<circle cx="156.8" cy="109.0" r="1.4" fill="#a51d2d"/>
<circle cx="150.3" cy="94.0" r="1.4" fill="#a51d2d"/>
<circle cx="149.2" cy="85.5" r="1.4" fill="#a51d2d"/>
<circle cx="154.9" cy="55.2" r="1.4" fill="#a51d2d"/>
<circle cx="138.6" cy="95.2" r="1.4" fill="#a51d2d"/>
<circle cx="150.8" cy="61.0" r="1.4" fill="#a51d2d"/>
<circle cx="152.6" cy="77.3" r="1.4" fill="#a51d2d"/>
<circle cx="155.1" cy="111.4" r="1.4" fill="#a51d2d"/>
<circle cx="157.4" cy="74.2" r="1.4" fill="#a51d2d"/>
<circle cx="159.0" cy="69.1" r="1.4" fill="#a51d2d"/>
<circle cx="150.9" cy="85.3" r="1.4" fill="#a51d2d"/>
<circle cx="150.9" cy="86.4" r="1.4" fill="#a51d2d"/>
<circle cx="139.8" cy="78.1" r="1.4" fill="#a51d2d"/>
<circle cx="153.5" cy="98.2" r="1.4" fill="#a51d2d"/>
<circle cx="166.1" cy="96.8" r="1.4" fill="#a51d2d"/>
<circle cx="151.8" cy="95.5" r="1.4" fill="#a51d2d"/>
<circle cx="143.0" cy="91.8" r="1.4" fill="#a51d2d"/>
<circle cx="144.9" cy="73.9" r="1.4" fill="#a51d2d"/>
<circle cx="170.5" cy="108.5" r="1.4" fill="#a51d2d"/>
<circle cx="157.7" cy="103.1" r="1.4" fill="#a51d2d"/>
<circle cx="164.9" cy="90.6" r="1.4" fill="#a51d2d"/>
<circle cx="139.2" cy="84.0" r="1.4" fill="#a51d2d"/>
<circle cx="158.1" cy="93.0" r="1.4" fill="#a51d2d"/>
<circle cx="141.5" cy="91.1" r="1.4" fill="#a51d2d"/>
<circle cx="165.6" cy="108.7" r="1.4" fill="#a51d2d"/>
<circle cx="161.3" cy="78.3" r="1.4" fill="#a51d2d"/>
<circle cx="149.0" cy="83.7" r="1.4" fill="#a51d2d"/>
<circle cx="148.3" cy="63.2" r="1.4" fill="#a51d2d"/>
<circle cx="166.6" cy="107.5" r="1.4" fill="#a51d2d"/>
<circle cx="164.2" cy="81.2" r="1.4" fill="#a51d2d"/>
<circle cx="146.3" cy="85.8" r="1.4" fill="#a51d2d"/>
<circle cx="145.5" cy="103.4" r="1.4" fill="#a51d2d"/>
<circle cx="150.0" cy="79.0" r="1.4" fill="#a51d2d"/>
<circle cx="155.7" cy="113.7" r="1.4" fill="#a51d2d"/>
<circle cx="168.9" cy="111.8" r="1.4" fill="#a51d2d"/>
<circle cx="156.2" cy="86.4" r="1.4" fill="#a51d2d"/>
<circle cx="144.0" cy="100.7" r="1.4" fill="#a51d2d"/>
<circle cx="154.5" cy="97.7" r="1.4" fill="#a51d2d"/>
<circle cx="160.7" cy="86.5" r="1.4" fill="#a51d2d"/>
<circle cx="141.6" cy="81.1" r="1.4" fill="#a51d2d"/>
<circle cx="142.0" cy="79.4" r="1.4" fill="#a51d2d"/>
<circle cx="144.2" cy="68.2" r="1.4" fill="#a51d2d"/>
<circle cx="158.1" cy="108.2" r="1.4" fill="#a51d2d"/>
<circle cx="155.9" cy="81.3" r="1.4" fill="#a51d2d"/>
<circle cx="152.1" cy="54.6" r="1.4" fill="#a51d2d"/>
<circle cx="149.0" cy="85.5" r="1.4" fill="#a51d2d"/>
<circle cx="148.5" cy="104.8" r="1.4" fill="#a51d2d"/>
<circle cx="167.3" cy="101.3" r="1.4" fill="#a51d2d"/>
<circle cx="153.6" cy="85.6" r="1.4" fill="#a51d2d"/>
<circle cx="154.9" cy="78.6" r="1.4" fill="#a51d2d"/>
<circle cx="171.7" cy="109.2" r="1.4" fill="#a51d2d"/>
<circle cx="152.1" cy="81.8" r="1.4" fill="#a51d2d"/>
<circle cx="139.5" cy="97.6" r="1.4" fill="#a51d2d"/>
<circle cx="155.6" cy="62.5" r="1.4" fill="#a51d2d"/>
<circle cx="142.7" cy="83.4" r="1.4" fill="#a51d2d"/>
<circle cx="145.4" cy="100.8" r="1.4" fill="#a51d2d"/>
<circle cx="147.4" cy="106.6" r="1.4" fill="#a51d2d"/>
<circle cx="137.5" cy="67.9" r="1.4" fill="#a51d2d"/>
<circle cx="145.9" cy="105.3" r="1.4" fill="#a51d2d"/>
<circle cx="141.6" cy="94.9" r="1.4" fill="#a51d2d"/>
<circle cx="166.9" cy="110.0" r="1.4" fill="#a51d2d"/>
<circle cx="153.6" cy="67.1" r="1.4" fill="#a51d2d"/>
<circle cx="141.0" cy="67.6" r="1.4" fill="#a51d2d"/>
<circle cx="161.1" cy="87.0" r="1.4" fill="#a51d2d"/>
<circle cx="141.4" cy="70.2" r="1.4" fill="#a51d2d"/>
<circle cx="165.1" cy="81.5" r="1.4" fill="#a51d2d"/>
<circle cx="170.7" cy="111.1" r="1.4" fill="#a51d2d"/>
<circle cx="143.9" cy="67.8" r="1.4" fill="#a51d2d"/>
<circle cx="143.0" cy="89.1" r="1.4" fill="#a51d2d"/>
<circle cx="154.9" cy="86.3" r="1.4" fill="#a51d2d"/>
<circle cx="162.4" cy="85.8" r="1.4" fill="#a51d2d"/>
<circle cx="147.7" cy="92.7" r="1.4" fill="#a51d2d"/>
<circle cx="154.7" cy="61.5" r="1.4" fill="#a51d2d"/>
<circle cx="163.3" cy="79.0" r="1.4" fill="#a51d2d"/>
<circle cx="167.2" cy="94.7" r="1.4" fill="#a51d2d"/>
<circle cx="157.6" cy="112.9" r="1.4" fill="#a51d2d"/>
<circle cx="163.4" cy="91.1" r="1.4" fill="#a51d2d"/>
<circle cx="162.5" cy="78.7" r="1.4" fill="#a51d2d"/>
<circle cx="141.6" cy="87.3" r="1.4" fill="#a51d2d"/>
<circle cx="145.7" cy="69.2" r="1.4" fill="#a51d2d"/>
<circle cx="166.9" cy="88.9" r="1.4" fill="#a51d2d"/>
<circle cx="165.0" cy="101.2" r="1.4" fill="#a51d2d"/>
<circle cx="150.7" cy="78.6" r="1.4" fill="#a51d2d"/>
<circle cx="150.8" cy="75.0" r="1.4" fill="#a51d2d"/>
<circle cx="165.7" cy="106.9" r="1.4" fill="#a51d2d"/>
<circle cx="146.4" cy="94.4" r="1.4" fill="#a51d2d"/>
<circle cx="159.2" cy="99.7" r="1.4" fill="#a51d2d"/>
<circle cx="162.9" cy="72.3" r="1.4" fill="#a51d2d"/>
<circle cx="165.3" cy="106.2" r="1.4" fill="#a51d2d"/>
<circle cx="142.0" cy="105.0" r="1.4" fill="#a51d2d"/>
<circle cx="153.4" cy="70.1" r="1.4" fill="#a51d2d"/>
<circle cx="150.9" cy="86.4" r="1.4" fill="#a51d2d"/>
<circle cx="153.9" cy="71.4" r="1.4" fill="#a51d2d"/>
<circle cx="162.0" cy="94.1" r="1.4" fill="#a51d2d"/>
<circle cx="151.6" cy="104.4" r="1.4" fill="#a51d2d"/>
<circle cx="154.5" cy="69.8" r="1.4" fill="#a51d2d"/>
<circle cx="159.8" cy="86.1" r="1.4" fill="#a51d2d"/>
<circle cx="155.4" cy="104.9" r="1.4" fill="#a51d2d"/>
<circle cx="158.2" cy="109.7" r="1.4" fill="#a51d2d"/>
<circle cx="161.9" cy="105.2" r="1.4" fill="#a51d2d"/>
<circle cx="141.7" cy="102.2" r="1.4" fill="#a51d2d"/>
<circle cx="149.4" cy="108.6" r="1.4" fill="#a51d2d"/>
<circle cx="164.2" cy="109.4" r="1.4" fill="#a51d2d"/>
<circle cx="166.8" cy="76.1" r="1.4" fill="#a51d2d"/>
<circle cx="154.7" cy="99.2" r="1.4" fill="#a51d2d"/>
<circle cx="138.6" cy="86.1" r="1.4" fill="#a51d2d"/>
<circle cx="154.9" cy="97.7" r="1.4" fill="#a51d2d"/>
<circle cx="148.5" cy="90.5" r="1.4" fill="#a51d2d"/>
<circle cx="159.7" cy="75.8" r="1.4" fill="#a51d2d"/>
<circle cx="160.1" cy="106.8" r="1.4" fill="#a51d2d"/>
<circle cx="148.9" cy="85.4" r="1.4" fill="#a51d2d"/>
<circle cx="154.2" cy="102.2" r="1.4" fill="#a51d2d"/>
<circle cx="143.8" cy="71.8" r="1.4" fill="#a51d2d"/>
<circle cx="150.1" cy="93.8" r="1.4" fill="#a51d2d"/>
<circle cx="143.4" cy="111.6" r="1.4" fill="#a51d2d"/>
<circle cx="152.5" cy="96.6" r="1.4" fill="#a51d2d"/>
<circle cx="150.3" cy="57.2" r="1.4" fill="#a51d2d"/>
<circle cx="148.1" cy="88.9" r="1.4" fill="#a51d2d"/>
<circle cx="155.3" cy="80.4" r="1.4" fill="#a51d2d"/>
<circle cx="136.2" cy="67.7" r="1.4" fill="#a51d2d"/>
<circle cx="148.1" cy="92.8" r="1.4" fill="#a51d2d"/>
<circle cx="142.3" cy="83.5" r="1.4" fill="#a51d2d"/>
<circle cx="148.6" cy="87.5" r="1.4" fill="#a51d2d"/>
<circle cx="159.3" cy="84.3" r="1.4" fill="#a51d2d"/>
<circle cx="162.7" cy="90.3" r="1.4" fill="#a51d2d"/>
<circle cx="141.3" cy="94.2" r="1.4" fill="#a51d2d"/>
<circle cx="156.2" cy="99.4" r="1.4" fill="#a51d2d"/>
<circle cx="149.3" cy="83.2" r="1.4" fill="#a51d2d"/>
<circle cx="150.7" cy="66.5" r="1.4" fill="#a51d2d"/>
<circle cx="160.1" cy="92.2" r="1.4" fill="#a51d2d"/>
<circle cx="139.1" cy="68.5" r="1.4" fill="#a51d2d"/>
<circle cx="146.4" cy="84.2" r="1.4" fill="#a51d2d"/>
<circle cx="149.8" cy="108.3" r="1.4" fill="#a51d2d"/>
<circle cx="144.7" cy="62.6" r="1.4" fill="#a51d2d"/>
<circle cx="151.2" cy="70.1" r="1.4" fill="#a51d2d"/>
<circle cx="163.8" cy="104.7" r="1.4" fill="#a51d2d"/>
<circle cx="139.4" cy="71.6" r="1.4" fill="#a51d2d"/>
<circle cx="143.0" cy="80.5" r="1.4" fill="#a51d2d"/>
<circle cx="150.4" cy="96.5" r="1.4" fill="#a51d2d"/>
<circle cx="151.7" cy="91.0" r="1.4" fill="#a51d2d"/>
<circle cx="141.3" cy="89.0" r="1.4" fill="#a51d2d"/>
<circle cx="165.6" cy="104.9" r="1.4" fill="#a51d2d"/>
<circle cx="144.3" cy="64.3" r="1.4" fill="#a51d2d"/>
<circle cx="167.2" cy="95.0" r="1.4" fill="#a51d2d"/>
<circle cx="157.8" cy="56.9" r="1.4" fill="#a51d2d"/>
<circle cx="162.4" cy="100.1" r="1.4" fill="#a51d2d"/>
<circle cx="159.3" cy="76.0" r="1.4" fill="#a51d2d"/>
<circle cx="147.5" cy="100.9" r="1.4" fill="#a51d2d"/>
<circle cx="151.9" cy="78.0" r="1.4" fill="#a51d2d"/>
<circle cx="146.6" cy="98.0" r="1.4" fill="#a51d2d"/>
<circle cx="152.6" cy="102.7" r="1.4" fill="#a51d2d"/>
<circle cx="160.7" cy="102.0" r="1.4" fill="#a51d2d"/>
<circle cx="168.4" cy="109.6" r="1.4" fill="#a51d2d"/>
<circle cx="157.0" cy="76.6" r="1.4" fill="#a51d2d"/>
<circle cx="151.1" cy="99.3" r="1.4" fill="#a51d2d"/>
<circle cx="160.7" cy="95.8" r="1.4" fill="#a51d2d"/>
<circle cx="152.9" cy="58.6" r="1.4" fill="#a51d2d"/>
<circle cx="164.9" cy="96.9" r="1.4" fill="#a51d2d"/>
<circle cx="153.1" cy="86.3" r="1.4" fill="#a51d2d"/>
<circle cx="167.5" cy="82.6" r="1.4" fill="#a51d2d"/>
<circle cx="150.7" cy="83.8" r="1.4" fill="#a51d2d"/>
<circle cx="163.6" cy="97.3" r="1.4" fill="#a51d2d"/>
<circle cx="148.9" cy="100.7" r="1.4" fill="#a51d2d"/>
<circle cx="149.2" cy="93.8" r="1.4" fill="#a51d2d"/>
<circle cx="150.2" cy="109.2" r="1.4" fill="#a51d2d"/>
<circle cx="171.2" cy="100.1" r="1.4" fill="#a51d2d"/>
<circle cx="148.4" cy="75.8" r="1.4" fill="#a51d2d"/>
<circle cx="151.9" cy="91.2" r="1.4" fill="#a51d2d"/>
<circle cx="161.9" cy="98.7" r="1.4" fill="#a51d2d"/>
<circle cx="152.3" cy="60.0" r="1.4" fill="#a51d2d"/>
<circle cx="165.6" cy="108.7" r="1.4" fill="#a51d2d"/>
<circle cx="160.8" cy="68.0" r="1.4" fill="#a51d2d"/>
<circle cx="155.1" cy="85.4" r="1.4" fill="#a51d2d"/>
<circle cx="151.3" cy="81.2" r="1.4" fill="#a51d2d"/>
<circle cx="154.0" cy="109.2" r="1.4" fill="#a51d2d"/>
<circle cx="158.7" cy="112.0" r="1.4" fill="#a51d2d"/>
<circle cx="164.9" cy="77.9" r="1.4" fill="#a51d2d"/>
<circle cx="156.4" cy="86.9" r="1.4" fill="#a51d2d"/>
<circle cx="162.3" cy="70.9" r="1.4" fill="#a51d2d"/>
<circle cx="159.3" cy="75.0" r="1.4" fill="#a51d2d"/>
<circle cx="165.4" cy="84.8" r="1.4" fill="#a51d2d"/>
<circle cx="160.2" cy="105.1" r="1.4" fill="#a51d2d"/>
<circle cx="162.2" cy="101.7" r="1.4" fill="#a51d2d"/>
<circle cx="148.7" cy="79.0" r="1.4" fill="#a51d2d"/>
<circle cx="150.9" cy="75.7" r="1.4" fill="#a51d2d"/>
<circle cx="150.1" cy="105.2" r="1.4" fill="#a51d2d"/>
<circle cx="163.6" cy="87.8" r="1.4" fill="#a51d2d"/>
<circle cx="160.3" cy="73.6" r="1.4" fill="#a51d2d"/>
<circle cx="162.7" cy="105.9" r="1.4" fill="#a51d2d"/>
<circle cx="150.7" cy="82.9" r="1.4" fill="#a51d2d"/>
<circle cx="144.6" cy="69.5" r="1.4" fill="#a51d2d"/>
<circle cx="164.3" cy="91.1" r="1.4" fill="#a51d2d"/>
<circle cx="155.3" cy="92.3" r="1.4" fill="#a51d2d"/>
<circle cx="148.6" cy="85.6" r="1.4" fill="#a51d2d"/>
<circle cx="142.1" cy="86.6" r="1.4" fill="#a51d2d"/>
<circle cx="149.1" cy="70.1" r="1.4" fill="#a51d2d"/>
<circle cx="163.3" cy="74.5" r="1.4" fill="#a51d2d"/>
<circle cx="164.6" cy="96.8" r="1.4" fill="#a51d2d"/>
<circle cx="150.6" cy="55.5" r="1.4" fill="#a51d2d"/>
<circle cx="163.9" cy="87.7" r="1.4" fill="#a51d2d"/>
<circle cx="156.6" cy="95.3" r="1.4" fill="#a51d2d"/>
<circle cx="157.5" cy="107.7" r="1.4" fill="#a51d2d"/>
<circle cx="157.4" cy="77.8" r="1.4" fill="#a51d2d"/>
<circle cx="168.2" cy="108.7" r="1.4" fill="#a51d2d"/>
<circle cx="158.6" cy="56.6" r="1.4" fill="#a51d2d"/>
<circle cx="159.5" cy="77.3" r="1.4" fill="#a51d2d"/>
<circle cx="158.0" cy="104.2" r="1.4" fill="#a51d2d"/>
<circle cx="141.4" cy="104.4" r="1.4" fill="#a51d2d"/>
<circle cx="147.3" cy="67.2" r="1.4" fill="#a51d2d"/>
<circle cx="146.1" cy="86.2" r="1.4" fill="#a51d2d"/>
<circle cx="146.5" cy="73.1" r="1.4" fill="#a51d2d"/>
<circle cx="158.1" cy="76.3" r="1.4" fill="#a51d2d"/>
<circle cx="160.4" cy="64.3" r="1.4" fill="#a51d2d"/>
<circle cx="159.9" cy="62.9" r="1.4" fill="#a51d2d"/>
<circle cx="149.8" cy="56.3" r="1.4" fill="#a51d2d"/>
<circle cx="140.7" cy="74.9" r="1.4" fill="#a51d2d"/>
<circle cx="166.6" cy="108.0" r="1.4" fill="#a51d2d"/>
<circle cx="161.3" cy="91.1" r="1.4" fill="#a51d2d"/>
<circle cx="155.2" cy="82.2" r="1.4" fill="#a51d2d"/>
<circle cx="157.9" cy="81.9" r="1.4" fill="#a51d2d"/>
<circle cx="152.7" cy="105.1" r="1.4" fill="#a51d2d"/>
<circle cx="149.0" cy="77.2" r="1.4" fill="#a51d2d"/>
<circle cx="161.2" cy="109.4" r="1.4" fill="#a51d2d"/>
<circle cx="148.2" cy="79.9" r="1.4" fill="#a51d2d"/>
<circle cx="148.8" cy="66.6" r="1.4" fill="#a51d2d"/>
<circle cx="150.0" cy="97.9" r="1.4" fill="#a51d2d"/>
<circle cx="140.4" cy="81.8" r="1.4" fill="#a51d2d"/>
<circle cx="146.6" cy="88.3" r="1.4" fill="#a51d2d"/>
<circle cx="152.3" cy="65.8" r="1.4" fill="#a51d2d"/>
<circle cx="159.4" cy="93.1" r="1.4" fill="#a51d2d"/>
<circle cx="146.7" cy="67.9" r="1.4" fill="#a51d2d"/>
<circle cx="148.4" cy="75.7" r="1.4" fill="#a51d2d"/>
<circle cx="167.2" cy="105.3" r="1.4" fill="#a51d2d"/>
<circle cx="162.1" cy="76.9" r="1.4" fill="#a51d2d"/>
<circle cx="153.3" cy="69.1" r="1.4" fill="#a51d2d"/>
<circle cx="153.6" cy="110.4" r="1.4" fill="#a51d2d"/>
<circle cx="138.5" cy="76.2" r="1.4" fill="#a51d2d"/>
<circle cx="141.4" cy="102.1" r="1.4" fill="#a51d2d"/>
<circle cx="147.5" cy="83.1" r="1.4" fill="#a51d2d"/>
<circle cx="153.6" cy="101.0" r="1.4" fill="#a51d2d"/>
<circle cx="160.9" cy="98.7" r="1.4" fill="#a51d2d"/>
<circle cx="146.9" cy="68.1" r="1.4" fill="#a51d2d"/>
<circle cx="157.0" cy="55.3" r="1.4" fill="#a51d2d"/>
<circle cx="168.7" cy="99.3" r="1.4" fill="#a51d2d"/>
<circle cx="154.0" cy="76.4" r="1.4" fill="#a51d2d"/>
<circle cx="140.4" cy="88.6" r="1.4" fill="#a51d2d"/>
<circle cx="140.0" cy="93.3" r="1.4" fill="#a51d2d"/>
<circle cx="154.5" cy="101.9" r="1.4" fill="#a51d2d"/>
<circle cx="150.3" cy="113.4" r="1.4" fill="#a51d2d"/>
<circle cx="155.5" cy="88.6" r="1.4" fill="#a51d2d"/>
<circle cx="154.8" cy="102.9" r="1.4" fill="#a51d2d"/>
<circle cx="161.7" cy="101.9" r="1.4" fill="#a51d2d"/>
<circle cx="146.0" cy="85.1" r="1.4" fill="#a51d2d"/>
<circle cx="156.3" cy="87.5" r="1.4" fill="#a51d2d"/>
<circle cx="153.0" cy="63.2" r="1.4" fill="#a51d2d"/>
<circle cx="166.9" cy="86.6" r="1.4" fill="#a51d2d"/>
<circle cx="159.8" cy="95.6" r="1.4" fill="#a51d2d"/>
<circle cx="158.0" cy="105.1" r="1.4" fill="#a51d2d"/>
<circle cx="137.0" cy="76.3" r="1.4" fill="#a51d2d"/>
<circle cx="143.5" cy="90.9" r="1.4" fill="#a51d2d"/>
<circle cx="142.1" cy="61.4" r="1.4" fill="#a51d2d"/>
<circle cx="155.9" cy="82.1" r="1.4" fill="#a51d2d"/>
<circle cx="153.2" cy="53.0" r="1.4" fill="#a51d2d"/>
<circle cx="156.4" cy="68.3" r="1.4" fill="#a51d2d"/>
<circle cx="154.6" cy="123.2" r="1.4" fill="#d9515d"/>
<circle cx="165.4" cy="157.1" r="1.4" fill="#d9515d"/>
<circle cx="154.3" cy="138.0" r="1.4" fill="#d9515d"/>
<circle cx="162.2" cy="131.9" r="1.4" fill="#d9515d"/>
<circle cx="142.2" cy="121.8" r="1.4" fill="#d9515d"/>
<circle cx="148.6" cy="124.2" r="1.4" fill="#d9515d"/>
<circle cx="156.8" cy="132.9" r="1.4" fill="#d9515d"/>
<circle cx="158.9" cy="152.7" r="1.4" fill="#d9515d"/>
<circle cx="145.4" cy="127.3" r="1.4" fill="#d9515d"/>
<circle cx="168.2" cy="114.7" r="1.4" fill="#d9515d"/>
<circle cx="166.2" cy="133.2" r="1.4" fill="#d9515d"/>
<circle cx="159.6" cy="187.1" r="1.4" fill="#d9515d"/>
<circle cx="169.4" cy="152.1" r="1.4" fill="#d9515d"/>
<circle cx="163.9" cy="163.4" r="1.4" fill="#d9515d"/>
<circle cx="161.5" cy="140.1" r="1.4" fill="#d9515d"/>
<circle cx="163.3" cy="138.0" r="1.4" fill="#d9515d"/>
<circle cx="147.4" cy="113.4" r="1.4" fill="#d9515d"/>
<circle cx="157.2" cy="121.6" r="1.4" fill="#d9515d"/>
<circle cx="148.9" cy="132.9" r="1.4" fill="#d9515d"/>
<circle cx="151.9" cy="143.8" r="1.4" fill="#d9515d"/>
<circle cx="156.9" cy="140.8" r="1.4" fill="#d9515d"/>
<circle cx="157.2" cy="177.5" r="1.4" fill="#d9515d"/>
<circle cx="150.4" cy="121.9" r="1.4" fill="#d9515d"/>
<circle cx="146.9" cy="116.3" r="1.4" fill="#d9515d"/>
<circle cx="149.5" cy="111.1" r="1.4" fill="#d9515d"/>
<circle cx="159.8" cy="115.2" r="1.4" fill="#d9515d"/>
<circle cx="157.4" cy="129.4" r="1.4" fill="#d9515d"/>
<circle cx="166.0" cy="138.9" r="1.4" fill="#d9515d"/>
<circle cx="148.2" cy="112.0" r="1.4" fill="#d9515d"/>
<circle cx="169.9" cy="116.2" r="1.4" fill="#d9515d"/>
<circle cx="150.1" cy="116.8" r="1.4" fill="#d9515d"/>
<circle cx="169.5" cy="115.4" r="1.4" fill="#d9515d"/>
<circle cx="157.3" cy="142.0" r="1.4" fill="#d9515d"/>
<circle cx="144.4" cy="111.2" r="1.4" fill="#d9515d"/>
<circle cx="151.7" cy="140.9" r="1.4" fill="#d9515d"/>
<circle cx="160.5" cy="168.1" r="1.4" fill="#d9515d"/>
<circle cx="161.2" cy="142.8" r="1.4" fill="#d9515d"/>
<circle cx="162.1" cy="148.4" r="1.4" fill="#d9515d"/>
<circle cx="158.8" cy="132.6" r="1.4" fill="#d9515d"/>
<circle cx="145.2" cy="144.9" r="1.4" fill="#d9515d"/>
<circle cx="156.1" cy="143.2" r="1.4" fill="#d9515d"/>
<circle cx="157.0" cy="118.3" r="1.4" fill="#d9515d"/>
<circle cx="161.2" cy="166.3" r="1.4" fill="#d9515d"/>
<circle cx="147.9" cy="128.9" r="1.4" fill="#d9515d"/>
<circle cx="161.7" cy="144.3" r="1.4" fill="#d9515d"/>
<circle cx="139.8" cy="113.2" r="1.4" fill="#d9515d"/>
<circle cx="161.2" cy="144.6" r="1.4" fill="#d9515d"/>
<circle cx="148.6" cy="119.2" r="1.4" fill="#d9515d"/>
<circle cx="157.6" cy="171.6" r="1.4" fill="#d9515d"/>
<circle cx="155.8" cy="114.5" r="1.4" fill="#d9515d"/>
<circle cx="165.6" cy="141.6" r="1.4" fill="#d9515d"/>
<circle cx="168.4" cy="139.3" r="1.4" fill="#d9515d"/>
<circle cx="142.3" cy="125.1" r="1.4" fill="#d9515d"/>
<circle cx="170.0" cy="166.9" r="1.4" fill="#d9515d"/>
<circle cx="142.6" cy="127.7" r="1.4" fill="#d9515d"/>
<circle cx="159.0" cy="130.3" r="1.4" fill="#d9515d"/>
<circle cx="161.4" cy="111.9" r="1.4" fill="#d9515d"/>
<circle cx="156.8" cy="127.5" r="1.4" fill="#d9515d"/>
<circle cx="161.4" cy="132.0" r="1.4" fill="#d9515d"/>
<circle cx="151.4" cy="138.6" r="1.4" fill="#d9515d"/>
<circle cx="169.3" cy="144.6" r="1.4" fill="#d9515d"/>
<circle cx="149.9" cy="137.9" r="1.4" fill="#d9515d"/>
<circle cx="160.4" cy="121.6" r="1.4" fill="#d9515d"/>
<circle cx="148.7" cy="123.8" r="1.4" fill="#d9515d"/>
<circle cx="161.6" cy="144.6" r="1.4" fill="#d9515d"/>
<circle cx="156.0" cy="118.2" r="1.4" fill="#d9515d"/>
<circle cx="146.6" cy="139.2" r="1.4" fill="#d9515d"/>
<circle cx="147.1" cy="125.9" r="1.4" fill="#d9515d"/>
<circle cx="158.2" cy="108.4" r="1.4" fill="#d9515d"/>
<circle cx="159.9" cy="141.5" r="1.4" fill="#d9515d"/>
<circle cx="160.4" cy="152.6" r="1.4" fill="#d9515d"/>
<circle cx="150.9" cy="115.7" r="1.4" fill="#d9515d"/>
<circle cx="162.2" cy="169.3" r="1.4" fill="#d9515d"/>
<circle cx="166.6" cy="165.5" r="1.4" fill="#d9515d"/>
<circle cx="162.5" cy="116.1" r="1.4" fill="#d9515d"/>
<circle cx="154.9" cy="115.1" r="1.4" fill="#d9515d"/>
<circle cx="164.6" cy="136.0" r="1.4" fill="#d9515d"/>
<circle cx="152.6" cy="131.1" r="1.4" fill="#d9515d"/>
<circle cx="163.0" cy="158.9" r="1.4" fill="#d9515d"/>
<circle cx="157.7" cy="171.1" r="1.4" fill="#d9515d"/>
<circle cx="158.9" cy="186.4" r="1.4" fill="#d9515d"/>
<circle cx="163.3" cy="145.8" r="1.4" fill="#d9515d"/>
<circle cx="150.8" cy="135.7" r="1.4" fill="#d9515d"/>
<circle cx="163.2" cy="173.4" r="1.4" fill="#d9515d"/>
<circle cx="157.7" cy="142.2" r="1.4" fill="#d9515d"/>
<circle cx="163.0" cy="161.7" r="1.4" fill="#d9515d"/>
<circle cx="153.5" cy="131.7" r="1.4" fill="#d9515d"/>
<circle cx="152.3" cy="141.3" r="1.4" fill="#d9515d"/>
<circle cx="169.7" cy="130.2" r="1.4" fill="#d9515d"/>
<circle cx="162.4" cy="169.6" r="1.4" fill="#d9515d"/>
<circle cx="160.3" cy="157.6" r="1.4" fill="#d9515d"/>
<circle cx="159.7" cy="187.3" r="1.4" fill="#d9515d"/>
<circle cx="156.2" cy="134.8" r="1.4" fill="#d9515d"/>
<circle cx="168.1" cy="157.9" r="1.4" fill="#d9515d"/>
<circle cx="144.8" cy="123.9" r="1.4" fill="#d9515d"/>
<circle cx="168.2" cy="150.5" r="1.4" fill="#d9515d"/>
<circle cx="164.3" cy="124.9" r="1.4" fill="#d9515d"/>
<circle cx="153.8" cy="127.1" r="1.4" fill="#d9515d"/>
<circle cx="165.1" cy="158.3" r="1.4" fill="#d9515d"/>
<circle cx="150.4" cy="140.7" r="1.4" fill="#d9515d"/>
<circle cx="148.1" cy="124.6" r="1.4" fill="#d9515d"/>
<circle cx="161.1" cy="133.9" r="1.4" fill="#d9515d"/>
<circle cx="144.7" cy="139.4" r="1.4" fill="#d9515d"/>
<circle cx="152.4" cy="141.1" r="1.4" fill="#d9515d"/>
<circle cx="153.5" cy="141.0" r="1.4" fill="#d9515d"/>
<circle cx="148.5" cy="120.6" r="1.4" fill="#d9515d"/>
<circle cx="142.6" cy="147.1" r="1.4" fill="#d9515d"/>
<circle cx="164.7" cy="141.6" r="1.4" fill="#d9515d"/>
<circle cx="152.0" cy="115.5" r="1.4" fill="#d9515d"/>
<circle cx="167.0" cy="120.4" r="1.4" fill="#d9515d"/>
<circle cx="161.7" cy="136.6" r="1.4" fill="#d9515d"/>
<circle cx="155.6" cy="143.6" r="1.4" fill="#d9515d"/>
<circle cx="156.2" cy="117.6" r="1.4" fill="#d9515d"/>
<circle cx="156.8" cy="130.9" r="1.4" fill="#d9515d"/>
<circle cx="163.4" cy="149.5" r="1.4" fill="#d9515d"/>
<circle cx="152.9" cy="143.1" r="1.4" fill="#d9515d"/>
<circle cx="151.4" cy="126.4" r="1.4" fill="#d9515d"/>
<circle cx="165.5" cy="178.6" r="1.4" fill="#d9515d"/>
<circle cx="155.9" cy="118.1" r="1.4" fill="#d9515d"/>
<circle cx="161.1" cy="151.0" r="1.4" fill="#d9515d"/>
<circle cx="169.3" cy="130.8" r="1.4" fill="#d9515d"/>
<circle cx="142.8" cy="115.2" r="1.4" fill="#d9515d"/>
<circle cx="168.3" cy="150.0" r="1.4" fill="#d9515d"/>
<circle cx="164.3" cy="126.8" r="1.4" fill="#d9515d"/>
<circle cx="163.9" cy="139.0" r="1.4" fill="#d9515d"/>
<circle cx="155.7" cy="132.8" r="1.4" fill="#d9515d"/>
<circle cx="146.8" cy="133.0" r="1.4" fill="#d9515d"/>
<circle cx="147.5" cy="122.4" r="1.4" fill="#d9515d"/>
<circle cx="166.1" cy="138.3" r="1.4" fill="#d9515d"/>
<circle cx="156.8" cy="177.5" r="1.4" fill="#d9515d"/>
<circle cx="162.4" cy="120.9" r="1.4" fill="#d9515d"/>
<circle cx="164.8" cy="132.0" r="1.4" fill="#d9515d"/>
<circle cx="166.9" cy="159.8" r="1.4" fill="#d9515d"/>
<circle cx="163.6" cy="152.1" r="1.4" fill="#d9515d"/>
<circle cx="152.6" cy="113.1" r="1.4" fill="#d9515d"/>
<circle cx="158.4" cy="170.8" r="1.4" fill="#d9515d"/>
<circle cx="148.6" cy="127.4" r="1.4" fill="#d9515d"/>
<circle cx="165.3" cy="150.6" r="1.4" fill="#d9515d"/>
<circle cx="169.5" cy="129.9" r="1.4" fill="#d9515d"/>
<circle cx="140.9" cy="112.5" r="1.4" fill="#d9515d"/>
<circle cx="147.0" cy="111.5" r="1.4" fill="#d9515d"/>
<circle cx="164.5" cy="125.4" r="1.4" fill="#d9515d"/>
<circle cx="144.1" cy="116.5" r="1.4" fill="#d9515d"/>
<circle cx="143.1" cy="131.3" r="1.4" fill="#d9515d"/>
<circle cx="146.0" cy="144.6" r="1.4" fill="#d9515d"/>
<circle cx="165.3" cy="177.2" r="1.4" fill="#d9515d"/>
<circle cx="156.6" cy="135.6" r="1.4" fill="#d9515d"/>
<circle cx="165.9" cy="136.6" r="1.4" fill="#d9515d"/>
<circle cx="157.5" cy="129.0" r="1.4" fill="#d9515d"/>
<circle cx="162.8" cy="149.4" r="1.4" fill="#d9515d"/>
<circle cx="140.8" cy="116.4" r="1.4" fill="#d9515d"/>
<circle cx="169.1" cy="116.2" r="1.4" fill="#d9515d"/>
<circle cx="157.6" cy="116.7" r="1.4" fill="#d9515d"/>
<circle cx="165.6" cy="168.9" r="1.4" fill="#d9515d"/>
<circle cx="159.7" cy="118.2" r="1.4" fill="#d9515d"/>
<circle cx="148.6" cy="122.2" r="1.4" fill="#d9515d"/>
<circle cx="170.9" cy="159.7" r="1.4" fill="#d9515d"/>
<circle cx="161.6" cy="159.3" r="1.4" fill="#d9515d"/>
<circle cx="158.2" cy="180.7" r="1.4" fill="#d9515d"/>
<circle cx="147.9" cy="129.2" r="1.4" fill="#d9515d"/>
<circle cx="157.4" cy="139.5" r="1.4" fill="#d9515d"/>
<circle cx="164.3" cy="119.6" r="1.4" fill="#d9515d"/>
<circle cx="162.7" cy="128.0" r="1.4" fill="#d9515d"/>
<circle cx="166.1" cy="116.3" r="1.4" fill="#d9515d"/>
<circle cx="143.1" cy="119.8" r="1.4" fill="#d9515d"/>
<circle cx="156.6" cy="129.7" r="1.4" fill="#d9515d"/>
<circle cx="162.7" cy="141.7" r="1.4" fill="#d9515d"/>
<circle cx="162.4" cy="127.3" r="1.4" fill="#d9515d"/>
<circle cx="154.5" cy="128.9" r="1.4" fill="#d9515d"/>
<circle cx="141.9" cy="129.8" r="1.4" fill="#d9515d"/>
<circle cx="160.4" cy="119.8" r="1.4" fill="#d9515d"/>
<circle cx="146.6" cy="119.1" r="1.4" fill="#d9515d"/>
<circle cx="168.0" cy="138.8" r="1.4" fill="#d9515d"/>
<circle cx="167.5" cy="164.0" r="1.4" fill="#d9515d"/>
<circle cx="164.5" cy="155.2" r="1.4" fill="#d9515d"/>
<circle cx="165.8" cy="118.8" r="1.4" fill="#d9515d"/>
<circle cx="164.1" cy="158.5" r="1.4" fill="#d9515d"/>
<circle cx="166.7" cy="136.0" r="1.4" fill="#d9515d"/>
<circle cx="149.1" cy="139.7" r="1.4" fill="#d9515d"/>
<circle cx="166.0" cy="160.9" r="1.4" fill="#d9515d"/>
<circle cx="155.1" cy="110.7" r="1.4" fill="#d9515d"/>
<circle cx="165.6" cy="141.5" r="1.4" fill="#d9515d"/>
<circle cx="147.9" cy="139.9" r="1.4" fill="#d9515d"/>
<circle cx="160.3" cy="121.1" r="1.4" fill="#d9515d"/>
<circle cx="146.5" cy="123.0" r="1.4" fill="#d9515d"/>
<circle cx="153.1" cy="121.4" r="1.4" fill="#d9515d"/>
<circle cx="143.9" cy="135.3" r="1.4" fill="#d9515d"/>
<circle cx="156.7" cy="115.1" r="1.4" fill="#d9515d"/>
<circle cx="157.2" cy="118.3" r="1.4" fill="#d9515d"/>
<circle cx="159.3" cy="114.5" r="1.4" fill="#d9515d"/>
<circle cx="155.9" cy="124.3" r="1.4" fill="#d9515d"/>
<circle cx="148.1" cy="118.8" r="1.4" fill="#d9515d"/>
<circle cx="168.5" cy="121.7" r="1.4" fill="#d9515d"/>
<circle cx="161.4" cy="174.1" r="1.4" fill="#d9515d"/>
<circle cx="161.9" cy="112.0" r="1.4" fill="#d9515d"/>
<circle cx="165.5" cy="119.3" r="1.4" fill="#d9515d"/>
<circle cx="155.1" cy="121.7" r="1.4" fill="#d9515d"/>
<circle cx="163.1" cy="136.7" r="1.4" fill="#d9515d"/>
<circle cx="167.9" cy="153.8" r="1.4" fill="#d9515d"/>
<circle cx="161.1" cy="172.0" r="1.4" fill="#d9515d"/>
<circle cx="159.8" cy="183.6" r="1.4" fill="#d9515d"/>
<circle cx="166.1" cy="120.3" r="1.4" fill="#d9515d"/>
<circle cx="158.2" cy="178.2" r="1.4" fill="#d9515d"/>
<circle cx="166.8" cy="133.2" r="1.4" fill="#d9515d"/>
<circle cx="143.5" cy="147.8" r="1.4" fill="#d9515d"/>
<circle cx="147.2" cy="140.1" r="1.4" fill="#d9515d"/>
<circle cx="159.8" cy="161.5" r="1.4" fill="#d9515d"/>
<circle cx="157.5" cy="111.3" r="1.4" fill="#d9515d"/>
<circle cx="168.6" cy="163.9" r="1.4" fill="#d9515d"/>
<circle cx="166.0" cy="157.5" r="1.4" fill="#d9515d"/>
<circle cx="159.1" cy="179.6" r="1.4" fill="#d9515d"/>
<circle cx="163.5" cy="160.6" r="1.4" fill="#d9515d"/>
<circle cx="141.2" cy="109.6" r="1.4" fill="#d9515d"/>
<circle cx="163.7" cy="177.3" r="1.4" fill="#d9515d"/>
<circle cx="153.6" cy="124.6" r="1.4" fill="#d9515d"/>
<circle cx="164.6" cy="120.3" r="1.4" fill="#d9515d"/>
<circle cx="145.2" cy="128.8" r="1.4" fill="#d9515d"/>
<circle cx="163.2" cy="128.2" r="1.4" fill="#d9515d"/>
<circle cx="167.8" cy="142.3" r="1.4" fill="#d9515d"/>
<circle cx="145.1" cy="142.1" r="1.4" fill="#d9515d"/>
<circle cx="151.6" cy="112.9" r="1.4" fill="#d9515d"/>
<circle cx="164.9" cy="143.3" r="1.4" fill="#d9515d"/>
<circle cx="166.7" cy="166.6" r="1.4" fill="#d9515d"/>
<circle cx="158.4" cy="149.7" r="1.4" fill="#d9515d"/>
<circle cx="162.8" cy="157.6" r="1.4" fill="#d9515d"/>
<circle cx="172.2" cy="122.3" r="1.4" fill="#d9515d"/>
<circle cx="151.7" cy="136.8" r="1.4" fill="#d9515d"/>
<circle cx="160.8" cy="189.0" r="1.4" fill="#d9515d"/>
<circle cx="163.0" cy="183.7" r="1.4" fill="#d9515d"/>
<circle cx="162.6" cy="175.6" r="1.4" fill="#d9515d"/>
<circle cx="162.0" cy="151.9" r="1.4" fill="#d9515d"/>
<circle cx="141.0" cy="132.9" r="1.4" fill="#d9515d"/>
<circle cx="147.1" cy="136.3" r="1.4" fill="#d9515d"/>
<circle cx="169.1" cy="117.9" r="1.4" fill="#d9515d"/>
<circle cx="159.3" cy="132.0" r="1.4" fill="#d9515d"/>
<circle cx="165.0" cy="114.0" r="1.4" fill="#d9515d"/>
<circle cx="161.2" cy="128.5" r="1.4" fill="#d9515d"/>
<circle cx="169.5" cy="134.9" r="1.4" fill="#d9515d"/>
<circle cx="162.0" cy="109.8" r="1.4" fill="#d9515d"/>
<circle cx="172.3" cy="158.7" r="1.4" fill="#d9515d"/>
<circle cx="153.5" cy="124.2" r="1.4" fill="#d9515d"/>
<circle cx="167.9" cy="162.0" r="1.4" fill="#d9515d"/>
<circle cx="153.5" cy="113.5" r="1.4" fill="#d9515d"/>
<circle cx="161.4" cy="113.0" r="1.4" fill="#d9515d"/>
<circle cx="149.1" cy="112.7" r="1.4" fill="#d9515d"/>
<circle cx="165.5" cy="159.9" r="1.4" fill="#d9515d"/>
<circle cx="158.3" cy="121.6" r="1.4" fill="#d9515d"/>
<circle cx="158.7" cy="123.5" r="1.4" fill="#d9515d"/>
<circle cx="143.0" cy="129.3" r="1.4" fill="#d9515d"/>
<circle cx="172.3" cy="133.1" r="1.4" fill="#d9515d"/>
<circle cx="166.6" cy="133.2" r="1.4" fill="#d9515d"/>
<circle cx="165.2" cy="170.2" r="1.4" fill="#d9515d"/>
<circle cx="157.7" cy="111.0" r="1.4" fill="#d9515d"/>
<circle cx="139.9" cy="124.8" r="1.4" fill="#d9515d"/>
<circle cx="163.9" cy="109.4" r="1.4" fill="#d9515d"/>
<circle cx="147.7" cy="113.8" r="1.4" fill="#d9515d"/>
<circle cx="158.9" cy="119.8" r="1.4" fill="#d9515d"/>
<circle cx="166.9" cy="145.8" r="1.4" fill="#d9515d"/>
<circle cx="172.6" cy="123.7" r="1.4" fill="#d9515d"/>
<circle cx="149.9" cy="141.8" r="1.4" fill="#d9515d"/>
<circle cx="163.7" cy="174.9" r="1.4" fill="#d9515d"/>
<circle cx="145.7" cy="121.4" r="1.4" fill="#d9515d"/>
<circle cx="161.0" cy="168.3" r="1.4" fill="#d9515d"/>
<circle cx="165.8" cy="128.2" r="1.4" fill="#d9515d"/>
<circle cx="147.0" cy="142.0" r="1.4" fill="#d9515d"/>
<circle cx="163.7" cy="126.0" r="1.4" fill="#d9515d"/>
<circle cx="160.3" cy="142.0" r="1.4" fill="#d9515d"/>
<circle cx="140.8" cy="115.8" r="1.4" fill="#d9515d"/>
<circle cx="162.3" cy="174.6" r="1.4" fill="#d9515d"/>
<circle cx="163.1" cy="178.4" r="1.4" fill="#d9515d"/>
<circle cx="160.9" cy="171.9" r="1.4" fill="#d9515d"/>
<circle cx="165.9" cy="158.2" r="1.4" fill="#d9515d"/>
<circle cx="158.5" cy="121.3" r="1.4" fill="#d9515d"/>
<circle cx="148.8" cy="115.7" r="1.4" fill="#d9515d"/>
<circle cx="146.4" cy="138.2" r="1.4" fill="#d9515d"/>
<circle cx="167.5" cy="131.2" r="1.4" fill="#d9515d"/>
<circle cx="146.4" cy="113.3" r="1.4" fill="#d9515d"/>
<circle cx="147.1" cy="126.3" r="1.4" fill="#d9515d"/>
<circle cx="139.5" cy="110.9" r="1.4" fill="#d9515d"/>
<circle cx="169.0" cy="114.7" r="1.4" fill="#d9515d"/>
<circle cx="151.7" cy="135.8" r="1.4" fill="#d9515d"/>
<circle cx="159.5" cy="150.3" r="1.4" fill="#d9515d"/>
<circle cx="152.3" cy="119.2" r="1.4" fill="#d9515d"/>
<circle cx="166.5" cy="110.9" r="1.4" fill="#d9515d"/>
<circle cx="154.3" cy="130.2" r="1.4" fill="#d9515d"/>
<circle cx="143.2" cy="143.5" r="1.4" fill="#d9515d"/>
<circle cx="165.5" cy="117.6" r="1.4" fill="#d9515d"/>
<circle cx="156.3" cy="173.7" r="1.4" fill="#d9515d"/>
<circle cx="157.2" cy="138.0" r="1.4" fill="#d9515d"/>
<circle cx="154.3" cy="145.4" r="1.4" fill="#d9515d"/>
<circle cx="165.8" cy="159.6" r="1.4" fill="#d9515d"/>
<circle cx="166.3" cy="135.1" r="1.4" fill="#d9515d"/>
<circle cx="145.5" cy="124.2" r="1.4" fill="#d9515d"/>
<circle cx="146.5" cy="115.5" r="1.4" fill="#d9515d"/>
<circle cx="164.6" cy="144.1" r="1.4" fill="#d9515d"/>
<circle cx="158.0" cy="126.6" r="1.4" fill="#d9515d"/>
<circle cx="166.3" cy="142.2" r="1.4" fill="#d9515d"/>
<circle cx="157.3" cy="141.9" r="1.4" fill="#d9515d"/>
<circle cx="165.5" cy="141.9" r="1.4" fill="#d9515d"/>
<circle cx="150.4" cy="128.5" r="1.4" fill="#d9515d"/>
<circle cx="165.7" cy="135.6" r="1.4" fill="#d9515d"/>
<circle cx="158.1" cy="133.4" r="1.4" fill="#d9515d"/>
<circle cx="160.5" cy="164.7" r="1.4" fill="#d9515d"/>
<circle cx="159.9" cy="122.6" r="1.4" fill="#d9515d"/>
<circle cx="164.1" cy="155.9" r="1.4" fill="#d9515d"/>
<circle cx="160.8" cy="126.6" r="1.4" fill="#d9515d"/>
<circle cx="140.3" cy="128.6" r="1.4" fill="#d9515d"/>
<circle cx="161.6" cy="179.8" r="1.4" fill="#d9515d"/>
<circle cx="169.3" cy="131.0" r="1.4" fill="#d9515d"/>
<circle cx="150.5" cy="117.7" r="1.4" fill="#d9515d"/>
<circle cx="150.5" cy="116.9" r="1.4" fill="#d9515d"/>
<circle cx="173.0" cy="154.7" r="1.4" fill="#d9515d"/>
<circle cx="158.0" cy="114.2" r="1.4" fill="#d9515d"/>
<circle cx="165.2" cy="126.9" r="1.4" fill="#d9515d"/>
<circle cx="163.1" cy="125.3" r="1.4" fill="#d9515d"/>
<circle cx="150.8" cy="119.3" r="1.4" fill="#d9515d"/>
<circle cx="157.4" cy="134.0" r="1.4" fill="#d9515d"/>
<circle cx="158.8" cy="169.3" r="1.4" fill="#d9515d"/>
<circle cx="146.6" cy="120.8" r="1.4" fill="#d9515d"/>
<circle cx="155.9" cy="137.8" r="1.4" fill="#d9515d"/>
<circle cx="153.4" cy="137.7" r="1.4" fill="#d9515d"/>
<circle cx="145.8" cy="119.0" r="1.4" fill="#d9515d"/>
<circle cx="164.0" cy="160.7" r="1.4" fill="#d9515d"/>
<circle cx="160.9" cy="162.6" r="1.4" fill="#d9515d"/>
<circle cx="158.1" cy="124.2" r="1.4" fill="#d9515d"/>
<circle cx="168.1" cy="151.6" r="1.4" fill="#d9515d"/>
<circle cx="154.6" cy="128.6" r="1.4" fill="#d9515d"/>
<circle cx="149.1" cy="126.4" r="1.4" fill="#d9515d"/>
<circle cx="150.9" cy="139.7" r="1.4" fill="#d9515d"/>
<circle cx="161.2" cy="141.8" r="1.4" fill="#d9515d"/>
<circle cx="167.4" cy="121.4" r="1.4" fill="#d9515d"/>
<circle cx="165.7" cy="147.0" r="1.4" fill="#d9515d"/>
<circle cx="164.2" cy="141.3" r="1.4" fill="#d9515d"/>
<circle cx="160.4" cy="166.7" r="1.4" fill="#d9515d"/>
<circle cx="172.8" cy="138.0" r="1.4" fill="#d9515d"/>
<circle cx="153.8" cy="142.6" r="1.4" fill="#d9515d"/>
<circle cx="170.8" cy="126.6" r="1.4" fill="#d9515d"/>
<circle cx="147.2" cy="121.9" r="1.4" fill="#d9515d"/>
<circle cx="149.7" cy="140.8" r="1.4" fill="#d9515d"/>
<circle cx="156.7" cy="113.5" r="1.4" fill="#d9515d"/>
<circle cx="160.3" cy="186.4" r="1.4" fill="#d9515d"/>
<circle cx="167.4" cy="148.0" r="1.4" fill="#d9515d"/>
<circle cx="139.8" cy="114.3" r="1.4" fill="#d9515d"/>
<circle cx="161.8" cy="177.8" r="1.4" fill="#d9515d"/>
<circle cx="149.6" cy="117.5" r="1.4" fill="#d9515d"/>
<circle cx="164.4" cy="153.0" r="1.4" fill="#d9515d"/>
<circle cx="157.1" cy="115.5" r="1.4" fill="#d9515d"/>
<circle cx="165.0" cy="182.2" r="1.4" fill="#d9515d"/>
<circle cx="150.8" cy="142.6" r="1.4" fill="#d9515d"/>
<circle cx="153.9" cy="113.5" r="1.4" fill="#d9515d"/>
<circle cx="156.7" cy="118.1" r="1.4" fill="#d9515d"/>
<circle cx="141.1" cy="112.9" r="1.4" fill="#d9515d"/>
<circle cx="150.3" cy="144.8" r="1.4" fill="#d9515d"/>
<circle cx="170.5" cy="153.1" r="1.4" fill="#d9515d"/>
<circle cx="153.6" cy="113.0" r="1.4" fill="#d9515d"/>
<circle cx="161.4" cy="132.8" r="1.4" fill="#d9515d"/>
<circle cx="168.3" cy="128.1" r="1.4" fill="#d9515d"/>
<circle cx="149.6" cy="121.5" r="1.4" fill="#d9515d"/>
<circle cx="162.4" cy="182.6" r="1.4" fill="#d9515d"/>
<circle cx="146.3" cy="126.6" r="1.4" fill="#d9515d"/>
<circle cx="143.6" cy="125.4" r="1.4" fill="#d9515d"/>
<circle cx="146.5" cy="142.9" r="1.4" fill="#d9515d"/>
<circle cx="150.5" cy="126.7" r="1.4" fill="#d9515d"/>
<circle cx="153.4" cy="119.3" r="1.4" fill="#d9515d"/>
<circle cx="142.2" cy="115.9" r="1.4" fill="#d9515d"/>
<circle cx="168.4" cy="159.9" r="1.4" fill="#d9515d"/>
<circle cx="150.4" cy="138.9" r="1.4" fill="#d9515d"/>
<circle cx="155.9" cy="133.2" r="1.4" fill="#d9515d"/>
<circle cx="142.3" cy="121.2" r="1.4" fill="#d9515d"/>
<circle cx="144.0" cy="125.2" r="1.4" fill="#d9515d"/>
<circle cx="152.9" cy="114.4" r="1.4" fill="#d9515d"/>
<circle cx="157.5" cy="123.8" r="1.4" fill="#d9515d"/>
<circle cx="164.5" cy="143.1" r="1.4" fill="#d9515d"/>
<circle cx="144.3" cy="112.6" r="1.4" fill="#d9515d"/>
<circle cx="162.6" cy="136.5" r="1.4" fill="#d9515d"/>
<circle cx="150.5" cy="114.8" r="1.4" fill="#d9515d"/>
<circle cx="166.9" cy="126.7" r="1.4" fill="#d9515d"/>
<circle cx="169.3" cy="146.8" r="1.4" fill="#d9515d"/>
<circle cx="160.2" cy="125.1" r="1.4" fill="#d9515d"/>
<circle cx="170.4" cy="155.0" r="1.4" fill="#d9515d"/>
<circle cx="150.1" cy="122.6" r="1.4" fill="#d9515d"/>
<circle cx="168.2" cy="136.4" r="1.4" fill="#d9515d"/>
<circle cx="151.6" cy="127.6" r="1.4" fill="#d9515d"/>
<circle cx="159.3" cy="182.6" r="1.4" fill="#d9515d"/>
<circle cx="170.7" cy="152.1" r="1.4" fill="#d9515d"/>
<circle cx="163.6" cy="174.2" r="1.4" fill="#d9515d"/>
<circle cx="163.3" cy="144.6" r="1.4" fill="#d9515d"/>
<circle cx="154.1" cy="175.8" r="1.4" fill="#d9515d"/>
<circle cx="158.6" cy="182.4" r="1.4" fill="#5eaad2"/>
<circle cx="161.2" cy="190.3" r="1.4" fill="#5eaad2"/>
</g>
<text x="8.50" y="28.10" font-size="9" fill="#231a1c" stroke="#231a1c" stroke-width="0.15" font-weight="bold" textLength="11.40" lengthAdjust="spacingAndGlyphs" >D9</text>
<text x="30.00" y="57.50" font-size="9" fill="#231a1c" stroke="#231a1c" stroke-width="0.15" font-weight="bold" textLength="11.40" lengthAdjust="spacingAndGlyphs" >D6</text>
<text x="72.70" y="72.80" font-size="9" fill="#231a1c" stroke="#231a1c" stroke-width="0.15" font-weight="bold" textLength="11.40" lengthAdjust="spacingAndGlyphs" >D5</text>
<text x="15.00" y="93.90" font-size="9" fill="#231a1c" stroke="#231a1c" stroke-width="0.15" font-weight="bold" textLength="11.40" lengthAdjust="spacingAndGlyphs" >D7</text>
<text x="41.80" y="135.30" font-size="9" fill="#231a1c" stroke="#231a1c" stroke-width="0.15" font-weight="bold" textLength="11.40" lengthAdjust="spacingAndGlyphs" >D8</text>
<text x="118.70" y="78.60" font-size="9" fill="#231a1c" stroke="#231a1c" stroke-width="0.15" font-weight="bold" textLength="11.40" lengthAdjust="spacingAndGlyphs" >D3</text>
<text x="109.50" y="104.20" font-size="9" fill="#231a1c" stroke="#231a1c" stroke-width="0.15" font-weight="bold" textLength="11.40" lengthAdjust="spacingAndGlyphs" >D4</text>
<text x="148.00" y="84.40" font-size="9" fill="#231a1c" stroke="#231a1c" stroke-width="0.15" font-weight="bold" textLength="11.40" lengthAdjust="spacingAndGlyphs" >D1</text>
<text x="148.10" y="160.30" font-size="9" fill="#231a1c" stroke="#231a1c" stroke-width="0.15" font-weight="bold" textLength="11.40" lengthAdjust="spacingAndGlyphs" >D2</text>
<path d="M16.9 193.5 V158.5 M16.9 193.5 H52" stroke="#231a1c" stroke-width="1.25" fill="none"/>
<path d="M16.9 153.2 L14.3 159.3 L19.5 159.3 Z M57.3 193.5 L51.2 190.9 L51.2 196.1 Z" fill="#231a1c"/>
<text x="17.40" y="204.80" font-size="9.2" fill="#1f1a1c" stroke="#1f1a1c" stroke-width="0.15" textLength="33.70" lengthAdjust="spacingAndGlyphs" >UMAP 1</text>
<text x="12.60" y="193.20" font-size="9.2" fill="#1f1a1c" stroke="#1f1a1c" stroke-width="0.15" textLength="34.90" lengthAdjust="spacingAndGlyphs" transform="rotate(-90 12.60 193.20)" >UMAP 2</text>
<rect x="278.40" y="19.30" width="17.37" height="17.42" fill="#de8a93"/>
<rect x="295.77" y="19.30" width="17.37" height="17.42" fill="#ecb3ba"/>
<rect x="313.13" y="19.30" width="17.37" height="17.42" fill="#f7d9dc"/>
<rect x="330.50" y="19.30" width="17.37" height="17.42" fill="#f7d9dd"/>
<rect x="347.87" y="19.30" width="17.37" height="17.42" fill="#cfdde3"/>
<rect x="365.23" y="19.30" width="17.37" height="17.42" fill="#c9dce2"/>
<rect x="382.60" y="19.30" width="17.37" height="17.42" fill="#dfe7ea"/>
<rect x="399.97" y="19.30" width="17.37" height="17.42" fill="#cddde4"/>
<rect x="417.33" y="19.30" width="17.37" height="17.42" fill="#d5e1e7"/>
<rect x="278.40" y="36.72" width="17.37" height="17.42" fill="#ebb1b7"/>
<rect x="295.77" y="36.72" width="17.37" height="17.42" fill="#edbbc0"/>
<rect x="313.13" y="36.72" width="17.37" height="17.42" fill="#e49199"/>
<rect x="330.50" y="36.72" width="17.37" height="17.42" fill="#f8fbfa"/>
<rect x="347.87" y="36.72" width="17.37" height="17.42" fill="#e3ebee"/>
<rect x="365.23" y="36.72" width="17.37" height="17.42" fill="#c8dae1"/>
<rect x="382.60" y="36.72" width="17.37" height="17.42" fill="#dfe5ec"/>
<rect x="399.97" y="36.72" width="17.37" height="17.42" fill="#cddde3"/>
<rect x="417.33" y="36.72" width="17.37" height="17.42" fill="#d3e0e6"/>
<rect x="278.40" y="54.14" width="17.37" height="17.42" fill="#aecbd4"/>
<rect x="295.77" y="54.14" width="17.37" height="17.42" fill="#d6e2e7"/>
<rect x="313.13" y="54.14" width="17.37" height="17.42" fill="#f5f8fa"/>
<rect x="330.50" y="54.14" width="17.37" height="17.42" fill="#f7d9dd"/>
<rect x="347.87" y="54.14" width="17.37" height="17.42" fill="#dc6672"/>
<rect x="365.23" y="54.14" width="17.37" height="17.42" fill="#ffffff"/>
<rect x="382.60" y="54.14" width="17.37" height="17.42" fill="#fcf7f5"/>
<rect x="399.97" y="54.14" width="17.37" height="17.42" fill="#e5ecef"/>
<rect x="417.33" y="54.14" width="17.37" height="17.42" fill="#eef3f3"/>
<rect x="278.40" y="71.56" width="17.37" height="17.42" fill="#dbe5ea"/>
<rect x="295.77" y="71.56" width="17.37" height="17.42" fill="#e5edf0"/>
<rect x="313.13" y="71.56" width="17.37" height="17.42" fill="#dde5e7"/>
<rect x="330.50" y="71.56" width="17.37" height="17.42" fill="#d8e3e9"/>
<rect x="347.87" y="71.56" width="17.37" height="17.42" fill="#f8dde1"/>
<rect x="365.23" y="71.56" width="17.37" height="17.42" fill="#d45c66"/>
<rect x="382.60" y="71.56" width="17.37" height="17.42" fill="#fae4e7"/>
<rect x="399.97" y="71.56" width="17.37" height="17.42" fill="#e3ebee"/>
<rect x="417.33" y="71.56" width="17.37" height="17.42" fill="#e5ebed"/>
<rect x="278.40" y="88.98" width="17.37" height="17.42" fill="#d8e3e8"/>
<rect x="295.77" y="88.98" width="17.37" height="17.42" fill="#d9e4e9"/>
<rect x="313.13" y="88.98" width="17.37" height="17.42" fill="#dfe6ea"/>
<rect x="330.50" y="88.98" width="17.37" height="17.42" fill="#dae4e9"/>
<rect x="347.87" y="88.98" width="17.37" height="17.42" fill="#e6a2aa"/>
<rect x="365.23" y="88.98" width="17.37" height="17.42" fill="#edb4b9"/>
<rect x="382.60" y="88.98" width="17.37" height="17.42" fill="#e7a1a9"/>
<rect x="399.97" y="88.98" width="17.37" height="17.42" fill="#d7e2e7"/>
<rect x="417.33" y="88.98" width="17.37" height="17.42" fill="#dfe6e9"/>
<rect x="278.40" y="106.40" width="17.37" height="17.42" fill="#dfe6ea"/>
<rect x="295.77" y="106.40" width="17.37" height="17.42" fill="#f0f5f5"/>
<rect x="313.13" y="106.40" width="17.37" height="17.42" fill="#ffffff"/>
<rect x="330.50" y="106.40" width="17.37" height="17.42" fill="#b3cdd5"/>
<rect x="347.87" y="106.40" width="17.37" height="17.42" fill="#b7ccd5"/>
<rect x="365.23" y="106.40" width="17.37" height="17.42" fill="#fdf1f1"/>
<rect x="382.60" y="106.40" width="17.37" height="17.42" fill="#fbfbfa"/>
<rect x="399.97" y="106.40" width="17.37" height="17.42" fill="#e8a8af"/>
<rect x="417.33" y="106.40" width="17.37" height="17.42" fill="#df7f8a"/>
<rect x="278.40" y="123.82" width="17.37" height="17.42" fill="#a7c6cf"/>
<rect x="295.77" y="123.82" width="17.37" height="17.42" fill="#bed3da"/>
<rect x="313.13" y="123.82" width="17.37" height="17.42" fill="#edb6bb"/>
<rect x="330.50" y="123.82" width="17.37" height="17.42" fill="#e6959e"/>
<rect x="347.87" y="123.82" width="17.37" height="17.42" fill="#edb3b9"/>
<rect x="365.23" y="123.82" width="17.37" height="17.42" fill="#e8eef1"/>
<rect x="382.60" y="123.82" width="17.37" height="17.42" fill="#f4f7f7"/>
<rect x="399.97" y="123.82" width="17.37" height="17.42" fill="#fdfdfd"/>
<rect x="417.33" y="123.82" width="17.37" height="17.42" fill="#e0e8eb"/>
<rect x="278.40" y="141.24" width="17.37" height="17.42" fill="#c5d7de"/>
<rect x="295.77" y="141.24" width="17.37" height="17.42" fill="#e8eff1"/>
<rect x="313.13" y="141.24" width="17.37" height="17.42" fill="#f3c5ca"/>
<rect x="330.50" y="141.24" width="17.37" height="17.42" fill="#f5d2d6"/>
<rect x="347.87" y="141.24" width="17.37" height="17.42" fill="#e4919a"/>
<rect x="365.23" y="141.24" width="17.37" height="17.42" fill="#f1f6f7"/>
<rect x="382.60" y="141.24" width="17.37" height="17.42" fill="#f2c7cb"/>
<rect x="399.97" y="141.24" width="17.37" height="17.42" fill="#c9dbe1"/>
<rect x="417.33" y="141.24" width="17.37" height="17.42" fill="#acc8d0"/>
<rect x="278.40" y="158.66" width="17.37" height="17.42" fill="#bdd3da"/>
<rect x="295.77" y="158.66" width="17.37" height="17.42" fill="#c4d6dd"/>
<rect x="313.13" y="158.66" width="17.37" height="17.42" fill="#c3d6dd"/>
<rect x="330.50" y="158.66" width="17.37" height="17.42" fill="#e7eef1"/>
<rect x="347.87" y="158.66" width="17.37" height="17.42" fill="#efb7bd"/>
<rect x="365.23" y="158.66" width="17.37" height="17.42" fill="#e07d87"/>
<rect x="382.60" y="158.66" width="17.37" height="17.42" fill="#fff8fa"/>
<rect x="399.97" y="158.66" width="17.37" height="17.42" fill="#fbe2e5"/>
<rect x="417.33" y="158.66" width="17.37" height="17.42" fill="#f8dde0"/>
<rect x="278.40" y="176.08" width="17.37" height="17.42" fill="#b2cbd3"/>
<rect x="295.77" y="176.08" width="17.37" height="17.42" fill="#c7d9df"/>
<rect x="313.13" y="176.08" width="17.37" height="17.42" fill="#c8d9df"/>
<rect x="330.50" y="176.08" width="17.37" height="17.42" fill="#e4ecef"/>
<rect x="347.87" y="176.08" width="17.37" height="17.42" fill="#ffffff"/>
<rect x="365.23" y="176.08" width="17.37" height="17.42" fill="#fbe7e9"/>
<rect x="382.60" y="176.08" width="17.37" height="17.42" fill="#fbebec"/>
<rect x="399.97" y="176.08" width="17.37" height="17.42" fill="#e3929b"/>
<rect x="417.33" y="176.08" width="17.37" height="17.42" fill="#e69fa7"/>
<path d="M278.40 18.70V194.10M295.77 18.70V194.10M313.13 18.70V194.10M330.50 18.70V194.10M347.87 18.70V194.10M365.23 18.70V194.10M382.60 18.70V194.10M399.97 18.70V194.10M417.33 18.70V194.10M434.70 18.70V194.10M277.80 19.30H435.30M277.80 36.72H435.30M277.80 54.14H435.30M277.80 71.56H435.30M277.80 88.98H435.30M277.80 106.40H435.30M277.80 123.82H435.30M277.80 141.24H435.30M277.80 158.66H435.30M277.80 176.08H435.30M277.80 193.50H435.30" stroke="#141414" stroke-width="1.3" fill="none"/>
<text x="276.60" y="31.11" font-size="9.6" fill="#1f1a1c" stroke="#1f1a1c" stroke-width="0.15" text-anchor="end" >RGC</text>
<text x="276.60" y="48.53" font-size="9.6" fill="#1f1a1c" stroke="#1f1a1c" stroke-width="0.15" text-anchor="end" >AC</text>
<text x="276.60" y="65.95" font-size="9.6" fill="#1f1a1c" stroke="#1f1a1c" stroke-width="0.15" text-anchor="end" >HC</text>
<text x="276.60" y="83.37" font-size="9.6" fill="#1f1a1c" stroke="#1f1a1c" stroke-width="0.15" text-anchor="end" >Cone</text>
<text x="276.60" y="100.79" font-size="9.6" fill="#1f1a1c" stroke="#1f1a1c" stroke-width="0.15" text-anchor="end" >Rod</text>
<text x="276.60" y="118.21" font-size="9.6" fill="#1f1a1c" stroke="#1f1a1c" stroke-width="0.15" text-anchor="end" >BC</text>
<text x="276.60" y="135.63" font-size="9.6" fill="#1f1a1c" stroke="#1f1a1c" stroke-width="0.15" text-anchor="end" >AC−HC Precur</text>
<text x="276.60" y="153.05" font-size="9.6" fill="#1f1a1c" stroke="#1f1a1c" stroke-width="0.15" text-anchor="end" >Neurogenic</text>
<text x="276.60" y="170.47" font-size="9.6" fill="#1f1a1c" stroke="#1f1a1c" stroke-width="0.15" text-anchor="end" >BC−Photo Precur</text>
<text x="276.60" y="187.89" font-size="9.6" fill="#1f1a1c" stroke="#1f1a1c" stroke-width="0.15" text-anchor="end" >RPC</text>
<text x="287.08" y="202.90" font-size="9.7" fill="#1f1a1c" stroke="#1f1a1c" stroke-width="0.15" text-anchor="middle" >D1</text>
<text x="304.45" y="202.90" font-size="9.7" fill="#1f1a1c" stroke="#1f1a1c" stroke-width="0.15" text-anchor="middle" >D2</text>
<text x="321.82" y="202.90" font-size="9.7" fill="#1f1a1c" stroke="#1f1a1c" stroke-width="0.15" text-anchor="middle" >D3</text>
<text x="339.18" y="202.90" font-size="9.7" fill="#1f1a1c" stroke="#1f1a1c" stroke-width="0.15" text-anchor="middle" >D4</text>
<text x="356.55" y="202.90" font-size="9.7" fill="#1f1a1c" stroke="#1f1a1c" stroke-width="0.15" text-anchor="middle" >D5</text>
<text x="373.92" y="202.90" font-size="9.7" fill="#1f1a1c" stroke="#1f1a1c" stroke-width="0.15" text-anchor="middle" >D6</text>
<text x="391.28" y="202.90" font-size="9.7" fill="#1f1a1c" stroke="#1f1a1c" stroke-width="0.15" text-anchor="middle" >D7</text>
<text x="408.65" y="202.90" font-size="9.7" fill="#1f1a1c" stroke="#1f1a1c" stroke-width="0.15" text-anchor="middle" >D8</text>
<text x="426.02" y="202.90" font-size="9.7" fill="#1f1a1c" stroke="#1f1a1c" stroke-width="0.15" text-anchor="middle" >D9</text>
<text x="356.55" y="215.80" font-size="9.7" fill="#1f1a1c" stroke="#1f1a1c" stroke-width="0.15" text-anchor="middle" >Domain</text>
<text x="207.40" y="99.60" font-size="9.6" fill="#1f1a1c" stroke="#1f1a1c" stroke-width="0.15" text-anchor="middle" transform="rotate(-90 207.40 99.60)" >Cell type</text>
<defs><linearGradient id="cb" x1="0" y1="0" x2="0" y2="1"><stop offset="0" stop-color="#d2434f"/><stop offset="0.5" stop-color="#ffffff"/><stop offset="1" stop-color="#57899b"/></linearGradient></defs>
<rect x="439.4" y="85.3" width="6.5" height="69.5" fill="url(#cb)"/>
<text x="439.70" y="64.10" font-size="9.6" fill="#1f1a1c" stroke="#1f1a1c" stroke-width="0.15" textLength="48.50" lengthAdjust="spacingAndGlyphs" >Normalized</text>
<text x="439.70" y="75.20" font-size="9.6" fill="#1f1a1c" stroke="#1f1a1c" stroke-width="0.15" >proportion</text>
<text x="448.20" y="88.20" font-size="9.8" fill="#1f1a1c" stroke="#1f1a1c" stroke-width="0.15" >3</text>
<text x="448.20" y="99.70" font-size="9.8" fill="#1f1a1c" stroke="#1f1a1c" stroke-width="0.15" >2</text>
<text x="448.20" y="111.20" font-size="9.8" fill="#1f1a1c" stroke="#1f1a1c" stroke-width="0.15" >1</text>
<text x="448.20" y="122.70" font-size="9.8" fill="#1f1a1c" stroke="#1f1a1c" stroke-width="0.15" >0</text>
<text x="448.20" y="134.20" font-size="9.8" fill="#1f1a1c" stroke="#1f1a1c" stroke-width="0.15" >−1</text>
<text x="448.20" y="145.70" font-size="9.8" fill="#1f1a1c" stroke="#1f1a1c" stroke-width="0.15" >−2</text>
<text x="448.20" y="157.20" font-size="9.8" fill="#1f1a1c" stroke="#1f1a1c" stroke-width="0.15" >−3</text>
<rect x="549.40" y="19.10" width="132.40" height="12.50" fill="#d9d9d9" stroke="#444" stroke-width="0.9"/>
<path d="M549.40 31.60H681.80" stroke="#555" stroke-width="1.5"/>
<text x="615.60" y="28.75" font-size="9.6" fill="#1a1a1a" stroke="#1a1a1a" stroke-width="0.15" text-anchor="middle" >Radial layer</text>
<path d="M549.40 71.80H681.80M549.40 87.00H681.80" stroke="#f0f0f0" stroke-width="0.6" fill="none"/>
<path d="M549.40 34.00H681.80M549.40 41.40H681.80M549.40 49.00H681.80M549.40 56.70H681.80M549.40 64.40H681.80M549.40 79.20H681.80M549.40 94.80H681.80M558.03 31.60V97.20M572.43 31.60V97.20M586.82 31.60V97.20M601.21 31.60V97.20M615.60 31.60V97.20M629.99 31.60V97.20M644.38 31.60V97.20M658.77 31.60V97.20M673.17 31.60V97.20" stroke="#e6e6e6" stroke-width="0.9" fill="none"/>
<path d="M558.03 34.00V37.60M558.03 45.50V56.70" stroke="#6b6b6b" stroke-width="0.8"/>
<rect x="552.43" y="37.60" width="11.20" height="7.90" fill="#5eaad2" fill-opacity="0.92" stroke="#5a5a5a" stroke-width="0.5"/>
<path d="M552.43 41.50H563.63" stroke="#3a3a3a" stroke-width="1.0" stroke-opacity="0.8"/>
<path d="M572.43 34.00V43.30M572.43 56.50V75.10" stroke="#6b6b6b" stroke-width="0.8"/>
<rect x="566.83" y="43.30" width="11.20" height="13.20" fill="#6383b0" fill-opacity="0.92" stroke="#5a5a5a" stroke-width="0.5"/>
<path d="M566.83 50.40H578.03" stroke="#3a3a3a" stroke-width="1.0" stroke-opacity="0.8"/>
<path d="M586.82 34.00V45.00M586.82 58.40V75.10" stroke="#6b6b6b" stroke-width="0.8"/>
<rect x="581.22" y="45.00" width="11.20" height="13.40" fill="#8a5f9b" fill-opacity="0.92" stroke="#5a5a5a" stroke-width="0.5"/>
<path d="M581.22 51.20H592.42" stroke="#3a3a3a" stroke-width="1.0" stroke-opacity="0.8"/>
<path d="M601.21 34.00V37.30M601.21 62.80V95.00" stroke="#6b6b6b" stroke-width="0.8"/>
<rect x="595.61" y="37.30" width="11.20" height="25.50" fill="#5757a5" fill-opacity="0.92" stroke="#5a5a5a" stroke-width="0.5"/>
<path d="M595.61 51.30H606.81" stroke="#3a3a3a" stroke-width="1.0" stroke-opacity="0.8"/>
<path d="M615.60 34.70V51.20M615.60 66.40V80.50" stroke="#6b6b6b" stroke-width="0.8"/>
<rect x="610.00" y="51.20" width="11.20" height="15.20" fill="#3a3867" fill-opacity="0.92" stroke="#5a5a5a" stroke-width="0.5"/>
<path d="M610.00 58.80H621.20" stroke="#3a3a3a" stroke-width="1.0" stroke-opacity="0.8"/>
<path d="M629.99 53.60V66.00M629.99 74.70V87.80" stroke="#6b6b6b" stroke-width="0.8"/>
<rect x="624.39" y="66.00" width="11.20" height="8.70" fill="#f2a6ad" fill-opacity="0.92" stroke="#5a5a5a" stroke-width="0.5"/>
<path d="M624.39 69.30H635.59" stroke="#3a3a3a" stroke-width="1.0" stroke-opacity="0.8"/>
<path d="M644.38 36.90V59.20M644.38 84.20V94.40" stroke="#6b6b6b" stroke-width="0.8"/>
<rect x="638.78" y="59.20" width="11.20" height="25.00" fill="#d9c5e2" fill-opacity="0.92" stroke="#5a5a5a" stroke-width="0.5"/>
<path d="M638.78 71.40H649.98" stroke="#3a3a3a" stroke-width="1.0" stroke-opacity="0.8"/>
<path d="M658.77 34.70V60.90M658.77 89.00V94.40" stroke="#6b6b6b" stroke-width="0.8"/>
<rect x="653.17" y="60.90" width="11.20" height="28.10" fill="#d9515d" fill-opacity="0.92" stroke="#5a5a5a" stroke-width="0.5"/>
<path d="M653.17 77.20H664.37" stroke="#3a3a3a" stroke-width="1.0" stroke-opacity="0.8"/>
<path d="M673.17 59.50V73.00M673.17 82.70V94.40" stroke="#6b6b6b" stroke-width="0.8"/>
<rect x="667.57" y="73.00" width="11.20" height="9.70" fill="#a51d2d" fill-opacity="0.92" stroke="#5a5a5a" stroke-width="0.5"/>
<path d="M667.57 77.60H678.77" stroke="#3a3a3a" stroke-width="1.0" stroke-opacity="0.8"/>
<path d="M549.40 31.60V97.20H681.80" stroke="#4d4d4d" stroke-width="1.1" fill="none"/>
<path d="M558.03 97.20v2M572.43 97.20v2M586.82 97.20v2M601.21 97.20v2M615.60 97.20v2M629.99 97.20v2M644.38 97.20v2M658.77 97.20v2M673.17 97.20v2M549.40 34.00h-2M549.40 41.40h-2M549.40 49.00h-2M549.40 56.70h-2M549.40 64.40h-2M549.40 79.20h-2M549.40 94.80h-2" stroke="#4d4d4d" stroke-width="0.9" fill="none"/>
<text x="546.20" y="41.10" font-size="9.9" fill="#1f1a1c" stroke="#1f1a1c" stroke-width="0.15" text-anchor="end" >NBL 1/4</text>
<text x="546.20" y="48.70" font-size="9.9" fill="#1f1a1c" stroke="#1f1a1c" stroke-width="0.15" text-anchor="end" >NBL 2/4</text>
<text x="546.20" y="56.40" font-size="9.9" fill="#1f1a1c" stroke="#1f1a1c" stroke-width="0.15" text-anchor="end" >NBL 3/4</text>
<text x="546.20" y="64.10" font-size="9.9" fill="#1f1a1c" stroke="#1f1a1c" stroke-width="0.15" text-anchor="end" >NBL 4/4</text>
<text x="546.20" y="75.90" font-size="9.9" fill="#1f1a1c" stroke="#1f1a1c" stroke-width="0.15" text-anchor="end" >GCL 1/2</text>
<text x="546.20" y="90.90" font-size="9.9" fill="#1f1a1c" stroke="#1f1a1c" stroke-width="0.15" text-anchor="end" >GCL 2/2</text>
<text x="558.03" y="108.50" font-size="9.6" fill="#1f1a1c" stroke="#1f1a1c" stroke-width="0.15" text-anchor="middle" >D6</text>
<text x="572.43" y="108.50" font-size="9.6" fill="#1f1a1c" stroke="#1f1a1c" stroke-width="0.15" text-anchor="middle" >D7</text>
<text x="586.82" y="108.50" font-size="9.6" fill="#1f1a1c" stroke="#1f1a1c" stroke-width="0.15" text-anchor="middle" >D5</text>
<text x="601.21" y="108.50" font-size="9.6" fill="#1f1a1c" stroke="#1f1a1c" stroke-width="0.15" text-anchor="middle" >D8</text>
<text x="615.60" y="108.50" font-size="9.6" fill="#1f1a1c" stroke="#1f1a1c" stroke-width="0.15" text-anchor="middle" >D9</text>
<text x="629.99" y="108.50" font-size="9.6" fill="#1f1a1c" stroke="#1f1a1c" stroke-width="0.15" text-anchor="middle" >D3</text>
<text x="644.38" y="108.50" font-size="9.6" fill="#1f1a1c" stroke="#1f1a1c" stroke-width="0.15" text-anchor="middle" >D4</text>
<text x="658.77" y="108.50" font-size="9.6" fill="#1f1a1c" stroke="#1f1a1c" stroke-width="0.15" text-anchor="middle" >D2</text>
<text x="673.17" y="108.50" font-size="9.6" fill="#1f1a1c" stroke="#1f1a1c" stroke-width="0.15" text-anchor="middle" >D1</text>
<rect x="549.40" y="114.40" width="132.40" height="12.30" fill="#d9d9d9" stroke="#444" stroke-width="0.9"/>
<path d="M549.40 126.70H681.80" stroke="#555" stroke-width="1.5"/>
<text x="615.60" y="123.95" font-size="9.6" fill="#1a1a1a" stroke="#1a1a1a" stroke-width="0.15" text-anchor="middle" >Tangential angle (absolute)</text>
<path d="M549.40 139.40H681.80M549.40 159.60H681.80M549.40 179.80H681.80" stroke="#f0f0f0" stroke-width="0.6" fill="none"/>
<path d="M549.40 129.30H681.80M549.40 149.50H681.80M549.40 169.70H681.80M549.40 189.90H681.80M558.03 126.70V191.80M572.43 126.70V191.80M586.82 126.70V191.80M601.21 126.70V191.80M615.60 126.70V191.80M629.99 126.70V191.80M644.38 126.70V191.80M658.77 126.70V191.80M673.17 126.70V191.80" stroke="#e6e6e6" stroke-width="0.9" fill="none"/>
<path d="M558.03 127.50V130.10M558.03 133.90V138.00" stroke="#6b6b6b" stroke-width="0.8"/>
<rect x="552.43" y="130.10" width="11.20" height="3.80" fill="#5757a5" fill-opacity="0.92" stroke="#5a5a5a" stroke-width="0.5"/>
<path d="M552.43 132.00H563.63" stroke="#3a3a3a" stroke-width="1.0" stroke-opacity="0.8"/>
<path d="M572.43 130.10V134.20M572.43 141.50V149.70" stroke="#6b6b6b" stroke-width="0.8"/>
<rect x="566.83" y="134.20" width="11.20" height="7.30" fill="#d9c5e2" fill-opacity="0.92" stroke="#5a5a5a" stroke-width="0.5"/>
<path d="M566.83 137.40H578.03" stroke="#3a3a3a" stroke-width="1.0" stroke-opacity="0.8"/>
<path d="M586.82 132.70V146.20M586.82 174.20V190.70" stroke="#6b6b6b" stroke-width="0.8"/>
<rect x="581.22" y="146.20" width="11.20" height="28.00" fill="#f2a6ad" fill-opacity="0.92" stroke="#5a5a5a" stroke-width="0.5"/>
<path d="M581.22 158.20H592.42" stroke="#3a3a3a" stroke-width="1.0" stroke-opacity="0.8"/>
<path d="M601.21 131.60V146.20M601.21 178.00V190.50" stroke="#6b6b6b" stroke-width="0.8"/>
<rect x="595.61" y="146.20" width="11.20" height="31.80" fill="#6383b0" fill-opacity="0.92" stroke="#5a5a5a" stroke-width="0.5"/>
<path d="M595.61 158.20H606.81" stroke="#3a3a3a" stroke-width="1.0" stroke-opacity="0.8"/>
<path d="M615.60 132.00V150.30M615.60 176.90V190.50" stroke="#6b6b6b" stroke-width="0.8"/>
<rect x="610.00" y="150.30" width="11.20" height="26.60" fill="#8a5f9b" fill-opacity="0.92" stroke="#5a5a5a" stroke-width="0.5"/>
<path d="M610.00 164.30H621.20" stroke="#3a3a3a" stroke-width="1.0" stroke-opacity="0.8"/>
<path d="M629.99 133.60V153.40M629.99 175.20V190.50" stroke="#6b6b6b" stroke-width="0.8"/>
<rect x="624.39" y="153.40" width="11.20" height="21.80" fill="#d9515d" fill-opacity="0.92" stroke="#5a5a5a" stroke-width="0.5"/>
<path d="M624.39 165.30H635.59" stroke="#3a3a3a" stroke-width="1.0" stroke-opacity="0.8"/>
<path d="M644.38 132.00V154.90M644.38 179.00V190.50" stroke="#6b6b6b" stroke-width="0.8"/>
<rect x="638.78" y="154.90" width="11.20" height="24.10" fill="#5eaad2" fill-opacity="0.92" stroke="#5a5a5a" stroke-width="0.5"/>
<path d="M638.78 165.30H649.98" stroke="#3a3a3a" stroke-width="1.0" stroke-opacity="0.8"/>
<path d="M658.77 135.00V154.90M658.77 180.50V190.50" stroke="#6b6b6b" stroke-width="0.8"/>
<rect x="653.17" y="154.90" width="11.20" height="25.60" fill="#a51d2d" fill-opacity="0.92" stroke="#5a5a5a" stroke-width="0.5"/>
<path d="M653.17 168.50H664.37" stroke="#3a3a3a" stroke-width="1.0" stroke-opacity="0.8"/>
<path d="M673.17 188.60V188.70M673.17 189.70V189.80" stroke="#6b6b6b" stroke-width="0.8"/>
<rect x="667.57" y="188.70" width="11.20" height="1.00" fill="#3a3867" fill-opacity="0.92" stroke="#5a5a5a" stroke-width="0.5"/>
<path d="M667.57 189.20H678.77" stroke="#3a3a3a" stroke-width="1.0" stroke-opacity="0.8"/>
<path d="M549.40 126.70V191.80H681.80" stroke="#4d4d4d" stroke-width="1.1" fill="none"/>
<path d="M558.03 191.80v2M572.43 191.80v2M586.82 191.80v2M601.21 191.80v2M615.60 191.80v2M629.99 191.80v2M644.38 191.80v2M658.77 191.80v2M673.17 191.80v2M549.40 129.30h-2M549.40 149.50h-2M549.40 169.70h-2M549.40 189.90h-2" stroke="#4d4d4d" stroke-width="0.9" fill="none"/>
<text x="546.20" y="131.90" font-size="10.1" fill="#1f1a1c" stroke="#1f1a1c" stroke-width="0.15" text-anchor="end" >135°</text>
<text x="546.20" y="152.10" font-size="10.1" fill="#1f1a1c" stroke="#1f1a1c" stroke-width="0.15" text-anchor="end" >90°</text>
<text x="546.20" y="172.30" font-size="10.1" fill="#1f1a1c" stroke="#1f1a1c" stroke-width="0.15" text-anchor="end" >45°</text>
<text x="546.20" y="192.50" font-size="10.1" fill="#1f1a1c" stroke="#1f1a1c" stroke-width="0.15" text-anchor="end" >0°</text>
<text x="558.03" y="203.40" font-size="9.6" fill="#1f1a1c" stroke="#1f1a1c" stroke-width="0.15" text-anchor="middle" >D8</text>
<text x="572.43" y="203.40" font-size="9.6" fill="#1f1a1c" stroke="#1f1a1c" stroke-width="0.15" text-anchor="middle" >D4</text>
<text x="586.82" y="203.40" font-size="9.6" fill="#1f1a1c" stroke="#1f1a1c" stroke-width="0.15" text-anchor="middle" >D3</text>
<text x="601.21" y="203.40" font-size="9.6" fill="#1f1a1c" stroke="#1f1a1c" stroke-width="0.15" text-anchor="middle" >D7</text>
<text x="615.60" y="203.40" font-size="9.6" fill="#1f1a1c" stroke="#1f1a1c" stroke-width="0.15" text-anchor="middle" >D5</text>
<text x="629.99" y="203.40" font-size="9.6" fill="#1f1a1c" stroke="#1f1a1c" stroke-width="0.15" text-anchor="middle" >D2</text>
<text x="644.38" y="203.40" font-size="9.6" fill="#1f1a1c" stroke="#1f1a1c" stroke-width="0.15" text-anchor="middle" >D6</text>
<text x="658.77" y="203.40" font-size="9.6" fill="#1f1a1c" stroke="#1f1a1c" stroke-width="0.15" text-anchor="middle" >D1</text>
<text x="673.17" y="203.40" font-size="9.6" fill="#1f1a1c" stroke="#1f1a1c" stroke-width="0.15" text-anchor="middle" >D9</text>
<text x="615.60" y="216.30" font-size="9.6" fill="#1f1a1c" stroke="#1f1a1c" stroke-width="0.15" text-anchor="middle" >Domain</text>
<text x="515.60" y="157.00" font-size="9.9" fill="#1f1a1c" stroke="#1f1a1c" stroke-width="0.15" text-anchor="middle" transform="rotate(-90 515.60 157.00)" >Angle</text>
<rect x="387.20" y="258.60" width="297.30" height="14.70" fill="#d9d9d9" stroke="#444" stroke-width="0.9"/>
<path d="M387.20 273.30H684.50" stroke="#555" stroke-width="1.5"/>
<text x="535.85" y="269.35" font-size="9.8" fill="#3a9f80" stroke="#3a9f80" stroke-width="0.15" text-anchor="middle" >M1 - Axonogenesis</text>
<path d="M387.20 293.95H685.50M387.20 320.45H685.50" stroke="#f0f0f0" stroke-width="0.6" fill="none"/>
<path d="M387.20 280.70H685.50M387.20 307.20H685.50M387.20 333.70H685.50M406.40 273.30V341.70M438.80 273.30V341.70M471.20 273.30V341.70M503.60 273.30V341.70M536.00 273.30V341.70M568.40 273.30V341.70M600.80 273.30V341.70M633.20 273.30V341.70M665.60 273.30V341.70" stroke="#e6e6e6" stroke-width="0.9" fill="none"/>
<path d="M406.40 278.30V283.10M406.40 288.60V296.30" stroke="#a51d2d" stroke-width="0.85"/>
<rect x="394.20" y="283.10" width="24.40" height="5.50" fill="#ffffff" stroke="#a51d2d" stroke-width="0.85"/>
<path d="M394.20 286.00H418.60" stroke="#a51d2d" stroke-width="1.45"/>
<path d="M438.80 283.60V289.30M438.80 298.00V309.40" stroke="#f2a6ad" stroke-width="0.85"/>
<rect x="426.60" y="289.30" width="24.40" height="8.70" fill="#ffffff" stroke="#f2a6ad" stroke-width="0.85"/>
<path d="M426.60 293.00H451.00" stroke="#f2a6ad" stroke-width="1.45"/>
<path d="M471.20 274.50V285.30M471.20 309.40V330.20" stroke="#d9c5e2" stroke-width="0.85"/>
<rect x="459.00" y="285.30" width="24.40" height="24.10" fill="#ffffff" stroke="#d9c5e2" stroke-width="0.85"/>
<path d="M459.00 294.50H483.40" stroke="#d9c5e2" stroke-width="1.45"/>
<path d="M503.60 279.90V295.20M503.60 305.50V319.90" stroke="#d9515d" stroke-width="0.85"/>
<rect x="491.40" y="295.20" width="24.40" height="10.30" fill="#ffffff" stroke="#d9515d" stroke-width="0.85"/>
<path d="M491.40 299.60H515.80" stroke="#d9515d" stroke-width="1.45"/>
<path d="M536.00 298.40V313.40M536.00 324.40V333.10" stroke="#8a5f9b" stroke-width="0.85"/>
<rect x="523.80" y="313.40" width="24.40" height="11.00" fill="#ffffff" stroke="#8a5f9b" stroke-width="0.85"/>
<path d="M523.80 320.10H548.20" stroke="#8a5f9b" stroke-width="1.45"/>
<path d="M568.40 316.20V320.30M568.40 326.10V328.50" stroke="#3a3867" stroke-width="0.85"/>
<rect x="556.20" y="320.30" width="24.40" height="5.80" fill="#ffffff" stroke="#3a3867" stroke-width="0.85"/>
<path d="M556.20 325.40H580.60" stroke="#3a3867" stroke-width="1.45"/>
<path d="M600.80 315.30V323.00M600.80 328.50V335.50" stroke="#5eaad2" stroke-width="0.85"/>
<rect x="588.60" y="323.00" width="24.40" height="5.50" fill="#ffffff" stroke="#5eaad2" stroke-width="0.85"/>
<path d="M588.60 325.90H613.00" stroke="#5eaad2" stroke-width="1.45"/>
<path d="M633.20 315.00V323.20M633.20 329.50V335.00" stroke="#5757a5" stroke-width="0.85"/>
<rect x="621.00" y="323.20" width="24.40" height="6.30" fill="#ffffff" stroke="#5757a5" stroke-width="0.85"/>
<path d="M621.00 326.60H645.40" stroke="#5757a5" stroke-width="1.45"/>
<path d="M665.60 304.40V319.90M665.60 333.10V338.60" stroke="#6383b0" stroke-width="0.85"/>
<rect x="653.40" y="319.90" width="24.40" height="13.20" fill="#ffffff" stroke="#6383b0" stroke-width="0.85"/>
<path d="M653.40 329.00H677.80" stroke="#6383b0" stroke-width="1.45"/>
<path d="M387.20 273.30V341.70H685.50" stroke="#4d4d4d" stroke-width="1.1" fill="none"/>
<path d="M406.40 341.70v2M438.80 341.70v2M471.20 341.70v2M503.60 341.70v2M536.00 341.70v2M568.40 341.70v2M600.80 341.70v2M633.20 341.70v2M665.60 341.70v2M387.20 280.70h-2M387.20 307.20h-2M387.20 333.70h-2" stroke="#4d4d4d" stroke-width="0.9" fill="none"/>
<text x="383.20" y="283.80" font-size="9.8" fill="#1f1a1c" stroke="#1f1a1c" stroke-width="0.15" text-anchor="end" >0.04</text>
<text x="383.20" y="310.30" font-size="9.8" fill="#1f1a1c" stroke="#1f1a1c" stroke-width="0.15" text-anchor="end" >0.00</text>
<text x="383.20" y="336.80" font-size="9.8" fill="#1f1a1c" stroke="#1f1a1c" stroke-width="0.15" text-anchor="end" >−0.04</text>
<text x="406.40" y="353.80" font-size="9.6" fill="#1f1a1c" stroke="#1f1a1c" stroke-width="0.15" text-anchor="middle" >D1</text>
<text x="438.80" y="353.80" font-size="9.6" fill="#1f1a1c" stroke="#1f1a1c" stroke-width="0.15" text-anchor="middle" >D3</text>
<text x="471.20" y="353.80" font-size="9.6" fill="#1f1a1c" stroke="#1f1a1c" stroke-width="0.15" text-anchor="middle" >D4</text>
<text x="503.60" y="353.80" font-size="9.6" fill="#1f1a1c" stroke="#1f1a1c" stroke-width="0.15" text-anchor="middle" >D2</text>
<text x="536.00" y="353.80" font-size="9.6" fill="#1f1a1c" stroke="#1f1a1c" stroke-width="0.15" text-anchor="middle" >D5</text>
<text x="568.40" y="353.80" font-size="9.6" fill="#1f1a1c" stroke="#1f1a1c" stroke-width="0.15" text-anchor="middle" >D9</text>
<text x="600.80" y="353.80" font-size="9.6" fill="#1f1a1c" stroke="#1f1a1c" stroke-width="0.15" text-anchor="middle" >D6</text>
<text x="633.20" y="353.80" font-size="9.6" fill="#1f1a1c" stroke="#1f1a1c" stroke-width="0.15" text-anchor="middle" >D8</text>
<text x="665.60" y="353.80" font-size="9.6" fill="#1f1a1c" stroke="#1f1a1c" stroke-width="0.15" text-anchor="middle" >D7</text>
<rect x="387.20" y="364.20" width="297.30" height="14.70" fill="#d9d9d9" stroke="#444" stroke-width="0.9"/>
<path d="M387.20 378.90H684.50" stroke="#555" stroke-width="1.5"/>
<text x="535.85" y="374.95" font-size="9.8" fill="#c75a1f" stroke="#c75a1f" stroke-width="0.15" text-anchor="middle" >M2 - Extracellular matrix organization</text>
<path d="M387.20 397.40H685.50M387.20 418.55H685.50M387.20 439.70H685.50" stroke="#f0f0f0" stroke-width="0.6" fill="none"/>
<path d="M387.20 386.70H685.50M387.20 408.10H685.50M387.20 429.00H685.50M406.40 378.90V447.00M438.80 378.90V447.00M471.20 378.90V447.00M503.60 378.90V447.00M536.00 378.90V447.00M568.40 378.90V447.00M600.80 378.90V447.00M633.20 378.90V447.00M665.60 378.90V447.00" stroke="#e6e6e6" stroke-width="0.9" fill="none"/>
<path d="M406.40 382.00V396.50M406.40 409.40V426.00" stroke="#5eaad2" stroke-width="0.85"/>
<rect x="394.20" y="396.50" width="24.40" height="12.90" fill="#ffffff" stroke="#5eaad2" stroke-width="0.85"/>
<path d="M394.20 403.00H418.60" stroke="#5eaad2" stroke-width="1.45"/>
<path d="M438.80 393.20V408.30M438.80 424.30V430.80" stroke="#3a3867" stroke-width="0.85"/>
<rect x="426.60" y="408.30" width="24.40" height="16.00" fill="#ffffff" stroke="#3a3867" stroke-width="0.85"/>
<path d="M426.60 414.90H451.00" stroke="#3a3867" stroke-width="1.45"/>
<path d="M471.20 399.70V410.70M471.20 426.70V437.40" stroke="#5757a5" stroke-width="0.85"/>
<rect x="459.00" y="410.70" width="24.40" height="16.00" fill="#ffffff" stroke="#5757a5" stroke-width="0.85"/>
<path d="M459.00 418.10H483.40" stroke="#5757a5" stroke-width="1.45"/>
<path d="M503.60 409.60V422.10M503.60 439.60V444.60" stroke="#6383b0" stroke-width="0.85"/>
<rect x="491.40" y="422.10" width="24.40" height="17.50" fill="#ffffff" stroke="#6383b0" stroke-width="0.85"/>
<path d="M491.40 431.30H515.80" stroke="#6383b0" stroke-width="1.45"/>
<path d="M536.00 396.70V421.20M536.00 438.30V442.40" stroke="#8a5f9b" stroke-width="0.85"/>
<rect x="523.80" y="421.20" width="24.40" height="17.10" fill="#ffffff" stroke="#8a5f9b" stroke-width="0.85"/>
<path d="M523.80 433.30H548.20" stroke="#8a5f9b" stroke-width="1.45"/>
<path d="M568.40 412.80V427.30M568.40 437.60V441.50" stroke="#d9515d" stroke-width="0.85"/>
<rect x="556.20" y="427.30" width="24.40" height="10.30" fill="#ffffff" stroke="#d9515d" stroke-width="0.85"/>
<path d="M556.20 434.20H580.60" stroke="#d9515d" stroke-width="1.45"/>
<path d="M600.80 434.50V435.20M600.80 440.00V441.00" stroke="#d9c5e2" stroke-width="0.85"/>
<rect x="588.60" y="435.20" width="24.40" height="4.80" fill="#ffffff" stroke="#d9c5e2" stroke-width="0.85"/>
<path d="M588.60 438.10H613.00" stroke="#d9c5e2" stroke-width="1.45"/>
<path d="M633.20 431.60V436.70M633.20 440.50V442.00" stroke="#f2a6ad" stroke-width="0.85"/>
<rect x="621.00" y="436.70" width="24.40" height="3.80" fill="#ffffff" stroke="#f2a6ad" stroke-width="0.85"/>
<path d="M621.00 438.60H645.40" stroke="#f2a6ad" stroke-width="1.45"/>
<path d="M665.60 433.30V437.60M665.60 441.20V443.20" stroke="#a51d2d" stroke-width="0.85"/>
<rect x="653.40" y="437.60" width="24.40" height="3.60" fill="#ffffff" stroke="#a51d2d" stroke-width="0.85"/>
<path d="M653.40 439.00H677.80" stroke="#a51d2d" stroke-width="1.45"/>
<path d="M387.20 378.90V447.00H685.50" stroke="#4d4d4d" stroke-width="1.1" fill="none"/>
<path d="M406.40 447.00v2M438.80 447.00v2M471.20 447.00v2M503.60 447.00v2M536.00 447.00v2M568.40 447.00v2M600.80 447.00v2M633.20 447.00v2M665.60 447.00v2M387.20 386.70h-2M387.20 408.10h-2M387.20 429.00h-2" stroke="#4d4d4d" stroke-width="0.9" fill="none"/>
<text x="383.20" y="389.80" font-size="9.8" fill="#1f1a1c" stroke="#1f1a1c" stroke-width="0.15" text-anchor="end" >0.08</text>
<text x="383.20" y="411.20" font-size="9.8" fill="#1f1a1c" stroke="#1f1a1c" stroke-width="0.15" text-anchor="end" >0.04</text>
<text x="383.20" y="432.10" font-size="9.8" fill="#1f1a1c" stroke="#1f1a1c" stroke-width="0.15" text-anchor="end" >0.00</text>
<text x="406.40" y="459.20" font-size="9.6" fill="#1f1a1c" stroke="#1f1a1c" stroke-width="0.15" text-anchor="middle" >D6</text>
<text x="438.80" y="459.20" font-size="9.6" fill="#1f1a1c" stroke="#1f1a1c" stroke-width="0.15" text-anchor="middle" >D9</text>
<text x="471.20" y="459.20" font-size="9.6" fill="#1f1a1c" stroke="#1f1a1c" stroke-width="0.15" text-anchor="middle" >D8</text>
<text x="503.60" y="459.20" font-size="9.6" fill="#1f1a1c" stroke="#1f1a1c" stroke-width="0.15" text-anchor="middle" >D7</text>
<text x="536.00" y="459.20" font-size="9.6" fill="#1f1a1c" stroke="#1f1a1c" stroke-width="0.15" text-anchor="middle" >D5</text>
<text x="568.40" y="459.20" font-size="9.6" fill="#1f1a1c" stroke="#1f1a1c" stroke-width="0.15" text-anchor="middle" >D2</text>
<text x="600.80" y="459.20" font-size="9.6" fill="#1f1a1c" stroke="#1f1a1c" stroke-width="0.15" text-anchor="middle" >D4</text>
<text x="633.20" y="459.20" font-size="9.6" fill="#1f1a1c" stroke="#1f1a1c" stroke-width="0.15" text-anchor="middle" >D3</text>
<text x="665.60" y="459.20" font-size="9.6" fill="#1f1a1c" stroke="#1f1a1c" stroke-width="0.15" text-anchor="middle" >D1</text>
<rect x="387.20" y="469.60" width="297.30" height="14.80" fill="#d9d9d9" stroke="#444" stroke-width="0.9"/>
<path d="M387.20 484.40H684.50" stroke="#555" stroke-width="1.5"/>
<text x="535.85" y="480.40" font-size="9.8" fill="#9d98cb" stroke="#9d98cb" stroke-width="0.15" text-anchor="middle" >M3 - Eye development &amp; Regulation</text>
<path d="M387.20 510.30H685.50M387.20 530.20H685.50M387.20 490.30H685.50M387.20 550.10H685.50" stroke="#f0f0f0" stroke-width="0.6" fill="none"/>
<path d="M387.20 500.30H685.50M387.20 520.30H685.50M387.20 540.10H685.50M406.40 484.40V552.60M438.80 484.40V552.60M471.20 484.40V552.60M503.60 484.40V552.60M536.00 484.40V552.60M568.40 484.40V552.60M600.80 484.40V552.60M633.20 484.40V552.60M665.60 484.40V552.60" stroke="#e6e6e6" stroke-width="0.9" fill="none"/>
<path d="M406.40 487.70V499.30M406.40 507.80V519.40" stroke="#8a5f9b" stroke-width="0.85"/>
<rect x="394.20" y="499.30" width="24.40" height="8.50" fill="#ffffff" stroke="#8a5f9b" stroke-width="0.85"/>
<path d="M394.20 503.20H418.60" stroke="#8a5f9b" stroke-width="1.45"/>
<path d="M438.80 486.50V501.90M438.80 524.90V538.00" stroke="#d9c5e2" stroke-width="0.85"/>
<rect x="426.60" y="501.90" width="24.40" height="23.00" fill="#ffffff" stroke="#d9c5e2" stroke-width="0.85"/>
<path d="M426.60 516.10H451.00" stroke="#d9c5e2" stroke-width="1.45"/>
<path d="M471.20 504.10V511.10M471.20 522.00V536.50" stroke="#f2a6ad" stroke-width="0.85"/>
<rect x="459.00" y="511.10" width="24.40" height="10.90" fill="#ffffff" stroke="#f2a6ad" stroke-width="0.85"/>
<path d="M459.00 517.20H483.40" stroke="#f2a6ad" stroke-width="1.45"/>
<path d="M503.60 501.20V513.30M503.60 522.30V531.90" stroke="#5757a5" stroke-width="0.85"/>
<rect x="491.40" y="513.30" width="24.40" height="9.00" fill="#ffffff" stroke="#5757a5" stroke-width="0.85"/>
<path d="M491.40 518.30H515.80" stroke="#5757a5" stroke-width="1.45"/>
<path d="M536.00 493.20V508.40M536.00 530.10V549.80" stroke="#6383b0" stroke-width="0.85"/>
<rect x="523.80" y="508.40" width="24.40" height="21.70" fill="#ffffff" stroke="#6383b0" stroke-width="0.85"/>
<path d="M523.80 520.90H548.20" stroke="#6383b0" stroke-width="1.45"/>
<path d="M568.40 501.70V514.90M568.40 525.80V534.90" stroke="#5eaad2" stroke-width="0.85"/>
<rect x="556.20" y="514.90" width="24.40" height="10.90" fill="#ffffff" stroke="#5eaad2" stroke-width="0.85"/>
<path d="M556.20 522.40H580.60" stroke="#5eaad2" stroke-width="1.45"/>
<path d="M600.80 511.30V518.10M600.80 529.40V533.00" stroke="#3a3867" stroke-width="0.85"/>
<rect x="588.60" y="518.10" width="24.40" height="11.30" fill="#ffffff" stroke="#3a3867" stroke-width="0.85"/>
<path d="M588.60 522.10H613.00" stroke="#3a3867" stroke-width="1.45"/>
<path d="M633.20 516.10V525.30M633.20 533.00V539.00" stroke="#a51d2d" stroke-width="0.85"/>
<rect x="621.00" y="525.30" width="24.40" height="7.70" fill="#ffffff" stroke="#a51d2d" stroke-width="0.85"/>
<path d="M621.00 530.10H645.40" stroke="#a51d2d" stroke-width="1.45"/>
<path d="M665.60 516.10V527.40M665.60 536.40V548.60" stroke="#d9515d" stroke-width="0.85"/>
<rect x="653.40" y="527.40" width="24.40" height="9.00" fill="#ffffff" stroke="#d9515d" stroke-width="0.85"/>
<path d="M653.40 532.30H677.80" stroke="#d9515d" stroke-width="1.45"/>
<path d="M387.20 484.40V552.60H685.50" stroke="#4d4d4d" stroke-width="1.1" fill="none"/>
<path d="M406.40 552.60v2M438.80 552.60v2M471.20 552.60v2M503.60 552.60v2M536.00 552.60v2M568.40 552.60v2M600.80 552.60v2M633.20 552.60v2M665.60 552.60v2M387.20 500.30h-2M387.20 520.30h-2M387.20 540.10h-2" stroke="#4d4d4d" stroke-width="0.9" fill="none"/>
<text x="383.20" y="503.40" font-size="9.8" fill="#1f1a1c" stroke="#1f1a1c" stroke-width="0.15" text-anchor="end" >0.04</text>
<text x="383.20" y="523.40" font-size="9.8" fill="#1f1a1c" stroke="#1f1a1c" stroke-width="0.15" text-anchor="end" >0.00</text>
<text x="383.20" y="543.20" font-size="9.8" fill="#1f1a1c" stroke="#1f1a1c" stroke-width="0.15" text-anchor="end" >−0.04</text>
<text x="406.40" y="564.60" font-size="9.6" fill="#1f1a1c" stroke="#1f1a1c" stroke-width="0.15" text-anchor="middle" >D5</text>
<text x="438.80" y="564.60" font-size="9.6" fill="#1f1a1c" stroke="#1f1a1c" stroke-width="0.15" text-anchor="middle" >D4</text>
<text x="471.20" y="564.60" font-size="9.6" fill="#1f1a1c" stroke="#1f1a1c" stroke-width="0.15" text-anchor="middle" >D3</text>
<text x="503.60" y="564.60" font-size="9.6" fill="#1f1a1c" stroke="#1f1a1c" stroke-width="0.15" text-anchor="middle" >D8</text>
<text x="536.00" y="564.60" font-size="9.6" fill="#1f1a1c" stroke="#1f1a1c" stroke-width="0.15" text-anchor="middle" >D7</text>
<text x="568.40" y="564.60" font-size="9.6" fill="#1f1a1c" stroke="#1f1a1c" stroke-width="0.15" text-anchor="middle" >D6</text>
<text x="600.80" y="564.60" font-size="9.6" fill="#1f1a1c" stroke="#1f1a1c" stroke-width="0.15" text-anchor="middle" >D9</text>
<text x="633.20" y="564.60" font-size="9.6" fill="#1f1a1c" stroke="#1f1a1c" stroke-width="0.15" text-anchor="middle" >D1</text>
<text x="665.60" y="564.60" font-size="9.6" fill="#1f1a1c" stroke="#1f1a1c" stroke-width="0.15" text-anchor="middle" >D2</text>
<rect x="387.20" y="577.60" width="297.30" height="14.80" fill="#d9d9d9" stroke="#444" stroke-width="0.9"/>
<path d="M387.20 592.40H684.50" stroke="#555" stroke-width="1.5"/>
<text x="535.85" y="588.40" font-size="9.8" fill="#e2a420" stroke="#e2a420" stroke-width="0.15" text-anchor="middle" >M4 - Photoreceptor cell development</text>
<path d="M387.20 620.30H685.50M387.20 639.00H685.50M387.20 601.50H685.50M387.20 657.70H685.50" stroke="#f0f0f0" stroke-width="0.6" fill="none"/>
<path d="M387.20 610.90H685.50M387.20 629.70H685.50M387.20 648.30H685.50M406.40 592.40V661.10M438.80 592.40V661.10M471.20 592.40V661.10M503.60 592.40V661.10M536.00 592.40V661.10M568.40 592.40V661.10M600.80 592.40V661.10M633.20 592.40V661.10M665.60 592.40V661.10" stroke="#e6e6e6" stroke-width="0.9" fill="none"/>
<path d="M406.40 597.70V628.30M406.40 650.40V657.90" stroke="#8a5f9b" stroke-width="0.85"/>
<rect x="394.20" y="628.30" width="24.40" height="22.10" fill="#ffffff" stroke="#8a5f9b" stroke-width="0.85"/>
<path d="M394.20 640.80H418.60" stroke="#8a5f9b" stroke-width="1.45"/>
<path d="M438.80 603.60V630.50M438.80 651.50V657.90" stroke="#5eaad2" stroke-width="0.85"/>
<rect x="426.60" y="630.50" width="24.40" height="21.00" fill="#ffffff" stroke="#5eaad2" stroke-width="0.85"/>
<path d="M426.60 643.20H451.00" stroke="#5eaad2" stroke-width="1.45"/>
<path d="M471.20 625.00V642.60M471.20 655.00V657.90" stroke="#6383b0" stroke-width="0.85"/>
<rect x="459.00" y="642.60" width="24.40" height="12.40" fill="#ffffff" stroke="#6383b0" stroke-width="0.85"/>
<path d="M459.00 652.20H483.40" stroke="#6383b0" stroke-width="1.45"/>
<path d="M503.60 642.10V648.50M503.60 655.00V657.00" stroke="#f2a6ad" stroke-width="0.85"/>
<rect x="491.40" y="648.50" width="24.40" height="6.50" fill="#ffffff" stroke="#f2a6ad" stroke-width="0.85"/>
<path d="M491.40 652.20H515.80" stroke="#f2a6ad" stroke-width="1.45"/>
<path d="M536.00 651.50V652.00M536.00 655.40V656.00" stroke="#d9c5e2" stroke-width="0.85"/>
<rect x="523.80" y="652.00" width="24.40" height="3.40" fill="#ffffff" stroke="#d9c5e2" stroke-width="0.85"/>
<path d="M523.80 654.00H548.20" stroke="#d9c5e2" stroke-width="1.45"/>
<path d="M568.40 652.50V653.00M568.40 655.40V656.00" stroke="#3a3867" stroke-width="0.85"/>
<rect x="556.20" y="653.00" width="24.40" height="2.40" fill="#ffffff" stroke="#3a3867" stroke-width="0.85"/>
<path d="M556.20 654.50H580.60" stroke="#3a3867" stroke-width="1.45"/>
<path d="M600.80 643.80V651.00M600.80 656.60V657.50" stroke="#d9515d" stroke-width="0.85"/>
<rect x="588.60" y="651.00" width="24.40" height="5.60" fill="#ffffff" stroke="#d9515d" stroke-width="0.85"/>
<path d="M588.60 654.40H613.00" stroke="#d9515d" stroke-width="1.45"/>
<path d="M633.20 648.20V652.30M633.20 656.80V657.50" stroke="#a51d2d" stroke-width="0.85"/>
<rect x="621.00" y="652.30" width="24.40" height="4.50" fill="#ffffff" stroke="#a51d2d" stroke-width="0.85"/>
<path d="M621.00 655.40H645.40" stroke="#a51d2d" stroke-width="1.45"/>
<path d="M665.60 651.00V653.50M665.60 657.00V657.80" stroke="#5757a5" stroke-width="0.85"/>
<rect x="653.40" y="653.50" width="24.40" height="3.50" fill="#ffffff" stroke="#5757a5" stroke-width="0.85"/>
<path d="M653.40 655.90H677.80" stroke="#5757a5" stroke-width="1.45"/>
<path d="M387.20 592.40V661.10H685.50" stroke="#4d4d4d" stroke-width="1.1" fill="none"/>
<path d="M406.40 661.10v2M438.80 661.10v2M471.20 661.10v2M503.60 661.10v2M536.00 661.10v2M568.40 661.10v2M600.80 661.10v2M633.20 661.10v2M665.60 661.10v2M387.20 610.90h-2M387.20 629.70h-2M387.20 648.30h-2" stroke="#4d4d4d" stroke-width="0.9" fill="none"/>
<text x="383.20" y="614.00" font-size="9.8" fill="#1f1a1c" stroke="#1f1a1c" stroke-width="0.15" text-anchor="end" >0.08</text>
<text x="383.20" y="632.80" font-size="9.8" fill="#1f1a1c" stroke="#1f1a1c" stroke-width="0.15" text-anchor="end" >0.04</text>
<text x="383.20" y="651.40" font-size="9.8" fill="#1f1a1c" stroke="#1f1a1c" stroke-width="0.15" text-anchor="end" >0.00</text>
<text x="406.40" y="672.80" font-size="9.6" fill="#1f1a1c" stroke="#1f1a1c" stroke-width="0.15" text-anchor="middle" >D5</text>
<text x="438.80" y="672.80" font-size="9.6" fill="#1f1a1c" stroke="#1f1a1c" stroke-width="0.15" text-anchor="middle" >D6</text>
<text x="471.20" y="672.80" font-size="9.6" fill="#1f1a1c" stroke="#1f1a1c" stroke-width="0.15" text-anchor="middle" >D7</text>
<text x="503.60" y="672.80" font-size="9.6" fill="#1f1a1c" stroke="#1f1a1c" stroke-width="0.15" text-anchor="middle" >D3</text>
<text x="536.00" y="672.80" font-size="9.6" fill="#1f1a1c" stroke="#1f1a1c" stroke-width="0.15" text-anchor="middle" >D4</text>
<text x="568.40" y="672.80" font-size="9.6" fill="#1f1a1c" stroke="#1f1a1c" stroke-width="0.15" text-anchor="middle" >D9</text>
<text x="600.80" y="672.80" font-size="9.6" fill="#1f1a1c" stroke="#1f1a1c" stroke-width="0.15" text-anchor="middle" >D2</text>
<text x="633.20" y="672.80" font-size="9.6" fill="#1f1a1c" stroke="#1f1a1c" stroke-width="0.15" text-anchor="middle" >D1</text>
<text x="665.60" y="672.80" font-size="9.6" fill="#1f1a1c" stroke="#1f1a1c" stroke-width="0.15" text-anchor="middle" >D8</text>
<text x="536.00" y="686.20" font-size="9.6" fill="#1f1a1c" stroke="#1f1a1c" stroke-width="0.15" text-anchor="middle" >Domain</text>
<text x="357.30" y="459.70" font-size="9.6" fill="#1f1a1c" stroke="#1f1a1c" stroke-width="0.15" text-anchor="middle" transform="rotate(-90 357.30 459.70)" >Eigengene score</text>
</svg></body></html>
